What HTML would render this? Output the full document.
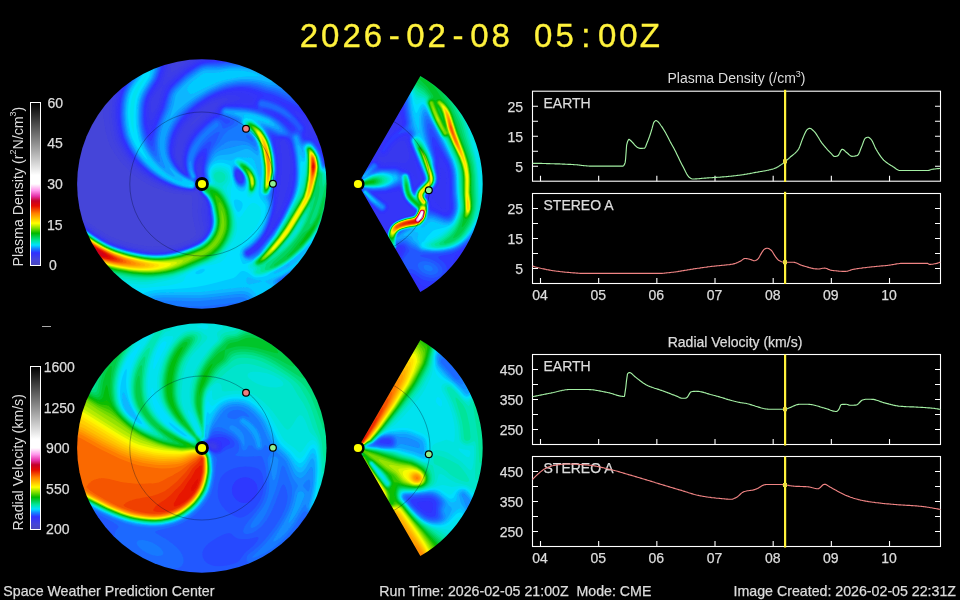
<!DOCTYPE html>
<html><head><meta charset="utf-8"><title>WSA-Enlil</title>
<style>html,body{margin:0;padding:0;background:#000;}svg{display:block;font-family:"Liberation Sans", sans-serif;}</style></head>
<body>
<svg width="960" height="600" viewBox="0 0 960 600">
<rect width="960" height="600" fill="#000"/>
<defs><filter id="sm" x="-5%" y="-5%" width="110%" height="110%"><feGaussianBlur stdDeviation="0.55"/></filter><clipPath id="kd"><circle cx="201.8" cy="184.0" r="124.7"/></clipPath><clipPath id="kv"><circle cx="201.8" cy="448.0" r="124.7"/></clipPath><clipPath id="wd"><path d="M361.30 178.28L420.35 76.01A124.7 124.7 0 0 1 420.35 291.99L361.30 189.72A6.6 6.6 0 0 0 361.30 178.28z"/></clipPath><clipPath id="wv"><path d="M361.30 442.28L420.35 340.01A124.7 124.7 0 0 1 420.35 555.99L361.30 453.72A6.6 6.6 0 0 0 361.30 442.28z"/></clipPath></defs>
<g clip-path="url(#kd)"><g filter="url(#sm)"><rect x="72" y="54" width="259" height="259" fill="#4a46c0"/><path fill="#4946c4" d="M75.1 57.3l253 0 0 253-253 0z"/><path fill="#4846c8" d="M75.1 57.3l253 0 0 253-253 0z"/><path fill="#4846cd" d="M75.1 57.3l253 0 0 253-253 0z"/><path fill="#4746d1" d="M75.1 57.3l253 0 0 253-253 0z"/><path fill="#4646d5" d="M75.1 57.3l253 0 0 253-253 0z"/><path fill="#4545d9" d="M75.1 57.3l253 0 0 253-253 0z"/><path fill="#4242de" d="M126.7 57.3l164.1 0 5.6 5 5.7 5.9 5 6 4.9 6.6 11.8 21.5 1.1 3 .6 3 .1 9 1 1.9 1.5 .8 0 153.5-13 0-5.5 .8-3 1-4 2.1-3.6 2.4-1.2 1.5-.3 1 .2 1 3.7 7.5 3.5 10 1.1 4.5 .5 5-231.4 0 0-90.8 5.5-.1 3 .7 2.5 .9 3 1.7 8.4 6.1 7.1 4.5 5.5 3 7.2 3 7.8 2.5 8.2 2 7.5 1.5 6.8 1 6.5 .4 8.5-.2 6.5-.7 5.3-1 7-2 8.3-3 4.2-2.5 1.4-1.5 .6-1.5 0-2.5-2.4-10.5-1.1-7-.4-8 .5-9-.5-1.5-.7-.5-1.8-.5-9.9-.8-6-.8-9-2.2-5.5-1.8-6.5-2.7-5-2.5-5-2.9-6-4.2-5-4-4.5-4.2-4.7-4.9-4.1-5-3.9-5.5-3.5-6-1.9-4-1.8-5.5-1.5-6.5-1.3-7-.7-6.5-.2-4.5 .3-7 1.5-11.5 2.6-9.5 3.4-7.5 5.6-8.5z"/><path fill="#4040e2" d="M133 57.3l38.2 0 2.4 6.8 1 1.3 1 .3 1.5-.3 2.5-1.1 10.9-7 89.6 0 6.5 4.3 8 7 7.7 8.2 6.8 8.5 7.6 13 2.9 6.5 1.1 6.5-.6 8 .5 3.1 1.2 1.9 1.8 1.7 2.5 1.3 2 .3 0 140.2-11 .1-3 .5-3 .9-4.5 2.1-7 4.4-4.4 3-1.8 2-.3 1 .3 1.5 4 6.5 3 7.5 2 7 .8 6-228.1 0 0-88.1 5-.1 5 1.4 2.5 1.4 8.1 5.9 7.8 5 6.7 3.5 6 2.5 7.9 2.5 10.1 2.5 7.9 1.5 7 .9 7.5 .3 8.5-.5 7.9-1.2 7.5-2 9.6-3.4 6-3 2-1.6 1.4-1.5 1.1-2 .4-1.5 .1-3.5-2.3-9.5-.8-6.5 0-5 .9-9-.8-3.4-1.5-3.2-1-.3-3.5 .4-9.5-.6-5.5-.7-5.5-1.3-5.5-1.6-6.5-2.5-6.5-3.1-6-3.4-5-3.4-5.5-4.4-4.5-4.1-5.1-5.4-4-5-3.8-5.5-3.1-5.5-2.4-5-1.5-5-1.5-6.5-1-6.5-.7-7.5 .3-11.5 1.6-10 2.8-9 3.6-7 4.7-7z"/><path fill="#3d3de7" d="M135.8 57.3l32.7 0 1.5 5 .6 8 .5 1.1 1 .5 1.5-.3 2-1 13-9.1 7-4.2 77.3 0 5.2 2.3 3 1.7 8.5 6.5 5.4 5 5.1 5.4 5.2 6.1 2.5 3.5 6.5 11 1.9 4 1.1 3 1.1 6.5-.2 3-1.1 6 .5 3 1.7 2.5 2.8 2.5 3 1.6 3 .7 0 132.9-9.5 .2-3 .6-3 1-6 3.3-11.5 7.5-2.9 2.2-1.1 1.5-.3 1 .4 1.5 4.3 6.5 2.8 6.5 2.6 8.5 .7 5.5-226.5 0 0-86.9 4.5-.2 2.5 .5 2.5 .9 2.5 1.4 9.4 6.8 7.2 4.5 5.8 3 7.3 3 9.8 3 8.7 2 9.3 1.6 7 .7 9.5 0 10-1.2 8.5-2.1 10.2-3.5 6.4-3 3.4-2.5 2.5-3 1.6-4 .2-4-1.9-9-.5-5 .1-4 1.3-7-.8-2.5-2.8-5-1.7-3.8-1-.4-2.5 1-2 .3-5-.2-6.5-.7-6.5-1.3-7-2.1-6-2.4-6-2.9-6-3.4-5-3.5-5.5-4.4-4.6-4.2-4.9-5.3-3.7-4.7-3.7-5.5-3.2-5.5-2.5-5.5-1.5-5-1.3-6-1-6.5-.6-7 .3-11.5 1.6-9.5 2.8-9 3.1-6 3.9-6 10.6-13.5zM203.1 113.6l-1.2 .2-1.8 1-4.3 3.5-4.4 5-1.6 3 .3 .2 1.5-.9 6.3-5.8 4.5-4.5 .7-1z"/><path fill="#3b3beb" d="M137.7 57.3l28.9 0 1.2 3.5 .5 3.5-1 11.5 .3 1.1 1 .6 2-.6 2-1.3 10.5-8 8.5-5.9 4.5-2.6 4.3-1.8 66.3 0 5.9 2.2 5.5 2.5 8 5.5 5 4.3 6 6 6.7 7.5 3.5 5 6.3 11 1.3 3 1.1 4 .6 3 .1 2.5-.5 3-1.8 5.5 0 2 .5 1.5 2.2 3 4.1 3.5 3.4 1.8 3.5 .8 0 126.8-8.5 .4-3 .8-3 1.2-5 2.8-17.5 11.9-1.5 1.6-.5 1.4 .4 1.5 4.7 6.5 2.7 6 2.7 8.5 .8 6-225.3 0 0-86.1 2.5-.2 2.5 .1 4.5 1.4 11.9 8.3 6.4 4 6.8 3.5 7.4 3 8.5 2.6 10 2.3 9 1.6 8 .7 9.5-.1 8.6-1.1 8.4-2 11.5-4 6.4-3 3.6-2.6 3.1-3.9 1.9-4.7 .4-4.8-1.5-12 .5-7.5-.2-3-.7-2.5-4.4-6.5-1.6-4.3-.5-.4-3.5 1.8-2.5 .4-6.5-.4-8-1.3-5.5-1.5-7-2.5-6.5-2.9-6.5-3.7-5-3.3-5.5-4.3-5-4.6-4.3-4.5-4.5-5.5-3.4-5-3.5-6-2.7-6-1.5-5-1.3-6-1-6.5-.5-7 .4-11 1.5-9.5 2.5-8 3.1-6 5-7.5 9.4-12zM217.9 102.3l-2.3 0-4 1.5-4.4 2.5-8.2 5.5-4.8 4-4.1 4.2-3.5 4.3-3 4.2-3 5.4-2 4.7-2.5 10.7-.2 4 .5 3.5 1.2 3.3 2 2.7 .5 .1 .5-1.1 1.1-9.5 1.6-7.5 2.5-6 1.5-3 4.7-6 6.6-6.9 9.6-8.6 6.1-4.5 3.5-5.5 .5-1.5z"/><path fill="#3939ef" d="M139.2 57.3l25.9 0 1.3 3.5 .4 3.5-.4 4-3.9 17-.5 1-4.4 4.6-3 3.8-2 3.4-1.5 3.9-.6 3.3 0 4 .6 2.5 1 1.2 1-.2 1.5-1.5 3.2-6 1.7-5.5 2.9-13 .6-1 19.1-15.6 9.5-6.8 4-2.4 3-1.5 4-1.3 4.2-.9 53.8 0 7.5 2.3 6 2.4 4.5 2.2 4.5 3.1 4.9 4 6.9 6.5 5.6 6 3 3.5 3.7 5.5 3.4 5.9 2.2 4.6 1.5 4.5 .8 4 .1 2-.5 2.5-3.4 7 0 1.5 .6 2 1.3 2 1.7 2 5.2 4.4 4 2.2 4 .8 0 120.6-7 .6-3 1-3.5 1.6-4.5 2.8-20.5 14-1.5 1.7-.4 1.3 .4 1.5 4.9 6.5 2.8 6 2.7 8.5 .9 6-224.3 0 0-85.4 4.5-.2 4.5 1.2 2 1.2 10 7.2 6.4 4 6.8 3.5 7.4 3 7.9 2.5 11 2.6 8 1.4 9.5 .8 10.5-.2 8.5-1.2 7.5-1.9 11.5-4 6.3-3 4.2-3.1 3.1-3.9 1.4-2.8 1-2.8 .5-2.9 .1-4-1-9 0-6.5-.5-3.5-1.4-3.5-4.5-6-.8-2-.9-3.8-.5-.6-3 2.4-2.5 1-5.5-.2-6.5-.9-6.5-1.5-7.5-2.6-7-3.1-6-3.4-5.5-3.6-5.5-4.2-4.4-4-4.8-5-4.5-5.5-3.5-5-3.2-5.5-2.8-6-1.5-4.5-1.5-6.5-1-7-.5-6-.1-5.5 .4-6 1.5-9.5 2.5-8 3.1-6 4.7-7 10-13zM228.1 98.8l-1.1-.5-2.4-.3-5.5 .8-5.5 1.9-5.8 3.1-8.2 5.5-5.5 4.4-6.1 6.1-4.7 6-3.2 5.2-2.7 5.8-1.3 4.4-1.6 8.6 .1 4.5 1 4.5 2.4 5 2.6 3.1 1 .5 .6-.6 .3-11 1.7-8.5 2.2-6 2.9-5.5 4.8-6 6.2-6.5 8.8-7.7 5.5-3.8 4-5.5 2-2.2 3-2.1 4.1-1.7 .6-.5zM199.6 178.9l-1 1.9 0 1.3 .5 .8 .5-.5 .6-1.6 0-1.5z"/><path fill="#3636f4" d="M140.6 57.3l23.1 0 .9 2 .7 2.5 .2 3-.5 3.5-1.6 6.5-1.8 5-1.8 4-7.7 11.6-1.4 2.9-1.4 4-.7 4.5 0 5.5 .6 5 .8 2 .6 .5 1 0 1.5-1.5 3.7-6.5 2.8-6.5 4.1-14 1.8-3.5 1.8-2.5 4.8-4.7 8.5-7.5 9.5-7.2 8-4.8 4-1.5 4-.9 13.3-1.4 33.9 0 7.3 1.6 7 2.1 6 2.3 4.5 2.3 8.9 6.7 6 5.5 5.6 5.9 3.6 4.1 3.7 5.5 5 9.5 1.5 4 1.4 5.5-.1 2.5-1 2.5-1.6 2.1-2.7 2.4-.4 1 .3 2 1.8 5.1 1 1.8 1.4 1.6 7.6 6.1 4 2.1 4 .8 0 112.9-3 .4-2.5 .8-6.5 3.3-26.4 18.1-1.9 1.5-1.1 1.5-.2 1 .3 1.5 5.2 6.5 2.5 5 3.1 9.5 .9 6-223.4 0 0-84.9 4.5-.2 4.5 1.3 11.1 7.8 7.2 4.5 6.7 3.5 7.5 3 9.5 2.9 11 2.5 9 1.4 8 .6 10.5-.4 9.4-1.5 8.8-2.5 11.8-4.5 5-2.8 3.7-3.2 3.3-5 1.7-4.5 .6-3 .1-4-1.6-16.5-.9-3-1.4-2.8-4.5-5.7-1.2-4 .1-3.5 1.8-4.5 .4-2-1-8-.3-6.5-.5-1.5-.3-.2-.5 .2-.5 .5-1.1 3-.1 4.5 1.1 4 .2 1.5-1.1 4 .2 4.5-.8 2-1.3 1.5-2.1 1.4-3 .3-8-.9-8.5-2-8.5-3.1-8-3.9-7.5-4.7-8-6.3-6.5-6.3-6.1-7.5-5.2-8-3.8-8-1.5-4.5-1.3-6-1.5-12-.1-4 .2-7 1.6-10.5 2.5-8 3-6 4.7-7 9.5-12.2zM239.1 97l-1.2-.7-2.8-.7-7.5-.4-7 1.3-7.5 2.8-7 3.9-9.5 6.7-6.6 5.9-5.4 6-4.5 6.4-3.5 7-1.6 5.1-1.7 9 .3 5.6 1.4 4.9 2.9 5.5 1.7 2.2 2 2 1.5 .6 .6-.8-.5-7 0-4 .6-5 1.4-5.5 1.2-3.5 2.5-5.5 3.7-5.3 5.4-6.2 5.6-5.4 6.6-5.6 5.4-3.6 3.5-5.4 2-2.1 3.5-1.8 7-1.1 6.3-2 1.9-1.5-.1-1zM283.1 139.9l-1 .2-1 .6-.8 1.6 1.8 15.5 .3 6.5-.2 6-1.3 12.5-4.6 29.5 .2 .5-.3 .5 .4 1 1.1-1.5 1.9-3.7 4.6-10.8 4-15 1.7-12 .1-11.5-1.5-10.5-1.2-4-2.1-4-.9-1z"/><path fill="#3434f8" d="M141.9 57.3l20.5 0 1.3 2.5 .7 3 0 2.5-.8 4-1.4 5-1.9 5-1.9 4-7.7 12-1.8 4-.9 3-.9 6.5 .2 9.5 1.2 5.5 .6 1.1 1 .7 1-.3 1.5-1.8 5.2-10.2 3.1-7.5 4-13.5 1.7-3.5 2-2.8 10.5-10.1 8.8-7.1 9.2-5.9 3.5-1.6 4-1.1 22-2.5 12.5-.4 6.5 .4 7 .9 7.5 1.5 6 1.8 6 2.3 5 2.4 9 6.6 6 5.5 6.3 6.6 2.5 3 3.7 5.5 2.9 5 2.1 4.5 1.3 4 1.4 5.5 0 1.5-.5 1.5-1.1 1.5-1.1 .9-3 .9-3.6-.3 3.9 8 .9 7.5 .9 1 4.4 2.2 3 2.2 12 12.3 0 97.4-27 20-13 8.7-1.4 1.2-1.2 1.5-.2 1.5 .3 1 5.4 6.5 2.6 5 3.2 9.5 .9 6-221.1 0-.1-27-.4-5-1-3.7 0-48.7 4.5-.3 2 .4 2.5 1 11.1 7.8 7.2 4.5 7.7 3.9 6.5 2.6 8.5 2.6 12 2.8 9 1.4 8 .6 10.5-.4 9.2-1.5 9-2.5 11.8-4.5 5.5-3 3.5-3.1 3.4-4.9 2.1-5 .7-4 .1-3.5-1.8-16-1-3.1-1.6-2.9-4.5-5.5-.6-1.5-.6-2.5 0-2 .4-2 1.9-4 .5-2-1-9 .6-9-.1-1.5-.5-1-1-.2-1.5 1.1-1.5 2.5-1 3.1-.3 3 .2 3 1.5 5.5-1 4 .2 4.5-1.1 2.5-2 1.7-2.5 .7-6.5-.6-6.5-1.2-8.5-2.7-10-4.5-8.5-5.1-8-6.3-6.8-6.5-6.5-8-5.1-8-3.8-8-1.4-4.5-1.2-5.5-.9-6-.6-7-.1-5.5 .4-6 1.7-10 2.3-7 3.1-6 4.4-6.4 9.5-12.4zM252.3 96.8l-1.7-1.1-4.5-1.9-3-.8-4-.6-4 .1-7 .7-5.5 1.1-8.5 3.2-8 4.3-10 7-8.5 7.8-3 3.2-3.1 4-4.4 7.5-2.9 7.5-1.7 8-.1 6 .4 3 .9 3 2.7 5.5 4.2 5.5 3 2 1 0 .3-.5-.8-7-.1-5 .7-6 1.5-5.5 2.2-5.5 2.7-5 3.8-5 4.7-5.1 5.5-5.2 5.5-4.6 5.6-3.6 .9-1.1 2.7-4.9 2.8-2.5 3.5-1.2 14.5-1 9 0 1.4-.3 1.3-1 .8-2 .1-1.5zM283.6 138.9l-2 0-1.9 .9-1.5 1.5-.6 1.5 .1 3.5 1.4 9 .6 8 .1 7.5-.5 6.5-2.8 24-1.1 7-1.6 7-4.1 13.5-.1 1.2 1.1-.7 1.2-1.5 4.4-7 3.8-7.3 6-13.2 3.2-9 2.2-10.5 .8-7.5 0-6.5-.5-8.5-1.2-8-1.1-4.5-1.4-3-2.4-3zM302.4 117.8l-.4 0 .1 .3zM238.1 172.2l-.8 .6-.4 1 .3 3 1.4 2.6 1 .7 1 .2 .8-.5 .5-1 .1-1.5-.3-1.5-1.6-2.6-1-.7z"/><path fill="#3131fd" d="M143.1 57.3l18.1 0 1.6 3 .6 3-.1 2.5-1 4.5-2.6 7.5-2.1 4.5-8 12.6-1.9 4.4-1 3.5-.8 7 .2 11.1 .6 3.9 .9 3 1 1.8 1 .7 1-.1 1-.9 2.7-5 7.3-17 4.4-14.5 1.6-3.3 1.9-2.7 8.5-8.5 8.6-7.2 10.5-7 3.5-1.7 3-.9 4.5-.7 10.5-.8 8-1 12.5-.4 7.5 .4 6 .8 6 1.2 7 2 9.5 3.9 4.5 2.8 4.7 3.6 6.1 5.5 8.7 9.2 4 5.8 3.5 6.4 2 5.1 1.8 7.5-.3 2.2-1.5 1.4-2 .1-9.5-5.6-3-.8-.8 .7 2.3 3.4 7.5 9 2.1 3.1 .6 3-1.1 5 .4 2 1.5 1.2 4 .9 2 .8 3.3 2.6 2.9 3.5 2.8 4.3 2.4 4.7 2.4 6.5 1.7 1.5 0 81.2-5.1 6.8-6.7 6.5-15.3 12-14.3 9.5-1.6 1.5-.7 1-.2 1.5 .6 1.5 5.2 6 2.8 5 3.1 9 .8 3.5 .2 3-219 0-.3-31.5-.9-6.5-.6-1.8-1-1.6 0-42.6 4.5-.3 4 1.2 11 7.7 7.9 4.9 6.8 3.5 8.8 3.4 9 2.6 11 2.5 10 1.4 8.5 .4 9-.5 10-1.8 11.2-3.5 9.8-4 4.8-3 3.6-3.5 3.1-4.8 1.9-5.2 .6-3.5 0-4-2-15.2-1.1-3.3-1.8-3-4.3-5-.9-2-.3-2 .3-3.5 2.5-5 .4-1.5-1-9.5 1.3-10.5-.1-2.5-.5-1.2-.5-.4-1 0-2.5 2-2 3.4-1.2 3.7-.3 3 .2 3 1.6 6.5-.9 3.5 .3 4.5-.8 2.5-1.9 1.9-2 .7-5-.4-5.5-.9-9.5-2.6-9-3.9-9.5-5.5-8-6-7.2-6.8-6.7-8-5.1-8-4.1-8.5-1.4-4.5-1.4-6-.8-5.5-.6-7 0-5.5 .3-6 1.8-10 2.1-6.5 3.1-6 4.8-7 8.9-11.5zM256.8 94.8l-2.2-1.3-4.5-1.6-4-1-4-.5-6.5 .1-8.5 1.2-4 1.1-9.2 3.5-7.8 4.2-11 7.7-8.2 7.6-3.7 4-2.6 3.4-4.5 7.6-2.9 7.5-1.5 7.5-.2 7 .5 3 .9 3 3.2 6.3 4 5 4 3 1.5 .3 .3-.6-1.3-10 .1-4.5 .5-3.5 1.1-4.5 1.6-4.5 2-4.5 2.1-3.5 5.1-6.5 7-7.1 7.5-6.3 5.5-3.2 .9-1.4 1.7-4 1.5-2 2.4-1.7 2.5-.6 14-.2 11 .8 2-.2 1.2-1.1 3.2-7.5 0-1zM284.6 138.3l-2.5-.3-3.7 .8-2.4 1-.8 1.5 .1 2.5 2.5 15 .6 12-2.1 19.5-1.1 13-1 6-1.8 7.5-3.7 11-3.3 7-3 5-2.3 3-5.5 5.4 0 .5 .5-.1 1.7-1.3 .3-.6 .5-.1 7.5-7.8 4.6-5.5 5.2-7.5 4.6-8 6.6-13.3 3-6.9 2-6.2 1.7-8.1 .8-8.2 0-8.3-.8-9.5-1.2-7.8-1.8-6.2-1.1-2-1.3-1.5zM237.6 171.1l-.9 .7-.5 1.5 0 2 .4 2 1 2.2 1 1.2 1 .6 1.5 .1 1-.7 .6-1.4 .1-1.5-.4-2-.8-1.7-1.5-1.8-1.5-1.1zM254.1 248.6l0 .7 .4-.5z"/><path fill="#2d38ff" d="M144.3 57.3l15.6 0 1.8 3 .7 3 0 2-.7 3.5-2.9 8.5-2.1 4.5-8.2 13-1.9 4.5-1 4-.8 8 0 7.5 .3 4.5 1.6 7 1.4 3.6 1.5 1.9 1-.1 1.5-2.3 10.5-25.6 4.3-14.5 2.8-5 5.9-6.4 9.7-8.6 11.6-8 2.7-1.4 3-1.1 5-.9 11.5-.8 7.5-.9 12.5-.4 6 .3 7 .9 6 1.2 6 1.6 5.5 1.9 5 2.2 4.5 2.9 4.5 3.5 6 5.3 5.5 5.7 3.8 4.5 2.9 4.5 3.2 6.5 1.8 5.5 .4 2-.2 .5 .3 .5-.3 .5 .2 1-1.6 1.3-3.5-1.1-9.5-5-7.5-2.9-5.5-2.5-2-.4-1-.6-.7 .7 2.2 .9 7 4.7 9 8.7 6.7 7.7 2.8 3.6 .8 1.9-.1 2-1.3 4 .1 2.4 .5 1.3 1.5 1.3 4.5 .6 2 .6 2 1.1 1.3 1.2 2.7 3.5 2.8 4.5 2.1 4.5 2.5 7 1.1 1.2 2 .6 0 76.5-5.7 8.7-3.4 4-4.1 4-11.8 9.7-7 5.1-10.4 6.7-2.3 2.5-.3 1.5 .6 1.5 5.4 6 2.9 5 3.3 9.5 .9 6-217.3 0 0-24-.3-9-.5-4-.8-3.5-1.1-2.5-1.1-1.4 0-39.3 4.5-.2 4 1.2 11 7.7 7.2 4.5 7.3 3.8 8 3.2 10.4 3 11.4 2.5 10.7 1.4 7 .3 9-.5 9.5-1.7 10-3 6.5-2.4 4.8-2.1 5-3 3.7-3.5 3.5-5.3 2-5.2 .6-4 0-3.5-1.4-12-.7-3.2-1.2-3.3-1.8-3.1-4.6-5.4-1-3.5 .4-3.5 2.8-5 .5-1.5-1-9.5 .3-3.5 1.7-9.5-.1-2.9-.7-1.6-.8-.4-1.5 .4-2.5 2.2-2 2.9-2 4.9-.5 2.5-.1 4 .4 2.5 1.6 5.5-.9 3.5 .4 4-.6 2.5-1.3 1.7-2 1-2.5 0-5-.6-9.5-2.2-9.5-3.7-9.5-5.2-9-6.5-8-7.3-6.5-7.7-5.2-8-4.6-9.5-1.4-4.5-1.2-5.5-.9-6-.5-6.5 .3-11 1.6-10 2.2-6.5 3.1-6 4.7-7 9.3-12zM262.7 94.8l-2.6-1.7-4.5-1.9-5.5-1.6-4-.7-7.5-.3-11 1.7-7 2.1-6.5 2.6-4.5 2.2-10 6.4-8.5 6.7-7.6 7.5-4.9 6.5-2.6 4.5-1.9 3.9-2.4 7.6-.8 4.5-.4 4 .2 4 .7 3.5 1.4 4 1.5 3 1.9 3 2.8 3.5 2.6 2.4 2.5 1.7 2 .9 .9-.5-.1-1.5-1.5-7.5 0-7 .6-3.5 1.1-4.5 1.7-4.5 1.9-4 2.1-3.5 2.8-3.7 7.7-8.3 8.8-7.6 6-3 .8-1.4 1.4-4.5 1.8-2.4 2-1.2 2.5-.4 14.5 .2 13.5 1.2 .9-.4 .3-.5 .6-3.5 1.1-2.5 2.1-2.1 3.8-1.9 .1-.5zM273.1 98.6l-.4 .2 .4 .3 .4-.3zM273.8 98.8l.8 .9 .5-.3 .5 .6 .4-.2-.4-.6zM237.1 170.3l-1 1-.5 1.9 0 2.1 .6 2.5 1 2 1.4 1.8 1.5 .8 1.5-.1 1.1-1 .6-2 0-2-.6-2-1.1-2-1.5-1.7-1.5-1.1zM273.6 113.8l0 .5 11 8.1 6 5.4 1.1 0-.2-1-1.8-2.5-4.6-4.6-6-4-3.1-1.4zM285.7 137.8l-3.1-.6-5 .3-3-.3-1 .4-.3 .7 .3 3.5 2.8 14 .8 7.5 .2 7-.7 7.5-1.9 13-.3 12-1.4 8-1.9 7.5-2.2 6.5-1.9 4.5-2.5 5-3.7 5.5-3.8 4.2-3.5 3.3-6.5 4.6-.5 1.4 1 1.1 1-.1 3-1.5 6-4.3 5.1-5.2 8.9-11 4.7-7 4.8-8.3 7-14.2 3-7.5 2-7.7 1.3-8.8 .3-8.5-.6-9.5-1.5-10.5-1.9-7.5-.9-2-1.2-1.4z"/><path fill="#2849ff" d="M145.6 57.3l13 0 2 2.7 .9 3.3-.1 2-.9 4.5-2.5 7-2.1 4.5-6.5 10-2.2 4-1.9 5-1 5-.5 5-.1 7.5 .2 4.5 .7 5 2.7 9.5 1.8 3.2 1.5 1 1-.7 .7-1.5 4.3-13.5 7.3-18 3.6-12.5 2.6-5.4 2-2.5 4-4.1 9.5-8.5 10.8-7.5 2.7-1.6 3-1.2 6.5-1.2 11-.5 9-1.1 9.5-.3 7 .4 6 .7 5.5 1 6 1.5 5.5 1.9 6 2.6 7 4.7 4.3 3.6 5.7 5.5 4.5 5 3.9 5.5 2.6 5.5 1.5 4.5-.3 .5 .3 .5 .1 1.5-2.1 1.6-.5-.4-1 0-1.5-.8-.5 .1-.5-.5-.5 0-14.5-7-6.5-2.8-5.5-1.9-5-1.1-9.5-3.6-6.5-1.7-7.5-.6-7 .5-10 2-8 3-9.5 4.6-9 5.9-6.7 5.2-9.4 9-5.1 7-4.2 8-2.3 7-1.2 8.5 .2 5 .8 4 1.8 4.5 1.7 3 3.2 4.5 3.5 3.5 3.7 2.6 2 .9 1 0 .4-1-1.5-6.5-.6-5.5 .4-5.5 1.2-5.5 2.5-6.5 3-5.5 4.2-5.5 4.4-4.9 5.5-5.2 6-4.9 2-1 3.5-.9 1-.6 .4-1 .2-3.5 .6-2 1.3-2 1.5-1.1 2.5-.7 13.5 .4 6.5 .5 9 1.4 2.5 .1 .7-.6-.8-3.5 .3-2.5 1.3-2 1-.8 1.5-.5 3.5 .4 7.5 2.2 6.5 2.9 4.5 2.6 3.5 2.5 4 3.6 5.3 5.6 6.2 7.8 .5 1.2-.2 2-1.5 3.5 .6 3.5 .8 2 .8 .8 1 .4 4 .2 2 .3 2 1 1.5 1.2 3.5 4.7 2.5 4.4 1.9 4.5 1.8 5.5 .8 1.5 1 .6 2.5 .5 0 73.2-3.6 6.2-3.1 4.5-3.3 4-4.5 4.7-11.7 9.8-7 5-9.6 6-1.9 1.5-1.1 1.5-.3 1.5 .5 1.5 6.1 6.5 2.6 4.5 3.3 9.5 1 6-215.7 0 0-25-.5-9.5-.5-4-1-3.5-1.2-2.7-1.5-1.9 0-36.8 2.5-.3 2 .1 4 1.2 10.5 7.4 7.9 5 7.6 3.9 6.5 2.6 11.5 3.4 12 2.6 9 1.2 8 .3 9-.5 10.5-1.9 11.4-3.6 9.6-4 4.9-3 3.6-3.5 3.5-5.3 2-5.2 .6-4 .1-3.5-2.2-14.9-1.3-3.6-2.1-3.5-4.4-5-1-3.5 0-2 .6-2 3-4.5 .5-1.5-.9-7-.1-3 .4-3.5 1.7-7 .7-4.5 .2-4-.3-1.5-.4-.5-1.1-.1-1.5 .6-1.5 1.1-2.4 2.4-2.9 4.5-1.8 4.5-.6 4 .1 3.5 .4 2.5 1.7 5-.2 1.5-.8 2.5 .5 3.5-.3 2.5-1.2 1.8-1.5 .9-1.5 .3-3.5-.3-9.5-1.8-10-3.6-9-4.6-9.8-6.7-8.2-7.3-3.9-4.2-3.6-4.5-5.6-8.5-4.5-9.5-1.4-5-1.3-6-1.1-11.5 .3-10.5 .6-5 1.1-5 2.2-6.5 3.4-6.5 4.2-6 8.9-11.5 3.5-6zM236.6 169.7l-1 1.2-.5 2.4 .2 2.5 .6 2.5 1.2 2.3 1.5 1.7 1.5 .8 1.5 0 1.2-.8 .9-2 .1-2.5-.7-2.5-1.5-2.6-2-2-1.5-1zM262.1 109.8l.2 .5 1.5 1 7.8 3.9 7.5 4.8 4.5 3.7 5.3 5.6 2.2 1.9 2 .2 2.1-1.1 .3-1-.5-1.5-1.3-2-6.1-6.1-6-4.2-5-2.7-5.5-2.1-5.5-1.2-2-.1zM287.6 137.5l-4-.9-6-.4-5-1.5-.6 .1-.5 .5 .1 2.5 2.3 9 1.8 9 1 12 0 3-.7 7-2.4 13.5 .2 10.5-1.1 8-1.6 6.5-2 6.5-1.8 4.5-2.4 5-3.4 5.5-4.7 5.5-5.2 4.6-5.4 3.9-.4 1 .1 1 1.2 1.3 1.5 .1 5.5-2.8 3.5-2.6 4.4-4.5 9.8-12 5.3-7.8 4.5-7.8 6.5-13 3.5-8.4 2-7.1 1.4-8.4 .4-8.5-.3-8.5-1-9-2-10.5-1-3-1-1.9-1-1.2z"/><path fill="#2259ff" d="M147 57.3l10.2 0 1.4 1.3 1.1 1.7 .9 3.5-.7 4.5-2.3 7.1-2.5 5.4-6.4 10-2.7 5-1.8 5-1.1 6-.3 13 .4 5 .7 4.5 1.7 6.8 1.6 4.2 2.4 4.3 2 1.9 1-.3 .5-1.1 1.8-10.3 2.3-8 7-17 1.6-5 2.6-9.5 2.2-4.8 2-2.7 3.5-3.6 9.8-8.9 9.1-6.5 6.1-3.4 3.5-1 3.5-.5 10.5-.4 8.5-1 9.5-.4 6 .1 7 .7 6 1 5.5 1.4 5.5 1.8 5.5 2.2 2.5 1.2 4 2.8 6 4.9 4.7 4.6 5.3 6 2.3 3.5 1.9 4 0 .5 .3 .5 .6 2.5-.5 .5 .4 .5-1.5 1.6-.5 .1-3.5-.8-3.5-1.3-14.5-6.5-5-1.6-5-1.2-9-3.2-7.5-1.7-7-.5-8.5 .8-10 2.2-9 3.6-9.5 4.9-9.5 6.5-6.5 5.4-6.5 6.1-2.5 2.8-5 7.3-3.7 7.5-2.1 7-1 8 .3 5 .9 4 1.5 4 2.6 4.5 4 5 2.7 2.5 5.3 3.5 1.5 .5 1 0 .4-1-1.8-6.5-.5-3.5 .1-6.5 1.6-7.5 3.2-7.5 3.5-5.6 5.7-6.9 6.3-6.1 7-5.7 3-.8 3.5 .4 1.5 .9 2.5 2.6 1.5 .7 1.5-.1 2-1.1 .5-1.3-.7-1-1.6-1-4.7-1.5-1.2-1.5-.7-2-.1-2.5 1-2.5 1.8-1.5 2.2-.6 14.5 .6 8.5 1 9.5 2 7 2.7 6.5 3 7.5 5.1 5 4.7 6 7.1 1 .1 5.5-1.6 1.5 .1 1.7 2.8 1.3 4 1.5 1.9 1.5 .4 3.5-.2 2.5 .4 2.5 1.5 1.8 2 2.7 4 2.4 4.5 3.6 10.1 1.5 1.3 3 .3 0 70.5-3.8 6.8-3.7 5.5-4 5-4.4 4.5-5.6 5-6 4.8-6 4.3-10.5 6.5-1.7 1.4-1.2 1.5-.3 1.5 .5 1.5 6.2 6.5 3 4.9 3.2 9.1 .9 6-214 0-.1-25.5-.5-10-.8-4.5-1.1-3.5-1.5-3-1.6-1.7 0-34.9 4-.3 4 1.1 11.2 7.8 8 5 7.3 3.7 9 3.4 10 2.8 11 2.4 9 1.2 8 .3 9-.5 10.5-1.9 10.5-3.3 10.5-4.2 5-3.1 4-3.8 3.5-5.4 1.9-5.1 .7-4 0-3.5-2.1-14.5-1-3.1-1.5-2.9-1.7-2.5-3.1-3-1-1.5-.8-3.5 .2-2 .5-1.5 3.1-4 .7-1.5 0-2-.9-6.5 .2-4 4-16 2.4-7 .3-1.5-.4-1.2-1.5-.1-2 1.1-5.5 4.8-3.9 4.9-2.9 5.5-1.2 4-.3 3.5 .2 3.5 .4 2.5 1.8 5-.1 1.2-1 2.8 .7 3 0 1.5-.4 1.5-.9 1.5-1.4 .9-1.5 .4-4.5-.5-5.5-1-5-1.4-5-1.8-5-2.3-5.5-2.9-10-6.7-8.2-7.2-3.8-4-3.7-4.5-3.2-4.5-3-5-4.4-9.5-1.5-5-1.1-5.5-.7-5.5-.5-7 .6-11 1.8-9.5 2.2-6.1 3.6-6.4 8.9-12.3 3.9-4.7 3.2-5.5zM236.6 168.9l-1.1 .9-.8 2.5 .1 3 .7 3 1.2 2.5 1.9 2.2 1.5 .8 1.8 0 1.3-1 .9-2 .1-2.5-.6-2.5-1.2-2.5-1.8-2.2-2-1.6zM289.1 136.3l-10.5-1-7.5-2.9-1 .2-.5 .7 .4 2.5 2.3 7 2 8.5 1.2 7 .6 8.5 0 4-.8 7.5-2.9 14.5 .6 9-.8 7-1.2 5.5-1.9 6.5-2.2 6-2.1 4.5-3.4 5.5-4 5-5.3 4.9-6.3 4.6-.5 1 0 1.5 .8 1.4 1 .6 1.5 .2 2.9-1.2 4.1-2.3 2.5-1.9 4.4-4.8 9.7-12 5.4-7.9 5-8.8 6-12 3.7-8.8 1.8-6 1.3-7.5 .6-7.5 0-7-.9-11.5-2-11-1.5-5.5-1.5-3.2zM259.3 101.8l1.3-1.2 1.5-.4 6 1.4 9 3.4 6.9 3.8 2.6 1.9 4 3.5 5.6 6.1 5 7 .3 1-.4 1.3-1.5 1.1-1-.1-1.1-2.8-3.9-4.5-6-5.1-8-5.1-8-3.5-4.5-1.2-6-1-1-.4-1-1-.5-1.2 0-1.5z"/><path fill="#1c69ff" d="M148.6 57.4l6.8-.1 2.1 1.5 1.1 1.5 .7 1.5 .3 2-1.2 6.5-3 8-8.4 13.5-2.4 5-1.8 6-.8 6.5-.2 8 .3 6 .8 6 1.5 6.5 1.9 5.5 2.7 5.5 2.6 3.4 2 1.3 .6-.2 .6-1.5 .6-10.5 1.9-9 2.6-7.5 6-14.5 3.2-12 1.9-4.5 1.7-2.5 3.4-3.7 9.5-8.8 8.9-6.5 6.6-3.8 3-1 3.5-.5 10-.3 9.5-1.1 9.5-.4 11.5 .7 6 .9 5.5 1.3 6.5 2 6.5 2.7 6 4 5.4 4.5 3 3 3.5 4 3.8 5.5-.1 .5 .5 .5-.1 .5 .5 .5 .2 1.5-.3 .5 .4 .5-.3 .7-1 .9-1-.2-.5 .2-3.5-.7-.5-.4-.5 0-12-4.8-10.5-2.8-9-3-7-1.4-7-.4-7 .6-8.5 1.7-5 1.5-8 3.4-8.1 4.2-10.4 7-6.5 5.4-5.6 5.1-3.4 3.6-3 3.9-2.5 4-3.6 7.5-2.2 7.5-.8 8 .3 5 1.2 5 1.8 4 2.8 4.5 4 4.7 3.5 3 4.5 2.8 2.5 1 .7 0 .6-.5 0-1-1.9-6-.7-4.5 0-4.5 .8-5 1.3-4.5 2.2-5 3.2-5.5 3.4-4.5 7.4-8 6-5.3 3.5-2.5 2.5-.3 2.2 1.1 1.5 2 1.3 4.2 1 .5 2.5-.6 4-1.9 2.8-1.7 1.4-1.5 .1-1.5-1.4-1.5-4.4-2.1-4-1.1-1-.6-1-1-.7-1.7 .1-2 .6-1.5 1.5-1.4 2-.5 18.5 1.1 7.5 1.2 8.5 2.3 9 3.7 5 2.9 3.5 2.5 3.5 3 4.5 5.2 1.6 2.5 .3 1-.3 1-.6 .5-1.5 .3-7-.9-5-2.3-3.5-1.3-1.5 .1-.5 .5 .1 1.6 3.1 8.5 2.2 8 1.3 7.5 .8 9 .1 5-.9 7.5-1.1 6.5-2.3 9 0 2 .8 5.5-.4 6-1.4 7-2.4 8-2.4 6-2.6 5-3 4.5-3.4 4-5 4.6-5.6 3.9-1.1 1.5-.2 2 .7 1.5 1.2 1 2 .4 3.5-1.2 3-1.4 3.5-2.7 14-17.1 5.5-8.3 4.5-7.8 5.8-11.4 4.2-9.5 1.7-5.5 1.4-6.5 .7-6.5 .3-7.5-.5-9-.8-7.5-1.8-10-1.9-7 .1-2 .8-1 1.8-1 1.7-.3 1.5 .2 1.8 1.6 1.7 4.5 1.5 1.9 1.5 .4 3.5-.5 2.5 .2 2.5 1.4 1.9 2.1 2.7 4 2.4 4.5 3.6 10.5 1.4 1.1 3.5 .1 0 68.1-3.9 7.2-3.6 5.5-3.8 5-5 5.5-5.7 5.2-6.5 5.2-7 4.9-9.5 5.8-2.3 1.9-1 1.5 0 1.5 .7 1.5 6.1 6 3 4.6 3.2 8.9 .8 3.5 .3 3-212.4 0-.1-26-.6-10-.8-4.5-1.3-4-1.6-2.9-2-2.2 0-33.2 4-.3 4 1.1 11.5 8 8 5 8.5 4.1 7.5 2.8 9 2.6 12 2.6 9 1.2 8 .3 10-.6 9.5-1.8 11.5-3.6 9.5-3.9 4.6-2.7 4.4-4 3.5-5.1 2.2-5.4 .8-4.5 0-3.5-2.1-14.5-1.5-4-2-3.5-4.9-5.5-.7-2-.2-2 .4-2 .7-1.5 3.2-3.5 .7-1.5-.9-7.5 0-4 .8-3.5 3.2-10.5 1.8-4.5 4-6.5 1.7-3.5 2.6-6.5 .1-1-.3-.5-2.1 .4-2.5 1.4-7 5.4-3.5 3.4-3.7 4.4-4.2 6.5-2.4 6-.7 5 .6 6 2.1 6-.2 1.5-1.1 2 .9 3.5 .1 1.5-.4 1.5-1 1.5-1 .6-1.5 .4-4.5-.5-5.5-1.1-9-2.9-10.5-5.1-5.5-3.4-4.5-3.3-8-7-7.4-8.2-3.2-4.5-3.1-5-2.6-5-2.1-5-1.5-5-1.1-5.5-.8-6-.4-6.5 .5-10.5 1.8-9.5 2.3-6.5 3.6-6.3 8.5-11.7 5.2-6.5 2.3-4.2zM236.1 168.4l-1.2 1.4-.6 2.5 .1 3 .9 3.5 1.3 2.7 2 2.2 2 .9 1.5-.1 1.5-1.2 .8-2 .2-2.5-.7-3-1.8-3.4-2.5-2.6-2-1.3zM260 102.8l.6-.7 1-.5 2 .2 7.2 2 6.1 2.5 4.7 2.5 4 2.6 4 3.9 1.7 2.5-.2 .4-.5-.5-.6 .1-.4-.5-.5 0-9-5.3-7-3.1-6-1.8-6-1.1-1.2-1.2-.1-1z"/><path fill="#177aff" d="M125 132.3l-1.7-10-.5-10 .8-10.5 .9-4.5 1.4-5 2.4-5.5 4.4-7 6.6-9 5.3-6.5 2.5-4.4 1.5-1.3 2-.9 3 0 1.5 .5 1.5 1.1 1.6 2.5 .4 3-1.5 6.5-2.5 6.6-8.9 14.4-2.8 6.5-1.1 4.5-.6 4.5-.2 13 .5 6 1.3 6.5 1.3 5 1.9 5 1.9 4 2.7 4.2 3 3.4 2 1.5 1-.2 .3-.9-.3-14.5 1.5-9 2.8-8.5 6.4-15.5 2.8-11 1.5-3.9 2.9-4.1 10.1-9.7 7.5-5.9 8.5-5.4 3.5-1.2 3.5-.6 10.5-.1 9.5-1.1 9-.4 11.5 .7 6 .9 5.5 1.3 6.3 2 5.2 2.1 2.5 1.3 3.5 2.5 5.9 5.1 3.6 3.9 2.5 3.5 1.6 3.6-.4 1 .3 .5-.5 .5-4 0-.5-.4-1.5-.1-9-3-8-1.9-8.5-2.8-8-1.5-8-.4-4.5 .2-6 1-6 1.3-5 1.7-10 4.4-5.5 3-12 8.2-11.7 10.3-4 4.5-2.8 4-2.8 5-2.2 5-1.7 5-.9 4.5-.5 4.5 .1 4.5 .7 4.5 1.3 4 1.9 4 2.7 4 2.9 3.5 3.3 3 4.7 3.2 3.5 1.8 2 .4 .8-.4 0-1-1.8-5-.8-3.5-.3-5.5 1.4-8 1.5-4 2-4 2.3-3.5 5.8-7.5 5.1-5.4 4.5-4.1 5.2-4 .8-.1 1 .4 .6 .7 .4 1-.5 1.5-9.5 7.9-3.7 3.6-3.9 4.5-3.3 5-3.4 7-1.5 4.5-.5 4.5 .5 5.5 1 3.5 1.6 4-.3 1.5-1.5 2 1.4 3 .2 2-.7 2-.9 1-1 .6-3.5-.1-5.6-1-5.9-1.6-5-1.9-5.5-2.5-5.5-3-5.5-3.6-5.1-3.9-4.9-4.3-4.6-4.7-3.4-4-4-5.5-3-4.9-2.5-4.9-2.2-5.2zM328.1 165.9l0 65.9-3.7 7-4.4 7-4.6 6-4.3 4.7-4.5 4.3-7.4 6-7.1 5-10.7 6.5-1.9 1.5-1 1.5 0 1.5 .7 1.5 6.7 6.5 2.7 4 1.6 3.5 1.8 5.5 .8 3.5 .3 3-47.3 0-.6-3.5-1.6-2.6-2.4-1.4-3.1-.4-31.5 3.5-6.5 .5-38.5-.7-2.5 .5-1.5 .7-1.3 1.4-.6 2-73.3 0-.1-26-.8-10.5-1-5-1.4-3.9-1.8-3.1-2.2-2.3 0-31.7 4-.3 4 1.1 11 7.7 7.1 4.5 5.9 3.1 8 3.4 8 2.6 10 2.5 10 1.8 7.5 .8 7 .2 9-.6 8-1.5 8.4-2.3 8.6-3.1 8.3-3.9 4.7-3.5 3.4-4 2.9-5 1.6-5 .5-5-.4-5.5-1.5-9-1.5-5-3-5-4-4.1-.9-1.9-.2-2 .2-2 .9-1.9 3.6-3.6 .6-1 .1-1.5-1-7.5 .1-2.5 .6-3 3.5-10.1 1.7-3.9 1.8-2.7 5.6-6.8 4.7-7.5 4-4 3.7-2.4 5.5-2.8 .7-.8 .4-1-.2-2.5-.7-1-1.2-.9-4.5-2-6.5-1.9-1.5-1-.7-1.2-.2-1.5 .5-1.5 .9-1 2-.6 19.5 1.2 7.5 1.3 10 3.1 7.1 3 6.4 4.2 5.6 5.3 2 2.5 1.4 2.5 0 1.4-.5 .4-3.5 .1-3.5-.8-8-3.6-2-.5-1 .2-.6 .8 .6 2.5 3.6 8.5 1.6 5.5 2 9.5 .9 9 .1 6-1 8.5-1.1 5.5-2.2 7-.7 3.5 1.1 7-.4 6-1.4 6.5-2.2 7.5-2.4 6-3 5.5-3.1 4.5-3.6 4-4.7 4.2-5 3.4-1.1 1.4-.4 1.5 .1 1.5 .8 1.5 1.1 .9 1.5 .6 1.5 0 5-1.5 3.9-2.5 4-4.5 11.3-14.5 5.8-9 7.1-13 6.5-14 1.9-5.5 1.5-6.5 .7-5.5 .5-7.5-.5-10-.7-8-1.6-9.5-1.8-8 .6-2 .8-.7 1.5-.6 1.5 .2 1 .6 1 1.4 1.7 4.6 .8 1 1 .7 1 .1 3-.8 2-.1 2 .4 1.9 1.2 3.6 4.7 2.5 4.3 1.8 4.5 1.9 6.5 .8 1.6 1.5 .7zM246.3 135.3l-.1 1.5 1.2 1.5 4.2 3.1 1.5 .5 .1-1.1-.6-1.5-2-2.5-2.5-1.7-1-.2zM235.9 167.8l-.8 .5-.5 .7-.7 2.8 .1 3.5 .9 3.5 1.4 3 1.8 2.2 2 1.2 2 .1 1.5-1 1.2-2.5 .2-2.5-.6-3-1.7-3.5-2.6-2.9-2.5-1.8z"/><path fill="#128cff" d="M126.8 135.8l-1.3-5.5-1-5.5-.8-11.5 .6-10 .8-4.7 1.2-4.8 2.3-5.6 4.1-6.9 7.4-10.1 4.9-5.9 2.7-4.5 1.4-1.3 1.5-.7 1.5-.2 1.5 .2 2.5 1.5 1.3 2.5-.1 3.5-1.5 6-2.4 6-8.4 13.5-1.7 3.5-1.5 4-.9 4-.7 6-.2 8.5 .3 6.5 .6 4.5 1.7 8 1.7 5 2.2 5 3.2 5.5 3.4 4.4 4 4 2 1.2 1-.1 .1-1-1.7-9-.6-5.5 0-5.5 .8-5.5 1.3-5.5 1.6-5 7.1-17 2.6-10.5 1-3 2.5-4 9-9 7.3-6 9-6 3-1.3 3.5-.7 12-.2 13.5-1.4 11.5 .1 10 1.4 9.9 2.6 5.1 1.9 4.4 2.1 7.6 6.4 3.4 4.1 .1 .6 .5 .4 0 .7 .4 .3-.1 1 .3 .5-.6 1.1-.5 .2-.5-.3-2 .4-.5-.4-.5 .3-.5-.3-1.5-.1-2.5-.8-8.5-1.5-10.5-3.2-4.5-.8-5.5-.5-5.5 0-4.5 .4-10.5 2-7.5 2.6-9 4.2-6.5 3.6-6 3.9-6 4.4-11.6 10.3-3.7 4.5-3.2 5-3.1 6-1.8 4.5-1.4 5-.8 5.5-.1 4.5 .5 4.5 1.1 4.5 2.3 5 2.6 4 2.9 3.5 4.3 3.9 4 2.8 4 2.1 5 1.7 1.5 1.4 .7 1.6 0 2-.7 1.6-1.5 1.1-2.5 .1-6-1-5.5-1.5-4.9-1.8-5.6-2.6-5.5-3-9.5-6.6-5-4.2-4.5-4.4-7-8.5-3-4.4-2.7-4.8zM328.1 166.3l0 63.6-4.3 8.4-4.4 7-4.5 6-5 5.5-5.3 4.9-5.6 4.6-7.9 5.5-11.5 6.8-1.9 1.7-.7 1.5 .2 1.5 .9 1.5 6.6 6 2.9 4 1.6 3.5 1.9 5.5 .8 3.5 .3 3-41 0-.3-3-.8-3-1.1-2.5-1.4-1.9-1.5-1.3-2-1-4.5-.5-39 4-8 .1-28.5-.8-5.5 .3-3.9 1.1-2.5 2-1.8 3-.6 3.5-66.5 0-.1-26-.8-10.5-1.1-5-1.7-4.5-2-3.2-2.5-2.6 0-30.5 4-.3 4 1.2 10.6 7.4 7.1 4.5 6.6 3.5 7.7 3.3 10.5 3.2 8.5 2 9 1.7 7.5 .8 7 .2 9-.7 7-1.2 8.7-2.3 9.8-3.5 7.5-3.5 4.8-3.5 4-4.5 2.7-4.5 1.7-5 .6-5.5-.5-5.5-1.4-9-1.4-4.5-1.2-2.5-2-3-4.3-4.5-.8-2-.1-2 .4-2 .9-1.5 4-3.5 .5-1 .1-1.5-1-6.5 .2-4 1.3-4.5 4-9.2 3-4.1 4.5-3.8 6-4 2.5-1.2 2.5-.7 5.5-.3 8 .7 4.5 1.5 6 4.1 1 0 .3-1-.3-3-2-4.3-3.5-4.1-5.5-3.9-2-2-1.9-3.2-1-4.5-.6-1.3-1-.8-2.5-1.2-11-3.5-.8-1.2-.2-1 .5-1.3 .9-.7 1.1-.2 10 .4 10.5 .8 7 1.4 8.5 2.5 8 3.4 4.5 3 5.5 5 2 2.6 1 2.1-.7 1-.8 .5-1.5-.2-2-.6-6.5-2.9-2.5-.8-3-.5-.9 .5-.1 1 .3 1 4.9 11 1.7 5.5 2 9.5 .9 9 .1 6-1.2 9.5-.9 4.5-3.8 11.5 1.4 6.5-.2 5.5-1.4 6.5-2.3 8-2.5 6-2.5 4.6-3.1 4.4-3.5 4-4.9 4.3-5 3.5-1.2 1.7-.4 1.5 .3 2 .8 1.5 1.5 1.2 1.5 .5 2 .2 4.5-1.2 3.5-2.3 3.7-3.9 5.5-7.5 6.8-8.5 6-9.5 6.6-12 7.1-15 2-6 1.4-6.5 .8-6 .3-6.5-1-17-1.9-12.5-1.2-5.5 0-1 .5-1 .9-.6 1-.2 1.7 .8 2.5 6 .8 1.2 1 .7 1 0 3-1.1 2-.4 2 .3 2 1.2 3 3.6 3 5 1.9 4.5 2.6 8.6 .5 .5 1 .4zM235.6 167.2l-1.3 1.1-.8 3 .2 4 1 4 1.4 3 2 2.4 2.5 1.3 2-.1 1.8-1.6 .9-2.5 0-3-.8-3-1.9-3.5-2.5-2.8-2.5-1.9zM190.1 160.9l.5 0 .3 .9 1.5 8 2.6 6.5-.4 1.5-1.5 .8-1-.4-.5-.8-1.6-4.1-.9-3.5-.1-5.5 .4-2z"/><path fill="#0da1ff" d="M272.1 75l3.3 2.8 3.2 3.5 0 .6 .6 .4-.1 .7 .5 .3-.2 1-1.3 1.1-.5-.2-.5 .4-.5-.3-2.5 .1-6-.7-7-2.2-4.5-1-10-1-5 0-6.5 .7-8.5 1.7-3.5 1-6 2.5-10 4.8-11.5 7.2-5.5 4.1-9.5 8.1-2.7 2.7-3.5 4.5-3.1 5-2.3 4.5-1.9 4.5-1.7 5.5-.8 4.5-.1 5.5 .3 4 1 4.5 1.7 4.5 2.4 4 3 4 3.4 3.5 2.8 2.3 5 3.3 3.5 1.7 5 1.9 1 .7 .8 1.6 0 2-.6 1.5-1.2 .9-1.5 .2-6-1-9-2.7-9.5-4.4-9-5.6-7.5-6-7.5-7.4-6.5-8.5-5-8.5-3.5-8.5-1.5-6.5-1-6.5-.4-6.5 0-5.5 .6-7 .9-5.5 2.2-7 3.8-7 8.6-12 5.2-6 2.9-4.5 1.2-1 1.5-.5 1.5 .1 1.1 .4 1.2 1 .6 1 .3 1.5-.3 3.5-1.4 5.5-2 5.1-8.4 13.4-2.2 4.5-1.3 4-1 5-.5 5.5-.1 9.5 .5 6.5 1.7 9 .9 3.5 2.2 6 2.5 5 3.7 5.5 4 5 5.5 5.3 3 2.2 1.5 .7 .5-.2 .2-.5-4.2-12-1.5-8.5 .1-7.5 1.5-8.5 2.3-7 6.7-16 1.2-4 1.6-7.5 1.1-3 1.5-2.3 3.5-3.8 8-7.6 9-6.7 4.8-3.1 2.2-1 4.5-.8 11.5 0 10-1.3 12-.2 11 1.3 5.5 1.2 5.5 1.7 5 1.9zM328.1 166.7l0 61.2-5 9.9-4.4 7-4.5 6-5.6 6.2-6 5.6-6 4.7-7.5 5-11.5 6.6-1.6 1.4-.8 1.5 .2 1.5 1 1.5 7.3 6.5 2.9 3.8 1.5 3.2 2 5.9 .7 3.1 .3 3-36.7 0-.4-3.5-.9-3.5-1.2-3-1.8-2.7-2-1.8-2-1-2.5-.7-3-.2-5.5 .3-26.5 3.2-8 .6-8 .1-29-.6-7 .4-4 1.4-3.1 2.5-1.3 2-.9 2-.8 4.5-62.2 0-.1-25.5-.3-6-.6-5-1.2-5-1.7-4.5-2.3-3.6-3-3 0-29.4 4-.4 4 1.2 10.9 7.7 8 5 8.1 4 6.5 2.5 8 2.5 10.5 2.5 8 1.4 9 .9 10-.1 8-.9 8-1.8 8-2.5 9-3.5 5.9-3 4.4-3.5 3.7-4.5 2.5-4.5 1.6-5 .5-5-.6-6.5-1.3-8-1.7-5.2-2.9-4.8-4.4-4.5-.6-1.5-.3-2 .3-2 1.1-2 1.3-1.2 2.8-1.8 .8-1 .1-1.5-1-6.5 .2-4 1.2-4 3.4-6.8 3-4.2 2-1.6 2.5-1.4 4.5-1.5 16.5-4.1 4-.5 3.5 .7 2.5 1.4 4 3.2 1.5 .9 1-.1 .5-1.3 0-1.7-1-4.5-2-4.5-3-4-5.8-5-2.2-2.5-2.2-3.5-.8-4.5-.5-1-2.5-1.5-12-4-.5-1 .5-.7 9.5-.2 11 .8 5.5 .8 8 2.3 8 3 4 2.2 5.5 4.7 2 2.6 .6 1.5-1.1 1-12-3.9-2.5-.3-.7 .2-.2 .5 .6 2 3.7 7 2.5 5.5 2.3 8 1.4 7 .7 6.5 .3 8-.4 4.5-1.8 10-2.9 8.5-1.8 3.5 0 1 1.7 5 .1 4-1 6.4-2.4 8.6-3.6 8.5-2 3.5-2.5 3.5-5.5 5.9-3.5 2.9-4 2.7-1.5 1.7-.7 2.3 .2 2 1 2 1.5 1.3 3.5 1 2.5-.2 1.5-.5 5-3.3 3.1-3.3 13.4-17.6 10.5-17.9 8.5-17.5 1.9-5.5 1.6-6.5 .8-6 .4-6.5-.5-15-2.8-21 .2-1 .9-.4 .8 .4 2.3 5.5 1.8 2.5 .6 .4 1 .1 3.3-2 2.2-.5 2 .3 2 1.2 3.9 5 2.4 4.5 1.2 3 2.3 8.5 .6 1 .6 .5 1 .2 2.5-.7zM235.1 166.6l-1.3 1.2-.7 3.5 .2 4.5 1.1 4 1.7 3.4 2 2.3 2.5 1.3 2-.1 1.9-1.4 1.1-2.5 .1-3-.7-3.5-1.9-3.6-3-3.5-3-2.3zM190.6 168.9l.5 .4 .9 2.5 2.5 4.5-.3 1-.6 .4-.5 .1-.8-.5-1.4-3.5-.6-3z"/><path fill="#09b6ff" d="M151.1 61.6l1-.2 1 .2 1 .7 .6 1-.1 4.5-1 4.5-2.5 6.3-6.3 9.7-3 5.5-2.3 6.5-1 6-.4 10.5 .4 8.5 1.4 8.5 1.9 7 2.9 7 3.8 6.5 4.5 6 6.1 6.4 7.5 6.1 5 3 2.5 .9 .7-.4-.1-.5-4.9-7 0-.5-.5-.5 .3-.5 .2 .5 .8 .3 5.5 5 3.5 2.4 7.5 4 5.5 2.1 1.1 1.2 .4 2-.5 1.6-1.5 1.1-3-.2-5-1.1-5-1.5-5-1.9-6.5-3.2-4.5-2.6-6-4.2-4-3.1-8.4-7.9-6.6-8.2-3-4.5-2.7-4.8-3.7-9-2.2-10-.9-12 .7-10 1.8-8.6 2.3-5.9 4.7-7.5 6.5-9 6.1-6.5 2.4-3.5zM273.4 80.3l-.3 1-1 1-.5-.3-.5 .4-2 .1-7.5-1.9-6.5-1.1-6.5-.6-7 .1-8.5 1-7 1.5-4.5 1.3-14.5 6.6-11.6 6.9-9.4 6.7-8.1 6.8-7.4 7.9-.6-.4 3.8-12.5 1.6-8.5 1.4-3 5.8-6.5 7-6.6 8-5.9 4-2.6 2-.9 3.5-.6 10 .1 10.6-1.5 4.9-.3 7.5 0 6.5 .6 9.5 1.8 8.5 2.7 5.9 2.7 1.6 1.4 .1 .6 .4 .2zM328.1 167.1l0 58.5-2 4.4-4.4 8.3-4.5 7-5 6.5-5.6 6-5.5 5-6.4 5-7 4.5-12.1 6.5-2 1.5-.8 1.5 .2 1.5 1.1 1.5 8.2 7 2.9 3.5 1.5 3 1.9 5.4 .9 3.6 .3 3-32.5 0-.4-4-1-4-1.7-4-2-3-2.1-1.9-2.5-1.3-3-.9-3.5-.2-6 .4-34.5 3.8-38-.2-7.5 .6-2.5 .6-2.3 1.1-1.7 1.3-1.7 1.7-1.3 2-1.1 2.5-.6 2.5-.4 3-57.9 0-.1-25.5-.4-5.5-.7-5-1.6-6-2-4.5-2.7-4-3-2.9 0-28.4 4-.4 3.5 1 11 7.7 6.3 4 6.2 3.4 7 3.1 7 2.4 10 2.7 8.5 1.8 9 1.3 6.5 .4 8-.1 5.5-.6 7-1.3 7-1.9 10.5-3.7 6.8-3 3.7-2.3 4.1-3.7 3.4-4.5 2.5-5.2 1.2-5.3 .2-3-.2-4-1.5-9-.9-4-1.4-3.5-2.4-3.9-4.5-4.6-.7-1.5-.3-1.5 .3-2.5 1.2-2 1.5-1.2 3-1.5 .8-.8 .2-1.5-1-5.6 0-4.1 1-3.8 2-3.8 3.5-4.5 3-1.9 3-.8 7.5-.8 4-.7 13-4.7 2.5 0 2 .7 2 1.2 5.5 4.5 1-.3 .5-1.2 .1-3.7-.5-3.5-1.4-4.5-1.7-3.6-3.5-4.7-6-5.5-3.1-4.2-.7-2 .1-4-.4-1-1.9-1.4-5-2.1-.3-.5 .2-.5 4.1-.4 8.5 .4 4.5 .7 6 1.6 6.5 2.3 5 2.1 3.5 2.7 1.5 1.6 0 .6 .5 .2 .3 .7-1.3 1-11-2.9-1 0-.9 .4 .3 1.5 3.9 6 3.5 6.5 1.5 3.5 1.5 5 1.5 6.5 1.1 7.5 .5 7.5-.3 6-1.4 8.5-1.5 5.5-2.4 6-2.4 2.5-.5 1 .2 1 2 4 .5 4-1 7-2.1 8-3.1 7.5-2.2 4-2.4 3.5-5.3 5.9-4 3.4-4 2.7-1.7 2-.8 2.5 .3 2.5 1.2 2.2 2 1.6 4 1.1 3.5-.9 5.4-4 2.6-2.7 13.6-17.8 8.9-15 8.9-17.5 2.3-5.5 1.5-4.5 1.5-6.5 .8-6.5 .3-10-.7-15-.7-6.5 .1-2.8 .5-.3 1.5 1.6 2.4 3.5-.1 1 .4 1 .8 .6 .1-1.6-.6-1 0-1 .9-2 1.2-1.5 1.5-1 1.9-.5 2 .3 1.3 .7 3.2 3.5 3.5 6 1.3 3.5 2 8 .7 1.5 1.5 .9 3-1zM289.6 264.1l-.5 0-2 1.5-.5 .1-.8 .6 .2 .5 2.6-1.6zM290.3 263.8l-.2-.3-.4 .3zM234.1 166l-1.1 1.8-.4 4 .4 4.5 1.3 4.5 1.8 3.4 2 2.2 2.5 1.3 2.5-.1 1-.6 1-1.2 .9-2.5 .1-3.5-1.1-4-1.9-3.5-3.5-3.9-3.5-2.4z"/><path fill="#05caff" d="M151.1 65.5l1 .3-.2 .5 .6 1-.2 .5 .4 .5-.5 3.5-1.1 4-1 2.3-6.3 9.7-3 5.5-2.1 6-1.2 6-.5 10 .2 8.5 .5 4.5 1.2 6.5 1.8 6.5 2.9 7 3.8 6.5 6.5 8.5 6.2 6.3 8 6.2 5 3 2 .8 6.5 1.8 .9-.6-.6-2 .7-.1 10 3.6 .7 1 .2 1.5-.4 1.5-1 .7-2.8-.2-6.2-1.5-5.7-2-3.8-1.7-10-5.5-5-3.5-4.8-3.8-7.6-7-6.6-8-3.1-4.5-2.6-4.5-3.9-9-1.4-5.3-1-5.2-.9-12 .6-9.5 .8-4.5 1.1-4.5 1.7-4.5 2.2-4 9.5-13.4 3.5-3.6 2.6-2 .2-.5zM259.6 75.8l-.3 .5-.7-.2-.5 .4-.5-.2-.5 .3-10.5-.1-8 .7-14.5 2.8-6.5 2.1-14 6.3-9.5 4.9-3 .7-1-.1-.9-.6 0-.5-1.1-1 0-.5-.9-1-.2-1 .4-.5 .1-1 1.5-2.5 3.2-3.5 9.4-7.1 2-1.3 2-.5 9 0 4.5-.5 9-1.8 11-.1 6.5 .7 6 1.2 5 1.7zM328.1 167.4l0 34.5-.3 3.4 .3 2 0 15.2-2.3 5.3-3.2 6.4-5.2 8.6-6.8 9-5.7 6-6.8 6.1-7.4 5.4-7.1 4.2-8.5 3.8-9.5 3.6-.6-.1-.2 .5 13.4 9.5 4.3 4 2.1 3.5 1.5 3.8 1.4 4.7 .4 3.5-27.1 0-.4-4-1.1-4.5-1.7-4.5-2-3.5-2.5-3-3-2.3-2-1-3-.3-8 .5-36.5 4.2-39.5 .6-8 .8-2.5 .7-2.7 1.3-2.1 1.5-1.9 2-1.6 2.5-1.3 3-.7 3-.3 3-52.5 0-.2-24-.5-6-.9-5-1.6-5.5-2.4-5.5-3.1-4.5-3.7-3.6 0-27.5 4-.3 3.5 .9 17 11.6 7 3.8 7.5 3.2 8.5 2.8 7.5 1.9 8.5 1.8 9 1.3 9 .5 5.5-.2 6.5-.7 6-1.1 7-1.9 10.5-3.7 6.3-2.8 3.5-2 4.7-4 3.8-5 2.6-5.5 1.1-5 0-7-1.5-9-1-4.2-2.4-5.3-2.6-3.5-3.3-3-.7-1.5-.3-1.5 .4-2.5 1.3-2 1.6-1.2 3.5-1.3 .7-1 0-1.5-1-5.5 .1-3.5 1.1-4 2.1-3.2 3-2.6 3.5-1.2 4.5-.1 8 .8 1-.3 3.5-2.6 2-.6 2-.1 5 .9 6-.3 2 1.1 1.5 1.9 5 15.2 1 1.6 .6-.5 .5-3-.1-8.5-1-7-.5-6.6-.9-4.9-1.9-5.5-2.2-4.1-3.5-4.3-4.5-4-2-2.6-.7-1.5-1.1-1.5-.4-2 1.3-4-.1-2 1-.8 2-.2 3.5 .2 5 1.3 10.5 3.7 3 1.3 1 1-.1 .5 .3 .5-1.2 .6-.5-.3-.6 .2-4.4-1.8-3.5-.8-1.5-.1-1 .7 1.1 2 4.4 5.2 2.2 3.3 2.8 5 2 4.5 1.8 6 1.6 7.5 .9 7.5 .4 6.5-.4 5-1.1 7.5-.8 3.5-3 8-.9 1.4-1.5 1.1-2.7 1-.4 .5 .3 1.5 2.8 4.5 .9 3.5-.6 6-2.3 8.8-3.4 8.2-4.5 7-4.6 5.1-4 3.4-4.3 3-1.9 2.5-.7 2.5 .3 3 1.3 2.5 2.3 2.1 2.5 .8 3.5-.2 3-1.7 6-5 3-3.5 5-6.9 6.5-8.1 8.3-14 4.4-8 6.8-14 1.8-4.5 1.4-4.5 1.2-6 .9-7.5 .1-21 .2-1 .9-.3 1.1 1.3-.1 .5 1.5 1.2 .5 .2 .9-.9 .2-3.5-.8-5 .3-1.5 .9-1.5 1.5-1.1 2-.5 2 .5 2 1.6 3 4 2.7 5 1.4 4.5 1.4 6.3 1 2.1 1 .7 1 .1 2.5-1.4zM246.1 279.8l.1 1.5 .6 1.5 .9 1 1.4 .7 10.5-2.2 .5-.4 .5 .1 .5-.6 .5 .2 .2-.3-.2-.5-.5 .3-.5-.5-5.5-.8-6-2.6-1 .1-1 .5zM310.1 245.3l-.5 0-9 8.2-8 6.6-7 4.9-10 6.2-1.5 1.1-.6 1 .6 .3 1.5-.1 6.5-2.4 5-2.6 6.5-4.5 4-3.2 6.9-7 4.2-5.5 1.5-2.5zM233.3 164.8l-.7 .8-.3 1.2-.2 5.5 .8 5.5 1.4 4.5 2.1 3.5 2.2 2.2 2.5 1.1 2.5-.4 1-.7 .9-1.2 .9-3 0-4-1.1-4-2.4-4-4.3-4.6-2.5-1.8-2-.7z"/><path fill="#00dfff" d="M148.6 70.5l1 .4 .5 .9-.4 .5 .4 .5-.7 3.5-8.6 14-1.6 3.5-1.8 5-1.3 7.5-.5 10 .5 10.5 2.3 12 2.9 8.5 2.1 4.5 4.2 7.4-.5 .3-3-2.9-5-6.3-3.5-5.5-3.5-7.4-1.7-5.1-1.2-6-.9-7.5-.2-6.5 .3-6.5 .7-5 1.3-5.5 1.7-4.4 4.2-7.1 7.3-10 2.4-2zM246.1 118.1l1 0 1.5 .8 .5-.6 .5 .5 1.5-.1 .5 .5 1.5 .5 9 8.7 3 4.4 2.7 5 1.9 4.5 1.6 5.5 1.6 7.5 .8 7 .3 6.5-.3 5-1.3 8.5-1.6 5.5-2.4 5.5-.8 .8-1.5 .8-2 .1-1.5-.5-1.4-1.2-.6-1.5 .4-8.5 1.1-7.5 0-8-2-16-.9-4.5-2-6-2.1-3.9-3.1-4.1-5.7-5.5-1.4-2-.5-1.5-.9-1-.4-1.5 .5-1.8 1-1.2zM328.1 167.8l0 32.3-.7 5.2 .1 2 .6 2.3 0 5.8-2.5 6.9-1.9 3.5-2.8 4-8.2 10-8.8 9.5-10.3 9.2-6 4.5-6 3.9-11 6.1-3.5 2.4-2 .9-3 .8-5.5 .5-2-.4-2-1-5-3.7-3.5-1.4-2-.2-2 1.1-4 4.3-2.5 1.6-17.8 4.9-10.4 2.5-8.2 1.5-9.6 1.1-13.5 1.2-18.5 1-6.5 1.1-6.5 2.4-6.7 4.2-7.3 6.5-4.7 6-24.2 0-.8-4.5-1.5-5-11.7-30.5-2.4-5-2.3-3.5-2.8-3.5-3.1-2.7 0-26.7 4-.4 3.5 1 10.5 7.4 6.5 4.2 6.8 3.7 6.7 2.9 6 2.1 9 2.6 14 2.8 6.5 .8 6.5 .4 6.5-.2 6-.5 11.5-2.4 15.5-5.5 7-3.5 3-2.2 2.5-2.5 2.6-3.3 1.9-3 1.5-3.4 1-3.6 .5-4-.3-5-1.4-9-1-4-2.2-5-2.8-4-3.3-3-.8-1.5-.3-1.5 .4-2.5 1.2-1.8 2-1.2 3.6-1 1-1 0-1.5-.9-4-.2-3 .2-2.5 .8-2.5 1.5-2.3 1.5-1.4 2-1.1 2-.5 3-.2 3 .3 3 .8 2.5 1 1 .9 .5 1 1.8 11.5 1.4 5 1.3 2.9 1.5 2.4 2 1.8 2.5 1 2 0 1-.4 1-1.2 1.5-3.8 .3-4.2-.6-4-1.3-3-1.9-3.1-3-3.4-3.5-3.2-1.8-1.3-.6-1.5 .6-2 1.3-1.3 1.5-.6 2 .1 4 1.4 4.5 2.4 4.2 4 3.1 4.5 1.9 4.5 1.6 6 .3 3.5-.7 7.5 .4 3 1.6 3.5 4.3 5.5 .6 1.5 .3 2-.5 5-1.6 6.7-2.5 6.8-2.5 4.8-2.5 3.7-3 3.5-4.2 4-6.3 4.8-1.4 1.7-1 2-.6 4 .8 4 1.9 4.5 .8 .7 1.5 .1 7-2.3 7.4-6 3.1-3.3 12.9-16.7 2.5-4.5 5.8-9.5 5.2-9.5 6.1-12.5 1.8-4.5 1.5-4.5 1.3-6 .8-6.5 .4-6 0-9 .7-2 1.2 0 0 .5 1.8 0 .5-.5 .5-1.4 .2-6.1-.7-5 .3-1.5 .7-1.2 2-1.3 2.5 .1 2.5 1.9 2 2.5 1.9 3 1.9 4 2.5 10.5 1.2 2.2 2 .9 2.5-1.8zM204.7 269.3l-1.6-.5-3 .6-4.1 2.4-.6 1 0 .5 .7 .6 2 .3 3.5-.9 2.6-2 .6-1zM235.1 199.6l-1 .9-.3 1.3 .8 4.5 1 2.5 1.5 2.4 1 .7 1-.1 1.7-1.5 1.3-2.5 .6-2.5-.2-2-.9-1.5-2-1.5-2.5-.8zM188.4 185.3l.2-.3 .5 .2 .5-.4 .5 .3 .5-.4 1.5 .4 .1 .7-.6 .5z"/><path fill="#00e2ef" d="M145.6 76.1l.5 .2-.5 1.3-7.1 12.7-2.2 5.5-1.3 4.5-1.2 9.5-.3 12 .5 10.5-.4 .3-2-5.8-1.4-10-.1-7.5 1-8.5 1.9-7 2.2-4.5 4.9-6.9zM245.6 119.5l1 0 1 .5 2-.3 3 .9 4.5 3.5 4 3.7 3.1 4 2.6 4.5 2.4 5 1.7 5.5 1.5 7 1 6.5 .4 6.5-.1 5.5-.9 6.5-1.5 7-2.9 7-.8 .9-1.5 .8-1.5 .1-1.5-.7-.7-.6-.7-1.5 .2-8.5 .8-8.5-.1-7-.5-5.6-2.5-14.6-2-6-2.5-4.7-4-5-4-3.7-1.6-2.4-.7-2-.8-1-.2-1 .6-1.5zM310.6 145.5l1.7 1.3 1.6 2 3.6 6 1.7 5 1.5 7.5 .9 1.9 1.5 1.2 1.5 .5 1-.6 .8-1.5 1.7-.5 0 30.5-1.1 6.5 0 5.5-3 9.5-4.1 8-7.4 10.5-8.9 10-10 9.2-6 4.5-7 4.5-4 2.3-12 5.8-3 .8-5 .4-1.5-.3-2.5-1.7-2-3-2.3-2.5-.5-1.5 .2-2 1.1-1.3 2-.9 8-7 5.2-5.8 10.8-14 12.7-22 8-16 3-8.5 1.6-7.5 1.8-13.5 1.3-3.5 .8-.5 1.3-3.5 .3-5-.9-6 .2-2.5 .8-1.5 1.1-.8 1.5-.4zM237.1 159.5l1.5-.2 3 .8 4 1.8 2 1.3 5 5.1 2.3 3.5 1.4 3 1 3 .7 3.5 0 3.5-.5 3-.9 3-.9 2-1.3 2-2.8 2.8-1.5 .3-1.5-.4-1-.8-.8-1.4-.3-4 .9-7.5-.2-3-.5-2.5-1.2-3-2.1-3.5-8-8.5-.2-1 .1-1 .6-1zM261.1 209.5l.2 3.3-.7 4-1.5 4.5-2.5 4.9-3 4-5.5 5.5-12 13.3-2 1.3-3.5 .7-1.5 1.1-1.5 1.7-1.6 3-2 2.5-3.4 2.9-4 1.5-14 3.1-5.5 2.1-5.3 2.9-5.1 3.5-1.6 2-1 2.8-1 1.1-3 1.6-4.5 1.3-7 1.3-23.5 2.6-6 .2-6-.5-9-1.4-15-3.6-11.5-4-3.5-1.6-2.5-1.7-3-3.3-7.6-11.3-2.9-3.2-3-2.6 0-25.9 2-.4 3 .2 3 1.1 9.5 6.8 7 4.5 6.4 3.5 7.1 3.1 6 2.1 8 2.3 8.5 2 9.5 1.6 7 .6 6.5 .1 6.5-.4 7-1 8-2 8-2.7 8.2-3.2 5.3-2.7 3-2.2 2.7-2.6 2-2.5 2.3-3.5 1.5-3.1 1-3.1 .8-6.3-.8-7.5-1.2-7-1-3.5-1.6-3.5-1.9-3-4.9-5-.7-2 0-2 .8-1.8 1.5-1.4 2-.8 3.5-.6 1.2-.9 .1-1-1.4-6 .1-2.5 .4-2 .9-2 1.2-1.4 1.5-1.1 2-.7 4-.3 4 .8 3.5 1.7 1 1 .8 1.5 1.2 5.1 1.1 7.4-.1 2-1.2 5.5 .2 8 1.2 5 1.8 5.3 2.5 6.1 1.5 2.2 1 .5 1.5-.6 1.5-1.8 6-8.8 2-2 2-1.1 2.5 0 2.5 1.2 2.7 2.5z"/><path fill="#00e3de" d="M245.6 120.6l1.5 .3 1-.5 .5 .3 .5-.4 3.4 1 5.1 3.7 3.5 3.2 2.8 3.6 2.4 4 2.7 5.5 1.4 4.5 1.5 6 1.2 7.5 .5 7.5-.1 5.5-1.2 8.5-1.4 5.5-2.8 6.5-1 1-1 .4-1.5 0-1-.5-.9-.9-.6-1.5 .3-8 .7-8.5-.1-7-.4-4.6-1.5-9.8-1.3-6.1-1.9-5.5-2.3-4.6-3.3-4.4-5.2-5-1-1.5-.8-2 .1-1-.7-1 .1-1zM310.1 145.7l2 1.3 1.6 1.8 3.6 6 1.4 4 1.8 9 .6 1.5 2.2 2 1.8 .8 1-.8 .7-2 1.3-.5 0 28.8-1.2 6.2-.7 7-3.3 10-4.1 8-7.3 10.5-4.7 5.5-5.2 5.5-10 8.8-6 4.3-6.5 4-11.5 5.5-3 1.2-3 .8-5 .4-1.5-.4-1.3-1.1-.6-1-.3-1.5 .2-2-2-1-1-1-.3-1 .2-1 .6-.7 1-.5 3-3.8 4.6-4 3.4-3.5 13-16.5 2.5-4.8 7.2-11.7 8.9-17 4.4-10 1.7-5.5 2-8.5 2.3-7.2 .6-6.3 .9-5 .1-5-.8-5 0-2 .7-1.4 1-1 1.5-.4zM237.6 160.1l1-.1 4 1.1 4.5 2.4 5.2 5.3 2.2 3.5 1.6 3.5 1.4 5.5-.1 3-.5 3-1 3-1.5 2.5-3.8 2.9-1 0-1-.7-.3-.7 .1-1-.6-.5 .2-.5-.5-1 .2-8-.3-3-.8-3-1.1-2.5-1.9-3-7.5-8.5-.2-1 .2-1zM228.8 172.3l1.2 4 .1 4-.8 2.5-2.6 5-.2 2 7.4 21 1.9 6.5 1.4 6.5 0 5.5-1.3 5.5-1.2 3-1.8 3.5-2.7 4-8.1 9.8-4 3.5-4.5 2.9-4.5 2.1-10 3.4-17.5 8.5-8.5 3.5-20.5 4.8-6 .6-6 .1-10.5-1.1-12-2.2-11.5-3.1-11-4.2-3.5-1.8-3-2.3-8.8-10.5-5.2-4.9 0-25.1 2-.4 3 .2 2.5 .9 10.4 7.3 7.1 4.5 5.5 3 6.5 2.9 6 2.2 8 2.4 8.5 2 8.5 1.5 9 .9 5.5 .1 7.5-.4 7-1 6.5-1.5 6-1.9 7.6-2.7 7.4-3.3 3-1.8 3-2.4 2.5-2.5 2.5-3.3 1.6-2.7 1.5-3.5 .9-3 .5-4-.5-7.5-1.4-8-1.1-4-1.5-3.5-2.3-3.5-4.7-4.7-.7-2.3 .3-2 .9-1.6 1.5-1.1 1.5-.5 5-.4 1-.8 0-1.1-1.5-5 0-3 1-3.2 2-2 1.5-.8 2-.4 2-.1 2.5 .5 2 .7 2 1.2z"/><path fill="#00e4cc" d="M247.6 121l2.5 0 2 .5 5.5 3.9 4.2 3.9 2.8 4 2.8 5 1.7 4 1.7 5.5 1.5 7 .7 5.5 .5 6.5-.1 5.5-1.1 7.5-1.6 6.5-2.6 6-1 1.2-1 .4-1.5 0-1-.6-.8-1-.3-1 .9-16.5-.1-7-.7-6.8-2.2-12.2-2.2-7-2.1-4.2-3.5-4.8-5.1-5-1-1.5-.9-2.5 .2-1zM310.1 146l2 1.3 1.3 1.5 3.7 6 1.4 4 1.8 9.5 .8 1.7 4 3.6 .9-.3 1.2-2 0-.5 .9-.3 0 25.8-1.4 6.5-1.1 8-3.3 10-4.4 8.5-6.5 9.5-5.6 6.5-4.2 4.5-9.5 8.5-9.5 6.6-8.5 4.7-6.5 2.7-4.5 1.5-3 .5-4-.2-1.3-.8-.6-1.5 .9-3-.8-1.5-1.2-.4-.7-1.1 .6-2.5 2-3 4.6-4 5-5.5 11.3-14.5 11.7-20 11.1-21.5 4.1-11.5 2.4-10 1.3-13-.1-6-.8-4 .2-2 .8-1.5 1-.7 1-.3zM297.1 229.5l-2.5 3.8 .5 0 .1-.5 1-1 .9-1.5zM237.6 160.9l1-.1 1 .5 .5-.3 1.5 .3 5 2.4 5.1 5.1 2.1 3 1.5 3 1.1 3 .6 3-.2 4.5-.7 3-1.1 2.5-1.4 1.8-2 1.3-1 .2-1-.5-1.1-1.3-.6-2.5 .2-5-.2-3-.9-4-1.3-3-1.5-2.5-4.8-5.5-2.5-3.5-.2-1.5zM227.1 173.8l.9 3-.3 3-1.6 3-3.4 3.5-.1 1 5.6 10.5 3.2 8 1.8 5.5 2 9.5 .3 4-.3 4-1.2 5.5-1.5 4-2.1 4-3 4.5-3.9 5-3.4 3.5-4 3.2-4 2.5-4.5 2.1-8.7 3.2-16.8 7.6-9 3.2-5.5 1.3-16.5 3.1-5.5 .5-6-.1-10-1-12-2.2-11.5-3.1-9.5-3.5-4.5-2.2-3.5-2.5-9.1-9.6-4.4-3.9 0-24.4 2.5-.5 2.5 .3 2.5 .9 9.5 6.7 7 4.5 6.5 3.6 6.5 2.9 5 1.9 9 2.7 8.5 2 8.5 1.5 9 .9 5.5 .1 6.5-.3 6.5-.8 7-1.5 6-1.8 9-3.2 7-3.2 3.2-1.9 2.8-2.2 2.8-2.8 2.3-3 1.8-3 1.5-3.5 .8-3 .6-4-.5-7.5-1.4-8-1.1-4-1.3-3-2.5-4-4.9-5-.6-2 .3-2 1.2-1.7 2-1.1 7-.1 1.7-.6-.1-1-2.2-4.5-.4-3 .9-3 2.1-2.1 3-.8 3.5 .4 3 1.6z"/><path fill="#00e4c3" d="M248.6 121.3l2.5 .3 3.5 1.9 4.5 3.5 3.2 3.3 2.8 4 2.6 5 1.6 4 1.6 5.5 1.4 7.5 .7 5 .4 6.5-.2 4.5-1.3 8.5-1.4 5.5-2.6 6-.8 .9-1 .5-1 0-1.1-.4-.9-1-.3-1 .9-16.5-.1-7-1-8.4-1.9-10.6-2.1-6.5-2.5-5-3.5-4.9-5-4.9-1-1.7-.5-3 1-1zM310.6 146.5l1.2 .8 2.1 2.5 3.4 6 1.6 5.5 1.2 7.5 .7 1.5 2.8 3 1.5 3.1 1.1-1.1 0-.5 1.3-1.5 0-.5 .6-.2 0 22.3-2.9 15.4-1.4 5-2 5.5-4.4 8.5-6.5 9.5-8.8 10-10 9-9.5 6.8-5.5 3.2-4 1.8-6 2.4-4 1.1-3 .3-2.5-.2-1.7-.9-.1-.5 1.5-2.5-.3-1.5-.9-.8-.5-.1-2-1.6 0-2 .4-1 1.4-2 4.5-4 4.1-4.5 12.1-15.3 10.9-18.2 13.4-25 3.2-9.2 2.2-10.8 1-12-.2-7-.7-4 .1-1.5 .6-1.5 1-.9 1.5-.3zM302.6 219.9l-2.5 2.9-8.2 12.5-5.8 8-.8 1.5 .3 .4 3-2.4 2-2 6-7.5 2.5-4 3-6 .8-3zM238.1 161.7l3.5 .1 1.5 .5 3.5 1.9 5.1 5.1 1.7 2.5 1.8 3.5 1.4 5.5-.1 4.5-.8 3-1.1 2.5-1.3 1.5-.7 .5-.5 0-.5 .5-1-.1-1.5-.9-.9-2.5 .2-5-.3-3.5-1.5-5-2.5-4.4-4.5-5.1-1.7-3 .2-.5-.5-.5 0-.7zM217.1 171.9l2-.4 2.5 .4 2 1.3 1.3 1.6 .5 2-.3 2.3-1 1.7-2 1.5-1.5 .5-2.5-.4-2-1.5-1.4-2.1-.6-2 .2-2 1.3-2zM232.7 211.8l1.2 6 .5 5-.2 5.5-1 4.5-1.7 5-2.5 5-3.8 5.5-3.6 4.3-6 5.2-6.5 3.8-10.5 4.1-15.5 6.9-10.5 3.5-6.5 1.4-16 2.5-5.5 .3-6-.1-6.5-.6-9-1.4-14-3.3-6.5-2-6-2.4-5-2.5-5-3.6-7.6-7.6-3.9-3.3 0-23.9 2.5-.4 2.5 .2 2.5 .9 9.5 6.8 6.5 4.2 6 3.4 6.5 3 6 2.3 8 2.4 9.5 2.3 8.5 1.5 9 .9 5.5 .2 6.5-.4 6.5-.8 7-1.5 5.5-1.6 9.5-3.4 7.4-3.3 3.1-1.9 2.7-2.1 2.5-2.5 2.3-3 3.3-6 1-3 .6-3.5 .2-3-.4-5-1.4-8-1.3-5-1.2-3-2.2-3.5-1.6-2-3.3-3-.9-2 .1-2 .6-1.3 1-1 1.5-.7 3.5 .1 6.5 1 2.5 1.1 2.5 2 3 3.8 2.5 4.5 3.9 9z"/><path fill="#00e5b5" d="M248.6 121.3l2.5 .3 3.5 1.9 4.5 3.5 3.2 3.3 2.8 4 2.6 5 1.6 4 1.6 5.5 1.4 7.5 .7 5 .4 6.5-.2 4.5-1.3 8.5-1.4 5.5-2.6 6-.8 .9-1 .5-1 0-1.1-.4-.9-1-.3-1 .9-16.5-.1-7-1-8.4-1.9-10.6-2.1-6.5-2.5-5-3.5-4.9-5-4.9-1-1.7-.5-3 1-1zM310.6 146.5l1.2 .8 2.1 2.5 3.4 6 1.6 5.5 1.2 7.5 .7 1.5 2.8 3 1.5 3.1 1.1-1.1 0-.5 1.3-1.5 0-.5 .6-.2 0 22.3-2.9 15.4-1.4 5-2 5.5-4.4 8.5-6.5 9.5-8.8 10-10 9-9.5 6.8-5.5 3.2-4 1.8-6 2.4-4 1.1-3 .3-2.5-.2-1.7-.9-.1-.5 1.5-2.5-.3-1.5-.9-.8-.5-.1-2-1.6 0-2 .4-1 1.4-2 4.5-4 4.1-4.5 12.1-15.3 10.9-18.2 13.4-25 3.2-9.2 2.2-10.8 1-12-.2-7-.7-4 .1-1.5 .6-1.5 1-.9 1.5-.3zM302.6 219.9l-2.5 2.9-8.2 12.5-5.8 8-.8 1.5 .3 .4 3-2.4 2-2 6-7.5 2.5-4 3-6 .8-3zM238.1 161.7l3.5 .1 1.5 .5 3.5 1.9 5.1 5.1 1.7 2.5 1.8 3.5 1.4 5.5-.1 4.5-.8 3-1.1 2.5-1.3 1.5-.7 .5-.5 0-.5 .5-1-.1-1.5-.9-.9-2.5 .2-5-.3-3.5-1.5-5-2.5-4.4-4.5-5.1-1.7-3 .2-.5-.5-.5 0-.7zM217.1 171.9l2-.4 2.5 .4 2 1.3 1.3 1.6 .5 2-.3 2.3-1 1.7-2 1.5-1.5 .5-2.5-.4-2-1.5-1.4-2.1-.6-2 .2-2 1.3-2zM232.7 211.8l1.2 6 .5 5-.2 5.5-1 4.5-1.7 5-2.5 5-3.8 5.5-3.6 4.3-6 5.2-6.5 3.8-10.5 4.1-15.5 6.9-10.5 3.5-6.5 1.4-16 2.5-5.5 .3-6-.1-6.5-.6-9-1.4-14-3.3-6.5-2-6-2.4-5-2.5-5-3.6-7.6-7.6-3.9-3.3 0-23.9 2.5-.4 2.5 .2 2.5 .9 9.5 6.8 6.5 4.2 6 3.4 6.5 3 6 2.3 8 2.4 9.5 2.3 8.5 1.5 9 .9 5.5 .2 6.5-.4 6.5-.8 7-1.5 5.5-1.6 9.5-3.4 7.4-3.3 3.1-1.9 2.7-2.1 2.5-2.5 2.3-3 3.3-6 1-3 .6-3.5 .2-3-.4-5-1.4-8-1.3-5-1.2-3-2.2-3.5-1.6-2-3.3-3-.9-2 .1-2 .6-1.3 1-1 1.5-.7 3.5 .1 6.5 1 2.5 1.1 2.5 2 3 3.8 2.5 4.5 3.9 9z"/><path fill="#00e499" d="M248.1 122.1l2.5-.2 2 .9 4.5 2.9 4.4 4.1 3.2 4.5 2.2 4 1.8 4 1.7 5.5 1.5 7.5 .8 6 .4 6.5-.1 4.5-1.1 7.5-1.6 6.5-1.2 3-1.6 3-1.4 1-1 0-1-.4-.9-1.6 .8-17.5-.1-6-.8-7.5-2.1-11.5-2.4-7.2-2.4-4.8-3.6-4.9-5.4-5.6-.5-2.5zM310.1 146.7l1.2 .6 1.9 2 1.7 2.5 2.1 4 1.8 6.5 1.1 7.5 .7 1.5 1.9 2 .5 1 .6 5.5 1 .6 1.4-1.1 0-.5 1.1-1.5 0-.5 1-.3 0 16.1-3.5 17.7-2.9 9-2.2 5-2.4 4.5-6 9-8.7 10-8.3 7.8-9 6.8-9.2 5.4-4.9 2-4.9 1.5-3.5 .6-2-.5-.3-1.1 .5-1.5-.6-1.5-4.1-1.4-1-.9-.5-1.2 .3-2 1.1-1.5 4.6-4.3 3.5-3.8 12.7-15.9 9.7-16 7.5-13.5 5.8-9.5 2.2-4.5 2.6-9 2-12 .6-10.5-.2-7-.7-3.5 .1-2 .4-1 .8-.8 1-.4zM306.6 213l-1 .5-2 2.4-12.2 18.9-11.4 14.5-1.8 3 .4 .1 2-1.1 6-4.8 5.5-5.7 3.6-4.5 4.4-6.5 3.2-6 3-7.5 .5-2.5zM239.6 162.6l2.5-.1 3 1.3 1.5 1 4.9 5 3.2 5.5 1.4 4.5 .1 4.5-1.6 5.5-1.1 1.5-1.9 1.1-1.5-.3-1-1.3-.4-2-.1-6.5-1-4.4-2.6-5.1-5.6-7-.5-2zM231.7 211.8l1.1 6 .4 5-.3 5.5-1.1 5-1.8 5-2.1 4-3.6 5.5-3.4 4-5.8 5.1-6.5 3.9-26 10.9-10 3.2-7.5 1.6-7 1-7 .7-6.5 .3-7-.3-6.5-.6-7.5-1.2-8.5-1.8-6.5-1.6-6-1.9-5-1.9-5.5-2.7-5.5-3.6-11.5-10.1 0-22.9 2.5-.4 2.5 .2 2.5 .9 8.6 6.2 7.9 5.1 7 3.8 6.5 2.9 8 2.8 7.5 2.1 11 2.4 6.5 1 6.5 .5 7.5 .1 6.5-.5 7-1 6.5-1.6 13.5-4.6 7-3.1 3.1-1.9 3.2-2.5 2.4-2.5 2.3-3 1.6-2.5 1.6-3.5 1-3 .7-4 0-4-.4-4.5-1.5-8-1.1-4-1.2-3-2.5-4-1.6-2-3.1-2.7-.8-1.8 0-1.5 .6-1.5 1-1 1.2-.5 4.5 .4 5 1.5 3.5 1.9 2.5 2.4 3 4.3 2.2 4 2.9 7z"/><path fill="#00dc7d" d="M249.1 122.3l2.5 .4 3.5 2 3.5 2.7 3.4 3.4 2.7 4 2.5 4.5 1.8 4.5 1.4 5 1.5 7.5 .6 5 .4 6.5-.1 4.5-1.1 7.5-1.3 5.5-2.4 5.5-.9 1.5-1 .6-1.5-.1-.6-.5-.4-1 .7-17.5-.1-6-.6-6.1-2-11.5-2.4-7.9-2.4-5-3.5-5-5.2-5.4-.7-1.1-.2-1 .4-1.3zM310.1 147l1.5 1 2.5 3 3.1 5.8 1.4 5.5 1 8.4 .5 1.2 1.8 2.4 .3 7 .7 5.5 .4 0 1-2.5 2.3-3 0-.5 1-.5 .5 .2-.1 9.8-3.8 19-2.4 8-1.7 4.5-2.5 5-6 9.5-7.5 9-6.5 6.5-9.5 7.9-9.5 6.1-3 1.6-4 1.5-4 1.1-2 0-.8-.7 0-1 1.1-2.5-.3-1 1.7-2 8.8-6.1 8.5-6.9 5.6-5.5 5.2-6 3.9-5.5 3.6-6 3-6 2.5-6.5 1.4-4 .5-3-.2-.4-.5 0-1 .9-5.5 7.5-9.3 15-4.9 7-11.8 14.2-10.5 10.7-3.5 2.4-4.5 1.1-1.5-.2-1.1-.7-.7-1-.1-1 .9-2 8-8.1 13.1-16.4 8.2-13 16.2-27.6 1.5-3.8 1.5-5.2 2.1-11.9 .8-13.5-.3-7-.7-4.5 .4-1.5 .7-.8 1-.5zM240.6 163.1l1-.1 2.5 .8 1.8 1 2.7 2.3 3.5 4.2 2.7 5 1.1 4.5-.1 3.5-.5 2.5-1.2 3-1 1.3-1 .6-1.5-.1-1-.8-.5-1-.2-7.5-.9-4-1-2.5-1.7-3-5.3-6.5-.5-2zM230.6 210.8l1.2 6 .4 5-.1 5-.7 4-1.5 5-2.2 5-3.1 5-3.5 4.4-3.5 3.5-3 2.4-6.5 4-24 10.1-10.5 3.5-12 2.4-9 .9-7 .3-6.5-.2-6.5-.6-8.5-1.3-14.5-3.2-6.5-2-5-1.9-5.5-2.6-6.5-4.1-11-9.2 0-22 2.5-.5 2.5 .3 2.5 .9 9 6.5 7.5 4.8 6 3.3 7.5 3.4 7 2.5 8.5 2.4 8.5 1.9 8 1.3 7.5 .8 5.5 .1 6.5-.3 7.5-1 7-1.5 5.5-1.7 9-3.2 7-3.1 3.5-2.1 2.5-2 2.5-2.4 2.7-3.3 2.1-3.5 1.4-3 .9-3 .7-4 0-4-.4-4.5-1.5-8-1.4-5-1.4-3-2.2-3.5-1.4-1.7-3.2-2.8-.7-1.5 0-1.5 .4-1 .9-1 1.1-.5 3.5 .3 4.5 1.4 3.5 1.8 2.5 2 3 3.7 2.5 4.3 3.3 7.5z"/><path fill="#00d461" d="M249.1 122.8l2 .1 4 2.2 4 3.1 2.6 2.6 2.8 4 2.4 4.5 1.8 4.5 1.6 5.5 1.4 7 .6 5 .4 6.5-.1 4.5-1.1 7.5-1.4 5.5-.8 2.5-1.6 3-1.6 1.7-1.5-.1-.7-1.1-.1-4.5 .8-14-.2-6-.8-6.8-2-10.9-2.2-6.8-2.3-5-4-5.7-5.3-5.8-.1-1.5 .9-1.3zM310.6 147.6l1.5 1.3 2.3 2.9 2.5 5 1.4 5.5 .8 8.5 1.2 4-1.1 5.5 .2 .5-.4 .5 .2 .5-.4 .5 .5 .5-.7 .5 .7 .5-.8 .5 .9 .5-1 .5 1.1 .5-.3 .5 .4 .5-.1 4-.7 5.5-2.1 7.5-6.5 17-.6 3.2 1 .3 1.5-1.6 3.5-5.4 1.5-3.5 8.8-29 1.2-1.1 .4 .1 .4 1-.8 6.5-3.4 17.5-2 7-2.7 7-3.4 6.5-5 7.6-7.5 8.8-7.3 7.1-8.7 7-9 5.6-2.7 1.4-3.3 1-2 .3-.8-.8 2.3-3.2 .5-.3 0-.5 .5-.3 .1-.7 13.4-12.2 5.7-5.8 4.9-6 5.1-7.5 5.4-9.5 5.2-13 2.5-9.5 .2-2.5-.5 .3-12.4 19.2-9.9 16-4.3 6-5.3 6.5-6.1 7-10 9.4-2.5 1.8-3 1.7-3 .8-1-.3-1.1-.9-.3-1 .4-1.3 8.3-8.7 12.9-16 8.1-12.5 16.7-28.3 1.5-3.9 1.5-5.6 2-11.7 .7-13.5-.2-6.5-.7-5.5 .4-1 .8-.7 1-.4zM241.1 163.6l1.5 0 3 1.5 2.7 2.2 3.4 4 2.7 5 1.1 4.5-.1 4-1.5 4.5-.8 1.3-1 .6-1 .2-1-.6-.6-1-.4-7.5-1-4.6-1.3-2.9-1.7-2.8-4.6-5.7-.4-1.5zM229.5 209.8l1.1 5 .7 5.5 0 5-.8 5.5-1.3 4.5-2.2 5-3 5-3.4 4.3-3.5 3.4-3 2.5-7 4.2-23 9.7-10.5 3.5-5.5 1.3-8 1.3-7.5 .7-7 .1-13-.8-16-2.8-6.5-1.6-6.5-1.9-5.5-2.1-5-2.3-7-4.3-11-8.9 0-21.2 3-.4 2.5 .4 2 .8 14.5 10.1 10.5 5.7 11 4.3 12 3.4 14 2.6 7.5 .8 5.5 .1 6.5-.3 5.5-.6 11-2.4 15.5-5.6 4.5-2.1 3.2-1.9 3.8-3.1 3.4-3.9 2.3-3.5 2.1-4.5 1-4 .5-5-.5-6-1.4-8-1.3-4.5-2.1-4.5-2.7-4-4-4-.2-2 .9-1.4 1-.5 1 0 4.5 .9 4.5 2 3.3 2.5 2.6 3 2.5 4 2.8 6z"/><path fill="#00cd46" d="M249.6 123.1l2.5 .7 3.5 2 3.5 2.7 2.7 2.8 3 4.5 2.6 5 1.4 4 1.5 5.5 1.2 6 .7 5.5 .3 6-.1 4.5-1.1 7.5-1.5 6-1.8 4-1.5 2-.9 .4-1-.4-.4-1.5-.2-3.5 .8-14-.2-6-.6-6-1.9-10.6-2.4-7.9-2.4-5-4.1-6-4.6-4.9-.5-1.1 .4-1.5zM310.5 147.8l3.3 3.5 1.8 3 1.3 3 1.6 7.5 .5 9-3.7 16-3 8.5-3.5 6.5-15.6 25-3.8 5.5-5.1 6.5-8.7 9.9-8.5 7.9-5 3.3-2.5 1-2 .3-1.1-.9 0-1.5 9.1-10 12.5-15.6 8.5-12.9 13.5-22.5 2.4-4.5 1.5-4 1.6-6.3 1.8-11.7 .7-13-.3-6.5-.6-5.5 .5-1 .9-.6zM241.6 164.1l1 0 2.6 1.2 3.4 2.8 3.1 3.7 2.4 4.5 1.2 4.5 0 3.5-1.5 4.5-.7 1.3-1 .8-1.5-.2-.7-.9-.5-7.5-.9-4-.9-2.5-1.7-3-5.3-7 .1-1zM228.5 208.8l1.2 5 .7 5.5 .1 5-.5 5-1.2 4.5-2 5-2.8 5-3.3 4.5-3.1 3.2-3 2.6-7 4.5-21 9.1-6 2.3-6.5 2-6 1.5-7 1.1-7.5 .8-6.5 .2-7-.3-7.5-.7-14.5-2.4-13-3.3-5.5-2-5-2.2-8-4.6-11.5-9.1 0-20.3 3-.5 2.5 .4 2 .9 13.5 9.4 10.5 5.9 11 4.5 12 3.4 7.5 1.7 7.5 1.2 6.5 .7 6.5 .2 6.5-.3 5.5-.6 11-2.4 15-5.3 5-2.2 3.5-2.1 3.5-2.8 3.2-3.5 3-4.5 2-4.5 1.2-5 .3-5-.5-5-1.6-9-1.6-5-1.5-3-3.5-5.1-3-2.9-.4-1.5 .4-1 1.5-.7 4 .7 4 1.5 3.2 2 2.8 2.9 2.5 3.7 2.7 5.4zM324.6 195.7l.2 .1-.2 .3zM324.6 196.4l.3 .4-.4 .5 .3 .5-.3 .5 .2 .5-1.6 9-2.7 10-3.7 8.5-2.6 4.5-4 6-4.6 5.5-4.9 5.2-10 8.9-5 3.6-6 3.7-4 2-1.5 .1 0-1.4 9-7.1 5.5-5.5 3.8-4.5 9.7-13.2 1.5-1.7 3-1.8 2-1.7 3.8-4.6 2.7-4 2.2-4.5 1.4-3.5 4.3-13 1.1-2.7zM273.6 265.5l.4 .3-.4 .1z"/><path fill="#00c52a" d="M249.6 123.6l1.5 .2 5 2.7 3 2.3 2.4 2.5 2.5 3.5 2.7 5 1.6 4 1.6 5.5 1.4 7 .6 5 .5 6.5-.2 4.5-1.2 8-1.4 5.5-1.9 4-2.1 1.8-.6-.3-.4-1-.4-3.5 .8-14-.3-8-2.6-15.5-2.2-7-2.3-5-3.7-5.5-5.1-6-.2-1 .5-1zM310.1 148l1.7 1.3 1.8 2.2 2.7 4.8 1.4 5 .7 6 0 6.5-4 17-3 8-3.2 6-15.4 25-4.1 6-5.2 6.5-7.5 8.5-9.3 8.5-2.1 1.6-3.5 1.9-2 .6-1.5-.1-.4-1 1.4-2.5 7.3-8 9.4-11.5 6.9-9.5 5.5-8.5 12.9-21.5 2.1-4 1.6-4.5 1.3-4.7 2-12.2 .7-14.1-.2-6.5-.7-5 .8-1.5 .9-.4zM241.6 164.8l1 0 2.5 .9 3 2.4 3.3 3.7 2.3 4 1.3 4.5 .1 3.5-1.2 4-1 2-.8 .6-1.5-.1-.6-1-.6-8.5-1.3-4.5-2.2-4-4-5.5-.6-1.5zM227.8 209.3l1.2 5.5 .7 5.5 0 5-.7 5-1.3 4.5-2 4.5-2.6 4.5-3.5 4.6-3.4 3.4-3 2.5-7.1 4.3-22.5 9.5-10.5 3.5-6.5 1.5-6.5 1-6.5 .6-6.5 .2-13-.8-8.5-1.2-9.5-1.8-6.5-1.6-6.5-2-9.5-4.1-7.5-4.3-11-8.6 0-19.6 3.5-.4 2 .3 2 1 13.5 9.4 9.5 5.4 11 4.6 12 3.5 15 3.1 11.5 1 11-.4 5.5-.8 7.5-1.6 14.5-4.8 5.5-2.3 4.5-2.4 4-3.1 3-3.1 2.5-3.5 2.2-4 1.5-4 .8-5 .1-5-.8-5.5-1.5-8-1.8-5-3.3-6-3.1-4-.1-1 1-1 2.5 .3 3 .9 4.1 2.3 1.9 1.9 2.1 2.6 2.4 4 2 4.3zM320.1 212.9l.5 .4-.5 .5 .3 .5-.8 3-2.5 6.6-3.4 6.4-4.1 6.3-5.3 6.2-5.7 5.7-7 5.9-4.5 2.8-.2-.4 6.5-7 12.3-16 6.4-7.5 4.3-6.5z"/><path fill="#00bd0e" d="M249.6 124.3l2 .1 3 1.4 4.5 3.3 2.1 2.2 3.1 4.5 2.2 4 1.6 4 1.6 5.5 1.4 7 .7 5 .4 6.5-.2 4.5-1.2 8-1.4 5.5-1.3 3-1 1.3-1 .8-1-.5-.3-.6-.3-2 .7-14-.2-7-.9-7.8-1.8-9.7-1.7-5.7-2-4.8-4-6.5-4.4-5.5-.9-1.5 0-.5zM310.1 148.3l2.7 2.5 1.5 2 1.8 3.5 1.5 5.5 .6 5.5-.2 5.5-.7 4-3.1 13-2.8 8-3.9 7.5-14.4 23.5-4 6-5.1 6.5-8.9 10-8 7.2-5 3.3-2.5 .6-1-.4 0-1.2 1-1.5 5.8-6.5 10.3-12.5 6.9-9.5 5.5-8.5 12.3-20.5 2.6-5 1.7-4.5 1.3-5 1.3-7 .7-6 .5-13-.2-6.5-.6-5 .4-1 .5-.4zM243.1 166.1l1.5 0 1 .5 3.5 2.9 3 3.8 1.9 4 .8 4 0 3-1.2 3.5-1.5 2.2-1 .1-.7-.8-.7-8-.8-3.5-2-4.5-3.9-6-.2-1zM227 209.3l1.2 5.5 .7 5.5 0 5-.6 4.5-1.5 5-1.7 4-2.6 4.5-3.4 4.5-2.5 2.6-3.5 3-7 4.4-23 9.8-10 3.4-6.5 1.5-6.5 1-6.5 .6-6.5 .2-6.5-.2-7.5-.7-16-2.8-11.5-2.9-5.5-2-5-2.2-9-5.1-11-8.4 0-18.8 3.5-.5 2 .4 1.6 .7 13.9 9.7 9.5 5.4 11 4.6 12 3.5 15 3.1 7.5 .8 6.5 .3 10.5-.7 5.5-.9 6.5-1.4 13.5-4.6 6.5-2.7 3.5-1.9 3.1-2.2 3.6-3.5 2.7-3.5 2.4-4 1.6-4 1-5 .2-3.5-.3-4.5-2-11.5-2.1-6-3.1-6-.7-2 .4-1 1.7-.2 3.2 1.2 1.8 1.1 2.5 2.5 3.9 5.9 2.3 5zM315.1 225l-.3 1.3-1.7 3.6-4 6.4-6 6.6-3.5 2.8-.3-.4 7.4-11 7.9-9.3z"/><path fill="#11be00" d="M251.1 125.1l2.5 .6 3.5 2.1 3 2.6 2.3 2.9 2.3 3.5 2 4 1.7 4.5 1.3 5 1.3 6 .6 5.5 .4 6-.1 4.5-1.2 8-1.5 5.5-1.1 2.6-1 1.2-1 .4-1-.3-.5-2.9 .7-13-.1-7-.6-6-1.9-10.5-1.5-5.5-2.1-5.5-2.2-4-6-8.5-.5-1zM310.1 148.6l2 1.7 1.6 2 2.2 4 1.5 5.5 .6 5.5-.3 5.5-1 5-2.8 12-2.9 8-3.3 6.5-14.3 23.5-3.6 5.5-4.2 5.5-9 10.5-6 5.8-6.5 5.2-3 1.3-.5-.3-.5 .4-.6-.9 .6-1.5 17.2-20.5 7.7-11 15.6-25.7 2.8-5.3 1.7-5 1.1-4.5 1.9-11.5 .6-14.5-.1-6.5-.6-5 .6-1zM245.1 167.3l2 .9 3.2 3.1 2.1 3 1.5 3.5 .7 3.5-.1 3-1.2 3.5-1.7 1.8-.6-.3-.4-1.3-.8-7.2-.7-3-1.6-4-2.9-5-.2-1zM226.3 209.8l1.3 6.4 .5 4.6-.1 4.5-.6 4.5-1.3 4.5-2.4 5.5-3.1 4.9-3 3.6-6 5.3-7 4.1-22.5 9.7-10.5 3.3-6 1.4-6.5 1-6.5 .5-6.5 .1-14-1.1-17-3-11.5-3.2-9.5-4-8.5-4.9-10.5-7.9 0-18.2 3.5-.5 2 .4 1.5 .7 13 9.1 10.5 6 10 4.3 12 3.6 7.5 1.8 8.5 1.5 7.5 .9 6.5 .3 10.5-.7 12-2.2 14-4.7 5.5-2.2 4.5-2.4 3-2.2 3-2.8 2.9-3.5 2.5-4 1.7-4 .9-3.5 .6-4 0-4.5-.5-4-1.9-10.5-1.5-4.5-1.9-4-.3-1.5 .4-1-.4-.5 .5-.4 .5 .4 1-.3 .5 .4 .5-.1 .5 .5 .5 0 3 3.2 3.6 5.8zM307.9 235.3l.2-.3 .2 .3-.2 .2z"/><path fill="#32c700" d="M252.1 125.8l2 .5 3.5 2.2 2.6 2.3 2.7 3.5 2.4 4 1.9 4 2.6 9 1 5 .8 6.5 .3 5-.2 4.5-1.1 7.5-1 4-1.5 4-1 1.2-1 .6-.7-.3-.5-2.5 .6-14-.2-7-2.2-14.5-1.4-5.5-2.1-5.8-2.2-4.2-5.3-8-.5-1zM310.1 149l.5 .7 1 .5 1.5 1.6 2.6 4.5 1.5 5.5 .6 5.5-.6 7-2.7 12-1.9 6.5-2.1 5.5-3.1 6-13.1 21.5-4.8 7.5-3.4 4.5-8.5 10-6 6-7.5 6-2.5 1-.5-.2-.6-.8 1.6-2.5 5.3-6 10.6-13 6.7-9.5 15.8-26 3.1-5.8 2.2-6.7 2-10.5 .7-7 .4-10.5-.5-11 .2-.5-.2-1 .7-.9zM246.1 169l.5-.1 1.5 .8 2 1.9 2 2.8 1.6 3.4 .7 3.5-.1 3-.8 2.5-1.4 1.9-1.1-.9-1.3-8.5-1-3.5-2.6-5.5zM225.3 209.8l1.2 5.5 .6 5 0 4.5-.4 4-1.1 4.2-2.2 5.3-2.2 4-3.5 4.5-5.9 5.5-6.7 4.2-22.2 9.8-5.8 2.2-5.5 1.6-6 1.4-6.5 1-12 .7-6.5-.3-7.5-.7-15.5-2.5-12-3.1-5-1.8-5-2.2-10-5.6-10.5-7.9 0-17.5 3.5-.5 2 .4 1.5 .7 12 8.5 10.5 6.2 11 4.7 13 3.9 15 3.1 6.5 .8 7.5 .4 11.5-.7 12-2.3 13-4.3 6.5-2.6 3.5-1.9 3.5-2.5 3-2.8 2.4-2.9 2.9-4.5 2.4-6 .7-3.5 .4-4.5-.4-5.5-1.3-8-1.6-7.5-1-3.5 .4-.5-.4-.5 .5-.5 .5 .4 .7 .1 3 3 2.8 4.6z"/><path fill="#53d100" d="M253.1 126.8l2 .5 3.5 2.3 2.2 2.2 2.5 3.5 3.8 7.4 1.5 4.6 1.5 6 1.4 10.5 0 8.5-1.2 8-.9 3.5-1.3 3.6-1 1.2-1 .5-.5-.2-.5-2.1 .6-14-.2-7-2.2-14.5-1.2-4.9-1.9-5.6-2.5-5-4.4-7-.6-1.5zM309.6 149.3l2 1.2 1.2 1.3 2.8 4.5 1.2 4.5 .8 5.5-.3 5.5-.9 5-3 12.5-2.8 8-3.9 7.5-13 21.5-4.6 7-3.4 4.5-7.1 8.5-6.5 6.6-7 5.8-2.5 1.2-1-.1 .5-2 16.2-19.5 6.8-9.5 15-24.7 3.7-6.8 2.4-7.5 1.9-10.3 .7-6.7 .3-10-.4-11 .2-2zM247.6 170.6l1.5 .6 1.5 1.5 1.5 2.2 1.3 2.9 .7 3.5 .1 2.5-.6 2.1-1 1.7-1 0-.5-.8-1-7-1-3.6-1.5-3.9zM224.2 210.3l1.3 6 .5 4.5 0 4-.5 4.5-1.3 4.5-1.7 4-2.9 4.9-2.8 3.6-5.7 5.3-7 4.3-22.5 10.2-6 2.2-5 1.5-11.5 2.1-6.5 .6-7.5 .1-14-1.1-15.5-2.8-12-3.3-9-3.8-9.5-5.4-10-7.5 0-16.8 3.5-.5 2 .4 1.5 .7 13.5 9.4 10 5.7 10 4.2 14 4.2 15 3.1 6.5 .7 7.5 .4 10.5-.7 7.5-1.2 5.5-1.3 11.5-3.6 9-3.7 4.5-2.8 4.9-4.6 3.4-4.5 2.1-4 1.3-3.5 1-4.5 .3-6.5-1.5-11.5-.1-5 1.1-.5 1 1 2.2 3.5z"/><path fill="#74db00" d="M254.1 127.7l.5 0 1.5 .6 3 2.1 2.2 2.4 2.4 3.5 2.1 4 1.7 4 2.4 9 1.4 10.5 .1 8.5-.9 6-1.1 5-1.5 4-1.3 1.2-.5 .1-.8-1.8 .6-14-.2-6-.4-5-1.7-10-1-4.5-2-6-2.1-4.5-4.4-7.5-.3-1zM312.6 151.9l2.8 4.4 1.5 5.5 .6 5.5-.8 7-2.5 11-1.8 6.5-2.1 5.5-3.9 7.5-16.9 27.5-2.9 4-6.2 7.5-5.4 6-7.4 6.5-3.5 2.5-1 .1-.6-.6 .6-1 14.8-18 7.9-11 14.5-24 3.8-7 2.3-7.5 1.9-10 .7-7 .3-10-.3-11 .3-.5-.2-.6 1-.6zM248.6 172.3l1 .1 2 2.2 1.4 2.7 .6 2 .3 3-.1 2-.8 2-.9 .6-.5-.2-.5-1.2-.7-5.2-1.9-7zM223.6 216.8l.7 5 .1 4-.8 4.5-.9 3-2.1 4.7-2.3 3.8-2.7 3.5-3 3-3 2.5-5.5 3.5-8.5 4-8.5 4.4-10.5 4.5-10.5 3-6 1-6.5 .7-12 .1-13.5-1.5-15.5-2.9-9.5-2.8-9.5-4.2-8.5-4.9-10-7.4 0-16.2 3.5-.5 2 .4 1.5 .7 12.5 8.9 10 5.7 10 4.4 13 4.1 14 3.1 8.5 1.2 10.5 .4 7.5-.5 12.5-1.9 13.5-4 9-3.3 4-2.3 4.3-3.7 2.7-3 2.7-4 1.9-3.5 1.6-4.5 1.2-7.5-.1-9-.3-.5 .3-.5-.3-.5 .4-.5-.5-.5 .6-.2 .5 1z"/><path fill="#95e300" d="M255.6 128.7l2.5 1.3 1.5 1.3 2.8 3.5 2.2 3.5 3 7 2.5 10 1.2 10.5-.1 6.5-.8 6-1.2 5-1.6 4-1 .8-.7-.8-.3-1 .4-13.5-.2-7-1.9-13.5-1.1-5-2-6-1.8-4-4.1-7.5 .2-.9zM310.6 150.6l1.1 .7 1.7 2 2.2 4 1.3 5.5 .4 4.5-.9 7-2.5 11-1.8 6.5-2.1 5.5-4.2 8-13.4 22-5 7.5-5.6 7-7.2 8-5.5 4.8-4.1 2.7-.5-.5 .9-1.5 13.3-16.5 7.8-11 14.7-24.5 3.2-6 2.3-7.5 1.8-10 .7-7 .3-10-.3-9.5 .1-1.5zM250.1 173.7l2.4 3.1 1 3.5 .1 3.9-.5 1.1-1 .8-.5-.4-.5-1.3-.4-3.6-1.1-5-.1-1.5zM75.1 232.3l3-.5 3 .6 9.5 6.8 8 5.1 5 2.8 7.5 3.5 12.5 4.4 16 3.8 11.5 1.7 11.5 .4 7.5-.5 12.5-1.9 8.5-2.1 .5 .2 .5-.3 1.3 .5-1.4 1.5-3.4 2.2-10.5 5.3-9 3-9 1.8-8.5 .9-11-.1-11.5-1.2-12.5-2.1-11.5-3.1-5-1.8-5-2.3-9.5-5.3-10.5-7.7z"/><path fill="#b5ec00" d="M256.1 129.6l2 .8 2.1 1.9 2.4 3.1 2.3 3.9 2.9 7 2.1 9 1.3 10.5-.1 6.5-1.4 8.5-1.1 3.5-1.5 3.1-1-.4-.2-.7 .2-19.5-.5-5-1.5-9.5-1.2-5-1.5-5-2.1-5-3.3-6-.2-1zM310.6 151.2l2.5 2 2.3 4.1 1.3 5.5 .4 4.5-.9 7-4.1 16.5-1.9 5.5-3.8 7.5-14.3 23.4-4 6.1-5.5 7-8 9-4.5 3.9-2 1.4-1 .4-.2-.2 .4-1 1.3-2 11.2-14 7.4-10.5 14.4-24 3.1-6 2.2-7.5 1.8-10 .7-8.5 .1-19 .6-1.1zM250.6 175.1l1 1 1 1.7 .5 2 .3 4-.8 1.4-.5 .1-.7-1-1.2-8.5zM75.1 232.5l3-.5 3 .7 13.5 9.4 9.5 5.5 6 2.8 7 2.7 12 3.7 12.5 2.7 11.5 1.5 10.5 .3 17-1.3 2.5 .3 .1 .5-.1 .3-.5 0 0 .7-2.9 2-7.6 3.3-8 2.2-10.5 1.5-9.5 .2-9.5-.6-13.5-1.9-10.5-2.3-9.5-3-8-3.7-7.5-4.3-10.5-7.7z"/><path fill="#d6f400" d="M256.6 130.7l1-.1 2.5 2 2.5 3.3 2.5 4.2 2.5 6.3 2.3 9.4 1.1 10-.1 6.5-1.6 9-1.2 3.5-1 1.6-.5 .2-.4-.8-.2-3 .4-10-.2-7-1.8-13-1.1-5-1.9-6-1.8-4.5-2.5-4.5zM311.1 151.8l2 1.7 2.1 3.8 1.2 4.5 .5 5.5-1.2 8.5-3.1 12.5-2.1 6.5-3.9 8-18 29.2-4.8 6.3-7.3 8.5-2.9 3-4 2.8-.4-.3 2.5-4 8.9-11 7.3-10.5 13.5-22.5 3.6-7 2.3-8 1.7-9.5 .5-7 .3-10-.1-9 .4-1-.2-.5 .7-.7zM251.1 176.7l1.1 1.1 .5 2 .3 4-.4 .7-.5 .1-.5-.8-.2-3-.5-2.5zM75.1 232.8l3-.6 3 .7 11.5 8.1 10 6 10 4.7 11 3.8 15 3.8 9.5 1.6 12.5 1 14.5-.2 .5 .3 .5-.2 .9 1-.4 .7-3.5 2.1-7 2.4-9.5 1.9-8.5 .6-9.5-.2-9-.9-11.5-1.9-10.5-2.5-7.5-2.6-9.5-4.7-6.5-4-9-6.6z"/><path fill="#f7fd00" d="M257.6 131.7l1 .1 2.5 2.5 4 6.3 2.5 6.5 2.1 8.7 1 8 .2 7-1.6 10-1.2 3.4-1 1.4-.5-.2-.4-2.6 .3-10-.2-7-1.8-13-1.2-5.5-1.5-5-1.5-4-2.7-5.6zM311.6 152.4l1.8 1.9 1.7 3.1 1.3 5.4 .4 4.5-.5 4.5-1.2 5.5-2.8 11-2.2 6.7-3.9 7.8-18.6 30-5.1 6.5-8.5 9.5-2.4 1.5 .2-1 .8-1.5 7.8-9.5 8.6-12.5 11.9-20 4.4-8.5 2.3-8 1.6-9.5 .6-8.5 .1-17.5 .7-1.4zM75.1 233l3-.6 3 .7 11.5 8.2 9 5.5 8.5 4.1 10.5 3.9 7.5 2.3 12.5 2.9 12.5 1.9 16 1.1 1.7 .3 .1 1-1.3 1.1-3 1.3-8 2.1-7 1-7.5 .2-10.5-.6-11.5-1.6-10-2-7.5-2.1-7.2-2.9-7.8-4-5.5-3.5-9-6.6z"/><path fill="#fff300" d="M258.6 133.2l1.5 .7 2 2.3 3.5 6 2.5 7.3 1.5 6.8 .9 7.5 .2 6.5-.5 5-1.1 5.5-1.5 3.4-.8-.4-.3-1 0-16.5-1.8-13.5-1.4-6.5-1.5-5zM311.1 152.8l1 .5 1.1 1 1.9 3.5 1.1 5 .4 4.5-1.3 8.5-2.8 11-1.9 6-1.6 4-3.5 6.5-5.6 8.5-11.8 19.5-5 6.5-5.6 6 0-.5 7.2-10 8.5-13.5 9.6-16.5 3-6.5 2-7.5 1.6-9.5 .6-8.5 .1-16 .2-1.5zM75.1 233.2l3-.6 2.9 .7 9.1 6.5 9 5.8 9 4.7 8 3.3 11 3.5 11.5 2.9 8.5 1.6 16.5 2.3 1.2 .4 0 1-1.2 .9-2 .8-7 1.7-7.5 .7-7 0-9.5-.8-11.5-1.7-8-1.7-8.5-2.6-7-3-7.5-4.1-5.5-3.6-7.5-5.6z"/><path fill="#ffe200" d="M260.6 135.7l1 .6 1.5 2 2.5 4.5 2.5 7.5 1.6 7.5 .8 8 .1 4.5-1.5 9.5-.5 1.7-1 1.6-.5 .1-.5-2.9 .2-11.5-.9-9.5-1.5-9.5-2.3-8.5-1.6-4.5-.1-1zM311.6 153.3l1.5 1.4 1.4 2.1 1.2 4 .8 5.5-.7 6-3.7 14.9-2.2 6.6-3.3 6.6-4.5 6.6-.4-.2 4.3-9 1.3-4.5 1.4-7 1-7 .4-6.5 .2-17.5 .3-1.4 .5-.7zM75.1 233.5l3-.7 2.5 .6 9.5 6.7 8 5.2 10 5.2 7 3 10 3.4 9.5 2.5 11.5 2.6 10.5 1.8 2 .7 .4 .8-.4 1-2 .9-5 1.1-6.5 .5-8-.1-8.5-.8-11.5-1.8-8-1.9-7.5-2.4-6.8-3-6.7-3.7-5.5-3.6-7.5-5.5z"/><path fill="#ffd100" d="M262.1 138.1l2.5 3.4 2 4.6 2 7.2 1.3 7.5 .5 7-.3 5-1.1 6.5-.7 2-.7 1-.5-.4-.3-2.1 .3-7-.5-10-2-13-2.5-9.7-.3-1.8zM312.1 154.1l1.2 1.2 1 1.5 .8 2.5 1 5 .1 4-1.1 6.5-3.6 13.5-2.3 6-1.6 2.8-.5 0 2.8-17.8 .6-16.5-.1-6 .4-2.5zM75.1 233.7l3-.7 2.5 .6 10 7.1 7.5 4.8 9 4.8 7 3 10 3.6 8.5 2.4 19 4.4 2 .7 .5 .6 .5 .1 .1 .7-2.1 1.1-5 1-7.5 .3-7.5-.4-10-1.2-7.5-1.3-7-1.7-7-2.3-7-3.3-6.5-3.6-12.5-8.8z"/><path fill="#ffc100" d="M263.1 141.1l1 .5 .5 .8 2.5 6.1 1.6 6.3 1 6 .4 5 0 5-1.5 8.9-.5 .9-.5 .2-.5-1 .2-7-.5-10-1.8-12.5zM311.6 154.4l1.5 1 1.4 2.4 1.2 5 .4 4.5-.7 5-1.2 5-3.1 10.9-2 4.7-.6-.6 1.7-13 .4-22.5 .3-1.5zM75.1 233.9l3-.7 2.5 .6 8.5 6.1 8 5.3 5 2.8 8.5 4.2 7 2.8 7.5 2.5 22.5 6.2 2 1 .2 1.1-2.2 1-5.5 .6-6 0-7.5-.5-14-2.1-7.5-1.9-7-2.4-6-2.8-6.5-3.7-12.5-8.8z"/><path fill="#ffb000" d="M264.6 143.7l2 4.4 1 3.2 1.3 5.5 .8 6 .3 7.5-.9 5.8-1 3.5-.5-.3-.5-16-2.6-17.5zM311.6 155l1.5 .9 1.2 1.9 1.3 5 .4 4.5-.8 5-.9 4-2.6 8.5-1.6 4.1-.5-1.1 .9-8.5 .2-21 .3-2.5zM75.1 234.2l2.5-.7 2.5 .3 16 11 10 5.5 7 3.2 9 3.4 20.5 6.3 2 .9 .5 1.2-.5 .6-1 .3-6.5 .6-6-.3-8.5-.8-11-2-7.5-2.1-5-1.9-6.5-3.2-5.6-3.2-11.9-8.4z"/><path fill="#ff9f00" d="M266.1 148.4l1 2.4 1.5 5.8 1 8.7 0 6-1 4.8-.5 .4-.7-13.2-1.8-13.5 0-1.2zM312.1 155.6l1.1 .7 .9 1.5 1.3 5 .4 4.5-.8 5-1 4-2.4 7-.5 .8-.5-.3 .2-2 .1-23.5 .6-2.5zM75.1 234.4l2.5-.7 2.5 .4 11 7.7 11.5 7 13 6 24 8.6 .5 .6 .5 .1 .1 .7-1.1 .6-5.5 .5-5-.2-9.5-.9-6-1-6-1.5-5.5-1.7-4-1.7-11-5.9-12-8.5z"/><path fill="#ff8f00" d="M266.6 152.4l.5 .4 1.1 3.5 .9 6.5 .3 7.5-.8 3.2-.5-2.2-.2-5-1.3-10.5zM312.6 156.2l1.3 1.6 .8 2.5 .8 4 .2 3-.9 5-1.1 4-1.2 3-.9 .7-.5-1.7 0-20 .4-1.5zM75.1 234.7l2.5-.8 2.5 .4 15 10.4 7.5 4.4 12 5.7 18.6 7 1.9 1.3 .5 0 .3 .7-.1 .5-1.2 .5-5.5 .2-7-.4-6.5-.9-11-2.7-9-3.7-9.5-5.3-11-7.9z"/><path fill="#fe7d00" d="M312.1 156.8l1 .4 .5 .6 1.2 4 .7 4.5-.4 3.5-.9 4-1 3-1.1 1.6-.3-.1-.4-1.5-.3-9.5 .3-9 .2-1.1zM75.1 235l2.5-.8 2.5 .4 11.5 8.1 10 6.2 8.5 4.3 19 7.9 1 .9 .5 0 .5 1.3-.5 .5-7.5 .2-9.5-1.1-5-1.1-6-1.8-8-3.6-8.2-4.6-11.3-8.1z"/><path fill="#fa6900" d="M312.6 157.3l.7 .5 .9 2.5 .9 4 .2 3-.7 4-1 3.5-.5 1-1 .5-.3-.5-.5-9.5 .4-8 .5-.5-.1-.5zM312.1 176.5l.4 .3-.4 .1zM75.1 235.3l2.5-.9 2.5 .5 9 6.4 9 5.9 11 5.8 15 6.7 1.9 1.1 .1 .8 .5-.1 .2 .8-1.2 .7-4.5 .2-5-.4-5-.9-9.5-2.7-8.5-3.9-7.5-4.4-10.5-7.6z"/><path fill="#f55400" d="M312.6 158.2l.5 .2 .8 1.9 1.2 6-1 6-.5 1.5-.9 1-.1 .6-.6-1.1-.5-7 .6-8.9zM75.1 235.6l2.5-1 2.5 .6 9 6.4 9 5.9 10 5.4 14 6.7 1 .7-.1 1.5-1.4 .5-4.5 0-9-1.5-6.5-2-10-4.7-6.5-3.9-10-7.3z"/><path fill="#f04000" d="M312.6 159.6l.6 .2 .7 1.5 1 5-.8 5-.6 1.5-.9 .8-.5-1.8-.4-4.5zM75.1 235.9l2.5-1 2.5 .6 9.5 6.8 9 5.8 20.5 10.8 1.1 .9-.6 1.5-.5-.1-.5 .3-3.5-.1-4-.5-5-1.1-6-2-9.5-4.7-7-4.4-8.5-6.2z"/><path fill="#ec2b00" d="M313.1 161.1l.2 .2-.1 .5 .8 1 .7 3.5-.6 3.5-.5 1.6-.5 .5-.5-.2-.7-4.4 .6-5 .5-.5-.2-.5zM75.1 236.3l2.5-1.1 1.4 .1 1.1 .5 7 5.1 9 6 19.5 10.9 1.5 1.2 .2 .8-.7 .5-.5-.2-.5 .4-2 .1-8.5-1.5-6-2.2-8.3-4.1-7.2-4.5-8.5-6.3z"/><path fill="#e71700" d="M313.1 162.7l.9 1.6 .4 2-.3 2.4-.5 1.3-.5 .4-.5-.6-.4-3.5zM75.1 236.8l2-1.2 1.5-.1 1 .4 17 11.8 16 9.2 1 1.3 .5 .1 0 .8-1 .1-.5 .3-.5-.2-1.5 .2-7-1.3-7-2.9-7.5-3.9-7-4.6-7-5.3z"/><path fill="#e10904" d="M313.1 164.6l.5 .2 .5 1.5-.3 1.5-.7 .4-.5-.5-.1-1.4zM313.1 168.6l.2 .2-.2 .1zM75.1 237.4l1-1 1-.5 1-.1 1.5 .4 14.5 10.3 14 8.4 2.5 1.8 0 1 .5-.1 0 .4-.5-.1-.5 .5-2.5 0-5-1.1-7.5-3.2-6.5-3.4-13-9.2-.5-.7z"/><path fill="#d9060e" d="M313.1 166.6l0-.3 .3 0zM75.3 237.8l.8-.9 1-.6 1.5-.1 1 .5 15 10.6 11.5 7.1 1 1.2 .5 .1 .3 .6-.8 1-4.1-.5-6.9-2.8-7.3-3.7-12.7-9-1-1.5z"/><path fill="#d00419" d="M75.9 237.8l1.2-1 1-.2 1 .3 17 12 8 5.1 .8 .8-.1 1-1.7 .1-4.7-1.6-4.8-2.1-5.5-2.9-11.9-8.5-.7-1.5z"/><path fill="#c80123" d="M76.5 237.8l1.1-.6 1.5 .3 17 12.2 3.2 2.6 .1 .5-.3 .4-3.3-.9-4.7-2.1-3.5-1.9-11-8-.5-1z"/><path fill="#c9073a" d="M77.1 238.4l.5-.4 1 .1 12.2 8.7 1.6 1.5 .2 .8 .6 .2-1.6 0-4.5-2.4-9.8-7.1-.3-.5z"/></g></g>
<g clip-path="url(#wd)"><g filter="url(#sm)"><rect x="353" y="54" width="135" height="259" fill="#4a46c0"/><path fill="#4946c4" d="M356 57.3l128.5 0 0 253-128.5 0z"/><path fill="#4846c8" d="M356 57.3l128.5 0 0 253-128.5 0z"/><path fill="#4846cd" d="M356 57.3l128.5 0 0 253-128.5 0z"/><path fill="#4746d1" d="M356 57.3l128.5 0 0 253-128.5 0z"/><path fill="#4646d5" d="M356 57.3l128.5 0 0 253-128.5 0z"/><path fill="#4545d9" d="M356 57.3l128.5 0 0 253-128.5 0z"/><path fill="#4242de" d="M356 57.3l128.5 0 0 253-128.5 0z"/><path fill="#4040e2" d="M356 57.3l128.5 0 0 253-128.5 0z"/><path fill="#3d3de7" d="M356 57.3l128.5 0 0 253-128.5 0z"/><path fill="#3b3beb" d="M356 57.3l128.5 0 0 253-128.5 0z"/><path fill="#3939ef" d="M356 57.3l128.5 0 0 253-128.5 0z"/><path fill="#3636f4" d="M356 57.3l128.5 0 0 253-128.5 0zM404.7 141.3l-.7-.6-1.5-.2-3.1 1.3-2.6 2-2.8 2.7-6.5 8.7-1.5 1-1.5 .5-5.9 .1-.4 .5 0 .5 .5 1 2.8 2.8 2.5 .8 10-.3 9.5 .9 1.5-.2 1.5-.7 1.2-1.3 .8-1.7 .4-2.3 0-2-1.4-6.5-2-5.5z"/><path fill="#3434f8" d="M359 57.3l125.5 0 0 253-128.5 0 0-144.7 2-.5 4 .3 1.5-.2 2-1.1 4.5-3.7 2.5-.7 2 .1 3 1.3 3 3 1.5 .9 2.5 .2 10-.5 3 .5 3.5 1.1 7.5 3.8 2.5 1.7 2.3 2.5 2.7 4.5 1 .2 .9-.7-3.4-16-1.5-5.5-4.9-13.5-1.1-4.1-1-1.6-1-.4-1.5 .1-3 1.3-3.2 2.2-5.1 5-5.2 7.3-1.5 1.2-1.5 .4-2-.2-1.5-.9-1-1.3-.5-1.5 .2-2 3.6-6.5 3.4-4.5 3.2-3.5 9.5-8.5 .9-1.5-.1-2-2.2-4.2-4-5.2-5.5-5.5-6-4.8-.4-2.8-.1-5.2-6-1.1-10.5-.5-1 1.3-1.5 3.5-1 1-1.5 3.5-.5 0 0-1-.5-.5 0-1.5-.5-.5 0-2-.5-.5 0-2-.5-.5 0-3.5-.5-.5 0-15.5 .5-.5 0-6 .5-.5 0-5 .5-.5 0-3.5 .5-.5zM442 167.4l-.5 .1-.5 .5-.4 1.8 .3 8.5-.7 6-2.4 5.5-4.8 7-.3 1 2.1 3 5.2 6 2 1.5 2 .6 1.5-.8 .5-1.8-.4-10 .6-16.5-.5-5-.7-2.9-1.5-3.2z"/><path fill="#3131fd" d="M433.6 57.3l3.8 1.5 .6-.5 1.5 .6 1-.1 1 .5 1-.2 1 .5 1-.2 1 .6 1-.2 1 .7 1.1-.2 .9 .7 1-.2 1.3 1 1.2-.1 .7 .6 .8 0 2.9 2.5 8.4 8.5 8.7 10.5 3.2 5.5 6.8 14.4 0 128-2.8 4.1-4.1 4.5-4.1 3.9-8 6.5-2.4 2.6-1.3 3-.6 6-1.2 4-4.7 8.5-3.8 5-2.3 2-2.7 1.9-9.7 5.1-6.8 4.1-3 1.3-3 .3-2.5-.5-2.5-1.7-2-2.2-4.4-6.3-2.6-2.5-2.5-1.1-7-1.5-2-1.1-1.8-1.8-1-2-.7-2.5-.3-5.5 1-6 2.7-8 .1-2-.5-.7-.5 0-2 1.1-2 .4-2-.5-1-.7-.9-1.1-1.3-3-1.5-6 0-5 .9-4 1.6-3.5 2.2-3 3.5-2.9 4-1.9 5.5-1.9 7.8-1.8 1-.5 1.2-1.5 .4-1-.3-1.5-6.6-6-2.7-3-2.2-3.5-2.6-6.2-1-1.3-1-.2-13.5 3-6.5 .3-1.7 .4-.1 .5 1.7 2 8.1 5.6 1.4 1.9 .5 2-.1 2-.5 1.5-1 1.5-1.3 1.1-1.5 .8-2 .3-2-.3-1.5-.8-8-7.3-9-10.4-1.5-.9-4-1.2 0-18 7-4.8 7.5-7.7 1.5-.8 2-.3 1.5 .3 1.5 .8 3 3.6 1 .7 3 .3 9-.4 3.5 .3 3 1.1 3.7 2.1 5.3 2.3 1.7 1.7 .7 1.5 2.6 11.5 .5 1 .5 .2 .5-.3 7.8-8.4-.8-3.5-4.1-9.5-3.9-11-4.8-12-1.1-6-1.1-1.6-2-.5-2 .6-3.5 1.8-3 2.2-3.3 3-2.7 3-4.6 6.5-.9 .8-1.5 .3-1.5-.6-.9-1-.3-1.5 .2-1 2.2-4 4.5-6.5 5.3-5.6 7.8-6.4 1.3-1.5 .6-1.5 0-2-2.1-8.5-.8-5.5-1.6-26.5 .1-3 .4-3 .9-3 1.4-3 2.6-3.5 3.4-3.1 5-3.1 5-2.2zM439.5 156.6l-.5 .3-1.4 8.9 .1 2.5 1.2 7 .2 3-.4 3.5-.5 2-1.4 3-1.8 2.5-7.7 7.5 2.6 4 1.4 5 .7 1.1 9.5 4.9 2.5 .8 2 .1 1.5-.5 1-.9 1-2 .3-2-.7-11 0-16-.5-6.5-1.1-5.2-2-5.1-3.5-5-1.5-1.5z"/><path fill="#2d38ff" d="M424.5 58.9l5.5 .6 5.5 1.8 1-.2 1 .5 .5-.3 3.5 1.1 .9-.1 1.1 .6 .9-.1 1.1 .6 .5-.3 1 .7 1 0 1 .6 .8-.1 1.9 1 3.8 3.5 7.5 8 8.2 10.5 2 3.5 5.5 11.5 5.8 13.7 0 110.3-4.2 7-5.8 6.7-5.5 5-10.3 7.8-3.4 3.5-1 2-.9 6.5-1.7 6-1.8 4-2.2 3-3.2 2.6-4.5 2.4-8.5 2.9-5 1-2.5-.3-2-1-6.8-6.1-3.2-2.2-2.5-.8-6.5-1-2-.9-1.2-1.1-1.3-2-.6-2-.1-5 1.3-6 3.4-7.5 .1-1.5-.3-1-1.3-1.3-2.5-.6-3 3.2-1.5 .5-2-.2-1.9-1.6-2.2-5.5-.8-5 .3-5 1.7-5 2.4-3.5 2.5-2.2 4.5-2.5 6-2.1 8.9-2.2 1.1-1 1.1-2.5 0-1-.6-.8-6.5-5.8-3.3-3.9-2-3.5-2.7-7.4-1-1-1-.1-13 3.5-11 .5-1.5 .5 .3 1 2.6 2.5 9.2 6.5 1.7 2 .4 2.5-.8 2.5-1.9 1.8-2.5 .6-1.5-.2-1.5-.7-5-4.2-5.4-5.3-6.5-8-1.6-2.4-4.5-2.4 0-10.9 15-15.1 1-.7 1.5-.4 1.5 .1 1.6 .8 1.3 1.5 1.3 2.5 .8 .6 2.5 .4 10.5-.3 2.5 .2 3 .9 4 2.3 4 1 1.5 .8 1.5 1.5 .8 1.6 2.5 12 .7 1.8 .5 .4 1-.6 2.9-3.6 5.7-6 .2-1-.8-3.1-4.2-9.9-9-23-.5-2-.2-4.5-1.1-1.9-1.5-.6-2.5 .2-2.5 .9-3.5 2.1-3.1 2.3-4.1 4-3.3 4-3 4.3-.5 .2-1-.2-.6-1.3 3.3-6 3.8-5.3 4.5-4.8 8-6.5 1.7-1.9 .8-1.9 .1-2.6-2.1-11.5-1-16.5-1.1-11.5 .2-5.5 1.5-4.5 1.3-2.5 2-2.5 2.1-1.9 2.5-1.7 3.5-1.7 4-1.4 3.5-.9zM436 146.6l-.6 .7-.1 2.5 1.3 10-.1 7.5 1.7 9.5-.3 5-1 3-1.8 3-2.7 3-5.1 4.5-.9 1.5 2.9 4.5 .6 2 .4 4.5 .7 1.2 11 4.8 3 .8 2 .1 1.5-.5 1.5-1.4 1-2 .7-3-.1-4-.8-7.5-.2-17-.6-7-1.5-6-2-4.8-6.5-10.7-2.5-3.3z"/><path fill="#2849ff" d="M423.5 60.8l5 .3 5.7 1.7 4.8 .8 1 .5 .5-.3 1 .6 1 0 1 .7 1 0 1 .7 .5-.3 1 .7 1 .1 1.5 .7 6.6 6.3 6.9 8.1 4.6 5.9 2.7 4.5 6.4 13.5 4.5 10.5 1.6 5.5 1.7 16.8 0 84.2-4.2 8-2.8 3.8-6 6.7-6.5 5.5-6.5 4.3-5 2.5-3.5 1.1-8.8 1.6-2.8 1-.3 .5 .5 1 5 4 2.3 3 1.1 3.5-.4 3.5-.8 2-1.1 1.5-3.2 2.7-4.5 1.9-5.5 .9-4-.3-3.5-1-3-1.5-6-3.9-2.5-1.2-2-.5-5.5-.3-1.5-.4-1.4-.9-1.1-1.4-.7-1.6-.3-2 .1-2.5 .4-2.5 1.1-3 3.8-7 .3-2-.5-1.5-1.1-1.5-1.4-1-4.2-.4-.8 .4-.9 2.5-1.3 1.4-1.5 .6-1.5-.1-1-.4-1-1-1.7-3.5-1-3.5-.4-3 .3-5.5 1.7-5 2.4-3.5 2.7-2.3 5-2.5 5.5-1.9 8.1-1.8 1.4-1.1 1.5-2.9 .1-1-.5-1-6.8-6-3.4-4-2.2-4.5-2.7-7.8-.5-.6-1-.3-13.5 4.1-3 .3-11.5 .3-.4 .5 .9 1.5 6.5 5.5 6.5 4.6 1.3 1.4 .6 2.5-.7 2-1.7 1.6-2.5 .5-2-.8-3-2.3-7.5-7-6.7-8-.9-3.5-2.9-2-1.5-1.5-.9-2.5 .7-3 4.3-6.5 10.4-10.7 2-1 1.5 .2 1.6 1 .9 1.5 .7 2.5 .8 .7 16 .2 3 .9 3.9 2.2 4.1 .6 2 .9 1 1.1 .8 1.4 1.1 4.5 1.6 8.5 .5 1.5 1 1 1-.7 3.2-4.3 6.1-6.5 .1-1.5-.9-3.1-13.2-32.4-.4-2.5 .2-4.5-.5-1.5-1.6-1.5-2.5-.5-3 .4-3.5 1.3-.8-.2 .2-.5 5.1-5.1 1.5-1.9 .7-1.5 .4-2-2-13.5-.9-16-1.4-11.5 0-4 .9-4 1.1-2.5 1.6-2.5 1.9-2 2.2-1.7 3-1.6 4-1.4 4-.9zM433 136.7l-.5 .1-.5 1.5 .1 3 .9 6.3 2.5 11.7 .2 7 1.7 9 .2 4.5-.7 3.5-2.2 4-2.7 3-5 4.5-.8 1-.3 1 2.4 3.5 .8 2 .4 6.4 .6 1.6 12.9 5.2 3 .7 2-.1 2-1 1.4-1.8 1-2.5 .6-3 0-3.5-.9-8.5-.5-19-.7-6-1.4-5.3-2-4.8-11.5-20.5-1.5-2.3z"/><path fill="#2259ff" d="M423 62.3l5.5 .3 5 1.5 2.5 .3 1 .5 .5-.1 1.1 .5 .9 0 .9 .5 2.6 .6 1 .6 2.5 .7 1.5 .7 4 3.7 3.9 4.2 9.9 12.5 2.6 4.5 4.4 9 6.6 15.5 1.2 4.5 1.8 15 2.1 11.2 0 71.1-5.8 10.7-5.1 6.5-3.6 3.8-4 3.5-7.5 5-4 1.9-3 1-8.5 1.6-10.5 .8-9 .1-3.3 .8-.1 .5 .4 .5 1.1 .5 7.9 2 5.5 2.4 3.8 2.6 2.7 3.1 .8 1.9 .3 2-.4 2-.9 1.5-1.6 1.5-1.8 1-2.4 .8-2.5 .3-4.5-.3-4.5-1.3-3.5-1.9-5.5-4-2-1-2-.3-4.5 .4-1.5-.3-1-.5-1-1.3-.5-1.5 .2-3.6 .8-2.5 1-2 4.4-6 .2-1.5-.9-2-1.9-2.5-1.8-1.5-1-.5-2-.3-4 .5-.5 .8-.3 2.5-.7 1.1-1.5 1-2 .1-1.7-1.2-2.1-4.5-1.1-5 .2-5.5 1.3-4.5 2.5-4 2.9-2.5 4-2.2 7.5-2.5 7.6-1.8 1.5-1.5 1.3-3-.4-1.6-7-6.2-3.8-4.7-1.6-3.5-2.1-7.1-1-2.3-.5-.5-1-.2-8.5 3.2-5.5 1.5-6 .4-10 .1-.2 .4 .4 1 2.5 2.5 13.3 10.6 .6 1.9-.4 2-1.2 1.3-2 .6-2-.6-3.5-2.6-5-4.4-3.2-3.3-5.5-6.5-.5-1.5 .3-2.5-3.2-3-.9-1.5-.3-1.5 .5-2.5 1.7-3 .8-2.5 .6-1 10.2-10.2 1-.6 1-.2 1.5 .4 1 1.1 .5 1.5-.4 2.5 .4 .6 17.5 .2 3 .9 3.5 2 4.5 .2 2 .8 1 .9 .8 1.4 1.4 5.5 1.4 7.5 .9 2.6 1 .9 1-.7 2.9-4.3 5.6-5.7 1.3-1.8 0-2-.9-3-13.3-32.5-.2-2.5 .6-4.5-.3-1.5-1.7-1.9-3-1.4-.8-.7 .2-1.5 1.6-3.5 .4-2.5-1.8-12-1.1-17-1.4-9.5-.3-4.5 .4-3.5 1-3 1.7-3 2.6-2.7 3-2 3-1.2 4-1.1zM430.4 128.3l-.4 .1-.5 .8-.2 1.1 .3 6.5 1.8 9.5 3.3 13 .4 7 1.8 9 .2 4.5-.7 3.5-1.5 3-2.5 3-5.9 5.4-.8 1.1-.1 1 2.6 4 .6 1.5 .2 7.5 .7 2 5.3 1.7 8.5 3.4 3 .6 2-.1 2-1 1.5-1.8 1.3-2.8 .7-4 0-3.5-1-9.5-.5-19-.8-6-1.7-5.8-2-4.6-14-26.7-2-3.2z"/><path fill="#1c69ff" d="M420.5 63.6l4.5-.2 4 .5 4 1.4 .5-.2 5 1.3 1 .6 2.5 .6 1 .7 .8 0 .7 .5 .7 0 1.8 1 3.3 3 4.6 5 9.2 12 2.7 4.5 8.3 18 2.6 6.5 1 4 1.9 12.5 3.9 18.6 0 63.9-7.8 13.5-5.3 6.5-5.9 5.6-5 3.5-6 3-4 1.3-8.5 1.5-10.5 .4-11-.9-8-3.6-2.5-1.7-4-3.5-2.5-1.1-2 .1-4.5 .8-.5 1.6 0 2-.8 1.5-1.2 .9-1 .2-2-.7-1.3-1.9-1.3-3-1.2-6 .1-3.5 .4-2.5 .9-2.5 1.3-2.5 3-3.5 4.6-2.8 7-2.5 7.5-1.6 1.4-.6 1.1-1.1 1.5-2.8 .2-1.1-.2-.9-7.3-6.6-3.3-4-2.2-4.5-2.6-9.5-1.1-1.4-1 0-7.5 3.3-6 1.9-8.5 .6-9-.3-.8 .4 .8 1.5 3 3 13.4 11 .6 1.5-.3 1.5-1.2 1.2-1.5 .5-1.5-.5-8-6.1-3-2.8-4.5-5.1-2.3-3.2 .1-1.5 .9-1.5 0-.5-3-2.5-.9-1.5-.3-1.5 .2-2 1.5-3 .3-2.5 .5-1 8.5-8.5 2.5-2 1-.3 1.5 .7 .6 1.1-.1 1-1.6 3 .4 1 2.2 0 5-.7 12 .3 3 .8 3.5 2.2 4.5-.4 2.5 .9 1.2 1.4 .7 2 2.6 12.6 1 2.3 1 .9 1-.7 2.2-3.6 1.6-2 6.2-6.5 .3-2-1-3.5-13.2-32.5-.3-2.5 1.1-4.5-.2-2-1.2-1.8-2.5-2-.5-.9 .9-4.3 .1-2.5-1.8-12.5-1.2-17-1.4-8-.4-4.5 .2-3 .8-3 1.6-3 2.1-2.5 2.1-1.7 2.5-1.3 4-1.1zM428.5 123.2l-.7 .6-.5 2-.1 3.5 .4 4 1.8 9.5 4.8 17 .4 6.5 1.9 9 .2 4.5-.5 3-1.5 3-2.7 3.4-6 5.5-.6 1.1-.1 1 2.6 4 .6 1.5 .2 9 .3 1.5 .5 .5 4.5 1.1 10 3.8 2.5 .5 2-.1 2.5-1.2 1.7-2.1 1.5-3.5 .7-4 0-4-1.1-10-.5-18-.8-6-2.6-8.5-7.8-15-7.6-15.6-3.5-5.9-1.5-1.4zM418 264.3l.6-1 1-1 2.9-1.1 3.5 0 4 .9 3.6 1.7 3 2.5 1.4 2.5 .3 1.5-.3 1.3-1.5 1.9-3 1.2-3.5 .2-4-.9-3.5-1.8-2.9-2.4-1.7-3zM408 261.6l.3 .2-.3 .5z"/><path fill="#177aff" d="M419 64.7l5-.3 5 .6 12 3.6 4.8 2.2 3.3 3 4.6 5 9 12 2.4 4 4.3 9 6.5 15 8.6 38.8 0 58.4-.4 1.3-3.4 5-3.5 6.5-2.4 3.5-4.8 5.8-5 4.7-5 3.5-5.5 2.8-5 1.5-7.5 1.3-5 .4-5.5 0-10-1-2.3-1-3.7-2.4-4.5-2.5-4.5-3.6-1-.5-1.5-.3-7 1.2-.6 1.1-.1 3.5-.8 1.4-1 .7-1 .2-1-.1-1-.5-1.1-1.7-1.3-3-.9-3.5-.4-3.5 .6-5 .8-2.5 1.3-2.5 3-3.4 4.5-2.8 7-2.5 7.5-1.6 1.5-.6 1.5-1.6 1-2 .4-1.5-.2-1-8-7.5-3.1-4-1.9-4.5-2.6-10-.6-1.1-1-.4-8 4-5 1.8-3 .6-7 .5-4 0-7.5-.7-2-1-1.5-1.2-.9-1.5-.4-1.5 .3-2 1.5-3-.2-2 .6-1.5 6.1-5.9 3-2.4 2.5-1.4 .6 .2 .3 1-2.5 4.5-.3 1 .4 .3 1 .1 8.5-1.5 3.5 0 9.5 .8 2 .8 2.5 1.8 1 .3 4-1 1.5 .1 1.5 .8 1.1 1.5 .8 2.5 2.6 12.5 1 2.1 1 .8 1-.5 1.9-3.4 1.4-2 5.7-5.7 1.4-1.8 .2-2-.9-3.5-13.4-33 0-2.5 1.3-4 .2-1.5-.7-2-2.4-3-.5-1 .4-6.5-1.8-12-1.1-16-1.7-9-.6-4.5 .2-3 .7-2.5 1.2-2.5 1.9-2.5 2.1-1.8 2.5-1.4zM427.5 119.1l-.7 .2-.7 1-.5 3 0 4.5 .9 6.5 2.2 9.5 4.8 15.5 .8 7.5 1.7 7.5 .5 4-.7 4.5-1.4 3-2.5 3-5.9 5.5-.9 1.5 .2 1.5 2.4 3.5 .6 2 .2 10.9 .5 .8 5 1 10 3.8 3 .6 2-.1 2-1 2.4-3 1.6-4 .7-4 0-4-1.1-10.5-.6-17.5-.7-6-1-4-1.8-5-15.4-31-4.6-8-1.5-1.9zM401.2 231.8l-.7-.1-1.2 1.1 .2 .2 .5-.1zM363.5 190.4l1.5-.9 1 .3 5 5 12.5 10.5 .7 1.5-.1 1-.6 .9-1 .5-1.5-.2-4.5-3-5.5-4.5-7.8-8.7-.2-1zM423.6 266.3l.9-1 1-.4 1.5 0 2.1 .4 1.9 1 1 1 .8 1.5-.1 1-1 1-1.2 .4-1.5 0-2-.5-1.8-.9-1-1-.7-1.5z"/><path fill="#128cff" d="M418.5 65.5l5-.2 5 .6 10 3 6 2.6 2.7 2.3 4.8 5.2 9.5 12.8 2.4 4 4.3 9 6.2 14.5 2 9 1.7 5 3.1 12 3.3 15.9 0 52.5-1 3.6-3.5 4.5-3.5 6.5-3.5 5-4.3 5-4.8 4.5-4.9 3.3-5 2.4-4.5 1.4-7.5 1.3-9 .4-11-1.1-2-.9-4.5-3.5-4.5-2.6-3.8-3.2-2.7-.7-3 .5-2.5 .9-2 .1-.5 .4-.5 1.7 .2 3.1-.6 1.5-1.1 .9-1 .3-1.9-.7-1.1-1.7-1.4-3.3-.8-3-.3-3.5 .5-5 .9-2.5 1.3-2.5 2.8-3.3 4-2.5 6.5-2.4 7.9-1.8 2.1-.7 1.5-1.6 1.6-3.2-.1-1.5-1.3-1.5-6.7-6-3.1-4-1.9-4.5-2.6-11-1.2-2.5-.7 .2-2.8 2.3-7.2 3.6-4 1.4-7 .8-6 .1-7.5-.8-1.5-.6-1.4-1-1-1.5-.4-1.5 .5-2.5 1.5-2.5-.4-2 .2-1 5.3-5 3.7-2.3 .6 .3-1.9 4-.2 1.3 2-.2 8.5-1.9 3-.2 6 .5 2.5 .6 3 .1 2 .8 3 2.4 4-1.9 1.5-.1 1.5 .6 1 1 .8 2 2.9 13.5 .9 2 1.4 1.5 .5 0 .5-.4 1.9-3.6 1.6-2.3 5.7-5.7 1.5-2 .3-2-1-3.6-13.3-32.9 0-2.5 1.9-4.5 .2-1.5-.7-2-2.4-4 .1-5-2-13-.7-11.5-.6-5.5-1.8-8-.6-4.5 .2-3 .7-2.5 1.3-2.5 1.6-2 2.1-1.8 2-1.2 2-.7zM426 115.4l-1 .9-.9 4 0 5 .6 5.5 2 9.5 6.3 19 .9 7.5 1.8 7.5 .5 4-.6 4-1.3 3-2.8 3.5-5.5 5.1-1.1 1.9 .2 1.5 2.4 3.5 .6 2 .1 12.5 .8 .8 2.5 .1 2.5 .6 10.5 3.8 2.5 .5 2-.2 2.5-1.2 2.2-2.9 1.7-4 1-5 0-4-1.1-11.5-.6-16.5-1-7-1.2-4.5-1.7-4.5-16.8-33.4-5.5-9.4-1.5-1.5zM404.5 230.3l-1.5 0-2.8 1-1.8 1.5-.9 2 .5 .5 5.9-4zM363.7 190.8l1.3-.7 1 .3 3.9 3.9 13.1 11.8 .3 .7-.3 1.1-.5 .4-.8 0-2.2-1.1-4.5-3-3.5-2.8-8-8.6-.2-1z"/><path fill="#0da1ff" d="M417.5 66.3l5-.3 5.5 .6 8.5 2.6 7 3.1 3 2.5 3.7 4 8.6 11.5 4 6.5 6.4 13.5 3.7 9 2.2 9 2.3 5 2.9 11 2.6 11 1.5 9 .1 47-1.3 5.5-1.2 1.8-2.6 2.7-4.2 7.5-3.6 5-4.1 4.8-4 3.7-4.5 3.1-5 2.5-4.5 1.4-6.5 1.2-4.5 .5-5.5 0-5.5-.4-5.5-.9-2.3-1.4-3.7-3.8-4-2.4-3.1-3.3-.9-.5-2-.4-4 .6-3.5 1.3-1.5 0-.5 .4-.6 1.6-.2 1.5 .2 3-.2 1-1.2 1.2-1.5 .2-1.5-.8-1-1.6-1.2-3-1-4-.1-5 .7-3.5 1.9-4 2.5-3 3.2-2.2 3.5-1.5 6-2 7.8-1.8 1.7-1.6 1.7-3.4 0-1.5-.6-1-7.6-6.8-2.2-2.7-1.4-2.5-1.7-4.5-2.8-14.5 .3-1.5 1.3-1.5 2-.8 2 .3 1.2 1 1.4 4 2.4 11.5 1.5 3.1 1 .9 .5 .1 .5-.3 3-5.6 7-7.2 1.2-2 0-2-1.1-3.5-13.1-32.5-.1-1.5 .3-1.5 2.4-4 .2-2-2.5-7-.3-3.5-2-12-.6-6.5-.2-5-.8-6.5-2.2-9-.4-3.5 .1-2.5 .6-2.5 1.2-2.5 1.3-1.8 1.9-1.7 2.1-1.3zM425 112.1l-1 .7-.5 1-.9 4.5 .1 6 .9 7.5 1.9 8 5.1 13.5 1.9 6 1 7.5 1.9 7.5 .5 4-.5 4-1.4 3-2.5 3.1-5.5 5.1-1 1.3-.3 1 .2 1.5 2.4 3.5 .6 2-.1 14 .2 .6 .5 .3 2.5-.2 2.5 .5 11 3.9 2.5 .4 2-.2 2.6-1.3 2.4-3 1.8-4 1.2-5.5 .1-4.5-1.2-12.5-.5-15.5-.9-6.5-1-4-1.8-5-9.5-19.5-13.7-25.6-2-2.6zM407.8 229.8l-.8-.4-3.3 .4-4 1.5-1.2 1-1 1.4-.5 1.6 .1 1.5 .4 .5 1-.6 3-2.5zM361.2 183.8l.2-2.5 2.1-3-.8-2 .3-1 4-3.5 1.5-.7 .4 .2 0 .5-1.5 3 .1 .8 8.5-2.7 4.5-.8 3-.2 4 .4 5 1.1 1.5-.1 1.5 .4 2 1.4 1.3 2.2 0 1-.5 1.5-1.8 1.9-6 3.6-5 1.9-2 .4-9.5 .8-8.5-.7-1.5-.5-1.4-.9-.8-1zM364 190.9l1-.4 1 .4 12.9 12.4 1.8 2.5-.7 .3-2.5-1-3.5-2.3-3-2.4-7.1-7.6-.3-1z"/><path fill="#09b6ff" d="M416.5 67l5-.3 6 .6 6.6 2 7.4 3.1 3 2.1 3.2 3.3 4.2 5 4.1 5.7 4.5 6.8 6.1 12.5 5.1 12 2.3 9 2.7 4.5 4.3 16 3 15.5 .5 4.3 0 39.6-1.7 8.1-1.2 1.5-3.1 2.9-3.8 7.1-4.3 6-3.4 3.9-3.9 3.6-4.6 3.2-4.5 2.3-4.5 1.4-6.5 1.3-5.5 .5-5.5-.1-9-1.2-2-.9-1.4-1.5-2.4-3.5-3.6-3-1.7-3.5-1.4-.7-2-.4-4.4 .1-.1-.5-.2 .5-.4 0-.1-.5 1.3-1.5 6.8-4.5-.9-.6-2.9 .1-4.9 1-2.5 1-2.2 1.8-1.1 1.7-.4 1.6-.1 2.4-.9 5 .1 3.5-1.2 1.5-1.4 .2-1.5-.9-2-4.1-1.1-4.2-.2-3.5 .5-4 1.4-3.5 2.4-3.5 2.5-2.1 4-2.1 6-2.1 9-2.2 1.9-2 1.5-3.5 0-1-.9-1.4-5.9-5.1-2.4-2.5-1.5-2-1.5-3-1.5-4.5-1.1-5.5-1-8.5 .5-1.5 1.4-1.2 1.5-.4 1.5 .4 1.2 1.2 1.4 4.5 2.1 10.5 1.4 3 .9 1.1 1 .5 .8-.6 1.5-3.5 1.3-2 6.9-7.2 1.5-2.3-.1-2-1-3.5-13.1-32.5-.1-1.5 .4-1.5 .9-1.6 2.2-2.4 .5-1 .1-1-2.3-7.5-2-10-1.4-10.5-.5-7-1.1-6.5-1.9-7-.7-4.5 .6-4.5 .8-2 1.3-2 1.5-1.5 1.9-1.4zM424 109.2l-1 .9-.9 1.7-1 5 0 6 .8 7.5 1.8 7.5 6.4 15.5 2 6 1 7 2 8 .5 4-.5 4-1.4 3-2.4 3-5.8 5.5-1 1.8 .3 1.7 2.3 3.5 .7 2 0 8-.8 9.4 3-.9 2.5 .1 11.5 3.9 2.5 .3 2-.2 3-1.4 2.4-2.7 2.2-4.5 1.5-6 .1-4.5-1.1-11-.6-17.5-.9-6.5-2.7-9-9.4-19.5-4.4-7.5-10.6-20.4-2-2.9-1-.7zM397.3 177.3l0 1.5-.8 1.4-2 1.1-1.5 1.6-4.5 2.6-5 1.5-4.5 .7-5 .3-8.5-.7-1.5-.4-1-.7-.8-.9-.6-1.5-.1-1.5 .5-1.5 1-1.3 2-1.6 6.5-3.1 7-1.9 4.5-.5 6 .8 1.5 .6 .5 0 .5 .4 4 .8 1 .8zM365.5 174.4l.1 .9-1 1.5-.6 .2-.5-.3-.2-.4 .2-.9 1.5-1.1zM364.1 191.3l.9-.5 .9 .5 8.6 8.5 2.3 3-.3 .3-1-.2-4.5-3.1-7.1-7.5z"/><path fill="#05caff" d="M417 67.5l5.5-.1 5.5 .8 6 2 6.9 3.1 3.1 2.2 3 3.1 4 4.9 4.1 5.8 4.3 6.5 4.6 9.5 6.4 14.5 2.4 9 2.7 3.5 .7 1.5 4.4 16 2.8 15 1.1 9.7 0 30.8-1 6.5-1 4.6-1 1.4-3.6 3-3.7 7-4.3 6-3.4 4-3.6 3.5-4.4 3.1-4.5 2.3-4.5 1.5-6.5 1.3-6 .5-5-.1-6.5-.9-2.8-.7-1.2-.7-1.3-1.8-1.2-4-1.6-3 0-1.5 .9-2.5-.3-1.8-1-.8-2-.3-.5-1.1 2.5-1.9 0-.6-6.5-.1-4.4 .6-4.1 1-2.1 1-1.4 1-2 3.1-1.1 5.9 0 6-.6 1-.8 .4-1 .1-1-.5-1.1-1.5-1.3-3-1-4-.3-4 .8-4.5 1.6-3.5 2.8-3.4 3.5-2.3 4-1.7 4-1.3 9-2.2 2-2 1.5-3.3 0-1.3-.5-1.1-8.5-7.9-1.5-2-1.6-3-1.2-3.5-1.3-6.5-.8-8.5 .5-1.5 .9-.8 1.5-.5 1.5 .4 1 .9 1.4 4.5 1.5 8 1 3.5 1.6 2.9 1.5 1.1 .5-.1 .5-.6 1.3-3.3 1.5-2.5 6.8-7 1.6-2.5-.2-2.8-1.2-3.7-7.3-18.5-3.5-8-2-5.5 .1-1.5 .9-1.9 4.7-3.6 .8-1.5 .9 .5 4.8 9 5.3 12 2 6 .8 6 2.1 8 .5 4-.5 4-1.4 3-2.5 3-5.3 5-1.3 2 .2 2 2.4 3.5 .6 2 .1 7-.9 8-1 2.5-2.1 3-2.6 3-.1 .7 1.5 .4 1.5-.4 4.5-4.3 2.5-1 3 .3 7 2.6 2.5 .5 3 0 3-.7 3-2.1 2-2.7 2.2-4.8 1.4-5.5 .2-5.5-1.1-10.5-.7-18.5-.8-5.5-2.7-9-9-19-5.3-8.5-11.2-22.1-1.5-2.4-1.5-1.5-1-.3-1.5 .9-1.1 1.9-1 3.5-.9 6 .3 9.5-.3 .5 .3 .5-.5 .5 .4 .5-.2 .4-.5-.2-.8-1.7-2.2-6-2.5-10-1.5-10-.3-5-1.6-7.5-2.1-7-.6-4.5 .8-4 2.1-3.5 3.2-2.5 2-.9zM395.6 177.8l-.1 .9-.5 .6-1 .4 .2 .6-.2 .5-.5 .2-.5 .8-.5 .2-1.5 1.3-2.5 1.5-3 1.2-3 .7-8.5 .9-8.5-.5-1.5-.5-1-.8-1.1-2 .2-2.5 .9-1.3 1-.8 7-3.8 6-1.7 6-.7 4 .6 4.5 1.2 .5 .7 .5-.1 1 1 1.5 .3zM364.5 191.4l.5-.2 .5 .2 6.5 6.9 1.2 1.5-.2 .2-1.6-.7-3.9-3.6-3.2-3.4z"/><path fill="#00dfff" d="M416.5 68.1l5.5-.2 5 .8 6.3 2.1 6.7 3.1 3 2.1 2.5 2.5 4 4.9 4.2 5.9 5.4 8.5 6.6 14 3.8 9 2.2 8.5 .8 1.2 2.5 2.2 .6 1.1 4.4 16 2.9 16 1.3 13 .3 7.6 0 13.1-1 9.8-1.4 7-1.1 1.4-2.7 1.6-.8 .8-3.8 7.2-3.4 5-4.1 5-3.7 3.6-4 2.9-4.5 2.3-5 1.7-6 1.2-8 .5-7.5-.8-5-1.6-1-1.3-.2-1.5 .7-1.7 1-.9 1-.2 .5-1.2 .5-.1 1-2.2 .5-.2 1-1.5 5.5-5.5 2.5-1.1 10-2.4 4-1.7 3.5-2.7 2.6-4.1 2.4-6.5 .9-6-1.1-13-.6-16-.6-6-1.2-5.5-1.8-5.5-8.9-19-1.2-2-2.5-3-7.7-14.5-5.8-12.2-2-3.5-2-1.9-1.5 .1-2 2-3.1 6.5-.4 .2-.7-.2-1-2-1.8-7-.8-6-1.7-7.5-2.4-7-.6-4.5 .6-3.5 2-3.5 2.9-2.4zM419 136.4l2.1 1.9 3 4.5 5.3 11 2.1 6 1 6.5 2.6 10.5-.2 4.5-1.4 3.5-2.3 3-5.7 5.4-1.2 2.1 .2 2 2.3 3.5 .7 2 .1 7-.9 7.5-.8 2-1.5 2.5-2.9 3.2-2 1.4-4 1.3-6.5 .4-3.7 .7-4.8 1.5-2.2 1.5-1.5 2-.8 2.5-.8 4.5-.1 6-.7 1-1.4 .3-1.2-.8-1.7-3-1-3-.6-3.5 0-3.5 .5-2.5 1.8-4.5 2.7-3.3 4.5-2.8 6-2.2 8.5-1.9 1.9-.8 1.6-1.8 1.7-3.7-.2-1.5-.5-.9-7.5-6.7-2.3-2.9-1.6-3-1.2-3.5-1.3-6.5-.6-8.5 .2-1 .8-1 1.5-.5 1 .1 1.2 .9 1.5 4.5 2.4 11.5 1.6 3 1.8 1.5 .5-.1 .5-.5 1.5-3.9 1.5-2.5 6.9-7 1.5-2.5-.2-3-1.1-3.5-6.7-17-3.7-8.5-2.4-6.5 .3-2 1.4-1.8 2.5-1.1zM393 178.3l-.2 1.5-.8 1.7-.5 .2-1.5 1.4-5 2.5-4.5 1.1-7 .6-8-.5-2.2-1-1.2-2 .3-2.5 1.6-1.8 7.1-3.7 5.9-1.7 6-.4 4.5 .7 1.5 .7 .5 0 .5 .6 .5-.1 1 .7 .5 0 .4 1.5z"/><path fill="#00e2ef" d="M417 68.5l5.5 .1 5 1 5 1.7 7 3.4 2.9 2.1 2.4 2.5 4.1 5 3.8 5.5 5.4 8.5 6.9 14.7 3.4 8.3 2.4 9 .7 1 2.5 1.4 1 1.2 4 14.9 3 17 1 9 1.1 20.5-.7 11-.8 6-1 4-1.1 1.2-2.5 1.1-1 .9-4 7.7-3.5 5.1-3.6 4.5-4.4 4.2-3.5 2.5-4.5 2.3-4.5 1.5-6 1.3-8 .4-7-1-1.5-.7-.8 0-.2-.6-.5 .1-.4-1 .1-1.5-.3-.5 2.1-2 .5-.1 1.5-1.3 .5 0 1-1.1 7.5-3.9 13.5-9.5 3.4-3.6 1.8-3.5 2.5-7 .8-6-1.2-13-.6-15.5-.5-6-1.1-5-2.1-6.5-8.9-19-3.7-4.5-8.1-15-6.3-13.7-2.5-4.4-1.5-1.3-1.5 0-1.1 .4-2.9 2.1-1 .3-1.1-.9-1-2-3.4-12.5-2.3-6-.6-3 0-2 .8-3.5 1.9-3 2.7-2.1zM418 137.3l1 .5 2 2 2.5 3.2 3.2 5.8 2.7 6 1.7 5 1.4 7.5 2.1 7.5 .4 3.5-.3 3-.8 2.5-1.2 2-1.7 2-5.5 5.2-1.4 2.3 .2 2 2.4 3.5 .7 2.5 .1 6.5-.3 3.5-.8 4-1.3 3-3.1 3.8-3.5 2.4-3.5 .9-5.5 .5-5 .9-3.1 1-2.7 1.5-1.7 2-1.3 3.5-.7 4-.2 6-.8 .9-1 .1-1.6-1.5-1.5-3-1.1-4-.3-2.5 .2-3.5 .6-2.5 2.3-4.5 2.9-3 4.5-2.4 5-1.8 8.5-1.9 2-.9 1.5-1.6 1.5-2.9 .3-1-.1-1.5-.6-1-7.6-6.9-2.1-2.6-1.8-3.5-1.3-4-1-5.5-.5-7.5 .3-2 .9-1 1-.3 1.2 .3 1 1 1.3 4.2 2.4 11.3 2 3.5 1.1 1 1 .4 .6-.4 1.5-4.5 1.4-2.2 7.1-7.3 1.5-2.5-.1-2.5-1-3.4-6.8-17.6-3.7-8.5-2.3-6.5 .3-2 1-1.2 1.5-.8zM391.7 178.3l-.2 1.7-.5 0-.1 .3 .3 .5-.2 .4-.5 .1-1.5 1.6-5 2.5-4.5 1-6 .6-8-.4-2-.9-1.1-1.9-.1-1.5 .4-1 1.3-1.5 7.5-3.8 4-1.2 4-.5 5 .2 2 .5 .5 .4 .5-.1 .5 .5 .5-.1 1 .7 .5-.1 .5 1.1 .5-.1z"/><path fill="#00e3de" d="M417 69l3.5 0 4.5 .6 4 1.2 4.5 1.9 5.1 2.6 2.4 1.6 2 1.9 3.5 4.1 5.5 7.7 5.3 8.7 5.9 12.5 3.9 9 3.1 11.5 .8 .9 2 .1 1.3 1 2.7 11 0 1.4-.5 0-3-5.3-.5-.6-.3 .5 0 1 3.5 16 1.4 7.5 .9 9 .6 12.5 .8 6 .6 1.4 .5-.2 1.5-2.7 .5 2 0 10.5-.5 5-1.2 6.5-.8 1.1-3 1-1 .9-3.4 7-3.9 6-3.7 4.6-4.5 4.4-4 2.7-4.5 2.2-4.5 1.4-5.5 1.1-6.5 .4-6-.9-1.5-.7-.5 .1-.5-.7-.5 .1-.6-2.2 2.1-1.9 2.5-1.3 1-.9 7.5-3.8 3.6-2.6 7.4-6.2 2.4-2.3 1.6-2 2.8-5.5 1.9-6 .8-6-1.2-14-.5-14.5-.6-6-1-5-2-6-8.7-19-1.3-2-3-3-4.5-8-4.1-8-8.6-19.2-1-1-1.5-.4-5 .4-1.5-1.2-1-1.8-3.1-8.8-2.1-5-.7-3 0-2 .7-3 1.7-3 2.5-2.1zM417.5 137.9l2.9 2.4 2.6 3 2.9 5 3.1 6.5 1.7 5 1.3 6.5 2.4 8.5 .4 3.5-.1 2.5-.8 2.5-1.5 2.5-2.4 2.7-4.5 4.3-1.5 2.5 .2 2 2.6 4 .4 2-.1 2.5 .3 4-.5 4.5-.6 3-1.5 3-1.8 2.4-2 2-3 1.8-2.5 .6-6.5 .7-4.5 .9-3.4 1.1-2.5 1.5-1.5 1.5-1 2-1.1 4.5-.5 7-.5 .9-1 .1-.7-1-1.3-1-1-2-1.1-4-.3-2.5 .2-3.5 .6-2.5 2.3-4.5 1.8-2.1 1.5-1.1 4-2.1 6-2.1 7.5-1.6 2-.9 2-2.4 1.1-2.2 .4-1.5-.4-1.5-.6-.9-5.8-5.1-2.4-2.5-1.8-2.5-1.2-2.5-1.3-4-1-5.5-.3-7.5 .2-2 .6-.6 1-.4 1 .2 .9 .8 1.5 4.5 1.6 8.5 1.1 3.5 1.9 3 1 .9 1 .4 .5-.1 .4-.7 1-3.5 1.6-3 2.5-2.8 4.8-4.7 1.5-2.5-.2-3-1.1-3.5-6.5-17-3.8-8.5-2.2-6.5 .1-1.5 .9-1.2 1.5-.7zM389.9 178.3l0 2.5-1.9 1.9-4 2.1-4.5 1.2-6 .7-8-.3-2-1-.9-1.6 .1-2 1.3-1.7 7.5-3.7 4-1.1 5.5-.5 2.5 .2 4.5 1.4 .5 .8 .5-.1 .2 .7z"/><path fill="#00e4cc" d="M417 69.5l5 .2 5.5 1.3 6 2.6 5.5 3.1 3 2.4 3.1 3.7 4.1 5.5 6.8 11 3.4 7 6.8 15.5 3.8 16.2 5.2 19.8 1.5 8 1.1 10 1.3 29 .4 1.7 .3-.2-.1-.5 .7-.5 .6-1.5 .5-.2 .3 1.2-.1 4.5-.8 6-.9 1.1-2.5 .1-1 .7-3.9 8.1-3.1 5-4.2 5.5-3.8 3.9-4 2.9-4 2.2-4.5 1.6-5.5 1.2-6.5 .4-5-.6-1.5-.7-.5 .1-.5-.9-.5 .2 0-1.8 .5-.9 .5-.1 .5-.6 2.5-1.2 1-.9 4-1.8 3.5-2.2 6.5-5.3 4.5-4.4 1.7-2.1 1.9-3 1.9-4.5 1.9-6 .6-5.5-1.1-14-.6-14.5-.5-6-1.3-6-1.7-5-8.7-19-1.2-2-3.7-3.5-6.1-11-3.4-7-5.9-13.5-1.3-4.6-.9-.9-1.1-.5-4.5-.6-2.1-.9-2.1-3.5-3.8-8.5-1.4-5 .2-2.5 .5-2 1.1-2 1.6-1.7 2-1.3zM417 138.5l3.6 2.8 2.1 2.5 3.3 5.5 2.6 5.5 1.9 5.3 1.5 6.9 2.2 7.8 .5 3.5-.3 3-.7 2-1.5 2.5-6.9 7-1.4 2.5 .2 2 2.8 4.5 0 4 .4 2.5-.2 3.5-.8 5-1.7 3.5-2.6 3.3-2.5 1.9-1.5 .7-3 .9-7 .7-4.2 1-3 1-2.4 1.5-1.7 2-1.4 3.5-.8 5-.2 3.5-1.3 .9-.5-.1-1.2-.8-1.1-2-1.2-4-.3-2.5 .5-5 1.3-3.4 1.3-2.1 3.2-3.1 4-2.2 6-2.1 9.1-2.1 2-2 1.9-4 0-1.5-.5-1-8.5-8-2-2.8-1.1-2.2-1.3-4.5-.9-5.5-.2-7 .3-2 1.2-.7 1 .2 .5 .5 1.6 4.5 1.7 8.5 1.1 3.5 2.1 3.3 2 1.4 .5 0 .5-.6 1-4.1 1.7-3 7.3-7.5 1.5-2.5-.1-2.5-.9-3.1-6.8-17.9-3.5-8-2.3-7 0-1 .6-1.1 1-.7zM388.5 178.3l-.2 2.5-1.3 1.6-3 1.8-5.5 1.6-5 .6-8-.2-1.8-.9-.9-1.5 .1-2 1.2-1.5 6.9-3.4 4-1.1 4-.5 5 .5 1.5 .7 .5 0 .5 .7 .5-.1 .5 .8z"/><path fill="#00e4c3" d="M417 70.1l5 .2 4.5 1.1 5 2 6.8 3.9 2.7 2.2 2.5 2.8 3.7 5 4.3 6.5 4.8 8.5 5.2 11.1 3.7 8.9 1.8 7 1.4 7 5.8 20.5 1.7 8.5 1.2 11.5 .8 17 0 7.5-.7 9-.9 4.5-1.5 4-2.6 6-2.7 4.4-4 5.5-4 4.3-4 3-4.2 2.3-4.3 1.6-5.5 1.2-5.5 .4-3-.2-2-.5-.5-.4-.5 0-.5-1.6-.3 0 .2 .5-.4 .2 0-.7 .5-1.2 .5 0 .5-.7 1.5-.7 1.1-.9 2.4-1 4.5-2.8 4-3 3.5-3.2 5-5.7 1.7-2.8 2.4-5.5 1.8-6 .7-5.5-1.2-14-1-20-1.7-7.5-2.8-7.5-7.6-16.5-1.2-1.5-2.6-1.8-1.1-1.2-7.9-14.5-7.3-17-.7-4.5-.5-1.2-2-1.6-4.5-1.4-1.8-.8-1-1-5.4-10-1.1-4.5 .1-2 .7-2.2 1.1-1.8 1.4-1.5 2-1.2zM416.5 139l1 .5 .5 .7 .5 .1 3.6 3.5 2.9 4.6 3 5.9 2.2 6 1.4 6 2.2 7.5 .6 3.5-.1 3.5-.7 2.5-1.5 2.5-7 7-1.4 2.5 .3 2 2.4 3.5 .6 2-.2 2.5 .4 4.5-.4 3.5-.6 3.5-1.4 3-2.8 3.5-2 1.7-2 1.1-3 .8-7 .8-4.5 1.1-3 1-2.2 1.5-1.8 2-.9 2-1 4-.4 5-.7 .5 0 .5-.7 .5-.3-.5-1-.2-1.1-1.8-1.3-4-.3-2.5 .2-3.5 .6-2.5 2.3-4.5 3.1-3.1 4-2.1 6-2.1 9.2-2.2 1.3-1 1-1.5 1.3-2.5 .4-1.5-.2-1.4-.5-.9-8.3-7.7-1.5-2-1.6-3-1.3-4.5-.9-5.5 .1-8.6 .5-.6 1-.1 1 .8 1.7 5 1.5 7.5 1.1 3.5 2.2 3.6 1.5 1.2 1 .4 .5-.4 1-4.3 1.2-2.5 2.3-2.9 5.7-5.6 1.4-2.5-.1-2.5-.9-3.5-5.6-15-4.5-10.5-2.2-7 0-1 .7-.9zM386.7 178.3l.1 2 .3 .5-1.1 1.3-3 1.9-4.5 1.4-5 .7-8-.1-1.5-.7-1-1.5 0-1.5 1-1.7 5-2.5 4-1.5 4-.7 3.5-.1 3.5 .8 .5 .6 .5-.1 .5 .8z"/><path fill="#00e5b5" d="M417 70.1l5 .2 4.5 1.1 5 2 6.8 3.9 2.7 2.2 2.5 2.8 3.7 5 4.3 6.5 4.8 8.5 5.2 11.1 3.7 8.9 1.8 7 1.4 7 5.8 20.5 1.7 8.5 1.2 11.5 .8 17 0 7.5-.7 9-.9 4.5-1.5 4-2.6 6-2.7 4.4-4 5.5-4 4.3-4 3-4.2 2.3-4.3 1.6-5.5 1.2-5.5 .4-3-.2-2-.5-.5-.4-.5 0-.5-1.6-.3 0 .2 .5-.4 .2 0-.7 .5-1.2 .5 0 .5-.7 1.5-.7 1.1-.9 2.4-1 4.5-2.8 4-3 3.5-3.2 5-5.7 1.7-2.8 2.4-5.5 1.8-6 .7-5.5-1.2-14-1-20-1.7-7.5-2.8-7.5-7.6-16.5-1.2-1.5-2.6-1.8-1.1-1.2-7.9-14.5-7.3-17-.7-4.5-.5-1.2-2-1.6-4.5-1.4-1.8-.8-1-1-5.4-10-1.1-4.5 .1-2 .7-2.2 1.1-1.8 1.4-1.5 2-1.2zM416.5 139l1 .5 .5 .7 .5 .1 3.6 3.5 2.9 4.6 3 5.9 2.2 6 1.4 6 2.2 7.5 .6 3.5-.1 3.5-.7 2.5-1.5 2.5-7 7-1.4 2.5 .3 2 2.4 3.5 .6 2-.2 2.5 .4 4.5-.4 3.5-.6 3.5-1.4 3-2.8 3.5-2 1.7-2 1.1-3 .8-7 .8-4.5 1.1-3 1-2.2 1.5-1.8 2-.9 2-1 4-.4 5-.7 .5 0 .5-.7 .5-.3-.5-1-.2-1.1-1.8-1.3-4-.3-2.5 .2-3.5 .6-2.5 2.3-4.5 3.1-3.1 4-2.1 6-2.1 9.2-2.2 1.3-1 1-1.5 1.3-2.5 .4-1.5-.2-1.4-.5-.9-8.3-7.7-1.5-2-1.6-3-1.3-4.5-.9-5.5 .1-8.6 .5-.6 1-.1 1 .8 1.7 5 1.5 7.5 1.1 3.5 2.2 3.6 1.5 1.2 1 .4 .5-.4 1-4.3 1.2-2.5 2.3-2.9 5.7-5.6 1.4-2.5-.1-2.5-.9-3.5-5.6-15-4.5-10.5-2.2-7 0-1 .7-.9zM386.7 178.3l.1 2 .3 .5-1.1 1.3-3 1.9-4.5 1.4-5 .7-8-.1-1.5-.7-1-1.5 0-1.5 1-1.7 5-2.5 4-1.5 4-.7 3.5-.1 3.5 .8 .5 .6 .5-.1 .5 .8z"/><path fill="#00e499" d="M417 70.9l4 .2 5 1.2 5.4 2.5 6.1 3.8 2.6 2.2 2.4 2.8 6.9 10.2 4.4 7.5 5.7 12 4 9.5 3.5 14 6 20.2 1.7 7.8 1.2 11 .9 24.5-.8 9.5-2.5 9.5-2.2 5-3 5-3.3 4.6-4.1 4.4-3.9 3-4 2.2-4.5 1.7-4 1-4.5 .3-4-.4-.5-.7-.5 .2-.6-1.3 1.1-1.1 4-2.3 6.5-4.4 6-5.7 2-2.5 2.2-3.5 1.7-3.5 2.1-5.5 1.5-6 .4-4-1.1-13-.6-16.5-.6-5.5-1.1-5-1.9-6-9.1-20-1-1.2-3-1.7-1.5-1.6-4.3-7.5-4.3-8.5-6.4-15.5-.3-2 .3-3-.5-1.5-2-1.9-6.4-3.6-1.2-1-2.7-3.5-2.7-4.5-.8-2.5-.1-1.5 .8-3.5 1.1-1.8 1.3-1.2 1.7-1zM416 140.1l.5 .2 .3 .5 .7 0 .4 .5 .6 .2 3.1 2.8 5.4 9 2.7 7 4.4 16.5 0 4-1.3 3.5-2.3 3-5.5 5.3-1.4 2.7 .4 2.3 2.2 3.2 .6 1.5-.2 3 .4 4.5-.8 6-1.1 3-1.2 2-2.1 2.5-2.3 1.8-4 1.5-6.2 .7-5.8 1.3-3.2 1.2-2.3 1.5-1.6 2-1 2-.8 3-.6 4-.4 .5 .2 .5-.8 1-1.5 .1-1.6-3.1-.8-3.5-.2-2 .8-5 2.3-4.5 3-2.9 4-2.2 6-2.1 7.5-1.6 2-.7 2-2.2 1.7-3.8 .1-1.5-.6-1.5-7.7-7-2-2.5-1.6-3-1.3-4.5-.9-5.5 .1-6 .6-2.5 .6 0 .8 1 .9 2 1.2 4 1.2 6.5 1.3 3.5 2.1 3 2.5 1.8 .8-.3 .9-5 1.2-2.5 2.1-2.6 6-5.9 1.3-2.5 0-2.5-1.3-4.5-5.2-14-4-9.5-1.9-6-.2-2.5 .3-.5zM384.5 179.1l.1 1.7-.6 1.3-.5 .1-.5 .7-3 1.5-3 .8-3 .4-8.5 .1-1.6-.9-.6-1.5 .2-1.5 1-1.2 6-2.6 4-1.2 4-.2 3.5 .7 .5 .6 1.2 .4 .3 .8z"/><path fill="#00dc7d" d="M417.2 71.8l4.3 .3 4.5 1.4 5 2.6 5 3.4 2.8 2.3 1.7 2 7 10.3 4.5 7.9 6.1 12.8 3.6 8.5 4 14.5 6.1 19.5 1.8 8 1.2 10.5 .9 24.5-.2 4.5-.6 5-2 8-2.5 6-2.4 4-3.8 5.5-3.1 3.5-2.6 2.3-4 2.7-4 1.8-5 1.4-3.5 .3-2-.3-.9-1.2 .2-.5 1.7-1.6 8-5.8 3-3.1 3-3.9 3.1-5.6 2.4-6.5 1.7-6 .3-6.5-.8-9.5-.7-18.5-.5-5.5-1.4-6-2.1-6-8.9-19.5-1.1-1.3-3-1.2-1.7-1.5-4.8-8.5-4.2-8.5-6-15 0-2 .8-3-.2-1.5-1.4-1.9-2.9-2.6-6.7-4.5-3.5-4-1.1-2-.5-1.5-.2-2 .8-3 2.1-2.4zM417.5 142.2l2.5 1.6 1.5 1.5 3 4.6 2.7 4.9 2.4 6.5 3.7 12.5 .6 3 0 4-1.3 3.5-2.4 3-5.6 5.5-1.2 2.5 .5 2.5 2.1 3 .6 1.5-.3 3 .6 3 0 2.5-1.1 6-1.4 3-1.5 2-2.4 2.4-1.5 .9-4 1.4-5.5 .6-5 1.1-3.5 1.1-2.5 1.5-2.6 3-1.6 4.5-.8 4-.5 .8-1.5 0-.9-.8-1.1-3-.4-2.5 0-2.5 1.1-4.5 1.3-2.5 1.5-2 3-2.4 3.5-1.7 6-2.1 7-1.5 2-.7 2-2.1 1.6-3 .4-1.5-.1-1.5-.8-1.5-8.1-7.5-1.8-2.5-.9-2-1.4-4.5-.9-5.5 .1-4 .5-2.5 .4-.3 .6 .3 1 2 1 3 1.2 6.5 1.3 3.5 1.9 3 2 1.8 1.5 .8 .5 0 .2-.6 .4-4.5 1.5-3.5 2-2.5 5.9-5.7 1.5-2.5 0-2.8-.9-3.5-6.6-18-3.2-7.5-1-4.5 .2-.5-.2-.5 .7-.6zM382.5 179.8l-.3 2-1.2 1.1-3 1.4-3 .7-9.5 .4-1.1-.6-.8-1.5 .2-1.5 1-1 4.9-2 3.8-1.2 3.5-.3 2 .3 .5 .4 .5-.1 .5 .5 1 0 .5 1.8z"/><path fill="#00d461" d="M417.5 72.8l4 .5 4.2 1.5 4.3 2.4 4.5 3.2 4 3.7 4 5.6 7.1 12.1 3.7 7.5 6.4 14.5 4.3 14.5 6.4 19.5 2 8.5 1.1 9.5 1 26.5-.6 7-2.1 8-2.5 6-2.3 4-3 4.5-3.5 4.1-2.8 2.4-3.7 2.4-4 1.8-5 1.2-.5-.5-1 .1 0-.7 .5-.2-.1-.6 6.6-5.2 2.6-2.8 2.5-3.5 2.3-4 1.4-3.5 2-5.5 1.4-5.5 .5-6-1-13-.4-16.5-.6-5.5-1.2-5.5-2.5-7-8.9-19.5-1.1-1.3-3-.8-1.8-1.4-6.2-11-3.8-8-5-13 .1-2 1.6-3.5 0-1-.4-1-4.7-5.5-6.6-4.5-3.2-3-1.3-2-.4-2.5 .6-2.5 1.7-2zM418.5 144.2l2 1.1 1.3 1.5 4.9 8 2.5 6.5 3.9 12.5 .7 3.5-.1 3.5-1.4 3.5-1.9 2.5-5.6 5.5-1.4 2.5-.2 1 .3 1.5 2.4 3.5 .5 1.5-.3 3 .7 3-.1 2.5-1 6-1.5 3-1.5 2-2.2 2.2-1.5 1-4 1.3-9 1.4-5 1.5-2.1 1.1-1.7 1.5-1.5 2-1.6 4.5-.9 3.5-.7 .3-1.5-.1-.5-.7-1.1-3.5 0-4.5 1.4-4.5 2.2-3.4 3-2.4 3.5-1.7 6-2.1 6.9-1.4 2.1-.8 1.8-1.7 2.1-4 .2-2.5-.6-1.4-8.1-7.6-1.5-2-1.4-2.7-1.3-4.3-.8-5.5 .5-4.5 .6-.3 1 1.3 .9 3 1.4 6.5 1.5 3.5 2.7 3.5 2.5 1.8 1 .1 .2-5.4 1.3-3.5 2.3-3 6.2-6 1.1-2 .1-3-.9-3.5-6.8-19-2.7-6-.3-4.5zM380.5 180.8l-.5 1.4-.5 .1-.5 .7-2 .9-3 .8-8.5 .4-1-.6-.6-1.2 .1-1.1 1-1.1 8-2.8 3-.2 3.5 .9 .5 1.3z"/><path fill="#00cd46" d="M417.5 74.2l2.5 .2 4.5 1.6 4 2.3 3.5 2.6 4.8 4.4 5.7 8.5 7.8 13.5 4 8.5 3.4 9 3.9 12 5.6 15.5 3.5 12 1.5 11 .4 15 .7 11-.1 5.5-.7 4.5-1.3 4.5-3.1 7-4 6.5-2.6 3.3-3 3-2.5 1.7-2.6 1-.4-1 .5-.3 .2-.7 3.7-6 3-7 1.6-5 1.5-7.5 .2-5-.9-13-.3-15.5-1-8.5-1.5-5.4-2-5.4-9-19.6-1-1.4-3.5-.7-1.5-1.1-5.4-9.4-4.6-9.5-5-13 .4-2.5 2.6-3.5 0-1-.4-1-5.1-6.6-3.5-2.9-6.4-4.5-1-1.5-.3-2 .5-1.5 1.2-1.5zM419.5 145.7l1.5 1 1.5 1.9 4.3 7.2 2 5 3.5 11 1.3 5.5-.1 3.5-1.4 3.5-1.9 2.5-5.6 5.5-1.4 2.5 .2 2.5 2.3 3.5 .6 1.5-.4 3 .7 3 0 2.5-1.1 6-.9 2-2.1 3-3.5 3-4 1.4-5.5 .6-4.4 1-4.1 1.3-2.2 1.2-1.8 1.5-1.4 2-2.6 7-1.5 .2-.6-.2 0-.5-1-1.5-.5-2 0-2.5 1.1-4.5 2.5-4.2 3-2.5 4.5-2.1 6-1.9 6-1.2 2-.7 2-2 2.1-4.4 .2-2-.8-1.8-7.2-6.7-2-2.5-1.2-2-1.1-3-.6-3-.6-4.5 .3-2.5 .4-.5 .5 .2 .7 1.3 1.6 7 .8 2.5 1.4 2.5 3 3.4 3.5 2.2 .4-.6-.6-5 .9-3.5 1.2-2 1.6-1.9 6-5.8 1.3-2.3 .1-3-.9-3.5-5-14.5-4.4-10.5 .2-2.5 .7-.6zM378.5 180.8l-.5 1.5-.5 .1-.5 .6-3 1.1-8 .7-1.2-.5-.6-1 .3-1.3 .8-.7 7.7-2.4 3.5 .2 .5 .5 .5-.1z"/><path fill="#00c52a" d="M419 77.7l2.5 .4 3.9 1.7 4.3 3 4 3.5 3.3 4.5 3.7 6 5.7 6.5 3 4.5 1.9 3.5 2 5 5.7 17 6.8 18 3 9 1.5 6.5 1.1 8.5 .2 16.5 .8 10-.1 6-.9 5-1.7 4-5.2 8-2 2.1-.9-.1 1.5-7-.1-4 1-5 .2-4-.9-12-.3-18.4-.6-5.1-1.4-6.2-2.6-7.3-9.4-20.4-1-1.1-3.5-.3-1.5-1.2-7-12.5-4.1-9.5-3.4-9-.1-1.5 1.1-2.3 3.6-2.2 .3-1-.4-1.5-5.4-8-2.6-2.9-5.5-5.1-.9-1.5zM420 146.7l1 .7 2 2.6 3.7 6.3 5.4 15.5 1.3 5.5-.1 3.5-1.3 3.4-2 2.6-5.5 5.4-1.4 2.6 .2 2.5 2.3 3.5 .6 1.5-.5 3 .8 3 0 2.5-1.1 6-1.4 2.8-1.6 2.2-2.2 2-2.2 1.3-3 1-9 1.3-4.5 1.4-2.5 1.2-1.7 1.3-1.5 2-1.3 2.5-1 3-.8 .5 .1 .5-1.8 .1-.1-.6-.7-.5-.7-3 .2-2.5 1.3-4.5 2.4-3.5 3.1-2.4 4-1.8 6-1.9 5.5-1.1 2.5-.8 2-2 2.3-4.5 .2-2-.8-2-7.2-6.8-2.9-4.2-1.6-5-.7-5.5 .5-.5-.1-.5 .3-.1 .5 .9 .6 3.7 1.6 4.5 2 3.5 3.3 3.4 2.5 1.9 1.5 .7 .4-.5-1.1-3.5-.3-2.5 .2-2 .7-2 2.6-3.7 6-5.8 1.5-2.5 .1-3-.9-3.5-5-14.5-4.3-10.5 .2-1.5 .4-.4zM376.4 180.8l-.4 1.6-2 1-8 1.1-1-.5-.4-.7 .1-1 .8-.7 7-1.9 2-.1 .5 .6 .5-.2z"/><path fill="#00bd0e" d="M431 99.7l2-.2 2.5 .9 2.5-1.5 2.5 .2 4 3.3 4.2 5.4 1.9 3.5 1.7 4 5.7 17.5 6.8 17.5 3 9 1.8 7.5 1 7 .4 6.5-.1 12.5 .9 9 .1 4.5-.4 4-1.3 4-2 3.5-1.7 1-1 .1-1-.6-.9-2 .9-6 0-3.5-.8-12-.1-16-.6-6.6-1.7-7.4-2.8-7.8-9.5-20.4-1-1-3 .2-1.6-1-4.4-7.5-3.7-7-3.5-8.5-3.1-8.5 .4-2 .9-1.1zM437.5 106.9l.5 2.9 1 2.5 4 7.9 0-1.7-2-6.6-2-3.6zM420 147.4l1.2 .9 2 2.5 3.2 5.5 5.5 15.5 1.4 5.5-.1 3.5-1.2 3-2 2.7-5.5 5.4-1.6 2.9 .2 2.5 2.4 3.6 .5 1.4-.5 3 .8 2.5 0 3-1 6-1.3 2.5-1.8 2.5-2.2 2-2 1.2-3 .9-9 1.4-4.5 1.4-2.4 1.1-1.9 1.5-2.2 3-1.4 3.5-.6 .5 0 .5-2 .2-.4-.2 0-.5-.5-.5-.3-1 .2-4.5 1.7-4.5 2.3-3 3.5-2.3 4-1.7 5-1.5 5.5-1.1 2.5-.8 2-1.9 2.2-4.2 .4-3-.7-2-1.9-2.2-5-4.3-2-2.5-1.3-3 .3-.3 .5 .3 1 2 2.5 3 5.5 4.5 1 .5 1-.1 .1-.9-1.8-3.5-.6-2.5 .1-2.5 .3-1.5 2.1-3.5 6.8-6.8 1.7-2.7 .1-2.5-.8-3.5-5-14.9-4.2-10.6 .2-1zM374.3 181.3l-.3 1.1-8 1.6-1-.7 0-.6 .5-.6 3-.8 5-.6 .6 .1zM407.9 193.3l.1-.2 .5 .2-.5 .3z"/><path fill="#11be00" d="M431 100.3l2 .1 1.3 1.4 2.2 6.5 2.5 6 3.4 7.5 2.1 3.5 .5-.1-.4-3.4-2.1-8-2.5-5.5-3.6-4.5-.2-1.5 .7-1.5 1.1-.9 1.5-.3 1 .3 4.1 3.4 3.9 5 2.1 4 1.2 3 5.2 16.1 7.1 18.4 3.2 9.5 1.9 7.5 1 7 .3 6.5-.1 12.5 .9 9 .1 4.5-.1 3-1.1 4-1.7 3-1 1.2-1 .4-1.5-.3-.6-.8-.3-1 .4-2 .3-6.5-.8-12.5 0-16-.9-8.5-1.4-5.5-2.7-7.5-10-21.4-1-.9-3 .4-1.5-.9-4-6.7-3.9-7.5-3.5-8.5-3-8.5 0-1 .4-1zM420 148l3 3.1 3.1 5.2 6 16.5 1.1 5.5-.3 3-1.1 2.5-1.8 2.5-5.6 5.5-1 1.5-.6 1.5 .2 2.5 2.5 3.9 .4 1.1-.7 3 .9 2.5 .1 3-1.1 6-2.3 4-1.8 2-2 1.5-3 1.3-10 1.6-6 2-2.5 1.6-1.4 1.5-1.3 2-.8 2-.9 1 .1 .5-.7 .3-1.5 0-.6-.3-.5-2 .2-3.5 1.7-4.5 2.4-3 3.3-2.2 4-1.7 5-1.5 5.5-1.1 2.5-.8 2-1.8 2.6-4.9 .2-2.5-.3-2.7 1.7-.8 .3-.5-1.9-3.5-1-2.5-.3-2.5 .5-2.5 1-2 1.2-1.7 7.3-7.3 .9-1.5 .3-2-.3-2.5-5-15.5-4.3-11.5-.1-1z"/><path fill="#32c700" d="M431 100.8l1.5 .1 1 .9 2.1 6 7.9 17.5 2 3.1 .5-.1-.1-2.5-1.4-6.6-1.6-5.4-1.8-4.5-1.8-3-2-2.5-.3-1.5 .5-1.2 1-.7 1-.2 1 .3 4.5 3.8 3.6 5 2.8 6 5.1 15.9 7.2 18.6 3.2 9.5 1.9 7.5 1 7 .3 6.5-.2 12.5 1.1 9 .1 4.5-.4 4-.9 3-1.3 2.2-1.2 1.3-.8 .4-1.4-.4-.4-1 .4-8.5-.8-12.5 0-16-.8-7.8-1.5-6.2-2.5-7.1-6.2-12.9-4.3-9.6-1-.9-2.5 .8-1.5-.5-4.1-6.8-4-7.5-3.3-8-3.2-9 .3-1.5zM420.5 149.3l1.5 1.1 3 4.2 1.3 2.7 5.6 15.5 1.1 5.5-.3 3-1 2.5-1.9 2.5-5.6 5.5-1 1.5-.6 1.5 0 1.5 .4 1.3 2.4 3.7 .3 1-.8 3 1.1 2.5 .1 3-1.1 6-1.2 2.5-1.5 2-3.3 2.9-3 1.2-8.7 1.4-7.3 2.3-2 1.2-1.6 1.5-1.7 2.5-1.2 2.4-1.2 .6 .2 .5-1.4 0 .1-.5-.9-.5-.2-1 .1-3.5 1.2-3.5 1.9-3 3.2-2.5 4-1.9 6-1.9 7-1.5 1.5-.7 1.5-1.5 2.1-3.5 .9-3 0-3.1 2.1-1.4 0-.5-2.2-3.5-1.1-2.5-.3-2.5 .3-2 .8-2 1.4-2 7.5-7.5 .9-1.5 .3-2-.3-2.5-.8-3-7.6-22.2-.2-1.3z"/><path fill="#53d100" d="M431 101.3l1 .1 1 .9 3.5 9 6.1 13.5 2.9 5.2 1.5 1.9 .2-1.1-1.2-6.5-3-11.5-2.2-5-3.2-4.5-.1-1 .5-1 1-.6 1 .1 3.5 2.6 1.9 1.9 2.9 4 2.8 6 5.4 16.8 7.2 18.7 2.9 8.5 1.7 7 1.1 7.5 .4 6.5-.2 12.5 1.1 9 .1 4.5-.2 3-.8 3-.7 1.5-1.5 2-1.1 .7-.8-.2-.4-.5 0-9-.7-12-.1-18-.8-6.5-1.7-6.5-2.4-6.5-6.3-13-4.3-9.7-1-1.3-.5-.1-1.5 1.4-1 .1-.8-.4-3.7-6-4-7.4-3.6-8.6-3.1-9 .2-1.2zM421.5 150.8l2.5 2.7 2.5 4.8 5.2 14.5 1.1 5.5-.3 3-1 2.5-2 2.5-5.5 5.5-1.5 3 0 1.5 .4 1.5 2.4 3.5 .3 1-.1 1-1 2 1.3 2.5 .2 2-.2 3-.9 4-1.3 2.5-1.5 2-3.1 2.7-3 1.3-8.5 1.3-7.5 2.3-2 1.3-1.8 1.6-3.2 5-2 .1-.6-1.1-.2-1 .4-3.5 1.4-3.4 1.5-2.1 3-2.4 4-1.9 6-1.9 7-1.5 1.7-.8 1.3-1.3 2.2-3.7 .9-3 .2-2.5 2.4-2-2.6-4-.9-2-.5-2.5 .3-2.5 .8-2 1.4-2 7.5-7.5 .8-1.5 .4-2-.8-4.5-7.1-21.5-.3-1.5z"/><path fill="#74db00" d="M439 101.2l1 .1 1.5 1 3 2.5 2.8 3.5 2.5 4.5 6.7 20.2 7.6 19.8 3.2 10 1.1 5.5 .9 7 .2 7-.3 10.5 1.2 9 .1 4.5-.1 3-.9 3-1.5 2.4-1.5 .8-.6-.7-.3-2-.1-7.5-.7-10.5 .1-15.5-.5-6.5-.9-4.5-1.4-5-2.2-6-6.6-13.5-5.1-11.5-2.7-12-2.1-7.5-1.9-4.5-3.5-5.5 .2-1zM431 102l1.2 .3 3.5 8.5 6.8 15 3.8 7-.2 1-.6 .4-1-.3-5-8.1-3.2-6-3.4-8.5-2.6-8.5zM422.5 152.4l2.5 3.2 2 4.6 4.5 12.6 1.2 5.5-.3 3-1.1 2.5-2 2.5-5.5 5.5-1.5 3 0 1.5 .5 1.5 2.4 3.5 .3 1-.4 1.5-1.3 1.5 1.2 1.3 .7 1.7 .1 3.5-1 5-1.3 2.5-1.5 2-3.5 2.9-3.5 1.2-9 1.5-6 1.9-3.5 2.6-2.7 3.4-.8 1.6-2-.4-.6-1.2 0-1 .6-3.5 1.8-3.5 1.7-1.9 3-2 4-1.7 5-1.5 6.5-1.3 2-.9 1.5-1.4 2.3-3.8 1-3 .3-2.5 .9-.8 1.7-.7 .3-.5-2.4-3-1.5-2.5-.7-2.5 .2-3 .9-2 1.4-2 7.5-7.5 .8-1.5 .3-2-.7-4.5-6.8-21z"/><path fill="#95e300" d="M439 101.8l1.5 .4 3 2.1 3.1 3.5 2.9 5 2.3 6 4.2 13.5 7.7 20 3.3 10.5 1.1 5.5 .9 7 .2 6.5-.3 11 1.2 9 .2 4.5-.2 3-1 3-1.1 1.6-1 .5-.6-.1-.5-2-.8-17 .1-16-.5-6.5-.9-4.5-1.2-4.5-2.4-6.5-6.4-13-5.2-12-4.8-19-2-5-3.3-5.5zM432 105.5l.9 .8-.1 .5 .7 .7 5.5 11.3 5 12.2-.5 .1-1.6-2.3-5.2-9-2.7-7zM423 153.7l2 2.5 2 4.7 4.5 12.5 1 4.9-.3 3-1.1 2.5-2 2.5-5.5 5.5-1.3 2.5-.2 1.5 .4 1.5 .7 1.5 1.8 2.5 .3 1-.5 1.5-1.3 .6-1.5-1.1-2.7-4-.7-2.5 .2-3 .9-2 1.3-1.8 7.6-7.7 .8-1.5 .3-2-.7-4.5-6-18.4-.2-1.6zM425 206.9l.6 1.4 .1 2.5-1 6-2 3.5-2.7 2.8-1.5 1-2.5 1-8.5 1.3-7 2.1-2 1.1-2.1 1.7-3.4 4.3-.5 .2-1.8-1 0-2.5 .8-3 1.4-2.5 1.6-1.8 3-2 4-1.7 5-1.6 6.5-1.2 2-.9 1.5-1.4 2.3-3.9 1.8-5.5 2.4-1.1 1 .3z"/><path fill="#b5ec00" d="M440 102.9l2 .8 3 2.6 2.6 3.5 1.7 3 2.1 5.5 4.6 14.7 7.4 19.3 3.6 12 1.7 11 .1 5-.2 12.5 1.3 9 .2 4.5-.2 3-.4 1.5-1 2-1.5 1 .1-.5-.6-.3-.5-3.2-.6-14.5 .1-16-.5-6-.8-4.5-1.2-4.5-2.6-7-6.6-13.5-4.7-11-1.3-4-3.7-15.5-2.6-6.5-1.6-3zM436 115.2l.6 .6-.1 .4-.5-.1zM436.5 116.3l.5 .3 1.5 2.7 .9 2.5-.3 .5 .4 .2 0 .5-2.2-3.2-1.1-3zM424 155.4l2 3.8 5 13.3 1.1 3.8 .2 3-.4 2.5-1.3 2.5-6.8 7-1.5 2.5-.3 1.5 .3 2 1 2 1.6 2 .3 1-.7 1.5-1 .2-1.5-1.1-2.5-3.6-.8-2.5 .3-3 .9-2 1.1-1.6 6.5-6.3 1.3-1.6 .8-1.5 .3-2-.7-4.5-5.7-18 0-.7zM425 207.3l.4 1 .2 2.5-1 6-2 3.5-2.6 2.6-1.5 1-2.5 1.1-8.5 1.3-7 2.1-3.8 2.4-3.9 4.5-1.6-.5 .1-.5-.5-.5 .5-3.5 1.7-3.4 1.5-1.7 3-2.1 4-1.7 5-1.6 6.5-1.2 2-.8 1.5-1.4 2-3.3 2.5-6.2 2-.8 1 .3z"/><path fill="#d6f400" d="M441.5 104.1l2 1.2 2.5 2.7 1.3 1.8 2.2 4 6 18.5 7.7 20 3.4 11.5 1.7 11 .2 5.5-.3 12 1.6 12.5-.1 4.5-.7 1.9-1 1.5-1-.1-.3-.3-.4-2.5-.6-13 .2-17.5-.6-6-.8-4.5-1.2-4.5-2.6-7-6.5-13-5-12-1.4-4.5-3.3-14-.9-3-2.6-6zM425 158.3l2.5 5.5 3.5 9.4 1 4 .1 2.1-.4 2.5-1.2 2.2-6.9 7.3-1.5 2.5-.3 1.5 .4 2 .6 1.5 1.9 2.5 .3 1-.5 1.2-1 .2-1-.6-1.1-1.3-1.9-3-.6-2.5 .3-2.5 .8-1.9 1.5-2 7.2-7.1 1.1-2 .3-2-.5-3.5-4.1-13.9zM424.7 207.3l.4 1 .4 2.5-.8 5.5-1.5 3-3.2 3.5-1.5 1-2.5 1.1-8.5 1.3-7 2.1-2 1-2 1.5-3.1 3.5-.9 .3-1.3-.8 .1-.5-.3-.5 .8-3.5 1.8-3 1.4-1.4 3.5-2.1 4-1.6 5-1.5 5.5-1 2-.8 1.5-1.4 2-3.2 2.2-4.5 .3-1.5 1-.7 1-.1 1 .2z"/><path fill="#f7fd00" d="M442.5 105.4l1.5 .9 2 2.1 3.2 5.4 6.8 20.5 6.7 17.5 3.6 12 1.3 7.5 .5 5.5-.4 15.5 1.6 9 .3 3.5-.2 4.5-.9 2.1-1 .7-.5-.3-.6-3-.4-12 .5-12-.2-5.5-1.3-10-1.3-4.5-2.5-7-6.7-13.5-5.2-12.5-1.3-4-3.1-13.5-2.6-8zM427.5 165.1l2.5 6.1 1.5 4.6 .3 4.5-.6 2-1.2 2-6.5 6.8-1.5 2.7-.3 2 .3 1.5 .7 1.5 2 3-.2 1.3-1 .3-1-.6-2.5-3.5-.8-2-.1-2 .4-2 1.5-2.5 7-6.9 1.3-1.6 .9-2 0-3.5-2.7-9.8zM424.5 207.6l.8 3.2-.7 5.5-1.5 3-3.3 3.5-1.3 .9-2.5 1-8.5 1.4-6 1.7-2.5 1.1-2 1.3-3.5 3.3-1 .2-1-.7-.1-1.7 1-3 1.3-2 1.8-1.7 3.1-1.8 3.9-1.5 5-1.5 5.5-1 2-.8 2-2.1 4.5-8.5 1.5-.6z"/><path fill="#fff300" d="M443.5 106.9l1 .4 1.5 1.6 3 4.9 2.2 6 3.7 12 8.1 21.5 2.5 8.5 1.2 5.5 .8 7.5 0 4-.5 .4-1.6-9.9-2.7-8.5-2.4-5.5-6.3-12.5-4.7-11.5-1.1-3.5-3-13.5-1.7-5.5-.2-1.5zM430.5 174l1 3.8 0 2.5-.5 1.8-2 3.1-5.9 6.1-1.5 3 .2 3 1 2 1.8 2.5-.1 1-1 .4-1.1-.9-2.4-3.5-.7-2.5 .2-2.2 .5-1.4 1.7-2.4 6.3-6 1.9-2.5 .9-3-.5-4.5zM467 179.4l.5 .9-.5 .3zM467 193.3l.5 .8 .8 3.7 1 7-.1 4.5-1.1 1.5-.1 .5-.5 .1-.8-2.6-.3-6.5 0-7zM424.1 207.8l1 3 0 2-.6 3.5-1.5 3-3.4 3.5-3.6 1.8-8.5 1.4-6 1.7-4 2-3.1 2.6-.4 .6-.6-.1-.2 .5-.7 .1-.6-.6 .3-.5-.6-.5 .6-2.5 1-2 1.8-2.1 2.9-1.9 4.6-1.9 5-1.5 5.5-1 2-.8 2-2 3.3-6.3 1.1-1 .5-1 1.1-.5z"/><path fill="#ffe200" d="M444.5 108.2l2.5 2.6 1.5 2.5 1.6 4 5.3 16.5 7.1 19 2.5 8.5 1 6.3-.5-.1-1.4-4.2-3.2-7.5-6.5-12.5-4.7-11.5-1.3-4-4.2-18.5zM429 184.5l-.3-.2 .3-.4zM428.5 184.5l.2 .3-5.7 6.1-1.1 1.9-.5 1.5-.1 1.5 .5 2 2.5 4-.2 1-.6 .1-2-2.1-1.5-2.5-.5-2.5 .4-2 1.1-2.2 1-1.2zM467 196.7l.5 .1 1.4 6 .1 5.5-.1 1-.9 1-.5 0-.5-1.5-.3-8zM424.7 209.8l.3 3-.8 4-1.7 3-3 3-3.5 1.7-8.5 1.4-7 2-3 1.6-4 3-.5 0-1-.7 .4-2.5 .9-2 1.7-2 4-2.4 4.5-1.7 4-1.2 5.5-1 2-.8 2-2 2.9-5.4 1.1-1.5 1.5-.5z"/><path fill="#ffd100" d="M445.1 109.8l.5 0 2.4 3.1 2 4.7 5.1 15.7 6.5 17.5 2.4 8.4 .2 1.6-.2 .6-2.4-5.1-7-13-4.7-11.5-1.3-4-3.7-17.5zM421.5 191.8l-.4 2.5 .1 2.5 .7 2 2.1 3 0 .6-.5 .1-2-2.2-1.5-3.2 0-2.7zM467.5 199.3l.8 2 .3 3.5-.1 4.5-.5 .4-.7-1.4-.3-6zM424.3 209.8l.7 2-.8 5-2.2 3.5-3.5 3-3.5 1.3-7.5 1.1-5.5 1.5-4.5 2.2-3.5 2.6-1-.3-.7-.9 .2-1.3 1-2.2 2.5-2.6 3-1.7 4.5-1.7 4-1.2 5.5-1 2-.8 2-2 3-5.5 1-1.3 1.5-.5z"/><path fill="#ffc100" d="M446 111.1l2 2.5 2.3 5.7 4.6 14 6.2 17 1.1 4 .1 1.5-.3 .1-2.5-3.9-4.4-8.2-4.8-11.5-1.4-4-3.2-16zM424.7 210.8l0 3-1.1 4-2.2 3-2.9 2.4-3.5 1.3-7.5 1.1-5.5 1.5-2.5 1-4.5 2.8-1 .3-1.3-1.4 1.3-3 2-2 2-1.2 7.5-2.8 7.5-1.6 2-.8 2-2 3.1-5.6 .9-1.2 1.5-.4 1.4 .6z"/><path fill="#ffb000" d="M446.5 112.7l1.5 1.6 2 4.7 4.6 14.3 5.4 14.5 1.2 4-.2 .9-.5 .1-5.2-9-4.8-11.5-1.4-4-2.7-13.5-.2-1.5zM424.5 210.8l.3 1-.2 2-1.1 4-2.2 3-2.8 2.3-3.5 1.3-7.5 1.1-4.5 1.2-3.5 1.2-4.5 2.7-1 .3-.6-.6-.2-1.5 1-2 .8-1 2-1.5 3-1.5 4.2-1.5 10.3-2.5 1.5-1 1-1.2 3.1-5.8 .9-1 1.5-.4 1 .4z"/><path fill="#ff9f00" d="M447 114.7l.5 .1 1 1.4 2 4.9 3.8 11.7 4.7 12.8 1.1 3.7-.1 .9-.5 .1-3.6-6-5-11.5-1.9-6zM424.4 210.8l.3 1-.1 2-1.1 4-2.3 3-2.7 2.1-3.7 1.4-7.3 1.1-5.5 1.4-2.5 1-4.5 2.4-1.5-.9 .4-1.5 1.1-1.7 4-2.7 7.3-2.6 6.7-1.4 2-.7 2-2 3.2-5.9 .8-.9 1.5-.3 1 .4z"/><path fill="#ff8f00" d="M448 117.1l1 1.1 1 2.4 4.7 14.2 3.1 8 1.2 4.5-.5 .6-3.5-5.9-4.6-11.2-1.1-3.5-.8-4-.7-5.5zM424.2 210.8l.4 1-.1 2-.9 3.5-1.6 2.5-3 2.7-2 1-2.5 .7-7 1-5.5 1.5-3.5 1.3-2 1.3-1 .2-1.5-1.1 .5-1.4 1-1.2 4.5-2.7 5-1.8 8-1.7 2-.8 2-2 3.3-6 .7-.8 2-.1z"/><path fill="#fe7d00" d="M448.5 119.6l.5 0 .5 .7 2.5 6.5 2.3 7.5 3.1 8.5 .5 2-.4 .7-1.5-2.2-1.5-3.1-4-9.7-1-3.2zM424.1 210.8l.4 1-.1 2-.9 3.5-1.6 2.5-2.9 2.6-3.5 1.5-8 1.2-5.5 1.4-3.5 1.3-2 1.1-1-.1-.8-1 0-.5 .8-1.2 2.5-1.8 2-1 6-2.1 8.5-2 2.5-2.3 3.3-6.1 .7-.7 2-.2z"/><path fill="#fa6900" d="M449.5 121.9l2.4 5.4 2 7 2.6 7.5 0 .9-2.5-4.4-3.6-9-1-4-.1-3zM424 210.8l.4 1-.1 2-.8 3.5-1.7 2.5-2.8 2.5-4.5 1.6-5.5 .7-4.5 1-4.5 1.3-3 1.5-.5-.1-.5 .3-1-.8 .5-1.3 1-.9 4.5-2.5 5-1.8 8.5-1.9 2.5-2.4 3.4-6.2 .6-.6 1.5-.3z"/><path fill="#f55400" d="M450 125.1l.5 .1 1 1.9 2 7.2 0 1.2-1-1.7-2.4-6.5zM423.9 210.8l.4 1 .1 1-1 4.5-1.7 2.5-2.7 2.4-4.5 1.6-5.5 .6-4.5 .9-4.5 1.3-3.5 1.3-.6-.6 0-.5 1.6-1.5 3.6-2 5.9-2 7.5-1.8 2.7-2.7 3.3-6 1.5-.8 1 .1z"/><path fill="#f04000" d="M451 127.6l0 .8-.2-.6zM423.8 210.8l.5 1 0 1-1 4.5-1.7 2.5-2.6 2.3-1 .5-4.5 1.1-4.5 .5-9 1.9-.5-.3-.5 .4-.5-.4 1-1.1 3.6-1.9 4.9-1.6 6.5-1.5 2.8-2.9 3.3-6 1.4-.8 1 .2z"/><path fill="#ec2b00" d="M423.7 210.8l.5 1 0 1-.9 4.5-1.8 2.5-2.5 2.2-1 .5-3.5 .8-12.2 1.5 .1-1 4.6-2 7.5-1.8 2.9-3.2 3.2-6 1.4-.7 1 .2z"/><path fill="#e71700" d="M423.6 210.8l.5 1 0 1-.5 3.5-1.1 2.2-2.7 2.8-1.8 1.1-3.5 .5-5 .4-1.5-.2-.3-.3 .3-.5 4.5-1.2 2-.8 3-3.5 3.2-6 1.3-.6 1 .1z"/><path fill="#e10904" d="M423 210.4l.8 .9 .3 1.5-.6 3.5-.9 2-1.8 2-2.3 1.8-1.5 .3-2-.3-.4-.3 0-1 2.9-3.9 3.3-6.1 1.2-.6z"/><path fill="#d9060e" d="M423 210.5l1 1.3-.5 4.3-1 2.2-1.8 2-2.2 1.7-1 .3-1.5-.3-.9-1.2 .5-1.5 1.9-2.3 3.4-6.2 1.1-.5z"/><path fill="#d00419" d="M423 210.6l.9 1.2-.4 4.1-1 2.3-1.9 2.1-2.1 1.6-1 .3-1.4-.4-.7-1 .1-1 2-2.7 3.1-5.8 .9-.8z"/><path fill="#c80123" d="M423 210.6l.9 1.2-.4 4-.8 2-2.2 2.5-2 1.5-1 .3-1.1-.3-.8-1 .2-1.5 1.7-2.1 3.5-6.4 1-.4z"/><path fill="#c9073a" d="M423 210.7l.8 1.1-.4 4-.8 2-2.1 2.4-2 1.5-1 .3-1-.3-.8-.9 .2-1.5 1.6-2 3.5-6.4 1-.4z"/><path fill="#d2155e" d="M423 210.8l.7 1-.4 4-.8 2-2 2.3-2 1.5-1 .3-1-.3-.7-1.3 .2-1 1.6-2 3.2-6 1.2-.8z"/><path fill="#db2282" d="M423 210.9l.7 .9-.1 2-.5 2.5-.7 1.5-1.9 2.2-2 1.5-1 .3-1-.4-.6-1.1 .2-1 1.6-2 3.1-6 1.2-.7z"/><path fill="#ea40b3" d="M423 211l.6 .8-.4 4-.7 1.8-1 1.3-2.1 1.9-1.4 .8-1 0-.8-.8 0-1.5 1.6-2 3.2-6.1 1-.5z"/><path fill="#f879d8" d="M423 211.2l.4 .6-.4 4-.9 2-3.1 3-1 .6-1-.1-.7-1 .2-1 1.8-2.5 2.7-5.4 1-.6z"/><path fill="#ffb0f0" d="M422.9 211.3l.3 1-.2 2.5-1 2.9-1.5 1.6-2 1.5-1 .3-.5-.2-.4-1.1 3.6-6 .8-2 1-.7z"/><path fill="#ffe5fa" d="M422.5 211.3l.4 .5 .1 1-1 4.4-1 1.3-2.5 1.8-1 .2-.1-1.2 3.9-7.5 .6-.5z"/><path fill="#ffffff" d="M422 212.3l.5 .4-.7 4.1-1.3 1.6-1.5 .4-.1-1 .4-1.5z"/><path fill="#ffffff" d="M420.5 215.7l.8 .6-.3 .7-1 0 0-.6z"/></g></g>
<g clip-path="url(#kv)"><g filter="url(#sm)"><rect x="72" y="318" width="259" height="259" fill="#4a46c0"/><path fill="#4946c4" d="M75.1 321.3l253 0 0 253-253 0z"/><path fill="#4846c8" d="M75.1 321.3l253 0 0 253-253 0z"/><path fill="#4846cd" d="M75.1 321.3l253 0 0 253-253 0z"/><path fill="#4746d1" d="M75.1 321.3l253 0 0 253-253 0z"/><path fill="#4646d5" d="M75.1 321.3l253 0 0 253-253 0z"/><path fill="#4545d9" d="M75.1 321.3l253 0 0 253-253 0z"/><path fill="#4242de" d="M75.1 321.3l253 0 0 253-253 0z"/><path fill="#4040e2" d="M75.1 321.3l253 0 0 253-253 0z"/><path fill="#3d3de7" d="M75.1 321.3l253 0 0 253-253 0z"/><path fill="#3b3beb" d="M75.1 321.3l253 0 0 253-253 0zM211.8 445.3l.2 1 1.3 .5 .6-.5-.1-.5-.7-.6z"/><path fill="#3939ef" d="M75.1 321.3l253 0 0 253-253 0zM210.2 444.3l-.1 1 .4 1 1.6 1.5 2 .5 1-.4 .6-.6 0-1.5-1.6-1.7-2.5-.6-1 .3z"/><path fill="#3636f4" d="M75.1 321.3l253 0 0 253-253 0zM209.4 443.3l-.4 1 .4 1.5 1.2 1.7 1.5 1.2 1.5 .5 1.5 0 1-.5 .8-.9 .3-1-.4-1.5-2-2-1.7-.7-1.5-.2-1.5 .3z"/><path fill="#3434f8" d="M75.1 321.3l253 0 0 253-253 0zM208.5 442.8l-.3 1.5 .5 1.5 1.4 2 2 1.6 2 .7 1.5-.1 1.5-.6 1-1.1 .4-1.5-.3-1.5-1-1.5-1.6-1.2-2-.9-2-.2-2 .4z"/><path fill="#3131fd" d="M75.1 321.3l253 0 0 253-253 0zM207.8 442.3l-.4 1.5 1 2.5 1.7 2.2 2.5 1.9 2 .5 2-.2 1.7-.9 1.2-1.5 .4-1.5-.4-2-.9-1.5-2-1.6-2.5-.9-2.5-.3-2 .5z"/><path fill="#2d38ff" d="M75.1 321.3l253 0 0 253-253 0zM206.9 442.3l-.3 1 .2 1 1.7 3 2.6 2.8 2.5 1.4 2 .3 2.5-.5 2-1.5 1.2-2 .6-2.5-.2-2.5-.6-1-2-1.2-4-1-3.5-.2-2.5 1z"/><path fill="#2849ff" d="M75.1 321.3l253 0 0 253-253 0zM228.5 439.8l-2.9-1.8-3.5-1-3-.1-6 .8-2.5 .8-3.8 2.8-.8 1 0 1 1.7 3.5 3.4 3.9 3 1.8 3 .3 1.9-.5 1.6-.9 4-4.3 4.8-2.8 .6-1 0-1-.4-1.1zM243.1 477.3l-2.5 .6-2.5 1.2-2 1.5-1.6 1.7-1.2 2-1 2.5-.4 2.5 .1 2.5 .6 2.5 1.2 2.5 1.5 2 1.8 1.7 2 1.2 2.5 1 2.5 .4 2.5-.1 2.5-.6 2-1 2-1.5 1.8-2.1 1.2-2 1-2.7 .5-2.8-.1-2.5-.5-2.5-.9-2-1.5-2-1.6-1.5-2.4-1.4-2.5-.9-2.5-.3z"/><path fill="#2259ff" d="M75.1 321.3l253 0 0 253-253 0zM205.3 442.3l.2 1.5 .7 1.5 3.9 5.1 3.5 2.9 3 1.1 3.5-.7 6.4-3.9 5.8-2 1.8-1.5 .7-2-.3-1.5-1-2-3.4-3.2-5-2.5-5.5-1.1-4 .3-3 1.1-1.5 1.2-2.5 2.7-2.6 2zM255.6 467.7l-5-1-5.5-.3-5.5 .5-5.7 1.4-4.9 2-3.9 2.5-3 2.9-2 3.4-1.6 5.2-.9 7 .3 5 1.2 4.5 2.7 5 3.8 4.5 4.5 3.6 5 2.7 3 1 3 .1 3-.9 3.5-2 4-3.3 4-4.3 3.4-4.9 2-4 1.6-4.6 1-5.4 .2-5.5-.7-5.5-1-3.7-1.5-2.8-2-1.8zM258.5 537.8l-.4-.5-1-.2-9 1.8-6.5 0-3.5-.5-2-.7-1.5-.9-3-2.9-1.5-.6-2.5 0-3 .8-5.5 2.5-5 2.8-4.5 3.1-3.6 3.3-2.2 3-1.2 3-.3 3 .6 3 1.7 3 2.5 2.4 3 1.6 4 1.1 4.5 .3 5-.2 6-1.1 5.5-1.6 2.5-1.1 1.5-1.1 6-8.3 6.6-5.5 2.9-2.8 2.9-3.7 1-2z"/><path fill="#1c69ff" d="M75.1 321.3l253 0 0 183-5.1 9-2.9 2.7-2 1-2 .6-4 .1-5.5-1.3-2 .7-1.6 1.7-7.8 11.5-4.8 6-6 6.5-7.3 6.5-5 3.8-5.5 3.7-6 3.5-6 3-3 .6-1.5-.3-1.6-.8-1.4-1.5-.6-2 .2-2 .9-2 1.5-1.6 4.5-3.2 4.5-3.7 7.3-7.5 8.5-11 4.3-6.5 3.4-5.7 3.5-7.5 2-6.8 .5-5.5-.8-5.5-1.2-3.5-1-2-1-.8-.5 0-1 .8-1.5 3-5.8 15.5-4 9-4.3 7.5-5 6-4.9 4.2-4.5 2.4-4.5 1.1-2-.1-1.5-.7-.9-1.4 0-1.5 1.6-4 2.8-4 8.2-10 4-5.5 2.9-5 2.3-6 1.5-7.5 .3-7.5-.7-9.7-1.5-7.6-2-5.8-1-1.2-1-.4-2-.1-7.5 .6-5.5 .1-6.6-.4-3.4-.7-.5-.3 .2-.5 2.3-2.1 1-1.6 .5-3.3-.6-4-.9-2-1.4-2-4.1-3.6-5.5-3-6-1.9-2.5-.3-2.5 .1-2 .6-1.5 1.3-3.2 5.3-1.3 1.3-2.4 1.7-.6 1 .6 2 1.9 3 3.5 4.3 5.5 5.7 .9 2-1.1 7-.5 8-2 11.5-2.1 7.5-3.3 6.5-4.1 6-4.8 5.3-6 5.1-7 4.8-5 2.7-4.5 1.8-6.5 2-11.7 2.8-2.6 1-.5 .5 .3 1 1.2 1 9.8 5.8 5.5 3.8 4 3.4 3.3 3.5 2.8 4.5 1.3 4 .1 3.5-1.4 3-1.5 1.5-1.6 .9-2.5 .9-2.5 .4-6.5 0-8-1.4-8.5-2.5-8.5-3.6-8-4.3-7.5-5.2-4.4-3.7-3.3-3.5-2.5-3.5-1.7-3.5-.6-2.5 .1-2 1-2.5 2.7-3.5 0-1-.7-1-4.5-3-34.3-18-3.8-1.3z"/><path fill="#177aff" d="M75.1 321.3l253 0 0 176.8-3.7 7.7-3.5 6-2.8 2.3-2 .7-2 .3-2-.2-2-.7-5-3-1.5 .5-1.5 1.7-6 9.9-5 7-5.5 6.5-5.1 5-7.4 6-8 5.1-8.5 3.9-3.5 1-.8-.5 1-1.5 10.8-10.5 6.5-7.5 7.7-10.5 5.8-9.5 4.1-8.5 2.6-8 1.1-7 .2-5.5-.3-2.5-6.7-18.2-1.5-2.2-1-.3-.5 .3-1 2.4-2.8 12.5-2.6 9-6.4 16.5-3.4 7.5-3.2 5.5-4.1 4.9-2.5 2-1.8 1.1-1.7 .6-1.5-.1-.7-1 .1-1 .8-2 2.2-3.5 9.6-13 2.8-5 1.9-5.5 1.2-6 .3-8-.5-10.5-1.4-12.5 .7-2.5 2.4-4 .1-2-2.5-4-2.5-2.4-.5 0-.5 .6-.8 1.8-1.1 1.5-1.1 .9-1.5 .6-2 .1-1.8-.6-1.9-1.5-1.8-2.2-1-.6-2.5-.2-1 .7-1.2 2.8-.8 1-1.5 .7-1.5-.2-1.4-1.5-.8-4-1.4-3.5-1.9-2.9-2-2.2-3-2.4-7.5-4.8-3.5-1.6-3-.5-3 .5-2.5 1.7-2 2.8-2.8 6.4-1.2 1.2-2.5 1.6-.6 1.2 .4 1.5 .9 1.5 7.4 10 .7 1.5 .6 2.5 .3 10.5-.4 5-1.6 9.5-2.3 8-2 4-2.8 4.5-3.3 4.5-2.8 3.1-7.5 6.6-5 3.5-4.5 2.6-4.5 2-5.5 1.8-6.5 1.5-6.5 1-5.5 .4-6-.1-12-1.2-9.5-2.4-12-4.5-11.5-5.2-21.4-11.1-3.4-1.5-2.7-.7zM227.2 415.8l.4 1.3 1 .8 2 .7 4 .6 2-.4 3.5-2.3 2.5-.8 2.5 .2 3.5 1.4 .6 0 .2-.5-1.9-2.5-3.2-2.5-3.2-1.4-3.5-.6-4 .4-3.1 1.1-2.3 2-.6 1zM137 541.8l.9-1 1.1-.5 3.6-.3 4.6 .8 5.4 2 5.1 3 3.5 3 1.9 3 .2 1.5-.3 1-.9 .9-1.5 .6-3.5 .2-5-1-5-2-4.7-2.7-3.5-3-2-3-.2-1.5z"/><path fill="#128cff" d="M75.1 321.3l253 0 0 172.7-4.2 9.3-4.3 7.5-2 1.7-2 .8-2.5 .1-2-.6-2-1.4-1.4-1.6-1.1-2-1-3.2-.5-.1-2.7 3.3-8.3 14.3-6.2 8.2-4.1 4.5-4 3.5-4.2 2.8-2 .5-.3-.3 .1-1 1-2 9.8-16 3.5-6.5 2.5-5.5 3-9 1.8-9 .8-2 2-3.5 .1-1.5-3.8-5.2-1.6-2.8-4.9-12.4-2-3.9-2.5-3-4-3.3-2.5-2.5-3.3-3.9-2.4-3.5-3-5.5-6.3-14.1-3.7-5.9-5-5.5-5.7-4.5-4.6-2.2-5-.9-4 .2-4 .9-3.1 1.5-3.1 2.5-2.3 2.9-9 13.3-1.5 2.9-2 6.4-.8 1.5-4 3-.3 1 .4 1.5 7.1 10 1.2 2.5 .6 2.5 .4 6 .1 7-.9 7.5-1.4 6.5-1.7 5.5-1.3 3-3.6 6-3.5 4.5-3.7 4-4.1 3.7-5 3.8-4.5 2.8-5 2.5-5 1.8-6.5 1.7-6.5 1.1-5.5 .4-6-.1-6.5-.5-7-1-10.5-2.6-13-4.8-10-4.6-20.7-10.7-3.4-1.5-2.9-.8zM309.1 479.6l-1 .2-1.8 1.5-2.3 2.5-.9 1.5 .1 1 .6 1 3.3 3.6 1 .6 .5-.1 .9-1.6 .8-4.5-.2-4.1-.5-1.3zM241.1 418.3l1.5-.6 1.5 .2 4.5 2.6 4.5 3.7 4.4 5.1 2.5 5 1.5 5.5 .4 6.5-.3 1-1 1-2 .5-1.9-1-.6-1-1.9-6.5-3.1-5.8-4.5-5.4-3-2.7-3-2.1-.8-1-.5-1.5 .2-1.5 .5-1zM230.6 425.6l2-.3 3.5 1.7 3.7 2.8 2.3 2.7 1.6 3.3 .7 3.5 .2 4.5-.5 2.1-.5 .1-2.8-5.7-3.2-4.5-3-2.9-4.7-3.6-.5-1 0-1 .5-1zM275.1 456.6l1.5 .4 1 .9 .8 1.4 .1 1.5-2 13.5-1.3 4-.6 1.1-1 .9-.5-.3-.5-1-.5-2.2-2.2-16 .7-2 1-1.2 1.5-.8z"/><path fill="#0da1ff" d="M75.1 321.3l253 0 0 169.3-4.4 10.2-5 9-1.1 1.2-1.5 .8-1.5 .3-2-.2-2.6-1.6-1-1.5-.5-1.5 0-2 1.6-6 2-10 1-7.5 0-10-.4-3-.6-1.4-.5-.4-1.1 .3-4.9 7.1-3 2.9-1.5 .6-1.5 .1-2.6-1.2-1.9-2.1-1.5-2.4-4.5-10-2.4-4-2.6-3-7.2-6.5-3.5-4.5-2.4-4.5-6.9-15.3-2.2-3.7-2.5-3.5-5.3-5.6-6-4.6-5-2.2-5.5-.9-5 .2-4.5 1.1-3.9 2-3.4 3-4.1 5.5-4.4 8-2.3 5.5-2.4 8.4-.9 1.1-2.6 1.5-.9 1-.2 1.5 .4 1 6.5 9 1.2 2.5 .8 3 .6 5.5 .2 7.5-.8 7-1.6 7.5-1.5 5-1.3 3-3 5-4.1 5.5-3.7 4-3.6 3.3-4.5 3.4-5.5 3.6-5 2.5-4.5 1.6-7 1.7-6.5 1.1-5 .3-6-.1-13.5-1.5-10.5-2.6-12.5-4.7-10-4.5-21.6-11.1-3.7-1.5-2.2-.5zM242.1 419.3l1.7 0 5.8 3.8 4 3.7 2.7 3.5 1.9 4 1.5 5 .6 6.5-.2 .8-.5 .5-1 .1-.8-.9-2.2-7.5-1.7-3.5-3-4.5-4.3-4.7-5.1-3.8-.5-1.5 .5-1zM302.1 491.5l1.6 1.3 .8 2-.2 1.5-4.3 10-3.9 7.5-4 6-3 3.2-.9-.7 6.3-16.5 3.1-12.5 1-1.2 1-.6 1-.2z"/><path fill="#09b6ff" d="M75.1 321.3l253 0 0 166-5 12-5.5 9.9-2 1.4-2.5 .1-2.2-1.4-.6-1-.4-1.5 3.2-14.5 1.3-8.5 .6-6.5 .1-7.5-.5-7.5-1.3-3.5-1.2-.5-1.5 1.2-5 8.8-2.5 3-1.5 1-1.5 .3-1.5-.3-1-.6-1.5-1.4-1.4-2-4.6-8.5-2.4-3.5-2.6-2.8-6.4-5.7-3.1-3.9-2.3-4.1-7.6-16.5-2.6-4.3-2.8-3.7-5.7-5.7-5.8-4.3-5.2-2.3-5.5-.9-5.5 .2-4.7 1-4.3 1.9-3.3 2.6-4.2 5.3-3.9 7.2-2.6 7-2.5 9.6-.5-.1-.1-1.5-.3-.5 .3-.5-.5-1.5-.8 4 .4 .7 .9 .3-.6 1-2.8 1.8-.5 2.2 .6 1.5 6.2 8.5 1.2 2.5 .8 3 .6 5.5 .2 7.5-.8 7-1.6 7.5-1.6 5-1.4 3-3 5-3.7 5-3.7 4-3.8 3.4-4.5 3.5-4.5 2.9-4.5 2.4-5 1.9-6 1.6-6.5 1.2-5.5 .5-6 0-7-.6-7-1-10.5-2.5-12.5-4.6-11-4.9-20.9-10.8-3.6-1.5-2.5-.6z"/><path fill="#05caff" d="M75.1 321.3l253 0 0 162.9-4.8 12.1-2.8 5.5-3.9 6.5-1.5 1-1.5 .1-1.5-.9-.8-1.7 3.5-17 1.4-12.5 .3-8.5-.3-7.5-1-5.5-1.1-2.1-.5-.5-1-.3-2 1.5-5.5 9.3-2.5 3-1.5 .8-1 .2-1-.1-1.5-.8-2.5-2.8-6.2-9.2-8.5-8-2.9-3.5-2.4-4.2-8-16.8-3-4.9-3.2-4.1-5.8-5.6-6-4.3-5-2.1-6-1-5 .1-5 .9-4 1.5-3.2 2-3.6 3.5-3.5 5-2.4 4.5-2.8 6.9-.5 .5-1-.6-.5 .2-.8 3-1.1 9 .4 1.5-.1 .5-2.2 1.5-.6 2.5 .5 1.5 4 5 2.3 3.5 1.2 2.5 .6 2.5 .7 5.5 .3 8-.9 7-1.2 6-1.5 5-1.7 4-3 5-3.2 4.5-3.2 3.6-4 3.8-5 3.9-4.5 3-4.5 2.4-5 1.9-6 1.6-6.5 1.2-5.5 .5-6 0-7-.6-7-1-10.5-2.6-12.5-4.5-10-4.5-21.9-11.2-3.6-1.5-2.5-.6zM123.1 392.4l-.3 .4-.5 2 0 4.5 .6 4 1.6 4.5 2.6 3.9 3 3.3 5 4 1.5 .8 .7 0-.1-1-7-12-6-14z"/><path fill="#00dfff" d="M75.1 321.3l253 0 0 159.6-2.2 6.4-2.7 6.5-2.8 5.5-2.8 4.5-2.2 2.5-.8 .5-.6 0-.3-1.5 3.1-22 .9-12.5-.2-8.5-.5-5.5-1.4-6-1-1.9-1-.7-1 .1-2 1.5-6 9.9-2 2.3-2 1.1-1 .1-1.5-.6-2.5-2.3-5.7-7.5-7.8-7-2.6-3-2.4-4-5.4-11.5-3.7-7-3.2-5-3.7-4.4-6.1-5.6-5.9-4-5.5-2.1-6-.7-4 .1-4 .5-3.5 .9-3 1.2-3 1.8-2.7 2.3-6.8 8.2-1 .4-.5-.1-.9-1.5-.6-.2-.7 1.2-.8 3.9-1.6 21.1-1.9 1.6-.7 3.4 .7 1.5 3.4 4 2.4 3.5 1.2 2.5 .7 2.5 .9 6.5 .3 7-.6 5.5-1.1 6-1.5 5.5-2 5-5.4 8.5-3.3 4-4 3.9-5.5 4.4-4.5 3-4.5 2.4-5 2-5.5 1.5-7.5 1.4-6 .4-5 0-7-.6-7-1.1-10.5-2.5-12.5-4.6-10-4.4-22-11.3-3.5-1.4-2.5-.6zM126.1 368.9l-1.5 2.4-2 5.1-1 3.9-1.1 6-.4 5 .1 4.5 .4 4 1 4 1.3 3.5 1.4 2.5 2.3 3.1 2.5 2.8 7 5.9 3.5 2 2 .5 .5-.3-.8-2-5.9-8.5-2.9-5-2.3-5-1.9-5.5-1.2-5.5-.8-5-.2-6 .8-11-.3-.5 .3-.5zM168.9 422.3l-.3 .5 .5 .3 .2 .7 1.2 1.5 6.1 5.4 6 4.1 2.5 1.1 1.5 .4 .2-.5-.7-.8-3-2.6-12.1-9.1z"/><path fill="#00e2ef" d="M75.1 321.3l253 0 0 156.3-4 11.2-3.9 7.5-2.1 2.6-1-.3-.3-1.8 1.7-21 .2-12.5-.5-6.5-1.1-7-.9-3-1.1-1.7-1-.7-1-.2-2 .8-2.1 2.3-4.4 7.5-2 2.5-2 1.3-1 0-1.5-.5-2-1.7-5-5.8-6.7-5.8-2.8-3-2.5-4-5.4-11-4.6-8.5-3.8-5.5-4-4.5-6.2-5.4-6-3.8-3-1.2-3-.8-6.5-.6-7 .6-5.5 1.5-4.5 2.2-6.5 5-1 .3-1.9-1.3-1.1-3-.9-.5 .3-.5-.5 0 .1 .5-1 .9-1 4.7-.5 4.9-1.3 24.5-.4 2-1.7 1.5-.7 3.5 .6 1.5 3.2 3.5 2.5 3.5 1.3 2.5 .8 2.5 .9 6 .3 8-1.3 10-1.6 6-1.6 4.5-2.4 4.5-3.4 5-3.2 4-4 3.9-5 4.1-5 3.4-4.5 2.4-5 2-5.5 1.5-7.5 1.4-5 .4-5 0-6.5-.5-7.5-1-10-2.3-14-5-10-4.4-21.1-10.9-3.9-1.6-3-.8zM140.1 344.5l-3.5 2.9-5.5 6.6-3.8 5.8-3.2 6.5-2.6 7-1.6 6.5-1 7.5 0 7 .7 6 1.3 4.5 1.7 3.9 2.8 4.1 4.2 4.5 5.9 5 5.6 3.4 3.5 1.1 .7-.5-.5-1.5-8.7-12-3.7-7-1.8-4.5-1.2-4.5-1.3-9.5 .3-9 .8-5 1.2-5 1.3-4 2.9-7 5.9-11.5 .2-1zM151.6 388.2l.1 .6-.3 .5-.1 2 .1 4 1.6 8.5 2.9 7 4.2 6.5 2.5 3.1 4.4 4.4 8.9 7 5.2 3.4 4.5 2.4 3 1.1 2.2 .1 .2-.5-1.1-1.5-14.8-12.5-5.6-5.5-4.2-5-4-5.5-3.4-6-2.8-6-2.3-8-.7-.4zM165.6 341.4l-1.5-.1-2 1.3-2 2.4-2.5 4.3-2.5 6.7-1.5 6.1-.5 5.2 .2 .5-.2 .5 .6 .5-.1 .6 .9-.6 5.4-11.5 5.7-10.9 1-3.6-.4-1zM198.6 430.9l-.6 .9 .7 1.5-.1 .5 1 .4 .5-.4 0-.5z"/><path fill="#00e3de" d="M75.1 321.3l253 0 0 152.6-3 8.9-3.1 6.5-1.3 1 0 .5-.6 .2-.5-.1-.3-1.6 .2-.5-.3-.5 .6-18-.3-11-1.6-12.5-1.3-3.5-1.5-2.1-1-.7-1.5-.4-1.5 .2-1.1 .5-2.6 2.5-5.3 8-1.5 1-1 .1-1-.3-5.2-4.8-6.3-4.4-3-2.9-2.5-3.7-7.7-14.5-5.6-9-5.7-6.6-7.5-6.3-4.5-2.7-4-1.7-4.5-1.1-5.5-.3-5.5 .3-5 1-4 1.3-6.5 3.2-1.5 .1-.6-.2-.9-1.1-.4-1.4-.3-3 .3-2.5-.1-1-.5-.5-2 1.3-1.5 2.1-1.1 2.6-1 3.5-1 8.5-1 28-.4 1.5-1.6 1.5-.9 4 .5 1.5 3.3 3.5 2.2 3 1.4 2.5 1 2.5 .9 5.5 .4 7.5 0 3-1 6.5-2.4 9.5-1.6 4-2 3.5-3.4 5-3.3 4-3.5 3.5-4 3.3-5.5 3.9-5.5 3-5 2-6 1.5-6.5 1.2-6 .4-6-.1-8-.8-11.5-2.2-13-4.4-12-5.1-22.9-11.7-3.6-1.5-3-.8zM149.6 332.1l-1.8 .7-5.9 4-2.1 2-9.2 12.9-4.1 6.6-3.6 7.5-2.8 8.1-1.6 7.9-.7 7.5 .3 7 1.1 6 1.9 5.1 2.5 4.1 5 5.7 6.5 5.6 6.2 4 3.3 1.5 2.5 .5 .7 0 .4-.5-.7-1.5-9.9-13-2.4-4-2.4-5-1.7-5-1-4.5-.7-5.5-.1-5 .4-5.5 .8-5 1.4-5.5 1.6-4.5 1.9-4.5 2.9-5.5 7.3-11.3 2.6-4.7 2-5-.1-.9zM166.1 336.2l-2 .8-1.5 1.2-2.3 2.6-2.3 3.5-3.9 8-3 9-2.1 9.5-1.2 11.5 .1 9.5 1.2 7.5 2.2 6.5 3.1 6 4.3 6 5.4 5.7 7.7 6.3 9.8 6.4 6.1 3.1 2.4 .7 2.5 .1 .4-.3 0-.5-1.9-2.3-14.7-12.7-4-4-4.3-5-3.8-5.5-2.3-4-2.2-5-1.1-3.5-1.3-7-.4-6.5 .3-6.5 1.5-7.5 2.1-7 2.4-6 3.5-7 5.3-9.1 1.1-2.9-.1-1.1-1-.7zM188.6 410l-.7 .8 .2 2 3 8 6.6 13.5 1.4 1.2 1 .3 .5-.2 .5-.9 .1-1.4-2.8-7-7.3-13.5-1-1.4-.8-.6-.1-.5zM208.3 326.8l-.7-1.8-.5 0-.5-.7-2-.6-5 1.7-.5-.1-.5 .4-.5-.1-.5 .6-.5-.2-.3 .8 .3 .5 .5-.2 .5 .5 .5-.1 .5 .3 1.5 .3 4 1.4 2-.5 .5-.6 .5 0z"/><path fill="#00e4cc" d="M75.1 321.3l95.4 0-.5 3.5 1.6 2.5 .5 0 .2 1-.4 1-2.3 1.6-3 .5-1 .5-4.5 5.1-3.2 4.8-2.8 4.9-2.2 5.1-2.2 6-2.7 10.5-1.5 10.5-.2 9 .8 8.6 1.5 5.9 3.1 7 4.4 6.8 5 5.7 7.5 6.4 9.7 6.6 9.3 5 2.8 1 2.2 .3 1.5-.3 0-1-.7-1-2.8-2.9-11.5-9.9-4.3-4.2-4.4-5-4.3-6-3.1-5.5-1.7-4-1.4-5-.9-5.5-.3-7 .6-8 1.6-7.5 2.5-8 3.6-8 3.8-6.5 5.8-7.8 4-4.1 3-2 4-1.3 4-.6 5 .2 3 .7 2 .9 3 2.6 1.5 .9 1.2 1.5-.2 2-1.5 2.2-11.5 12-3.9 5.3-2.7 5-2.4 6.2-1.4 5.3-1.1 6.5-1.1 10-.1 5.5 .7 5.6 1.1 4.4 1.9 5 2.9 6 9.5 17 1.1 1.1 2 .9 .5-.4 .6-1.6-.1-2-2-5.4-7.1-16.6-2.3-8-.7-6.5 .2-8.5 1.2-5.5 1.6-5.5 2.3-6 2.6-5 4-6.5 5.8-8 4-4.5 6-6 .7-2.5-1-4 .3-1.5 1.4-1.6 4-2.4 .3-1.5-.3-1.4-.5-.1-.5-1.3-.5 0-.5-1.1-.5-.1 0-.8-1.7-1.2 109.7 0 0 148.4-1.9 6.1-1.9 4.5-1.1 2-.6 .5-.8 0 .3-.5-.7-.5-.9-22.5-1.2-11.5-.8-4-1.3-3.5-1.2-2-1.4-1.6-3.8-3.4-1.5-2-4.2-11.1-2.5-3.9-2-1.1-1 .1-1 .6-1.5 1.7-5 8.1-2 2.6-2 1.4-1.5-.2-2.5-2.3-11.3-15.4-3.7-4.5-6-5.8-7-5.4-6.5-3.5-3.5-1.2-3.5-.6-7-.4-10.5 1-2.1-.1-.9-.5-.2-.5-.2-3.5-.8-2-1.3-1.2-2-.5-1.5 .2-2 1.2-3.7 3.3-2.8 4-1.7 4.5-.8 3.9-.5 5.6-.9 30.5-.6 1.4-1.5 .9-.9 4.7 .4 1.5 3.5 3.5 2.2 3 1.7 3 .8 2.5 1 6.5 .3 7.5-1.4 10-1.3 5-1.6 4.5-3.2 6-5.5 7.5-3.4 3.5-3.6 3.1-5.5 4.1-4.5 2.7-5 2.2-5.5 1.7-6.5 1.4-6.5 .7-7 0-7-.6-7-1-5.5-1.2-6.5-1.9-6.5-2.3-13-5.5-23.3-11.9-3.7-1.5-2.5-.6zM147.6 327.8l-1.5 .2-1 .5-1.5 1.3-1.1 .5-2.4 2.5-5.7 11-6.8 10.5-3.8 7-2.9 7-2.2 7.5-1.4 8.5-.3 7 .6 7 1.5 6 2.3 5 3.3 4.5 5.4 5.6 7.5 5.9 6.5 3.6 3.5 1.4 2.5 .4 .7-.4-.5-1.5-11.2-14-2.6-4-1.8-3.5-2-5-1.4-5-1.1-9 .2-6.5 .8-5.5 1.2-5.5 2.1-6 4.3-9 8-12 6-10 0-2-1.1-2-1.6-1.2zM247.6 374.8l.1 1.5 .9 1.5 3.3 3 5.2 2.9 6.5 2.3 6.5 1.3 6 .2 5-.9 1.5-.8 .7-1 .1-1-.6-1.5-1.2-1.5-2.5-2-5.4-3-7.1-2.5-7-1.4-6-.2-2.5 .4-1.8 .7-1.2 1zM190.2 321.3l8.9 0-2 .7-3 .4-2-.2z"/><path fill="#00e4c3" d="M167 321.3l-2.4 4.7-2.6 6.3-5.5 9-3.1 6-3 8-2.3 7.5-2 10.5-.9 10 .3 9 1.5 8 2.6 6.9 3.9 6.6 4.3 5.5 6.3 6.1 10 7.2 10.4 6.2 6.6 2.7 2 .3 1.5-.4 .3-.6-.2-1-1.6-2-14.5-13-5.3-5.5-3.9-5-3.6-5.5-3-6-1.9-6.5-1-7 0-8 .6-5.5 1.2-6 1.5-5.5 1.7-5 2.3-5 2.7-5 3-4.5 3.5-4.5 3.2-3.2 3-2.3 3-1.7 3-1 4-.6 4 .4 2 .8 1.9 1.6 .8 1.5 .3 1.5-.1 1.5-.6 2-2.1 3-5.9 7-4 5.5-3 5-2.3 5.5-1.9 6.5-1.1 5.5-1.1 9.5-.1 7 .7 5.5 .9 3.5 1.6 4.5 2 4.4 12.5 21.6 3.8 3.5 .3 2-.9 3.5 .3 1 4.9 5 2.9 5 .8 2.5 .7 5 .4 6-.1 4.5-.9 6-1.3 5.5-2 6-1.7 3.5-3.5 5.5-4 5-3.7 3.7-5 4-5 3.4-4 2.2-4.5 1.9-5 1.5-6 1.2-6.5 .8-5.5 0-7-.5-7-.9-7-1.5-12.5-4-13-5.5-23.1-11.8-3.6-1.5-3.3-.9 0-119.5 8.5 1.1 1.5-.2 1-.9 1-2.1 2.9-9 5.3-11 6.6-11 7.5-11 2.8-3 2.4-1.9 2.5-1.4 2.5-1.1 3-.7 3-.3 2.5 .2 2 .5 2 1 2.4 2.7 1.1 3 .2 2.5-.4 3.5-.9 3-1.7 3.5-5.7 8.9-3.5 6.4-2.5 5.7-2.3 6.5-1.7 7.5-.8 7 0 6.5 .9 7 1.4 5 2.5 5.1 4 5.2 4.7 4.7 6.8 5.5 5.5 3.4 7.5 3.1 2.5 .6 1.4-.1-.1-1-9-10.5-4.8-6.3-3-4.7-1.9-4-2.2-6.5-1-5-.5-7.5 .4-6.5 1-5.5 1.1-4.5 1.6-4.5 2.2-5 3.7-6.5 8.4-12 4.9-8 .2-1.5-.4-2-1-2-2.9-4-.6-1.5-.2-2zM234.4 321.3l32.6 0 5.1 1.8 7 3.1 6 3.3 6.7 4.3 5.2 4 5.8 5 5.5 5.5 2.4 3 4.4 6 4.1 6.5 5.1 9.5 3.8 8.8 0 82.4-2 6.8-.9 2-1.1 1.3-.5 .1-.6-.9 .2-.5-.6-1.5-2.1-24-1.1-6-1.6-4.5-4.8-9.5-5.5-16.5-4.1-8-5.8-8.5-5.1-9-1.9-2.5-2.6-2.5-4.8-3.5-7.6-4.4-7.5-3.5-8.5-3-7-1.8-6-.8-5.5 .1-4.5 1-4.1 2.4-6.3 5-5.4 5-5.7 3.9-5 5.1-2.4 3.5-1.2 2.5-1.8 6.5-.7 8-.3 23-.5 4 .1 2.5-.7 1-.8-.5 .7-3-8.8-22.5-1.7-6-.6-3.5-.2-5.5 .3-5.5 .7-5.5 1.5-6 3.1-8.5 4.8-9 8.5-11.9 3.3-3.6 5.2-5 .8-1.5 1.2-4 1-1.4 3-1.7 5-1.2 4.5-.6 1.5-1.1 .7-1.5 0-1.5-.7-2.2-1.4-2.3z"/><path fill="#00e5b5" d="M167 321.3l-2.4 4.7-2.6 6.3-5.5 9-3.1 6-3 8-2.3 7.5-2 10.5-.9 10 .3 9 1.5 8 2.6 6.9 3.9 6.6 4.3 5.5 6.3 6.1 10 7.2 10.4 6.2 6.6 2.7 2 .3 1.5-.4 .3-.6-.2-1-1.6-2-14.5-13-5.3-5.5-3.9-5-3.6-5.5-3-6-1.9-6.5-1-7 0-8 .6-5.5 1.2-6 1.5-5.5 1.7-5 2.3-5 2.7-5 3-4.5 3.5-4.5 3.2-3.2 3-2.3 3-1.7 3-1 4-.6 4 .4 2 .8 1.9 1.6 .8 1.5 .3 1.5-.1 1.5-.6 2-2.1 3-5.9 7-4 5.5-3 5-2.3 5.5-1.9 6.5-1.1 5.5-1.1 9.5-.1 7 .7 5.5 .9 3.5 1.6 4.5 2 4.4 12.5 21.6 3.8 3.5 .3 2-.9 3.5 .3 1 4.9 5 2.9 5 .8 2.5 .7 5 .4 6-.1 4.5-.9 6-1.3 5.5-2 6-1.7 3.5-3.5 5.5-4 5-3.7 3.7-5 4-5 3.4-4 2.2-4.5 1.9-5 1.5-6 1.2-6.5 .8-5.5 0-7-.5-7-.9-7-1.5-12.5-4-13-5.5-23.1-11.8-3.6-1.5-3.3-.9 0-119.5 8.5 1.1 1.5-.2 1-.9 1-2.1 2.9-9 5.3-11 6.6-11 7.5-11 2.8-3 2.4-1.9 2.5-1.4 2.5-1.1 3-.7 3-.3 2.5 .2 2 .5 2 1 2.4 2.7 1.1 3 .2 2.5-.4 3.5-.9 3-1.7 3.5-5.7 8.9-3.5 6.4-2.5 5.7-2.3 6.5-1.7 7.5-.8 7 0 6.5 .9 7 1.4 5 2.5 5.1 4 5.2 4.7 4.7 6.8 5.5 5.5 3.4 7.5 3.1 2.5 .6 1.4-.1-.1-1-9-10.5-4.8-6.3-3-4.7-1.9-4-2.2-6.5-1-5-.5-7.5 .4-6.5 1-5.5 1.1-4.5 1.6-4.5 2.2-5 3.7-6.5 8.4-12 4.9-8 .2-1.5-.4-2-1-2-2.9-4-.6-1.5-.2-2zM234.4 321.3l32.6 0 5.1 1.8 7 3.1 6 3.3 6.7 4.3 5.2 4 5.8 5 5.5 5.5 2.4 3 4.4 6 4.1 6.5 5.1 9.5 3.8 8.8 0 82.4-2 6.8-.9 2-1.1 1.3-.5 .1-.6-.9 .2-.5-.6-1.5-2.1-24-1.1-6-1.6-4.5-4.8-9.5-5.5-16.5-4.1-8-5.8-8.5-5.1-9-1.9-2.5-2.6-2.5-4.8-3.5-7.6-4.4-7.5-3.5-8.5-3-7-1.8-6-.8-5.5 .1-4.5 1-4.1 2.4-6.3 5-5.4 5-5.7 3.9-5 5.1-2.4 3.5-1.2 2.5-1.8 6.5-.7 8-.3 23-.5 4 .1 2.5-.7 1-.8-.5 .7-3-8.8-22.5-1.7-6-.6-3.5-.2-5.5 .3-5.5 .7-5.5 1.5-6 3.1-8.5 4.8-9 8.5-11.9 3.3-3.6 5.2-5 .8-1.5 1.2-4 1-1.4 3-1.7 5-1.2 4.5-.6 1.5-1.1 .7-1.5 0-1.5-.7-2.2-1.4-2.3z"/><path fill="#00e499" d="M163.6 321.3l-1 3.5-2.1 4-1.4 1.9-1 .5-.5-.2-1-1.1-2.2-4.1-.4-2 .2-2.5zM223.6 336.9l2-1.3 2-.6 6.5-.8 2.5-.8 2.3-1.6 4.2-4.1 2.5-1.3 2.5-.5 2.5-.1 8 1.1 5.5 1.5 5 1.7 5.9 2.7 6.3 3.5 5.3 3.5 5.5 4.2 5.3 4.8 5.3 5.5 4.2 5.5 4 6 6.3 11.5 6.6 16.5 2.4 7 1.9 6.9 0 46.7-1 3.9-1.4 3-.8 0-.6-1-1.5-7-.8-9.5-1.2-6-8.2-25.5-2.7-7-3.3-7-6.2-10.5-2.8-3.5-4.3-4-5.7-4.2-14-8.8-8-4.1-4.5-1.9-7-2.2-6.5-1.2-5.5-.2-4.5 .6-3.5 1.4-2 1.4-5 4.6-3.7 2.6-2.8 2.5-10.6 13.5-4 6.5-1.2 3.5-.8 3.5-.7 8 0 21-.3 3-.4 .8-.5-.5-6.1-15.3-1.6-5-1.2-5-.5-5 .1-5 .5-5.5 1.1-6 1.6-5.5 2-5.5 2.4-5 2.9-5 8.6-12 2.7-3.1 5-4.5zM122.6 331.6l4-.3 2 .5 1.5 .7 2 2.3 .6 2 .1 1.5-.4 2.5-1.1 3-7.2 12-3.6 7.5-2.6 7.5-1.8 7.5-1 8.5 .4 9 .6 4 1.1 4 2.9 6 3 4.1 4 4.4 5.7 5 5.4 4 6.4 3.5 7 3 5 1.4 1.3 .1 .5-.5-1.9-2.5-10.9-11.4-4.1-5.1-3-4.5-2.6-5-1.8-5-.9-3.5-.8-5-.2-6 .5-6.5 1.2-6.5 1.9-6 2.8-6.5 4-6.5 4-5.1 2-1.7 1-.3 .3 .6-.3 2.5-2.9 11.5-1.5 7.5-1.3 12 0 7.5 .6 5.5 1.3 6 2 5.5 2.8 5.2 4 5.6 4 4.5 5 4.4 7 5.1 10 6.2 7.5 3.8 3.5 1.3 3 .2 1-.8-.1-1.5-.8-1.5-3.5-3.5-11.6-10.5-4.3-4.5-4.8-6-4.3-7-2.3-5-1.6-5.5-.9-6-.2-7.5 .5-5.5 1-6 1.2-5 1.7-5.5 2.1-5 2.3-4.5 5.1-7.7 3.4-3.8 3.1-2.7 3-2 3-1.4 3.5-.7 3 .2 2.5 1.1 1.2 2-.1 2.5-1 2.5-10.6 15.1-2.5 4.5-2 4.9-1.8 6-1.2 6.4-1 8.6 0 7 .5 4.5 1 4.5 3.3 8 3.5 6.5 10.7 17.1 3.9 3.9 .3 2-1.3 3 .2 1 5.3 5 1.7 2.5 1.6 3 .9 4 .6 6 .1 6.5-.6 4.5-1.7 8-2.2 6.5-4.1 7-4.7 6.1-5.7 5.4-7.8 5.7-6 3.1-7.5 2.5-9.5 1.7-8.5 .3-11.5-1.1-10.5-2.1-8.5-2.7-10.5-4.1-8.5-3.9-20.2-10.4-3.8-1.6-3-.7 0-114.5 5 .9 8.5 3.5 1.5 .1 1.5-.7 1.2-2.5 2-8.5 1.8-5.5 3.1-7 3.8-7 3.8-6.5 7.8-12 3.5-3z"/><path fill="#00dc7d" d="M159.1 321.7l.8 .6 .2 1-.5 1.2-1 .5-.9-.7-.2-1 .6-1.2zM201 368.8l4.5-7.5 8.1-10.9 2.5-2.7 4.5-4 4-4.8 2-1.4 3-.9 5-.6 2-.5 2.5-1.2 6-3.9 4-1 5 .2 6 1.2 7 2.2 5.1 2.3 5.4 2.9 6 3.9 5.4 4.2 5.1 4.6 4 4.2 3.8 4.7 3.7 5.4 3.4 5.6 4.7 10 6.4 17.5 2.4 8 1.5 7 .9 6.5 .1 5-.6 5-.3 .5-1.2-2-6.2-17.5-6.4-15.5-4.5-7.5-4.1-4.5-6-5-7.1-5-11.5-7.6-7-4-6-2.9-7.5-2.5-5.5-1.3-6-.7-4.5 .1-4 .7-3 1.1-2 1.4-5.1 5.7-5.5 4-2.9 2.9-2.5 3.3-8.5 13.3-2.4 5-1.6 7-.5 8 .3 16-.3 3.5-.5 1.1-1-1.4-1.2-2.7-3.9-11-1.7-6.5-.5-6 .3-7.5 1.4-8 2.3-8zM123.1 334.6l3-.1 2.5 .9 1.6 1.9 .5 2.5-.4 2.5-1 2.5-6.5 10.5-3.5 7.5-2.8 8.5-1.7 8-.8 8.5 .6 9 .7 3.5 1.1 4 3.1 6 3.8 5 4.8 4.8 6 5.1 5.2 3.6 6.6 3.5 9.7 4 5.5 1.5 1.6 0 .4-.5-1.5-2-11.9-11-7.5-9-4.6-7.5-2-5-1.3-4.5-.8-5-.2-6.5 .5-6.5 1.2-6 2-6 2.6-5.6 3-4.5 1.5-1.4 1-.2 .3 .7 0 2-1.7 11-.9 8.5 0 11.5 .7 5.5 1.1 5 1.8 5 2.3 4.5 3.6 5.5 4.3 5 4.9 4.5 4.5 3.5 9.3 6 7.3 4.1 9 4.1 3 .6 1.5-.3 .2-.5-.3-2.5-.9-1.7-14.5-13.7-3.9-4.1-4.5-5.5-4.2-6.5-2.5-5-1.7-5-1.1-6-.4-6.5 .2-6 .7-5 2.3-10 1.7-5 2-4.5 4.6-8 2.8-3.6 3-3.3 3-2.4 3-1.9 3.5-1.2 3-.1 2 .8 1.1 1.7-.1 2-1.2 3-9.8 14.6-2.5 4.9-1.9 5-1.8 7-1.3 9-.4 6.5 .2 5.5 .7 4.5 1 4 1.8 4.5 2.2 4.5 3.2 5.5 11 17 4 4 0 2-.7 1.2-1.3 1.3-.1 .5 5.9 5 2 2.7 1.8 3.3 .8 3 .7 5 .2 6.5-.2 4-1.7 9-2.5 7.5-3.7 6.5-4.4 6-5.5 5.4-8 6-6.5 3.5-7.5 2.5-10 1.8-8 .2-11.5-1.1-10.5-2.1-9.5-3-10-4-8.5-4-19-9.8-4.5-1.9-3-.7 0-112.1 2.5 .3 2.5 .7 10.5 5.1 2 .2 1.5-.7 .9-1.3 .6-1.9 1.7-8.6 1.7-6 2.1-5 2.9-6 6.1-10.5 6.9-11 2.6-2.6z"/><path fill="#00d461" d="M300.9 364.8l3.4 6.5 1.4 4.5-.1 2-.5 .6-1.5 0-3.5-1.5-4.5-2.6-20.5-13.1-6.5-3.4-6.5-2.6-9-2.6-8-.9-4 0-4 .5-2.5 .7-2.5 1.1-2.5 2.2-4.1 5.6-6.4 4.9-3.5 3.9-2.5 3.9-8.2 14.8-1.6 4.5-.9 5-.4 8.5 .3 14.5-.4 2-.3 .3-.5-.3-1.8-4-2.4-7-1.4-5.5-.7-4.5-.1-5 .5-5.5 1.1-6.5 1.4-5.5 3.4-9.1 2.3-4.4 3.2-5 9.5-12 10.5-10.1 3-1.3 7.5-1.3 8-3.9 3.5-1 3.5-.1 3.5 .5 9 2.4 4.5 1.9 6 3.1 5 3.2 5.4 4.1 5 4.5 3.8 4 2.8 3.4zM123.1 337.3l2.5-.2 2 1.1 .9 1.6 0 2.5-.9 2.5-6.2 10-3.4 7.5-3.2 10.5-1.3 7-.5 4.5 .1 8 1 7.5 2 6 3.1 5.5 4.1 5 5.2 5 5.6 4.7 5.6 3.8 7.4 3.9 10 4.1 7 2 2.5 .2 1-.2-.3-1-11.7-10-5.2-5-3.6-4-6.2-8.5-2.5-4.5-1.5-4-1.3-4.5-.8-5-.2-5.5 .4-5.5 .9-5 2-6.4 2-4.1 1-1.2 1-.6 .6 1.3-.6 12.5-.1 8 1 10 1.1 4.5 1.8 5 2.3 4.5 2.7 4 3.6 4.5 3.9 4 5.2 4.3 5 3.4 7.5 4.6 7.7 4.2 8.8 4 5 1.2 4.5 2.6 2 1.7 2 2.5 1.8 3 .9 2.5 1 9.5 0 5-1.5 9-1.5 5.5-1.5 4-2.4 4.5-3.4 5-2.9 3.6-3 3-4.5 3.8-4.5 3.3-4.5 2.6-4 1.8-5 1.6-9.5 1.9-8.5 .5-10.5-.9-11-2-8.5-2.5-11.5-4.5-8.5-3.9-20-10.3-4.5-1.9-3-.7 0-110.2 3 .4 2.5 .9 8.5 4.7 3 1.3 2.5 .3 1.5-.7 .8-1.1 .7-2 1.7-9.5 1.6-6 3.3-8 4.6-8.5 10.1-16.5 1.7-1.7zM189.1 337l2 .2 1.1 .6 .7 1.5-.2 1.5-1.5 3.5-8.8 13.5-2.2 4.5-1.6 4.5-1.7 6.5-1 6-.8 8 .1 7 .7 5 1.2 4.5 1.5 4 2.3 4.5 3.2 5.5 8.6 12.5 3.4 5.5 3.7 3.5 .3 1-.2 1-.8 1-1 .4-1-.5-1.3-3.4-1.7-2-14.2-13.5-4.4-5-3.7-5-3.6-6-2.5-5.5-1.4-5-.8-6-.1-8.5 1.2-9 2.5-9.5 3-7.5 4.5-7.7 5-6.1 5-3.9 2.5-1.1z"/><path fill="#00cd46" d="M291.1 357.8l2.2 3.5 1.3 3.5-.5 1.5-1.5 .2-3.5-1.2-11.5-6.3-8.5-4-6-2.2-8.5-2.4-7.5-1.1-7 0-6 1-4 1.8-2 2-2.5 4.7-1.5 2-6 4.6-3.8 4.4-2.5 4-7.6 15-1.7 5-.9 5-.3 8.5 .3 11-.3 2-.2 .3-.6-.3-1.4-3.2-2-6.3-1.1-5-.4-5 .2-5.5 .7-5 1-5.5 2.1-7 3.5-8 2.3-4 2.8-4 8.9-10.5 10-9.6 3-1.4 8-1.6 7-3.1 2.5-.7 4.5-.2 6.5 1.1 7.5 2.5 5 2.5 4.8 3 7.7 5.9 4 3.9zM188.1 339l1.4 .3 .9 1 0 1-.5 2-9.4 15.5-2 4.5-2 6.5-1.1 5-1.1 8-.3 6 .1 5 1.4 8 1.3 4 1.8 4 5 8.5 10 14.5 2 3.5-.5 .4-14.3-13.4-4.8-5.5-2.9-4-3.7-6-2.5-5.5-1.5-5-1-7 0-8 1.3-9 2.1-8.5 2.8-7.1 4-7.2 4.5-5.8 4.5-3.9 2.5-1.3zM123.1 340.3l1.5-.1 1 .5 .5 1.1-.1 1.5-5.6 9-3.5 8-3.2 11-1.3 7-.5 5 0 9 1.2 7.5 2 6 3.2 5.5 4.6 5.5 5.7 5.5 6.9 5.5 5.6 3.6 9 4.4 10 3.9 8.5 2.1 3 .3 1.3-.3-.1-.5-1-1-12.7-9.7-7.3-6.8-6.8-8-4.9-7.5-1.4-3-2-6-.7-4-.4-4 .3-6.5 .7-4.3 1.5-4.5 1-.6 .5 1.4 1 15.5 1.8 9.5 1.9 5 2 4 4.9 7 3.9 4.3 3 2.7 5.5 4.1 6.5 4.2 6 3.5 8 4.1 8 3.7 5.5 1.6 3.5 1.7 2 1.7 2 2.3 1.9 3.1 .9 2 1 8 .1 5.5-.3 3.5-1 6-1.4 5.5-1.9 5-2.1 4-3 4.5-2.7 3.5-3.5 3.7-4 3.4-5 3.7-4 2.4-4.5 2.1-5 1.6-9.5 1.9-8.5 .5-11.5-1-11-2.2-9-2.8-10-3.9-8.5-4-20.3-10.4-3.7-1.6-3.5-.9 0-108.5 2.5 .3 3 1 9 5.3 3.5 1.7 3 .5 1.8-.8 .8-1 .7-2 1.5-9.5 1.3-5.5 1.2-3.5 1.9-4.5 3.8-7 8.4-13 3.6-6.5zM195.6 437l.5 0 3.2 2.3 .4 1-.6 1.4-1 .3-.5-.2z"/><path fill="#00c52a" d="M276.5 349.3l1.7 3-.6 .9-3.5-.5-18-4.9-9-1.4-5.5-.2-5.5 .4-6.5 1.6-4.2 1.6-.3 .5-.8 6-.7 2-1.5 1.9-5.5 4.2-3.6 4.4-2.8 5-7.3 15.5-1.1 3.5-1 5-.3 3.5 0 12.5-.4 1.4-.5-.4-1.5-4-1-4.5-.4-3 0-5.5 .4-4.5 1.4-7.5 2.9-9.5 3.6-7.5 5-7 8.6-8.7 2-1.4 4.5-2.4 1.5-3 1.6-2 2.4-1.4 7-1.4 8.5-3.5 3.5-.6 3 .1 6.5 1.4 6 2.2 6.5 4zM186.1 341.7l.7 .1 .6 .5 .1 1.5-.4 1-7.8 13.5-1.9 4.5-2 6.5-1.3 6-1.2 11 0 6 .4 4 1 5 2.3 6.5 5.3 9.5 8.7 12.4 .9 1.6-.4 .4-3-2.4-6.7-6.5-4.8-5.6-3.5-4.9-3.4-6-2.2-5-1.3-5-.8-6 .1-8 1-7.5 1.6-7 2.8-8 3.6-7 4-5.5 4.1-4 1.5-1zM75.1 387.4l2.5 .4 3 1.1 10 6.1 3.5 1.7 3 .7 2-.4 1.3-1.2 .8-2 1.9-11.5 2.5-8.5 3.5-6.2 1.5-1.7 1 .1 .2 2.8-1.1 10-.4 6.5 .4 8 1.2 6.5 2 5.5 2.8 5 4.4 5.5 4.9 5 6.6 5.6 7 4.8 7.5 3.9 10 4.3 6 2 8 1.9 7 1 1-.5-1.7-1.5-7.8-4.9-5-3.7-5.3-4.9-.8-1 .6-.1 18.5 10.4 12 5.4 3 1.8 6.5 1.8 2 1.1 2 1.6 3.1 4 1 2 .7 2 .8 9.5 0 4.5-.5 3.5-1.8 8.5-2.5 7-4.6 7.5-5 6-4.3 4-5.9 4.4-5 3-4.5 1.9-6.5 1.9-7 1.3-6 .4-7-.2-8-.9-6.5-1.2-5.5-1.4-7.5-2.4-15-6.3-23.6-12-3.7-1.5-3.2-.8zM197.6 439.2l.5 0 1 .7 0 .9-.5 .5-.5 0-.4-.5z"/><path fill="#00bd0e" d="M182.6 346.8l.2 .5-.2 1-5.1 10-3.2 9-2 10.5-.8 11 .7 8.5 2.1 8.5 2.3 5 6.4 11-.4 .1-4-4.1-2.3-3-6.2-10.5-1.5-3.6-1-3.9-.9-5.5-.1-4 .4-6.5 1.1-7 1.6-6.5 1.9-5.4 2.5-5.2 3.4-5.4 3.1-3.5zM212.6 363.7l-.2 1.1-3.3 6.5-4 10-4 8.5-1.4 3.5-.6 3.2 0-3.7 .8-6.5 1.1-4.5 1.6-4.5 2-4.2 2.7-4.3 2.8-3.4 2-1.6zM75.1 388.5l2.5 .4 3 1.2 10 6.3 4 2.1 3 1 2 .2 2-.8 1.5-2.1 2.3-9.5 1-2 .6 0 .7 2 1.6 9 1.2 4 1.9 4.5 2.6 4.5 3.8 5 5.2 5.5 6.6 5.8 5.5 4.1 5 3.1 6.5 3.3 7.5 3.3 6.7 2.4 6.3 1.7 8.5 1.8 4.5 .5 2-.1 .6-.4-.1-.5-1-1-8.1-5-.4-.6-.8-.4 .8-.1 9.5 4.1 5.5 1.9 3 2.1 7 1.8 2 1.1 2 1.6 3 3.9 1.5 3.6 .6 5 .3 5.5-.1 4-.6 4-1.8 8-2.7 7-4.4 7-4.5 5.5-4.8 4.4-5.5 4.1-5.5 3.3-4.5 1.9-6 1.7-7.5 1.3-6 .4-6.5-.2-7-.8-7.5-1.3-6.5-1.7-6.5-2.2-14-5.7-25-12.7-3.5-1.4-3-.8z"/><path fill="#11be00" d="M75.1 389.6l2.5 .4 3 1.3 12 7.7 5.5 2.6 3.5 .6 2-.4 2.5-1.3 1.5 .3 1.4 1.5 7 10 4.5 5 4.6 4.5 5.9 5 5.1 3.7 5 3.1 6 3 7.5 3.4 6 2.2 7 1.9 8 1.8 6 .8 3.5 0 1.4-.4 .3-.5-.7-1.5 .5-.4 2 .3 2.7 2.1 5.3 1 2.5 .8 2 1.1 2 1.6 1.7 2 1.6 2.5 1.1 3 .7 10-.1 4-.6 4-1.8 8-2.7 7-4.1 6.5-4.8 5.9-4.5 4.1-5.5 4.2-5.5 3.2-4.5 2-6 1.7-7.5 1.3-6 .4-6.5-.2-8-.9-6.5-1.2-6.5-1.7-6.5-2.2-14-5.8-25-12.7-3.5-1.3-3-.8z"/><path fill="#32c700" d="M75.1 390.8l2.5 .4 3 1.4 11.5 7.5 6 3.3 3.5 1.3 5 .6 2 .8 2.5 2.2 9.5 10.3 9 8 8.5 6 9.5 5.1 10.5 4.4 9.5 2.8 7.5 1.6 5.5 .9 4.5 .1 4.5-.5 6 .6 4 1.2 3.5 2.4 3.1 4.1 1.1 3 .7 10-.1 4-.6 4-1.8 7.5-2.6 7-4.3 7-4.5 5.5-4.5 4.2-6 4.5-5 2.9-4.5 2-6 1.7-7.5 1.3-6 .5-6.5-.3-8-.9-6.5-1.2-5.5-1.4-7.5-2.5-14.5-6-24.1-12.3-3.9-1.6-3-.7z"/><path fill="#53d100" d="M75.1 392.1l2.5 .5 2.7 1.2 12.3 8.3 6 3.5 11 4.3 3 2.4 11.2 10.5 7.8 6.4 7.5 5 8.5 4.3 11 4.5 9.5 2.7 8 1.7 5 .7 4 .1 6.5-.4 4 .3 4 1.2 3.5 2.3 3 4 1 2.7 .6 9-.1 4.5-.4 3.5-1.6 7.5-2.5 7-4 6.8-4.5 5.8-4.5 4.3-5.5 4.2-5 3.2-4.5 2.1-6 1.9-7 1.4-6 .5-7-.1-8-.9-6.5-1.1-6.5-1.6-7-2.3-15-6.2-24-12.3-4-1.6-3-.7z"/><path fill="#74db00" d="M75.1 393.8l2.5 .4 2.3 1.1 17.7 11.8 13.5 6.8 3.9 2.9 11.6 9.8 6 4.6 7 4.4 8 3.9 10.5 4.2 10 2.8 7 1.4 6 .8 4.5 .1 7-.4 3 .2 4 1.1 3.5 2.4 2.9 3.7 .9 2.5 .6 10-.1 4-.6 4-1.8 7.5-2.2 6-3.8 6.5-4.7 6-4.2 4-5.8 4.5-5.2 3.2-4.5 2.1-6.5 1.9-7.5 1.4-6 .4-6.5-.3-8-.9-6.5-1.2-5.5-1.4-7-2.3-14-5.8-25-12.7-4-1.6-3-.8z"/><path fill="#95e300" d="M75.1 396.1l2.5 .5 3 1.6 17.5 11.9 16.5 9.6 19 13.8 6 3.5 6.5 3.1 11.5 4.5 11 2.8 12.5 2 4 .1 7.5-.6 3 .2 4 1 3 1.9 3 3.6 1.1 2.7 .6 8-.4 7.5-1.6 8-2.6 7.5-3.4 6-4.5 6-4.2 4.2-5.5 4.4-5 3.3-5.5 2.6-6 1.8-7 1.4-6.5 .5-6-.2-8-.8-7.5-1.4-5.5-1.4-7-2.3-14-5.8-25-12.7-3.5-1.5-3.5-.9z"/><path fill="#b5ec00" d="M75.1 401.3l3.5 .8 4.5 2.2 21.5 14 23.5 14.7 7.5 4.4 7 3.2 14 4.9 10 2.4 9 1.6 6 .7 3.5-.1 7.5-.7 3 .2 4 1 3 1.8 2.9 3.4 1 2.5 .5 7-.2 7.5-1.6 8.5-2.3 7-3.2 6-4.1 5.7-4 4.3-5.5 4.6-5 3.4-5.5 2.8-5.5 1.9-7 1.5-7 .7-6-.1-7.5-.7-7.5-1.2-6.5-1.6-6.5-2.2-14.9-6.1-25.1-12.8-3.5-1.4-3.5-.9z"/><path fill="#d6f400" d="M75.1 406.7l4.5 .8 4.5 2.1 38.7 24.2 10.8 6 6.9 3 15.1 4.2 10.5 2.1 16 1.8 10.5-.9 2.5 0 4 .8 3 1.6 2.8 2.9 1.4 3 .5 6.5-.1 7.5-1.5 8-2 6.5-2.3 5-3.9 6-3.9 4.6-4.5 4.2-6.5 4.7-5.5 3.1-5.5 2-7 1.6-7 .9-6 0-7.5-.7-7.5-1.1-6.5-1.5-6.5-2.1-8-3-7.5-3.3-25-12.8-4.5-1.8-3-.7z"/><path fill="#f7fd00" d="M75.1 409.5l3.5 .6 4.5 1.9 38.2 23.8 11.8 6.4 6.5 2.8 12.8 3.3 10.7 1.9 19 1.6 10-1.2 3 0 4 .7 3 1.4 2.5 2.6 1 1.5 .5 1.5 .5 6.5-.2 7.5-1.2 7-1.9 6.5-2.2 5-3.7 6-3.8 4.7-4.5 4.3-5.5 4.2-6 3.6-5.5 2.2-7 1.7-7 1-6.5 .1-8-.7-7.5-1.1-6.5-1.5-6.2-2-7.9-3-7.9-3.4-25-12.8-4-1.7-3.5-.9z"/><path fill="#fff300" d="M75.1 411.8l3.5 .7 4 1.8 38 23.5 12 6.5 7 2.9 14 3.3 10 1.6 10 .6 8 .1 13-1.6 4.5 .5 3 1.4 2.5 2.6 1.3 2.6 .4 6.5-.1 7.5-1.3 7-1.9 6.5-1.9 4.5-3.4 5.5-3.6 4.7-4.8 4.8-5.7 4.4-6 3.6-5.5 2.2-7 1.8-7 .9-6.5 .2-7-.6-8.5-1.3-6.5-1.5-7-2.3-8-3.1-7.5-3.3-25-12.8-4-1.6-3-.7z"/><path fill="#ffe200" d="M75.1 414.2l3 .6 3.5 1.5 38 23.3 12.5 6.6 7.5 3 14.5 3.3 10 1.3 10 .4 6.5-.2 4-.5 7-1.4 3-.3 4.5 .4 3 1.3 2.5 2.5 1.1 2.3 .4 6.5-.2 7.5-1.2 7-1.6 5.5-2.3 5.5-2.7 4.5-4 5.3-4.1 4.2-6.4 5-6 3.7-5.5 2.2-6 1.6-7 1-6.5 .3-7.5-.6-8-1.1-6.5-1.5-7-2.2-9-3.4-6.7-3-25.8-13.2-4-1.5-3-.8z"/><path fill="#ffd100" d="M75.1 417.3l3 .5 4.5 2.2 28 17 11.5 6.5 10.5 5.2 7 2.5 15 3.3 10 1 9.5 .2 5.5-.3 4.5-.7 7.5-1.8 3-.4 4.5 .2 3 1.1 2 1.9 1.4 2.6 .4 6.5-.2 7.5-1.1 6-1.5 5.5-1.9 5-2.1 3.9-3.9 5.6-4.6 5.1-5.5 4.5-6.9 4.4-5.6 2.4-6.5 1.8-7 1-6.5 .3-7.5-.6-9-1.3-6.5-1.6-6-1.9-8-3.1-7.5-3.3-26-13.2-3.5-1.5-3.5-.9z"/><path fill="#ffc100" d="M75.1 421.8l4 .8 4.5 1.9 23.7 13.8 15.8 8.4 10 4.5 7.5 2.4 15.5 3 10.5 .7 8.5-.1 5-.5 4-.8 7.1-2.1 3.4-.6 4.5 0 2.5 .7 2 1.6 1.7 2.8 .3 5.5 0 6-.6 5-1.4 6.5-1.4 4.5-2 4.5-3.8 6-4.3 5.2-5.4 4.8-6.6 4.6-6 2.9-6 1.9-7.5 1.4-7 .4-7.5-.5-8.6-1.2-6.4-1.4-6.7-2.1-8-3-8-3.5-25.8-13.2-4-1.7-3.5-1z"/><path fill="#ffb000" d="M75.1 425.6l4 .6 4.5 1.9 20.8 11.7 17.8 9 11.4 4.8 8 2.4 16 2.7 5 .3 13.5-.3 4.5-.6 4-1 6.5-2.3 3.5-.7 4.5-.4 2.5 .6 2 1.6 1.5 2.4 .3 5.5-.3 9-1.5 7.5-1.6 5-1.9 4.5-4 6.4-4.3 5.1-5.2 4.7-6.5 4.5-5.5 2.8-6.3 2-7.7 1.4-7 .4-7.5-.4-8.5-1.2-6.5-1.5-7.1-2.2-7.9-3-7.9-3.5-25.6-13.2-4-1.7-3.5-.9z"/><path fill="#ff9f00" d="M75.1 428.2l3.5 .5 4 1.6 20.6 11.5 18.2 9 12.2 5 8 2.3 9.5 1.7 7.5 .9 5.5 .2 13.5-.7 4-.7 9.8-3.7 3.2-.8 4.5-.8 2.5 .5 2 1.6 1.2 2 .3 10.5-.3 4-1.2 6.3-1.5 5.2-1.8 4.5-4.3 7-4.4 5.3-5.3 4.7-6.5 4.5-5.2 2.6-6.5 2.1-7.5 1.4-7 .4-7.5-.5-7.5-1-6.5-1.4-8-2.5-8-3.1-7.5-3.3-26-13.4-3.5-1.5-4-1.2z"/><path fill="#ff8f00" d="M75.1 430.4l3 .5 4 1.6 20.5 11.4 18.5 9.1 12.5 5 9 2.4 10.5 1.7 6 .7 6 0 9.5-.5 4.5-.6 3.9-.9 8.6-3.8 6.5-2 2-.3 1.5 .4 1.5 1 1.5 2.2 .2 10.5-.2 3.5-1.2 6.5-1.3 4.5-2 5.1-3.1 5.4-3.4 4.6-4 4.2-4.5 3.7-4.5 3.1-5 2.7-4.5 1.7-6.5 1.6-6.5 .8-5.5 .2-6.5-.5-7.5-1.1-7-1.5-6.5-2-14.5-5.9-27.5-14.2-4.5-1.9-3.5-1.1z"/><path fill="#fe7d00" d="M75.1 432.9l3 .5 3.4 1.4 20.1 11.2 18.5 9 14 5.6 9.5 2.3 11.5 1.8 4.5 .4 6.5 0 9.5-.8 4.5-.8 4.1-1.2 7.4-3.9 7-2.8 1.5-.3 1.5 .2 2 1.6 .8 1.7 .1 10-.3 4-1.2 6-2.8 8.5-2.3 4.5-3.8 5.4-3 3.4-4 3.7-4.7 3.5-5 3-4.6 2-5.2 1.5-6 1.1-6 .5-5.5-.1-8.5-1-6-1-5.7-1.5-7.4-2.5-7.9-3.2-10.1-4.8-20.9-11.2-4.5-2-4-1.3z"/><path fill="#fa6900" d="M75.1 436.5l2.5 .4 3.3 1.4 19.2 10.7 20 9.7 14 5.3 5.5 1.5 6 1.1 10.5 1.4 5.5 .5 7.5-.3 6-.8 3.5-.8 3.5-1.2 5.5-2.6 4.5-3 6.8-3.5 1.7-.4 1 .1 1.5 1 1 1.8 .1 9-.3 4.5-.8 4.5-2.4 8.5-1.8 4-3.1 5-2.7 3.5-4 4.2-4 3.3-5 3.5-4.8 2.5-4.2 1.6-5.5 1.3-5.5 .9-5.5 .3-5.5-.2-7.3-.9-7.2-1.4-6-1.6-7-2.5-12.4-5.5-26.1-14.1-8-3.4z"/><path fill="#f55400" d="M203.8 458.8l-.1 12.5-1.2 6.5-1.4 5-1.5 4.1-3.5 6.2-5.5 6.8-3.5 3.2-3.5 2.7-7.5 4.5-3.6 1.5-4.9 1.4-8.5 1.4-7.5 0-11.4-1.3-10.6-2.6-11.5-4.4-12-6-12-7-5-3.5-2.6-2.5 .1-1 1.1-1 .1-.5 .5-.5 .8-1.5 1 .1 1-1.7 1 .1 1-1.3 .5 .3 1-.9 .5 .3 1-.7 .5 .2 .5-.5 1 .2 .5-.6 .5 .3 .5-.4 1 .2 .5-.3 .5 .2 2.5-.1 5 .9 13 3.1 13.5 1.6 8.5 0 6-.5 2.5 .2 6-1 4.5-1.9 5-3.1 4.5-2.1 2.5-1.7 3-1.4 3.1-2 8.9-7 7-4.4 2.7-2.1 1.3-.3 1 .2 1.2 1.1z"/><path fill="#f04000" d="M203.1 458.3l.3 5.5-.3 8.5-1.8 8.5-2.7 7.2-3.6 5.8-4.1 5-4.9 4.5-6.4 4.4-5 2.6-6.3 2-7.2 1.2-7.5 .3-9.5-1-9-2-8-3-2.5-1.4-1.1-1.1 .5-1 1.2-.5 .4-1 .5 0 1-.8 .5 .2 .2-.4 2.8-1.3 .5 .2 .5-.5 .5 .1 .5-.5 .5 .1 .5-.4 .5 .1 1.5-.6 3.5-.5 3-.8 10-1.7 5.5-1.7 7-3 4.5-3.2 7.6-6.3 8.9-9.5 5.2-6.5 5.3-4 4-4 1.5-.6z"/><path fill="#ec2b00" d="M202.6 458.8l.2 7-.2 6.5-1.9 8.5-1.4 4-1.8 4-2.9 4.6-3.5 4.3-4 3.8-4.4 3.3-4.6 2.8-5 2.2-5 1.4-5 .7-5.5 .1-3-.4-.5-.5-.5 .2-.3-1 .3-1.6 .5 0 1-2.3 .5-.1 .5-.8 .5 0 1.5-1.4 .5 0 1-1.2 1.5-.6 1-1 .5-.1 3.5-2.4 5-4.3 4.5-4.7 4.4-4 8.2-10.5 4.7-7.5 4.5-4 2.6-3 1.6-2.5 .5 0z"/><path fill="#e71700" d="M201.1 465.3l.5 .5 .3 5-1.3 7.5-2.7 8-2.8 5-4 5-5.5 5-6.5 3.9-3 1.1-2 .1-.5-.6 .5-.5-.3-.5 0-1 2.4-4.5 2.9-4.7 4.4-5.3 4.1-6.8 3.6-4.7 4.3-8 3.5-3 .1-.5z"/><path fill="#e10904" d="M198.1 478.5l.3 .3-.3 .5 .2 .5-.7 3-2 5-2.5 3-1 .7-.9-.2 .3-.5-.1-2 .7-3 5.5-7.3z"/></g></g>
<g clip-path="url(#wv)"><g filter="url(#sm)"><rect x="353" y="318" width="135" height="259" fill="#4a46c0"/><path fill="#4946c4" d="M356 321.3l128.5 0 0 253-128.5 0z"/><path fill="#4846c8" d="M356 321.3l128.5 0 0 253-128.5 0z"/><path fill="#4846cd" d="M356 321.3l128.5 0 0 253-128.5 0z"/><path fill="#4746d1" d="M356 321.3l128.5 0 0 253-128.5 0z"/><path fill="#4646d5" d="M356 321.3l128.5 0 0 253-128.5 0z"/><path fill="#4545d9" d="M356 321.3l128.5 0 0 253-128.5 0z"/><path fill="#4242de" d="M356 321.3l128.5 0 0 253-128.5 0z"/><path fill="#4040e2" d="M356 321.3l128.5 0 0 253-128.5 0z"/><path fill="#3d3de7" d="M356 321.3l128.5 0 0 253-128.5 0z"/><path fill="#3b3beb" d="M356 321.3l128.5 0 0 253-128.5 0z"/><path fill="#3939ef" d="M356 321.3l128.5 0 0 253-128.5 0z"/><path fill="#3636f4" d="M356 321.3l128.5 0 0 253-128.5 0z"/><path fill="#3434f8" d="M356 321.3l128.5 0 0 253-128.5 0z"/><path fill="#3131fd" d="M356 321.3l128.5 0 0 253-128.5 0z"/><path fill="#2d38ff" d="M356 321.3l128.5 0 0 253-128.5 0zM417.5 502.9l-.1 1.4 1.1 1.6 3.5 3.2 3 2.2 2.5 1.2 2 .4 1.5-.2 .9-.9 .7-2.5 .3-4.5-.4-1.5-1.4-1.5-2.1-.7-3-.1-5.8 .8-1.8 .5z"/><path fill="#2849ff" d="M356 321.3l128.5 0 0 253-128.5 0zM379.2 442.3l.8 .7 1 .3 7.5 .6 2.2-.6 .7-1.5-.2-1-1.2-1-2-.5-3 0-3 .5-1.2 .5-1.2 1zM410.9 499.8l-.2 1 .3 1 2.7 3.5 5.2 5 5.1 3.8 3.5 1.8 3 .8 3-.1 1-.4 .9-.9 .5-2 .6-10-1-2.4-2-1.8-3-1.2-4-.2-12.6 1.1-1.9 .4z"/><path fill="#2259ff" d="M356 321.3l128.5 0 0 253-128.5 0zM376 443.3l1.5 .9 3.5 .7 5 .5 4 0 1-.2 1.5-.9 .5-1 .2-1.5-.6-2-1.6-1.4-2.5-.4-4 0-2 .3-2.5 1.1-2.5 1.9zM407.9 498.3l-.1 1 .6 1.5 3.6 4.6 6 5.9 5.9 4.5 4.1 2 4 .8 3.5-.4 1-.4 1.1-1 .5-1.5-.2-5.5 .7-5 0-2-1.1-2.5-2.7-2.5-3.3-1.4-4-.4-17 1.3-2 .5z"/><path fill="#1c69ff" d="M356 321.3l128.5 0 0 253-128.5 0zM374.4 443.8l.6 1 5.5 1 5 .5 5 0 2-.5 1.2-1 .6-1.5 0-2.5-.8-2-2-1.4-3-.4-4.5 .2-2.5 .6-2.5 1.4-3.5 3zM406 497.3l-.2 1 .6 1.5 5.1 6.4 6.5 6.4 6 4.5 4 1.9 4.5 .9 2.5-.1 2-.4 1.3-.6 1-1 .6-2-.5-6 .8-5 .1-2-.5-1.5-.9-1.5-1.4-1.6-2-1.5-3.5-1.5-4.5-.4-19 1.4-1.5 .4z"/><path fill="#177aff" d="M356 321.3l128.5 0 0 253-128.5 0zM395.5 440.8l-.9-2.5-2.1-1.6-3.5-.6-5 .3-3 1-3 1.9-3.3 3-1.9 2.5 .7 .6 8.8 1.4 6.7 .3 3-.2 1.6-.6 1.4-1.5 .5-1.5zM404.9 496.3l-.4 1.5 .5 1.5 4.5 5.7 7.5 7.7 6.5 5.1 4.1 2 2.9 .8 3 .4 2.5-.2 2.4-.5 1.6-.8 1.1-1.2 .5-2-.8-4.5-.1-2 1.2-5.5-.1-2-.6-1.5-1.5-2-3.7-3.1-3.5-1.5-4.5-.4-11.5 1.1-9 .4-1.5 .3zM441 359.7l-.1 1.6 .5 1.5 13.5 15.5 2.1 1.1 .5-.1 .5 .5 1.5-.6 .4-.9-.4-.5 .2-.5-.6-2.5-.6-.9-13-14.8-2.5-.9z"/><path fill="#128cff" d="M356 321.3l128.5 0 0 253-128.5 0zM396.9 439.8l-1.4-2.5-2.5-1.5-4-.5-5 .5-2.9 1-2.6 1.6-7.4 6.9 .4 .5 11.5 1.7 6.5 .3 3.5-.4 2.2-1.1 1.2-1.5 .7-3zM403.9 495.8l-.5 1.5 .7 2 5.4 6.5 7.8 8 3.6 3 3.1 2.2 2.5 1.2 3 1 5 .7 2.5-.2 2.5-.5 1.8-.9 1.5-1.5 .5-1 .1-1.5-1.1-4-.2-2 .3-2 1.2-4-.2-2-1-2-1.6-2-2.1-2-2.2-1.6-3.6-1.4-4.4-.3-12 1.1-10 .5-1.5 .3zM440.5 355.9l-1.4 1.9-.1 2.5 1 3.5 1.5 2 12.1 13.5 6.9 4.8 1.5 .4 1-.4 .4-.8-.4-.5 .5-.5-.6-2.5-1.4-4-1.6-3-13.1-15-1.3-1-4-1.4zM469.5 505.8l-.3 1 .3 .5-.3 .5 .4 3 1.3 1.5 .1 .5 1 0 .4-1.5-.2-.5 .4-.5-.5-1.5-1.6-2.5z"/><path fill="#0da1ff" d="M356 321.3l128.5 0 0 253-128.5 0zM369.3 445.8l1.7 .6 5 .5 6 1 8 .4 3-.2 2.5-.7 4-2.8 1.5-.6 2 .2 15 3.9 1-.2 .5-.4 .4-1.7-.5-2-1.2-1.5-2.6-1.5-4.9-2-5-1.5-6.2-.3-5.5-2-4-.5-5 .4-4 1.5-3.5 2.4-4.5 4.2-3.4 2.3zM403.1 495.3l-.4 2 .7 2 6.1 7.2 8 8.2 3.7 3.1 3.3 2.2 2.5 1.2 3.5 1.1 3 .5 3 0 3-.5 2-.7 2-1.3 1.3-1.5 .7-2 .1-1.5-1.4-3.5-.2-1.5 .5-2 1-2 0-2.5-1.2-3-1.9-2.5-2.6-2.5-2.8-2-3.5-1.3-4.5-.4-12.5 1.4-10.5 .4-1.6 .4zM439 353.8l-1.1 2-.4 3 .8 4.5 .6 1.5 1.5 2 6.6 7.5 5.8 6 11.2 8.9 1.5 .3 1-.6-.1-1.1 .3-.5-.3-.5 .3-.5-1.2-4.5-2.9-7.5-1.6-2.5-13.5-15.4-5.5-3-1-.1zM463 493.3l-1.3 1 0 1.5 1.3 2.5 3.4 9 1.3 4.5 2.6 5.5 1 3.5 .5 .5 0 .5 .7 .3 .6-.3 0-.5 .4-.5 .9-4 .2-5.5-.6-3-2.2-5-2.8-4.5-4.5-5z"/><path fill="#09b6ff" d="M356 321.3l128.5 0 0 253-128.5 0zM368 445.8l.2 .5 1.6 .5 5.7 .4 10 1.5 6.5 .1 6-.8 2 .1 13.5 3.4 8 3 1-.1 .8-.6 .7-2.5 0-3.5-.5-3.5-.9-2.5-1.2-1.5-2.4-1.6-5.5-2.4-5-1.8-3.5-.7-7.5 .2-7.5-.4-3.5 .4-2.5 .6-4.5 2.2-7 6.2-4 2.2zM402.5 494.8l-.5 2 1 2.8 10.5 12 4.5 4.3 4 3.2 3.5 2.1 4 1.6 3.5 .7 4 .2 3.5-.5 3-1.2 2.2-1.7 1.5-2 2.3-3.5 2.3-5 0-1-.4-.5 0-.5-.7-1-1.7-1-2.5-4.5-2.5-3-5-4.4-4-2-2.5-.5-2.5-.1-13.5 1.6-10.5 .4-2.3 .5zM438.5 352.1l-1.4 2.2-.6 2.5 0 2.5 .7 4.5 .5 1.5 1.3 2 4.2 5 4.7 5 7.8 6.5 9.9 9.5 1.4 .6 1.5-.5 .9-1.1 .2-1-1.1-6-2.5-7-3.5-7-14-15.9-3.5-2.3-3-1.5-2-.3zM462 491.6l-2 1.4-.9 2.3 1.5 7 .9 2 3.2 4.5 3.3 7 1.5 5.5 .5 3.5 1.5 1.3 1.5 .1 1-.5 .7-.9 1-5 .4-7.5-.2-2.5-.5-2-3.2-7-3.9-5.5-3.3-3.4-1.5-.5z"/><path fill="#05caff" d="M356 321.3l128.5 0 0 253-128.5 0zM367.3 445.8l.2 .8 1 .4 7 .6 7.5 1.3 6.5 .4 7 0 2.5 .3 14.5 4 9 3.8 1.5 0 .9-.6 .9-2.5 .1-4.5-.4-5.5-.9-3-1.3-2-1.8-1.5-3.5-1.7-7.5-3-4.5-1.1-3.5-.2-11.5 .7-6 1.1-3 1.3-2.5 1.5-7 6.3-4.2 2.1zM438.5 350l-1 1-1.2 2.3-.6 3-.1 2.5 .7 6 .5 1.5 1.2 2.1 2.7 3.4 4.1 4.5 10.2 8.2 9.5 10.1 2 .9 1.5-.1 1-.5 1.5-1.6 .6-1.5-.4-5-2.6-7.5-3.7-8-5.3-6.5-9.6-10.7-3.5-2.3-3.5-1.9-2-.4zM476.1 525.3l.8-4 .5-4.5 0-6-.6-3-2.2-5.5-2.3-4-5.3-6.5-2-1.4-1.5-.3-1.5 0-1.8 .7-1.3 1-1 1.5-.6 1.5-.9 5.5-.9 1.2-2 .8-2.5-.1-1.5-.7-9.5-8.4-3-1.7-3-.8-4.5 0-13.5 1.9-11 .3-2 .6-1.2 1.4-.3 2.5 1 2.3 9.5 11 4.5 4.5 4 3.5 3.5 2.4 3.5 1.7 4 1.3 4 .6 4.5-.2 3.5-.9 2.1-1.2 1.9-1.6 2.9-3.4 2.6-3.7 4-3.9 2-1 1.5 0 2.5 1.7 2.9 4.4 1.7 5 .8 5 1.1 1.8 1.5 1 2 .1 2-.9z"/><path fill="#00dfff" d="M356 321.3l128.5 0 0 253-128.5 0zM366.6 446.3l.4 .6 2 .6 6.5 .5 7.5 1.3 12 .8 2.5 .4 16 4.5 8 3.6 2 .6 1.5 0 1-.6 .8-1.3 .4-1.5 .3-6-.3-5.5-.8-3.5-1.4-2.4-2-1.8-3-1.6-8.5-3.4-5-1.4-4.5-.2-9 .9-4 .7-3.5 1.1-3.5 1.7-2.5 1.7-7 6.3-4.8 2.4zM439 347.9l-1.5 1.3-1.1 1.6-1 3-.5 3-.1 4 .3 4 .6 2.5 1.3 2.6 2.9 3.9 2.8 3 2.4 2 6.9 4.4 2 1.7 5 5.1 5 5.8 2.5 1.1 2.5-.6 2-1.8 1.2-2.2 .4-2 0-3-1.8-6.5-4.4-10-5.2-6.5-10.7-11.8-3.5-2.3-4.5-2.4-1.5-.2zM477.6 525.8l.9-4.5 .5-5.5-.1-6-.5-2.5-1.7-4.5-2.6-4.5-6.1-7.1-2.5-1.8-1.5-.5-2-.1-2 .5-1.5 .8-2.1 2.2-2.8 5.5-2.1 1-2-.4-1.5-.8-8.5-6.5-2.5-1-2.5-.5-4 .1-13.5 2.2-12.5 .4-2 .7-1.1 1.3-.4 2.5 1 2.8 10 11.5 4.6 4.7 4.4 3.7 3.5 2.4 4 1.9 3.5 1.1 4.5 .7 4-.1 3.5-.7 2.2-1 2.3-1.6 7.5-7.9 2.5-1.6 1.5-.2 1.3 .3 1.7 1.3 1.6 2.2 1.2 3 1.4 6.5 .8 1.4 1 1 2.5 1 2.5-.1 2.2-1.3z"/><path fill="#00e2ef" d="M356 321.3l128.5 0 0 253-128.5 0zM366.1 446.3l.1 .5 .7 .5 2.1 .5 5.5 .4 8.5 1.5 10.5 .9 3 .5 17 5 8 3.7 2.5 .8 1.5 .1 1.5-.7 .9-1.2 .6-2 .7-9.5 0-4-.5-3-1.5-3-2.2-2.2-3.5-2-9-3.7-5-1.4-4.5-.3-6 .5-4.5 .9-4.5 1.6-4.5 2.4-3.5 2.2-7.7 7-4.8 2.3zM440 345l-2 1.7-2 3.1-1.1 3-.8 4.5-.1 3.5 .3 7 .9 3.5 1.3 3 2 2.8 2.6 2.2 7.9 3.3 4 2.5 4.6 4.7 4.9 6 1.5 1.4 2.5 1 2-.3 2.5-2 1.8-2.6 1.4-3 .7-3.5-.7-4.5-2-5.5-3-7-2.1-3-14.6-16.5-3.5-2.3-5-2.7-2.5-.5zM438 397.1l-1 .4-.9 1.8 .2 .5-.4 .5 0 1 .4 1.5 1.8 2 .2 .5 2 1 .1 .5 .6 0 .4-1 .6-.5-.2-.5 .3-.5-.3-3.5-1.3-2zM479.6 526.3l1.2-5.5 .6-6-.1-5.5-1.1-4-2-4.5-2-3-7.7-7.8-2.5-1.7-3.5-.8-2 .2-2 .5-3.3 2.1-3.2 3.7-1 .6-1 .2-2.5-.8-7-4.5-2.5-.9-2.5-.3-4 .4-8.5 1.9-5 .8-14 .4-2 .8-1.2 1.7-.3 2.5 1.1 3 10.4 11.9 4.5 4.5 4.8 4.1 3.7 2.5 4 1.9 4 1.3 4 .7 4.5 .2 3.5-.5 2.5-.8 2.5-1.5 5.7-5.3 1.8-1.2 2-.8 1 .1 1.5 .8 1.2 1.6 .9 2.5 .8 4 .9 2 1.3 1.5 1.9 1.3 3 .8 3-.5 2.7-1.6 1.2-1.5z"/><path fill="#00e3de" d="M419 321.3l4.3 0 1.7 .3 3 1 3 1.8 2.5 2.1 2.2 2.8 1.6 3 1.3 3.5 .3 2-.2 2.5-2.3 7-1.4 3-1.1 4.5-1.4 17-1.2 4.5-5.8 12-3.8 6.5-11.4 14-6.6 7.5-8.1 8-15.1 10.3-8.5 7.7-5.1 2.5-.9 1-.4 1 .5 .5 1.9 .6 7 .7 8 1.5 12 1.4 8.8 2.8 9.7 2.7 10 4.5 2 .4 2-.3 1.4-1.3 .6-1.5 1-6.8 1-3.8 1-2.1 1.5-1.8 1.8-1 10.2-3.5 1 0 .8 .5 2.6 .5 .2 .5 .9 .3 .6-.3 .4 1 1.4-.5-.2-.5 .5-.5 .6-5 0-5.5-.5-5.5-.9-5-1.9-7.5-2.8-8-2.6-6-3.6-6-.8-2-.4-3.5 .5-1.5 .7-.9 1.5-.9 2-.3 2 .4 3 1.2 1.5 1.1 4.3 4.4 5.8 7 1.9 1.6 2 .8 1.5 0 2-1.4 5.5-7.1 2.5-2 1.5-.2 2 .6 1.5 1.2 1.5 2.3 0 94.6-1.2 3.1-1.3 2-1.2 1-1.3 .5-3-.4-4-2.3-5.5-4.3-3-1-4-.3-8.5 1.1-7-1.9-2-.1-4.5 .9-13 3.7-4.5 .9-6 .6-11 .2-2 .9-1 1.4-.3 1.1 .1 3 1.7 3 3.4 3.5 8.1 9.5 4.1 4 3.9 3.2 4 2.6 6.5 2.9 6 1.6 10 1.6 2.5 .7 2 1.2 1.5 1.4 3.4 4.8 1.9 4.5 1 5.5-.1 5-1.4 5.5-2.5 5-2.8 3.6-4 3.6-5.6 3.8-40.1 0-1.7-2-2.4-4-9.1-19-15-33-5.9-14.5-7.3-19-5.9-23.5 .1-2.5 .8-3 0-3 .4-2.5-.3-.8-1.5-1.9 .2-11.3 3.1-13.5 7.8-26 10.1-26.5 1.9-3.5 13.5-21 5.9-6.1 5.4-6.4 6.6-6.3 4-2.5zM371 463.2l8 11.1 5.5 6.3 2 1.7 .1-.5-5.8-8.5-9.3-10.2zM458.6 448.8l.4 1.5 1.2 1.5 6.3 4.9 2 .6 1-.8 .9-3.2-.2-1.5-.7-1.2-1.5-.5-4.5-.5-4.5-1.3z"/><path fill="#00e4cc" d="M420.5 324.8l3 .2 2.5 .7 2.5 1.3 2 1.6 1.9 2.2 1.8 3 1.1 2.5 .9 3.5-.1 4.5-2.7 10-1.5 11.5-1 4.5-1.3 3.5-6.2 12-3.6 5.5-12.6 16-9.4 11-8.5 9-10.3 8.1-7 6.6-4.8 2.3-1.6 1.5-.6 1 .5 .6 2.5 .7 8 1 6 1.2 13 1.8 8 2.7 10 2.8 9.5 4.4 4 1.1 2.5-.4 1.4-1.4 1.7-7.5 .9-1.8 1-1.1 1.5-.7 1.5-.1 7 1.1 4 1.6 12.5 8.2 2 1.7 6.5 6.8 1.5 .6 .5-.1 1-1.1 .4-1.1 1.1-5 .8-10-.3-5.5-.5-1.2-1-.8-5.5 .5-3-.7-2.5-1.6-1.6-2.2-.8-2.5-.6-8-.7-5.5-2.3-9.7-4.1-11.8-2.3-5-4.5-8.5-.3-2.5 .7-1.6 1.5-1 2 0 2.5 .9 4 3.7 7.5 8.9 2.5 2.1 2 1 1 0 1-.6 5.5-7 2-1.7 1.5-.3 1 .2 1 .5 1.1 1.4 .6 1.5 2.8 14.3 0 62.8-1.4 6.9-1.4 2.5-2.5 2.5-2.7 3.6-1.5 .8-1.5-.1-1.5-.6-3.3-2.2-2.2-1-11-2.7-6.2-3.3-5.8-4.2-2-.9-1.5-.2-1 .5-.5 .8-1.4 5.5-.8 2-1.7 2-2.4 1.5-6.7 2.7-6 1.4-5.5 .5-11 .1-2 1-1.1 1.8-.2 3 .6 2 .8 1.5 4.3 4.5 6.6 7.8 5.5 5.6 5 4.1 5 3 4 1.9 9.5 3.6 5.5 2.9 2 1.6 1.9 2 2.8 4.5 1.4 4.5 .2 4.5-.6 4-1.9 4.5-2.4 3.5-3.4 3.5-5.5 4.3-5.7 3.7-25.2 0-3.4-3-2.5-3.5-26-53.5-13.4-31-3.6-11.5-3.5-12.5 0-2 1.2-3-.3-3.5 .8-3-2.7-3.5-.7-2.5 .2-2 5.5-19 8.5-24.5 7.5-18.5 4.5-10 13.6-21 7.6-8.5 2.6-3.3 7.5-7.7 3.5-1.8zM370.7 462.8l-.2 .5 8.5 11.7 7.9 9.3 .6 .2 .7-.2 .3-.5-.2-1-7.2-10-9.6-10.2z"/><path fill="#00e4c3" d="M420.5 326.5l2.5 .1 2.5 .7 2.5 1.4 1.8 1.6 2 2.5 1.3 2.5 2 6 0 4.5-2 7.5-2 12-2.5 7-6.6 12.5-3.2 5-12.7 16.5-11.7 14-6.9 7.5-9.5 8.2-6 5.8-5 2.5-2.5 2.5 .5 .7 2.5 .8 8.5 1.1 18.5 3.2 8.5 2.9 10 2.8 11.5 5.3 7 1.5 1.1 .7 .4 .8 1.4 6.2 .4 5.5-.6 3.5-.7 1.5-1.3 1.5-2 1.5-3 1.5-6.2 1.9-6 .8-10.5-.2-2.5 .4-1 .6-1 1.2-.5 1.3-.2 2 .6 3 1.2 2 3.9 4 7 8.3 5.5 5.6 4 3.4 3 2.1 5 2.8 8.5 4.3 7.5 4.8 3.3 3.2 2.3 4 1 4 .1 4-.8 4-2 4-2.9 3.7-4.5 4.1-6 4.5-4.7 2.7-17.5 0-2.3-1.3-2.5-2-3.3-4.2-26.1-53-13.9-31-3.9-11.5-3.6-12 .1-2 1.3-3-.4-3.5 1.1-3-.1-.5-2.6-2.5-.8-1.5-.2-1.5 .1-2 6-19 9-24.5 7.7-18 4.4-9.5 13.3-20.5 6.7-7.5 3.2-4.1 3.3-3.4 2.7-3.3 1.5-1.3 3-1.6zM370.5 462.6l-.1 1.2 7.6 10.5 8.5 10.3 1 .4 1-.3 .5-.9-.1-1-3.4-5-3.9-5-9.6-10.2-1-.3zM448 387.1l2 .2 3.2 2.5 4.3 4.4 4.5 5.6 5 5 1.5 1.1 .5 0 .5-.6 2.3-5.5 3.2-4.5 1.5-1 1-.1 1.3 .6 .9 1.5 4.8 22.2 0 46.4-4 13.9-.5 .8-1 .6-1.3 .1-1.4-.5-.8-.9-.3-1.1-.1-5 1.1-20-.1-6.5-.6-3.5-.5-1.1-1-.7-4.5 2.3-2 .4-1.5-.1-2.5-1.1-1.8-2.2-.6-2-1.1-11.5-1.7-8.5-2.4-8-2.4-6.5-6.5-14-.1-1.5zM434.5 456.2l1-.8 1-.1 6.5 1.8 7.5 3.3 7.9 4.4 3.1 3.3 4.5 6 2.7 4.7 .3 1-.2 1.5-1.8 .6-5-1.1-3.7-1.5-7.8-4.5-4-3.7-4.5-3.3-2.5-1.5-4.5-2-1-1-.5-2.5 .2-2.5z"/><path fill="#00e5b5" d="M420.5 326.5l2.5 .1 2.5 .7 2.5 1.4 1.8 1.6 2 2.5 1.3 2.5 2 6 0 4.5-2 7.5-2 12-2.5 7-6.6 12.5-3.2 5-12.7 16.5-11.7 14-6.9 7.5-9.5 8.2-6 5.8-5 2.5-2.5 2.5 .5 .7 2.5 .8 8.5 1.1 18.5 3.2 8.5 2.9 10 2.8 11.5 5.3 7 1.5 1.1 .7 .4 .8 1.4 6.2 .4 5.5-.6 3.5-.7 1.5-1.3 1.5-2 1.5-3 1.5-6.2 1.9-6 .8-10.5-.2-2.5 .4-1 .6-1 1.2-.5 1.3-.2 2 .6 3 1.2 2 3.9 4 7 8.3 5.5 5.6 4 3.4 3 2.1 5 2.8 8.5 4.3 7.5 4.8 3.3 3.2 2.3 4 1 4 .1 4-.8 4-2 4-2.9 3.7-4.5 4.1-6 4.5-4.7 2.7-17.5 0-2.3-1.3-2.5-2-3.3-4.2-26.1-53-13.9-31-3.9-11.5-3.6-12 .1-2 1.3-3-.4-3.5 1.1-3-.1-.5-2.6-2.5-.8-1.5-.2-1.5 .1-2 6-19 9-24.5 7.7-18 4.4-9.5 13.3-20.5 6.7-7.5 3.2-4.1 3.3-3.4 2.7-3.3 1.5-1.3 3-1.6zM370.5 462.6l-.1 1.2 7.6 10.5 8.5 10.3 1 .4 1-.3 .5-.9-.1-1-3.4-5-3.9-5-9.6-10.2-1-.3zM448 387.1l2 .2 3.2 2.5 4.3 4.4 4.5 5.6 5 5 1.5 1.1 .5 0 .5-.6 2.3-5.5 3.2-4.5 1.5-1 1-.1 1.3 .6 .9 1.5 4.8 22.2 0 46.4-4 13.9-.5 .8-1 .6-1.3 .1-1.4-.5-.8-.9-.3-1.1-.1-5 1.1-20-.1-6.5-.6-3.5-.5-1.1-1-.7-4.5 2.3-2 .4-1.5-.1-2.5-1.1-1.8-2.2-.6-2-1.1-11.5-1.7-8.5-2.4-8-2.4-6.5-6.5-14-.1-1.5zM434.5 456.2l1-.8 1-.1 6.5 1.8 7.5 3.3 7.9 4.4 3.1 3.3 4.5 6 2.7 4.7 .3 1-.2 1.5-1.8 .6-5-1.1-3.7-1.5-7.8-4.5-4-3.7-4.5-3.3-2.5-1.5-4.5-2-1-1-.5-2.5 .2-2.5z"/><path fill="#00e499" d="M421 328.3l2 .2 2 .6 2 1.1 1.8 1.6 1.5 2 1.4 2.5 1.7 4 .6 2.5-.1 4-1.4 5.5-2.1 11-1.2 3.5-1.7 4-6.9 13-4 6-11.7 15.5-12.6 15.5-6.6 7.5-13.7 13.2-1.5 .9-3.3 1.4-3.8 3-.1 .5 4.2 1.4 8.5 1.1 16.5 3.2 10 3.3 10 2.8 4.5 1.9 10.1 5.3 2.2 2 1.5 2.5 1.4 4.5 .1 4.5-1.2 3.5-2.3 2.5-4.3 2.3-5.5 1.4-5.5 .5-9-.4-2.5 .3-1.5 .7-1 1.2-.8 3 .3 3 1.5 3 4 4 6 7.4 4.5 4.8 7.5 6.6 12 7.9 10 7.3 2.7 3 1.7 3.5 .6 4-.4 4-1.6 4-2.4 3.5-5.6 5.5-5.5 4.3-4.5 2.4-5.1 1.3-5.4-.2-2.5-.7-2.5-1.1-4-3-1.7-2-1.5-2.5-25.9-51.5-14.2-30.5-4.5-12.5-3.5-11.5 .3-2 1.4-2.5-.6-2.5 .1-1.5 .6-1.3 1.4-1.7-2.4-1.4-1.2-1.1-1-2-.2-1.5 .2-1.5 6.5-19 9.3-24 12-26.5 13.7-21 5.9-6.5 3.8-4.9 7-7.7 2.5-1.3zM370.5 462.1l-.5 .7 0 1 8.5 11.8 7.5 9.3 1.5 .7 1.1-.3 .8-1 .1-1.5-4.5-6.7-3.1-3.8-9.7-10-.7-.4zM455.5 397.6l1 .1 1.3 1.1 5.2 5.9 2.5 4.6 1.6 5 2.5 11.5 1 11.5-.6 2.1-.9 .9-1.1 .5-1.5 0-1-.4-1-.9-.6-1.2-.6-8-1.2-8-1.9-7.5-4.6-15zM476 398.8l.5 .1 .8 .9 1.2 3.2 4.9 21.3 1.1 6.9 0 22.2-2.1 6.9-.8 2-1.1 1.3-1-.8 .2-.5-.4-.5-1.2-23-4.9-32.5 .1-3 .5-2 1.2-1.8z"/><path fill="#00dc7d" d="M425.5 330.9l2.5 2.1 2.1 3.3 2.5 5.5 .5 2 .1 2.5-4.4 18.5-3 6.5-6.5 12-4.3 6.5-15.3 20.5-11.4 14-4.9 5.5-11.9 11.8-4 1.8-4 2.8-1.5 .3-2-.8-1.2-.9-.9-1.5-.4-1.5 .2-2 6.9-19 10.1-25 11.7-25 13.6-20.7 13.8-15.8 1.4-2 2.3-1.7 2.5-.8 3 .1zM362 448.3l1.5-.3 4 1 8.5 1.3 15.5 3.3 11 3.6 9.5 2.6 4.5 1.9 7.5 4.1 2.7 2 1.9 2.5 1.7 4 .6 4.5-.8 3.5-.9 1.5-1.4 1.5-3.8 2.3-5.5 1.5-6 .3-9-.5-2.5 .4-1.4 1-.9 1.5-.5 2-.1 2 .6 3 1.2 2 4.5 4.5 5.2 6.5 5.4 5.9 6.5 6 10 7.4 11.5 9.2 1.9 2 1.5 2.5 .9 3 .1 3-.6 3-1.3 3-2.5 3.5-3.7 4-4.3 3.8-3.5 2.4-3 1.4-3.5 1-3.5 .2-3-.5-3-1-3-1.9-2.5-2.4-1.7-2.5-26.5-52-14.5-30.5-4.5-12-3.6-11 .1-2 1.8-3-.8-2.5 .1-1.5 .6-1.1zM370 462.1l-.4 1.2 .4 1 7.8 11 6.2 7.9 2.5 2.7 1.5 .2 1-.4 .9-1.4-.1-2-4.7-7-3-3.5-9.6-9.7-1.5-.5z"/><path fill="#00d461" d="M425 332l1.5 1.2 1.3 1.6 3.8 7 .8 3-.1 2.5-3.2 13-1.4 4.5-2.8 6-6 11-4.8 7.5-15.1 20.5-11.2 14-5.2 6-11.2 11.5-4.4 2.1-3 2.3-1.5 .4-2-.5-1.2-.8-1.1-1.5-.4-2 .3-1.5 7.1-19 10.2-24.5 12-25 13.5-20.5 8.1-9 1.4-2 3.3-3.5 2.3-3 1.9-1.5 2.1-.8 2.5 .1zM362 448.8l1.5-.4 12.5 2.4 16.5 3.9 8 2.8 11.5 3.1 5 2.2 6.1 3.5 2.9 2.4 1.8 2.6 1.5 4 .4 4-1.1 3.5-2 2.5-3.6 2.1-5 1.2-6 .3-9-.7-2.5 .3-1.2 .8-1 1.5-.6 2-.2 3 .7 3 1.1 2 5 5 5.6 7 4.5 5 6.1 5.9 21.5 18.1 1.5 1.7 1.1 1.8 .9 2.5 .1 3-.4 2.5-1.3 3-2.4 3.5-4.1 4.5-3.2 3-3.2 2.3-3 1.4-3 .8-3 .2-3-.4-3-1-2.5-1.5-2.5-2.3-1.8-2.5-26.5-51.5-14.8-30.5-5-13-3.5-10.5 .4-2 1.9-2.5-1-3 .3-1.5zM370 461.6l-.7 1.2 .4 1.5 7.8 11.1 7.5 9.7 1 1 1.5 .6 1-.1 1-.7 .9-1.6-.1-2-4.6-7-3.2-3.7-9.9-9.8-1.1-.5z"/><path fill="#00cd46" d="M424.1 332.8l2.4 2.1 2.2 4.4 1.8 2.5 .9 2.5 .1 3-3 12-1.5 5-2.9 6-6 11-4.4 7-15.3 21-16.8 21-10.5 11-4.1 1.9-2 1.6-1.5 .8-1.5 .2-1.5-.5-1.3-1-.9-1.5-.2-1.5 .3-1.5 7.1-18.5 10.7-25 11.9-24.5 13.4-20.1 13.7-15.4 1.8-2.4 1.5-1.1 2-.7 2 .1zM362.5 448.9l1.5-.1 12 2.5 16 4.1 9 3.1 11 2.8 5 2.2 5 3 2.8 2.3 2.2 3 1.4 3.5 .3 4-1 3.5-2.2 2.5-3.7 2-4.8 1-5.5 0-9-.8-2.5 .2-1 .6-1.1 1.5-.7 2-.3 3 .4 3 1.3 3 5.4 5.3 8.4 10.2 7.1 7.3 21.6 19.7 2.1 3 .7 2.5 .1 2.5-.6 2.5-1.2 2.5-2.4 3.5-3.9 4.5-2.9 2.7-3 2-2.5 1.2-3 .7-3 .2-3-.5-2.5-1-2.5-1.6-2-2-1.5-2.2-27.8-53.5-13.9-28.5-5-12.5-3.6-10.5 .4-2 2-2 0-1-.9-1.5-.2-1 .5-1.5zM369.6 461.3l-.6 1.4 .4 1.6 8 11.5 7.6 9.9 1 .9 1.5 .6 1-.1 1-.5 1.2-1.8 .1-2.5-4.4-7-3.5-4-10.4-9.9-1.5-.5z"/><path fill="#00c52a" d="M423.5 333.8l2 1.9 1.5 3.6 2.9 3.5 .8 2.5 0 2-2.7 11-2 6-8.6 16.5-4.3 7-15.1 21-17.4 22-9.6 10.3-4 1.8-3 2.3-2 .4-1.5-.5-1-.8-.9-1.5-.3-1.5 .3-1.5 7.4-18.5 10.9-25 11.9-24 13.4-20 9.7-11 5-5 1.6-2.1 2.5-.9zM362.5 449.3l1.5-.2 12 2.7 16 4.5 8 2.7 12 3.1 4.5 1.9 5 3 2.7 2.3 2.2 3 1.4 4 .1 3.5-1.1 3-2.3 2.5-3.5 1.8-4.5 .8-6-.2-9-1.1-2 .2-1.5 .9-.9 1.6-.6 2.5-.3 3 .8 4 1.8 3 4.9 4.5 6.3 8 5 5.6 25 24.5 1.7 2.4 .6 2 .1 2.5-.6 2.5-1.1 2.5-2.4 3.5-3.2 4-2.6 2.5-3 2.1-2.5 1.1-2.5 .6-3 .2-2.5-.4-2.5-1-2.5-1.5-2-2-1.4-2.1-27.4-52.5-14.5-29-5-12.5-3.8-10.5 .6-2.1 2.4-1.9-.2-1-1.1-1.5-.3-1 .2-1zM369.3 460.8l-.4 .5-.2 1 .4 2 8 11.5 7.9 10.4 1 .9 2 .7 1.5-.4 1.6-2.1 .3-2.5-.5-1.5-3.7-6-4.1-4.5-10.1-9.4-2-.8z"/><path fill="#00bd0e" d="M423 335.2l1.5 1.6 .4 2 1 1.5 2.7 2.5 .8 1.5 .5 3-2.9 11.5-1.9 5.5-8.9 17-3.7 6-14.9 21-11.4 15-6.5 8-8.7 9.5-4 1.9-3 2.3-2 .3-1.5-.5-1-.8-.7-1.2-.3-1.5 .4-1.5 7.5-18.5 10.9-24.5 12.1-24 13.6-20.2 9.7-10.8 4-4 1.4-1 .9-1.3 2-.8zM362.5 449.7l1.5-.3 12 3 23 7.2 13 3.2 4.5 2 4.5 2.7 2.7 2.3 2.1 3 1.3 3.5 .1 3.5-1.1 3-2.1 2.2-3.5 1.7-5 .8-6-.4-9-1.5-2 .2-1 .6-1.1 1.9-.7 3-.3 3.5 .8 4 1.8 3 5.2 4.5 10.3 12.7 25.6 26.8 1.3 2 .5 2-.1 2-.6 2.5-1.3 2.5-2.6 4-2.4 3-2.4 2.3-2.5 1.7-2.5 1.1-2.5 .5-2.5 .1-2.5-.4-2.5-1-2-1.3-1.6-1.5-1.4-2-27.4-52-14.9-29.5-5.6-13.5-3.4-9.5 0-1 .8-1.3 2.7-1.2 .2-.5-2.1-3-.1-1zM368.2 459.8l.2 3 .6 1.7 7.5 11 8 10.6 1.5 1.5 1.5 .8 1.5 .2 1-.6 1.7-2.7 .2-2.5-.7-2-3.1-5.5-4.8-5-10.3-9.3-2-.8z"/><path fill="#11be00" d="M421.5 337.2l.4 .6-.2 .5 .8 .2 .7 .8-.1 .5 1 .5 0 .5 1.5 1.5 1 .5 1.4 1.5 .6 1 .2 2-2.2 9.5-2.1 7-8.9 17-3.6 5.9-15.1 21.6-16.9 22-9.4 10.5-3.2 1.5-2.9 2.3-1 .4-1.5 .2-1.5-.6-1-.9-.6-1.4-.1-1.5 8-19.5 11.1-24.5 12.3-24 14.1-20.5 9.2-9.9 2.6-2.1 .2-.5 1.7-1.3 .8-.2 .2-.5 1.4 0 .3-.5zM362.9 449.8l1.1-.1 12 3.3 22.5 7.3 11 2.5 3 .9 4.5 2.1 3.5 2.1 2.8 2.4 1.8 2.5 1.3 3 .3 3.5-1 3-2.3 2.5-1.9 1.1-2 .7-4.5 .4-6.9-.7-8.6-2-2 .1-1.2 .9-1 2-.9 5-.2 3 .5 2.5 1.6 3 1.9 2 4.9 4 8.7 11 11.2 12 15 17.2 .8 1.3 .5 2 0 2-.8 2.5-1.2 2.5-4 6-2.3 2.3-2.5 1.7-2 .9-2.5 .6-2.5 0-2.5-.4-2-.8-2-1.3-1.6-1.5-1.4-2-15.4-29.5-11.6-21.5-13.9-27-5.3-12-5.4-14 .3-1.5 1.3-1.1 1.5-.2 1.5 .8 2.4 4 1.5 4 4.7 7 10.6 14.5 2.8 2.6 1.5 .9 1 .1 1.3-1.1 1.4-2.5 .5-1.5 .1-1.5-.5-2-2.7-5.5-2.1-2.5-14.2-12.5-4.3-2.2-6.5-6.2-.4-.6 0-1z"/><path fill="#32c700" d="M420.5 340.1l.5 .5 .8 .2-.1 .5 1.3 1-.1 .5 1.6 1 .1 .5 1.5 .5 .4 1 .6 .5 0 2.5-1.3 7.5-2.2 7.5-8.6 16.6-3.5 5.8-15 21.8-17.3 22.8-8.7 9.8-3.5 1.7-3 2.4-1.5 .3-1.5-.3-1-.7-.8-1.2-.3-1.5 .4-1.5 7.6-18 11.5-25 12.2-23.5 14.3-20.5 9.6-10 2.2-1.5 2.1-1 .2-.4zM362.5 450.8l.5-.6 1-.1 11.5 3.5 21 7.1 5 1.3 9 1.7 5.5 2.2 5.5 3.5 1.9 1.9 1.4 2 .9 2 .5 2.5-.2 2-.6 2-1.5 2-2.2 1.5-2.7 1-3 .3-3.5-.2-4-.6-5-1.3-5.5-2.1-3.5-.2-1.8-2.9-.9-3-1.2-1.5-17.1-14.4-4.2-2.6-6.8-6zM361.5 456.7l1.5-.4 1.5 .7 2.7 4.3 1.5 3.5 7.4 11 8.1 11 4.1 4.5 .8 1.5 .6 2 .2 3-.3 5 .5 1 .9 .6 1.5-.2 1-.9 .5-1.2 1-.5 1.5 .7 6 4.5 9 11.4 11.7 13.1 13.8 17.3 .7 1.7 .1 2-1.4 4.5-1.6 3-2 3-1.9 2-2 1.5-2.4 1.2-2 .5-2.5 .2-2-.2-2-.6-2-1.1-1.8-1.5-1.5-2-35-66-7.7-15.1-5.2-11.9-4.1-10.5 0-1.5z"/><path fill="#53d100" d="M420 342.9l.5 .6 .9 .3 0 1 1.1 .5-.1 .5 .6 .8 .7 .2 .2 1 .7 .5 0 .5 .5 .5 .2 3.5-.8 4.5-1.9 6.5-4.9 10-5.3 9.5-16.4 24.5-13.4 18-5.6 7-6.5 7.5-3.5 1.8-3 2.4-1.5 .3-1.5-.3-1-.8-.8-1.4-.1-1.5 8.2-19 11.4-24.5 12.6-24 13.2-19 2.3-2.5 7.8-7.5 2.9-1.7 1-.1 .5 .4zM363 450.8l1-.2 31.5 10.8 5 1.3 9.5 1.7 6.5 2.5 5 3.3 1.6 1.6 1.3 2 .9 2 .3 2-.1 2-.7 2-1.3 1.7-2 1.4-2.5 .9-2.5 .4-3.5-.2-3.8-.7-4.2-1.1-3.4-1.4-4.2-3-4.2-5-7.2-5-12-9.7-3.4-2.3-7.5-6zM361.9 456.8l1.1-.2 1.2 .7 2.5 4 1.7 3.5 5.3 8 13.6 18.5 1.5 4.5 .2 3-.2 4 .6 1.5 1.1 .8 1.5 .2 1.4-.5 2.1-1.3 1 0 3 1.6 2.5 1.8 8.6 10.9 11.9 14 8.5 11 3.8 5.5 1.1 2 .3 1.5-.1 2-.8 3-1.4 3-1.6 2.5-1.9 2-1.9 1.5-4 1.6-2.5 .2-2-.2-3.6-1.6-1.8-1.5-1.2-1.5-43.2-81.5-4.8-11-4.4-11-.1-1.5z"/><path fill="#74db00" d="M419.5 345.3l-.1 1 1.1 .4 .2 .6-.2 .5 1.1 .5 .3 1 .6 .5 0 .5 .6 1-.2 .5 .6 .5 0 3.5-.6 4-.9 3.2-2.2 4.8-8.8 16.5-15.7 23.5-13.5 18.5-6.4 8-5.3 6-3.1 1.6-3 2.4-1.5 .4-1.5-.4-1-.8-.6-1.2-.1-1.5 8.3-19 11.6-24.5 12.5-23.5 13.7-19.5 5.6-5.5 3-2.5 2-1.2 1.5-.3zM367.3 453.3l.2-.2 .5 .4 .5-.2 26.5 9.1 6 1.5 9 1.3 6.5 2.4 4.5 2.8 2.9 3.4 .9 2 .3 2-.1 2-.5 1.5-1.4 2-1.6 1.2-2 .8-2.5 .4-3 0-3-.6-7.5-2.4-2-1.1-1.5-1.3-4-5-1.5-1.4-8-5.1-16.5-13zM362 457l1-.1 1 .6 4.1 7.3 5.3 8 13 18 1.5 4.5 .4 3.5-.3 4 .8 2 1.2 .8 1.5 .3 1.5-.2 2.5-1 1.5-.1 2.5 1.1 2.5 1.8 8.3 10.8 11.5 14 6 8 4.7 7 2.2 4.5 .1 2-.3 2-1 3-1.4 2.5-2 2.5-2.1 1.6-2 1-2 .5-4-.1-3.5-1.6-2.7-2.9-7.8-15-18.4-34-3.5-7-5.7-10-7.8-15-5.6-12.5-4-10 .2-1z"/><path fill="#95e300" d="M417.5 347.4l1.8 1.4-.3 .5 1.1 1-.1 .5 .5 .3 .4 1.2 .5 .5-.2 .5 .4 .5-.1 1 .4 .5-.3 .5 .4 .5-.5 4.5-.5 2-2.5 5.5-8 15.5-15.4 23.5-13 18-6.3 8-5.8 6.8-3 1.6-3 2.5-1.5 .3-1.5-.4-.9-.8-.5-1 0-2 8.3-18.5 11.8-24.5 12.4-23 13.9-19.5 6.5-6 3-1.6 1-.2zM362 457.3l1-.1 .8 .6 4.1 7 3.5 5.5 14.4 20.5 1 2.5 .6 2.5 .2 4-.3 3.5 .7 1.8 1.5 1.1 1.5 .3 2-.1 3-.9 1.5 0 2 .8 2.1 1.5 18.9 24.2 9.5 13.7 3 5.6 .6 2 0 2-.8 3-1.2 2.5-1.9 2.5-2.2 1.7-3.5 1.3-2 .2-2-.3-2-.8-1.5-.9-2.3-2.7-9.2-17.5-16.6-30.5-3.1-7-5.3-8.5-9-17-9.3-21.5-.4-1.5zM378.6 459.3l1.4-.1 17 5.1 13.5 1.8 6.5 2.4 4 2.6 2.6 3.2 1.1 3.5-.2 2-.5 1.5-1.1 1.5-1.4 1.2-2 .9-2.5 .4-5.1-.5-7.2-2.5-1.8-1-1.8-1.5-5.1-6.4-10-6.7-6-5.2-1-1.2z"/><path fill="#b5ec00" d="M417 349.6l.7 .7-.2 .5 .5 .1 .7 .9-.3 .5 .7 .5-.1 1 .8 .5-.2 .5 .4 1-.2 .5 .5 .5-.3 5.5-4.5 10.1-6.2 11.9-15.2 23.5-12.9 18-6.2 8-5 6-3 1.6-3 2.6-1.5 .4-1.5-.5-1.3-1.6 .1-2 8.4-18.5 11.7-24 12.9-23.5 13.7-19 3.8-3.5 3.4-2 .3-.5 1 .2 1-.4zM362 457.6l1-.1 .5 .4 6 9.9 15.7 23 1.3 3.5 .5 3.5-.1 3-.9 3.7-.5 0-1-.8-2.5-3.1-4-6.8-6.4-12-5-11-4.6-10.9-.5-1.6zM389 464.9l2-.1 8 1.4 10 .6 4 .9 4 1.5 3.5 2.1 2.6 3 .7 1.5 .4 2-.5 3-.9 1.5-1.3 1.2-2 1-2 .4-2.5 0-2.5-.5-5.7-2.1-2.7-1.5-1.6-1.2-5-6.6-2-1.9-5.6-4.3-.8-1zM386.9 506.3l4.1 .9 6-1 2 .6 1.8 1 1.2 1.2 18 23.7 8.1 12.1 4.2 8 .2 3-.7 3-1.6 3-2.2 2.2-3.5 1.6-3.5 .2-3.5-1.3-2.3-2.2-26.2-48.5-2-5-.3-1.5z"/><path fill="#d6f400" d="M415.5 351.3l.5 1.1 .5 .1 .7 .8-.2 .5 .8 1-.2 .5 .5 .5-.1 1 .5 .5-.2 .5 .3 .5-.1 2 .3 1.5-4.5 11-5.8 11.4-14 22.1-13 18.5-6.1 8-5.9 7-3 1.8-2.5 2.3-1.5 .4-1.5-.5-1.1-1.5 0-2 8.6-18.5 11.8-24 11.4-20.5 5.3-8 10.2-13.5 2.3-2 3.6-2 .3-.5 1.1 .1 .5 .4zM362.4 457.8l.9 .5 6.4 10.5 15 22 1.2 3 .5 3.5-.2 3-.7 1.7-.5 .2-1-.3-2-2.3-3.5-5.8-5.4-10-4.6-9.5-6-14-.6-2zM398.2 469.8l.7-1 1.6-.4 7.5-.5 4.5 .6 4.5 1.4 3.5 2.1 2.3 2.8 1 3-.6 3-1 1.5-1.2 1-3 1.1-3.5 0-4-1.2-4.4-2.4-3-2.5-3.8-6zM388.5 508.1l8-1.1 2 .3 2 1.1 2.1 2.4 16.7 22.5 6.9 10.5 5.1 9.5 .3 3-.7 3-1.5 2.5-2.2 2-3.2 1.4-3 0-3-1-2.5-2.4-9.4-18-16-29-1.9-4.5-.1-1.5z"/><path fill="#f7fd00" d="M415 354l.8 .8-.2 .5 .8 1-.2 .5 .4 .5-.1 1 .5 .5-.1 2 .3 .5-3.5 10-5.7 12.1-13.8 22.4-17.3 24.5-7.2 9-3.2 2.1-2.5 2.3-1.5 .4-1.2-.3-1.3-1.5 .1-2 8.5-18 12.2-24.5 12.4-22 6.1-8.5 8.6-11 2.6-1.9 .8-.1 .2-.4 1.1-.1 .3-.5zM363 459.1l20.9 31.2 1.3 3 .5 2.5 0 3-.7 1.7-.5 .2-1-.4-2-2.4-7.7-13.6-6.9-14.5-3.6-9 .1-.5-.6-1zM402.9 471.8l1-1 1-.5 4.1-.9 4 .1 4 1 3 1.7 2.3 2.6 1 3-.3 2.5-1.5 2.1-2.6 1.4-3.4 .3-3.5-.9-4-2.4-3.2-3-1.1-1.5-.8-2-.2-1.5zM389.5 509.1l1.5-.6 5.5-.8 2 .4 2 1.1 18 24.6 6.5 10 5.5 10 .3 2.5-.5 2.5-1.3 2.5-2.1 2-2.9 1.3-3 .1-3-1.2-2-1.9-9.8-18.8-15.3-27.5-1.8-4.5 0-1z"/><path fill="#fff300" d="M413.5 355.7l.6 .6-.2 .5 1.1 1-.2 1 .5 .5-.2 .5 .5 .5-.7 3.5-1.9 6-2.6 6.5-2.5 5.5-14.4 24-15.5 22.5-8.5 10.8-3 2-2.5 2.5-1 .3-1.5-.2-1.3-1.4 0-2 8.7-18 11.8-23.5 9.9-17.5 5-8 11.9-15 1.4-1.5 .6 0 .5-.6 .6 .1 .3-.5 .6 .2 .7-.2 .3-.4zM366.5 466l12.7 17.8 3.9 6 1.3 3 .6 2.5 .1 2-.6 1.6-1 0-1.5-1.4-5.5-9.2-4.5-8.5-5.5-12.5zM406.6 473.3l1.9-1.8 2.5-.9 3-.1 3.5 .8 2.5 1.5 2.1 2.5 .8 2.5-.4 2.5-1.6 2-2.4 1.2-3 .1-2.9-.8-3.2-2-2.1-2.5-1-2.5-.1-1.5zM390.5 509.7l2-.8 3.5-.5 2.2 .4 1.8 1.1 2.8 3.4 15.2 21.4 7.1 11.1 4.6 8.5 .3 2.5-.4 2-1.4 2.5-1.7 1.6-2.5 1.1-3 .1-2.5-.9-2-1.9-10.2-19.5-15-27-1.3-3.5 .1-1z"/><path fill="#ffe200" d="M412.5 358.4l1 .9-.2 3.5-1.8 7-2.1 6-2.9 6.6-11.5 19.9-16.5 24.7-9 11.6-3 2.3-2.5 2.5-1 .4-1.5-.2-1.2-1.3-.1-1 .2-1 8.7-18 12.4-24 9.1-16 4.9-7.8 9-11.2 5-5.1 .5 0 .5-.5zM409.3 473.3l1.7-1.3 2.5-.7 3 .3 2.5 1.1 1.8 1.6 1.3 2 .3 2.5-.7 2-1.7 1.6-2.5 .8-3-.3-2.5-1.1-2.3-2-1.1-2-.2-2.5zM370 472.4l1.5 1.6 5 6.8 6.2 9.5 .9 2 .6 2.5-.2 2-.5 .4-1-.5-1.5-1.8-4.4-7.6-5.1-10-1.7-4.5zM392 509.9l2.5-.6 2.5 0 2 .9 1.2 1.1 8.4 11.5 10.9 16 6 9.6 3.5 6.4 .2 2.5-.5 2-1.2 1.9-1.5 1.3-2.5 1-2.5 0-2.5-1-1.6-1.7-10.2-19.5-14.7-26.4-1-3.1 .1-1z"/><path fill="#ffd100" d="M410.5 361.9l.4 .9-.4 .5 .5 .4-.2 .6 .2 .5-.7 3.5-1.4 5-2.4 6.5-5.2 10-8.5 15-14.7 22-8.7 11.5-3.4 2.8-2 2.2-1 .4-1.5-.3-1-1.1-.2-1 .3-1 8.8-18 12-23 8.1-14 6.6-10.5 5.8-7 4.3-4.5 2.6-2zM410.8 473.8l1.7-1.2 2-.5 2.5 .3 2 1 1.6 1.4 1.1 2 .2 2-.8 2-1.6 1.4-2.5 .6-2.5-.4-2.1-1.1-1.6-1.5-.9-2-.1-2zM374 479.2l3.5 4.3 4 6 1.3 3.3 .2 1-.5 .8-1.5-1.2-3-5-4.2-8.6zM392.6 510.8l1.9-.7 2 .1 1.6 .6 1.7 1.5 9.1 12.5 12.1 18 6.7 11 .6 1.5 .1 2-.5 2-.9 1.5-1.5 1.3-2 .8-2.5 0-2-.8-1.8-1.8-9.4-18.5-14.6-26-1.2-3 0-1z"/><path fill="#ffc100" d="M407.5 365.8l.9 1-.1 1.5-.3 .5 .2 .5-.3 2-2.8 9-5.1 10-7.7 14-14.3 22-9 12-3 2.6-2 2.2-1 .4-1.5-.2-1-1.5 .2-1.5 9.8-19.5 11.4-21.5 4.6-8 6.8-11 4.2-6 3.9-4.5 3.1-3 2-1.1zM411.9 474.3l1.4-1 1.7-.4 2 .2 2 .9 1.3 1.3 .9 1.5 .2 2-.6 1.5-1.3 1.3-2 .6-2-.1-2-.8-1.6-1.5-1-2 .1-2zM394 511.4l1.5-.3 2 .6 3 3.1 11.5 16.5 12.9 19.5 2.3 4 .5 2-.7 2.7-2 2.1-2 .7-2 0-2-1-1.3-1.5-9.6-19-14.3-25.5-.7-2.5 .3-1z"/><path fill="#ffb000" d="M404.5 369.9l1.2 1.4-.3 .5 .2 1.5-1.6 6.3-6 12.7-6.2 11.5-14.7 23-8.5 11.5-4.6 4.6-1 .5-1.5-.3-.9-1.3 .3-1.5 9.4-18.5 12.9-24 7.3-12 6.5-9.5 4.8-5 1.7-1.1zM413 474.7l1.5-.8 1.5-.2 1.5 .3 1.5 .8 1 1 .8 1.5 0 1.5-.6 1.5-1.3 1-1.9 .4-2-.4-1.5-.9-1.2-1.6-.4-1.5 .3-1.5zM395 513l1-.2 1.3 .5 2.7 2.9 19.2 27.6 7.1 11 .5 1.5-.1 2-.8 1.5-1.4 1.3-1.5 .5-2-.1-1.5-.7-1-1-9.6-19.5-13.5-24-.7-2z"/><path fill="#ff9f00" d="M403.1 375.3l-.3 2.5-.3 .5 .2 .5-.7 2-5.4 12-6.5 12.5-12.8 20.5-8.4 11.5-5 5.5-1.4 .5-1-.4-.7-1.1 .2-1.4 9.1-17.6 13.1-24 6.8-11 6-8.5 2.5-3 1.5-1.2 .8-.3 .2-.5 .5-.2zM413.5 475.8l1-.9 1-.3 1.5 0 1.5 .6 1 1 .6 1.1 .1 1.5-.5 1-1.2 1-1 .2-1.5-.1-1.4-.6-1-1-.5-1-.1-1.5zM402.5 524l3.5 4.1 6.5 9.2 5.1 6.5 7.9 11.5 .5 1.5-.2 1.5-.8 1.3-1 .8-1.5 .5-1.3-.1-1.2-.6-1-1.1-8.7-18.8-6.8-13-1.2-3z"/><path fill="#ff8f00" d="M400 379.2l-.5 3.6-3.3 8.5-5.7 11.9-5.1 8.6-9 14.5-8.3 11.5-4.4 5-1.2 .3-.9-.3-.7-1 .1-1 9.4-18 13.1-23.5 6.1-9.5 5.4-7.3 3-3.2 .5 0 .5-.6zM414.6 476.3l1.4-.8 2 .4 1.2 1.4 .2 1-.3 1-1.6 1-2.1-.5-1.1-1.5-.1-1zM415 544.7l1.5 .8 2 2.2 6 8.1 .3 2-.4 1-.9 .8-2 .3-1.6-1.1-4.2-10-.8-2.5z"/><path fill="#fe7d00" d="M396.1 385.3l-.6 .5 .5 .1 .1 .4-1 4-3.1 7.8-3.1 6.2-6.6 11.5-6.4 10.5-8.1 11.5-4.3 4.9-1.6 .1-.8-1 .1-1 9.8-18.4 12.6-22.1 3.9-6 4.9-6.5 2.1-2.1 1-.6zM416 477.4l.5-.4 1 .2 .5 .6 0 .6-.5 .5-1 0-.6-.6zM421 554.8l.2 .5 .8 .3 1.2 1.2-.1 1-.6 .6-.9-.1-.5-.5-.5-2.5z"/><path fill="#fa6900" d="M391.5 391.7l.9 .6-.4 2.2-1.7 4.8-3.1 6.5-5.9 10.5-5.7 9.5-8.1 11.8-3.7 4.7-.8 .5-1-.2-.7-.8 0-1 12.7-23 10.7-18 4.3-5.8z"/><path fill="#f55400" d="M388.5 398.2l0 .4-.5 .2 .5 .2-.5 2.5-1.7 3.8-4.7 9-6 10.5-8.3 12.5-3.8 5-.5 .3-1-.2-.5-.6 0-1 13.9-24.5 10.2-16 1.4-1.5 1-.7z"/><path fill="#f04000" d="M383.3 406.8l-.3 2.1-1.7 3.9-6.6 12.5-7.1 11-4.1 5.7-.5 .4-.8-.1-.5-.5 .1-1 10-17.5 8.7-13.5 2-2.4 .4-.1 .1-.5z"/><path fill="#ec2b00" d="M377 418l.2 .3-1.3 3-3.8 7-8.8 13.5-.8 .4-.5-.4 0-.9 6.6-11.1 5.9-9.5 2-2.5z"/><path fill="#e71700" d="M367.6 432.8l.4-.2 .2 .2-.2 .4zM367.5 433.3l.3 .5-.6 .5 0 .5-4.2 6.9-.5 .1-.3-.5 3.3-5.3 .7-.2-.3-.5z"/></g></g>
<circle cx="201.8" cy="184.0" r="72.0" fill="none" stroke="#000828" stroke-opacity=".6" stroke-width=".55"/><path d="M394.00 121.65A72.0 72.0 0 0 1 394.00 246.35" fill="none" stroke="#000828" stroke-opacity=".6" stroke-width=".55"/><circle cx="202.0" cy="184.0" r="6.8999999999999995" fill="#000"/><circle cx="202.0" cy="184.0" r="4.1" fill="#ffff00"/><circle cx="272.9" cy="183.8" r="4.0" fill="#000"/><circle cx="272.9" cy="183.8" r="2.8" fill="#90ee90"/><circle cx="246.0" cy="128.7" r="4.0" fill="#000"/><circle cx="246.0" cy="128.7" r="2.8" fill="#f08080"/><circle cx="358.0" cy="184.0" r="4.1" fill="#ffff00"/><circle cx="428.8" cy="190.2" r="4.0" fill="#000"/><circle cx="428.8" cy="190.2" r="2.8" fill="#90ee90"/><circle cx="201.8" cy="448.0" r="72.0" fill="none" stroke="#000828" stroke-opacity=".6" stroke-width=".55"/><path d="M394.00 385.65A72.0 72.0 0 0 1 394.00 510.35" fill="none" stroke="#000828" stroke-opacity=".6" stroke-width=".55"/><circle cx="202.0" cy="448.0" r="6.8999999999999995" fill="#000"/><circle cx="202.0" cy="448.0" r="4.1" fill="#ffff00"/><circle cx="272.9" cy="447.8" r="4.0" fill="#000"/><circle cx="272.9" cy="447.8" r="2.8" fill="#90ee90"/><circle cx="246.0" cy="392.7" r="4.0" fill="#000"/><circle cx="246.0" cy="392.7" r="2.8" fill="#f08080"/><circle cx="358.0" cy="448.0" r="4.1" fill="#ffff00"/><circle cx="428.8" cy="454.2" r="4.0" fill="#000"/><circle cx="428.8" cy="454.2" r="2.8" fill="#90ee90"/>
<g opacity="0.999"><text x="309.0" y="47" font-size="33" text-anchor="middle" fill="#fff23c" stroke="#fff23c" stroke-width="0.35">2</text><text x="330.3" y="47" font-size="33" text-anchor="middle" fill="#fff23c" stroke="#fff23c" stroke-width="0.35">0</text><text x="351.6" y="47" font-size="33" text-anchor="middle" fill="#fff23c" stroke="#fff23c" stroke-width="0.35">2</text><text x="372.9" y="47" font-size="33" text-anchor="middle" fill="#fff23c" stroke="#fff23c" stroke-width="0.35">6</text><text x="394.2" y="47" font-size="33" text-anchor="middle" fill="#fff23c" stroke="#fff23c" stroke-width="0.35">-</text><text x="415.5" y="47" font-size="33" text-anchor="middle" fill="#fff23c" stroke="#fff23c" stroke-width="0.35">0</text><text x="436.8" y="47" font-size="33" text-anchor="middle" fill="#fff23c" stroke="#fff23c" stroke-width="0.35">2</text><text x="458.1" y="47" font-size="33" text-anchor="middle" fill="#fff23c" stroke="#fff23c" stroke-width="0.35">-</text><text x="479.4" y="47" font-size="33" text-anchor="middle" fill="#fff23c" stroke="#fff23c" stroke-width="0.35">0</text><text x="500.7" y="47" font-size="33" text-anchor="middle" fill="#fff23c" stroke="#fff23c" stroke-width="0.35">8</text><text x="543.3" y="47" font-size="33" text-anchor="middle" fill="#fff23c" stroke="#fff23c" stroke-width="0.35">0</text><text x="564.6" y="47" font-size="33" text-anchor="middle" fill="#fff23c" stroke="#fff23c" stroke-width="0.35">5</text><text x="585.9" y="47" font-size="33" text-anchor="middle" fill="#fff23c" stroke="#fff23c" stroke-width="0.35">:</text><text x="607.2" y="47" font-size="33" text-anchor="middle" fill="#fff23c" stroke="#fff23c" stroke-width="0.35">0</text><text x="628.5" y="47" font-size="33" text-anchor="middle" fill="#fff23c" stroke="#fff23c" stroke-width="0.35">0</text><text x="649.8" y="47" font-size="33" text-anchor="middle" fill="#fff23c" stroke="#fff23c" stroke-width="0.35">Z</text><linearGradient id="cbA" x1="0" y1="1" x2="0" y2="0"><stop offset="0.000" stop-color="#4a46be"/><stop offset="0.030" stop-color="#4646d7"/><stop offset="0.075" stop-color="#3030ff"/><stop offset="0.100" stop-color="#1482ff"/><stop offset="0.123" stop-color="#00e1ff"/><stop offset="0.150" stop-color="#00e6a0"/><stop offset="0.196" stop-color="#00b900"/><stop offset="0.225" stop-color="#78dc00"/><stop offset="0.258" stop-color="#ffff00"/><stop offset="0.319" stop-color="#ff8000"/><stop offset="0.365" stop-color="#e40a00"/><stop offset="0.396" stop-color="#c40028"/><stop offset="0.425" stop-color="#e632aa"/><stop offset="0.460" stop-color="#ff96eb"/><stop offset="0.500" stop-color="#ffffff"/><stop offset="0.555" stop-color="#ffffff"/><stop offset="1.000" stop-color="#000000"/></linearGradient><rect x="30" y="102" width="11" height="164" fill="#fff"/><rect x="31" y="103" width="9" height="162" fill="url(#cbA)"/><linearGradient id="cbB" x1="0" y1="1" x2="0" y2="0"><stop offset="0.000" stop-color="#4a46be"/><stop offset="0.030" stop-color="#4646d7"/><stop offset="0.075" stop-color="#3030ff"/><stop offset="0.100" stop-color="#1482ff"/><stop offset="0.123" stop-color="#00e1ff"/><stop offset="0.150" stop-color="#00e6a0"/><stop offset="0.196" stop-color="#00b900"/><stop offset="0.225" stop-color="#78dc00"/><stop offset="0.258" stop-color="#ffff00"/><stop offset="0.319" stop-color="#ff8000"/><stop offset="0.365" stop-color="#e40a00"/><stop offset="0.396" stop-color="#c40028"/><stop offset="0.425" stop-color="#e632aa"/><stop offset="0.460" stop-color="#ff96eb"/><stop offset="0.500" stop-color="#ffffff"/><stop offset="0.555" stop-color="#ffffff"/><stop offset="1.000" stop-color="#000000"/></linearGradient><rect x="30" y="366" width="11" height="164" fill="#fff"/><rect x="31" y="367" width="9" height="162" fill="url(#cbB)"/><text x="47.4" y="107.6" font-size="14" text-anchor="start" fill="#dcdcdc"  stroke="#dcdcdc" stroke-width="0.25">60</text><text x="47.2" y="148.4" font-size="14" text-anchor="start" fill="#dcdcdc"  stroke="#dcdcdc" stroke-width="0.25">45</text><text x="47.3" y="189.2" font-size="14" text-anchor="start" fill="#dcdcdc"  stroke="#dcdcdc" stroke-width="0.25">30</text><text x="47" y="230" font-size="14" text-anchor="start" fill="#dcdcdc"  stroke="#dcdcdc" stroke-width="0.25">15</text><text x="49.1" y="270.4" font-size="14" text-anchor="start" fill="#dcdcdc"  stroke="#dcdcdc" stroke-width="0.25">0</text><text x="43.7" y="372" font-size="14" text-anchor="start" fill="#dcdcdc"  stroke="#dcdcdc" stroke-width="0.25">1600</text><text x="43.7" y="412.6" font-size="14" text-anchor="start" fill="#dcdcdc"  stroke="#dcdcdc" stroke-width="0.25">1250</text><text x="46.1" y="453.2" font-size="14" text-anchor="start" fill="#dcdcdc"  stroke="#dcdcdc" stroke-width="0.25">900</text><text x="46.1" y="493.8" font-size="14" text-anchor="start" fill="#dcdcdc"  stroke="#dcdcdc" stroke-width="0.25">550</text><text x="46.1" y="534.4" font-size="14" text-anchor="start" fill="#dcdcdc"  stroke="#dcdcdc" stroke-width="0.25">200</text><text transform="translate(22.6 266.5) rotate(-90)" font-size="14.2" fill="#dcdcdc">Plasma Density (r<tspan dy="-6.5" font-size="9">2</tspan><tspan dy="6.5" font-size="14.2">N/cm</tspan><tspan dy="-6.5" font-size="9">3</tspan><tspan dy="6.5" font-size="14.2">)</tspan></text><text transform="translate(22.6 530.5) rotate(-90)" font-size="14.2" fill="#dcdcdc">Radial Velocity (km/s)</text><rect x="42" y="326" width="9" height="1" fill="#aaa"/><text x="736.5" y="83.3" font-size="14" text-anchor="middle" fill="#dcdcdc">Plasma Density (/cm<tspan dy="-6.5" font-size="9">3</tspan><tspan dy="6.5" font-size="14">)</tspan></text><text x="735" y="346.6" font-size="14" text-anchor="middle" fill="#dcdcdc"  stroke="#dcdcdc" stroke-width="0.25">Radial Velocity (km/s)</text><rect x="532.5" y="91.2" width="408.0" height="89.99999999999999" fill="none" stroke="#fff" stroke-width="1.1"/><path d="M532.5 166.2h5.5M940.5 166.2h-5.5M532.5 151.2h5.5M940.5 151.2h-5.5M532.5 136.2h5.5M940.5 136.2h-5.5M532.5 121.19999999999999h5.5M940.5 121.19999999999999h-5.5M532.5 106.19999999999999h5.5M940.5 106.19999999999999h-5.5M540.5 181.2v-5.5M598.67 181.2v-5.5M656.84 181.2v-5.5M715.01 181.2v-5.5M773.1800000000001 181.2v-5.5M831.35 181.2v-5.5M889.52 181.2v-5.5" stroke="#fff" stroke-width="1.1" fill="none"/><text x="523" y="111.6" font-size="14" text-anchor="end" fill="#dcdcdc"  stroke="#dcdcdc" stroke-width="0.25">25</text><text x="523" y="141.6" font-size="14" text-anchor="end" fill="#dcdcdc"  stroke="#dcdcdc" stroke-width="0.25">15</text><text x="523" y="171.6" font-size="14" text-anchor="end" fill="#dcdcdc"  stroke="#dcdcdc" stroke-width="0.25">5</text><text x="543.5" y="108.1" font-size="14" text-anchor="start" fill="#dcdcdc"  stroke="#dcdcdc" stroke-width="0.25">EARTH</text><path d="M532.6 163.3 533.6 163.3 534.6 163.3 535.6 163.3 536.6 163.4 537.6 163.4 538.6 163.4 539.6 163.4 540.6 163.4 541.6 163.4 542.6 163.5 543.6 163.5 544.6 163.5 545.6 163.5 546.6 163.6 547.6 163.6 548.6 163.6 549.6 163.6 550.6 163.7 551.6 163.7 551.9 163.7 552.6 163.7 553.6 163.7 554.6 163.8 555.6 163.8 556.6 163.8 557.6 163.9 558.6 163.9 559.6 163.9 560.6 164.0 561.6 164.0 562.6 164.1 563.6 164.1 564.6 164.1 565.6 164.2 566.6 164.2 567.6 164.3 568.6 164.3 569.6 164.4 570.6 164.4 571.6 164.5 572.6 164.5 573.6 164.6 573.8 164.6 574.6 164.7 575.6 164.7 576.6 164.8 577.6 164.9 578.6 165.0 579.6 165.1 580.6 165.2 581.6 165.4 582.6 165.5 583.6 165.6 584.6 165.7 585.6 165.8 586.6 165.9 587.6 166.0 588.6 166.0 589.6 166.1 590.6 166.1 591.3 166.1 591.6 166.1 592.6 166.1 593.6 166.1 594.6 166.1 595.6 166.1 596.6 166.1 597.6 166.1 598.6 166.1 599.6 166.1 600.6 166.1 601.6 166.1 602.6 166.1 603.6 166.1 604.6 166.1 605.6 166.1 606.6 166.1 607.6 166.1 608.6 166.1 609.6 166.1 610.6 166.1 611.6 166.1 612.6 166.1 613.6 166.1 614.6 166.1 615.6 166.1 616.6 166.1 617.6 166.1 618.6 166.1 619.6 166.1 620.6 166.1 621.6 166.1 622.6 166.1 623.0 166.1 623.6 165.8 624.6 164.1 625.2 162.4 625.6 159.0 626.6 145.5 626.7 144.9 627.6 141.5 628.6 139.5 628.9 139.4 629.6 139.6 630.6 140.5 631.6 141.5 631.7 141.6 632.6 142.5 633.6 143.6 634.6 144.8 635.6 145.9 636.6 146.8 637.2 147.2 637.6 147.4 638.6 147.9 639.6 148.3 640.0 148.3 640.6 148.3 641.6 148.3 642.6 148.3 643.6 148.2 644.5 148.2 644.6 148.2 645.6 146.7 646.6 144.0 647.0 143.0 647.6 141.6 648.6 139.0 649.6 136.3 649.7 136.0 650.6 133.3 651.6 130.0 652.0 128.7 652.6 126.4 653.6 122.9 653.7 122.7 654.6 121.4 655.6 120.6 656.0 120.5 656.6 120.7 657.6 121.4 658.0 121.7 658.6 122.3 659.6 123.5 660.6 125.0 661.3 126.0 661.6 126.4 662.6 127.9 663.6 129.5 664.6 131.1 665.3 132.3 665.6 132.8 666.6 134.7 667.6 136.6 668.6 138.6 669.6 140.5 670.0 141.3 670.6 142.4 671.6 144.2 672.6 146.0 673.6 147.8 674.4 149.3 674.6 149.7 675.6 151.6 676.6 153.7 677.6 155.7 678.6 157.8 679.6 159.9 680.6 161.9 681.6 163.9 682.6 165.9 683.1 166.8 683.6 167.7 684.6 169.7 685.6 171.8 686.6 173.7 687.6 175.4 688.6 176.7 689.3 177.3 689.6 177.5 690.6 178.2 691.6 178.7 692.6 179.0 693.0 179.0 693.6 179.0 694.6 179.0 695.6 178.9 696.6 178.9 697.6 178.8 698.6 178.7 699.6 178.6 700.6 178.5 701.6 178.4 702.6 178.3 703.6 178.2 704.6 178.1 705.0 178.1 705.6 178.1 706.6 178.0 707.6 177.9 708.6 177.9 709.6 177.8 710.6 177.7 711.6 177.7 712.6 177.6 713.6 177.5 714.6 177.5 715.6 177.4 716.6 177.4 717.6 177.3 718.6 177.2 719.6 177.2 720.6 177.1 721.6 177.0 722.6 176.9 723.6 176.9 724.6 176.8 725.6 176.7 726.6 176.6 726.9 176.6 727.6 176.5 728.6 176.4 729.6 176.3 730.6 176.2 731.6 176.1 732.6 176.0 733.6 175.9 734.6 175.8 735.6 175.7 736.6 175.5 737.6 175.4 738.6 175.3 739.6 175.2 740.0 175.1 740.6 175.0 741.6 174.9 742.6 174.7 743.6 174.6 744.6 174.4 745.6 174.2 746.6 174.1 747.6 173.9 748.6 173.7 749.6 173.6 750.6 173.4 751.6 173.2 752.6 173.0 753.6 172.8 754.6 172.6 755.6 172.4 756.6 172.3 756.9 172.2 757.6 172.1 758.6 171.9 759.6 171.7 760.6 171.5 761.6 171.4 762.6 171.2 763.6 171.0 764.6 170.9 765.6 170.7 766.6 170.5 767.6 170.3 768.6 170.1 769.6 169.8 770.6 169.6 771.6 169.3 772.6 169.1 773.6 168.8 774.4 168.5 774.6 168.4 775.6 168.0 776.6 167.6 777.6 167.0 778.6 166.4 779.6 165.7 780.6 165.1 781.6 164.4 782.0 164.1 782.6 163.7 783.6 162.9 784.6 162.1 785.6 161.3 786.6 160.4 787.6 159.5 788.6 158.6 789.6 157.7 789.7 157.6 790.6 156.8 791.6 156.0 792.6 155.2 793.6 154.4 794.6 153.6 795.6 152.6 796.6 151.6 797.6 150.4 798.4 149.3 798.6 149.0 799.6 146.9 800.6 144.2 801.6 141.4 802.6 138.8 802.8 138.3 803.6 136.4 804.6 134.1 805.6 131.9 806.6 130.2 807.2 129.6 807.6 129.3 808.6 128.6 809.6 128.3 809.8 128.3 810.6 128.5 811.6 129.1 812.6 130.0 813.6 130.9 813.8 131.1 814.6 131.9 815.6 133.2 816.6 134.6 817.6 136.2 818.6 137.8 819.6 139.5 820.6 141.1 821.6 142.6 822.5 143.8 822.6 143.9 823.6 145.2 824.6 146.4 825.6 147.5 826.6 148.7 827.6 149.8 828.6 150.8 829.6 151.9 830.6 152.9 831.3 153.6 831.6 153.9 832.6 155.1 833.6 156.1 834.5 156.5 834.6 156.5 835.6 156.4 836.6 156.2 837.6 155.9 837.8 155.8 838.6 155.0 839.6 153.2 840.6 151.1 841.6 149.6 842.2 149.3 842.6 149.4 843.6 149.8 844.6 150.7 845.6 151.7 846.6 152.5 847.6 153.3 848.6 154.2 849.6 155.1 850.6 155.9 851.6 156.3 852.0 156.3 852.6 156.3 853.6 156.2 854.6 156.1 855.6 155.9 856.6 155.7 857.5 155.4 857.6 155.4 858.6 154.2 859.6 152.0 860.6 149.3 861.6 146.7 861.9 146.0 862.6 144.2 863.6 141.4 864.6 139.0 865.2 138.3 865.6 138.0 866.6 137.5 867.6 137.2 868.0 137.2 868.6 137.3 869.6 138.0 870.6 138.9 871.1 139.4 871.6 140.0 872.6 141.8 873.6 143.9 874.6 146.3 875.6 148.4 876.1 149.3 876.6 150.1 877.6 151.8 878.6 153.4 879.6 154.9 880.6 156.4 881.6 157.7 882.6 158.9 883.6 160.0 883.8 160.2 884.6 160.9 885.6 161.8 886.6 162.5 887.6 163.2 888.6 163.9 889.6 164.5 890.6 165.2 891.6 165.8 892.5 166.3 892.6 166.4 893.6 167.0 894.6 167.7 895.6 168.5 896.6 169.2 897.6 169.7 898.6 170.2 899.6 170.5 900.2 170.5 900.6 170.5 901.6 170.5 902.6 170.5 903.6 170.5 904.6 170.5 905.6 170.5 906.6 170.5 907.6 170.5 908.6 170.5 909.6 170.5 910.6 170.5 911.6 170.5 912.6 170.5 913.6 170.5 914.6 170.5 915.6 170.5 916.6 170.5 917.6 170.5 918.6 170.5 919.6 170.5 920.6 170.5 921.6 170.5 922.6 170.5 923.6 170.5 924.6 170.5 925.6 170.5 926.6 170.5 927.5 170.5 927.6 170.5 928.6 170.4 929.6 170.1 930.6 169.7 931.6 169.5 931.9 169.4 932.6 169.3 933.6 169.1 934.6 169.0 935.6 168.9 936.6 168.7 937.6 168.6 938.6 168.6 939.6 168.5 940.2 168.5" stroke="#a4f0a4" stroke-width="1.15" fill="none" stroke-linejoin="round"/><rect x="532.5" y="193.5" width="408.0" height="90.0" fill="none" stroke="#fff" stroke-width="1.1"/><path d="M532.5 268.5h5.5M940.5 268.5h-5.5M532.5 253.5h5.5M940.5 253.5h-5.5M532.5 238.5h5.5M940.5 238.5h-5.5M532.5 223.5h5.5M940.5 223.5h-5.5M532.5 208.5h5.5M940.5 208.5h-5.5M540.5 283.5v-5.5M598.67 283.5v-5.5M656.84 283.5v-5.5M715.01 283.5v-5.5M773.1800000000001 283.5v-5.5M831.35 283.5v-5.5M889.52 283.5v-5.5" stroke="#fff" stroke-width="1.1" fill="none"/><text x="523" y="213.9" font-size="14" text-anchor="end" fill="#dcdcdc"  stroke="#dcdcdc" stroke-width="0.25">25</text><text x="523" y="243.9" font-size="14" text-anchor="end" fill="#dcdcdc"  stroke="#dcdcdc" stroke-width="0.25">15</text><text x="523" y="273.9" font-size="14" text-anchor="end" fill="#dcdcdc"  stroke="#dcdcdc" stroke-width="0.25">5</text><text x="543.5" y="210.4" font-size="14" text-anchor="start" fill="#dcdcdc"  stroke="#dcdcdc" stroke-width="0.25">STEREO A</text><text x="540.0" y="299.5" font-size="14" text-anchor="middle" fill="#dcdcdc"  stroke="#dcdcdc" stroke-width="0.25">04</text><text x="598.17" y="299.5" font-size="14" text-anchor="middle" fill="#dcdcdc"  stroke="#dcdcdc" stroke-width="0.25">05</text><text x="656.34" y="299.5" font-size="14" text-anchor="middle" fill="#dcdcdc"  stroke="#dcdcdc" stroke-width="0.25">06</text><text x="714.51" y="299.5" font-size="14" text-anchor="middle" fill="#dcdcdc"  stroke="#dcdcdc" stroke-width="0.25">07</text><text x="772.6800000000001" y="299.5" font-size="14" text-anchor="middle" fill="#dcdcdc"  stroke="#dcdcdc" stroke-width="0.25">08</text><text x="830.85" y="299.5" font-size="14" text-anchor="middle" fill="#dcdcdc"  stroke="#dcdcdc" stroke-width="0.25">09</text><text x="889.02" y="299.5" font-size="14" text-anchor="middle" fill="#dcdcdc"  stroke="#dcdcdc" stroke-width="0.25">10</text><path d="M532.6 266.1 533.6 266.4 534.6 266.7 535.6 267.0 536.6 267.2 537.6 267.5 538.6 267.7 539.6 268.0 540.6 268.2 540.9 268.3 541.6 268.5 542.6 268.7 543.6 268.9 544.6 269.1 545.6 269.3 546.6 269.6 547.6 269.8 548.6 269.9 549.6 270.1 550.6 270.3 551.6 270.5 551.9 270.5 552.6 270.6 553.6 270.7 554.6 270.9 555.6 271.0 556.6 271.2 557.6 271.3 558.6 271.4 559.6 271.5 560.6 271.7 561.6 271.8 562.6 271.9 563.6 272.0 564.6 272.1 565.6 272.2 566.6 272.3 567.6 272.4 568.6 272.4 569.4 272.5 569.6 272.5 570.6 272.6 571.6 272.7 572.6 272.8 573.6 272.8 574.6 272.9 575.6 273.0 576.6 273.1 577.6 273.1 578.6 273.2 579.6 273.3 580.6 273.3 581.6 273.3 582.6 273.4 583.6 273.4 584.6 273.4 584.7 273.4 585.6 273.4 586.6 273.4 587.6 273.4 588.6 273.4 589.6 273.4 590.6 273.4 591.6 273.4 592.6 273.4 593.6 273.4 594.6 273.4 595.6 273.4 596.6 273.4 597.6 273.4 598.6 273.4 599.6 273.4 600.6 273.4 601.6 273.4 602.6 273.4 603.6 273.4 604.6 273.4 605.6 273.4 606.6 273.4 607.6 273.4 608.6 273.4 609.6 273.4 610.6 273.4 611.6 273.4 612.6 273.4 613.6 273.4 614.6 273.4 615.6 273.4 616.6 273.4 617.6 273.4 618.6 273.4 619.6 273.4 620.6 273.4 621.6 273.4 622.6 273.4 623.6 273.4 624.6 273.4 625.6 273.4 626.6 273.4 627.6 273.4 628.6 273.4 629.6 273.4 630.6 273.4 631.6 273.4 632.6 273.4 633.6 273.4 634.6 273.4 635.6 273.4 636.6 273.4 637.6 273.4 638.6 273.4 639.6 273.4 640.6 273.4 641.6 273.4 642.6 273.4 643.6 273.4 644.6 273.4 645.6 273.4 646.6 273.4 647.6 273.4 648.6 273.4 649.6 273.4 650.6 273.4 651.6 273.4 652.6 273.4 653.6 273.4 654.6 273.4 655.6 273.4 656.6 273.4 657.6 273.4 658.6 273.4 659.1 273.4 659.6 273.4 660.6 273.4 661.6 273.3 662.6 273.3 663.6 273.2 664.6 273.1 665.6 273.0 666.6 272.9 667.6 272.8 668.6 272.7 669.6 272.6 670.6 272.5 671.6 272.3 672.6 272.2 673.6 272.1 674.4 272.0 674.6 272.0 675.6 271.9 676.6 271.7 677.6 271.6 678.6 271.4 679.6 271.3 680.6 271.1 681.6 270.9 682.6 270.8 683.6 270.6 684.6 270.4 685.6 270.2 686.6 270.1 687.6 269.9 688.6 269.7 689.6 269.6 690.6 269.4 691.6 269.2 691.9 269.2 692.6 269.1 693.6 268.9 694.6 268.8 695.6 268.6 696.6 268.5 697.6 268.3 698.6 268.2 699.6 268.1 700.6 267.9 701.6 267.8 702.6 267.6 703.6 267.5 704.6 267.3 705.6 267.2 706.6 267.1 707.6 266.9 708.6 266.8 709.6 266.7 710.6 266.5 711.6 266.4 712.6 266.3 713.6 266.2 714.6 266.1 715.6 266.0 716.6 265.9 717.6 265.8 718.6 265.7 719.6 265.6 720.6 265.5 721.6 265.4 722.6 265.3 723.6 265.2 724.6 265.1 725.6 265.0 726.6 264.9 727.6 264.8 728.6 264.7 729.6 264.6 730.6 264.4 731.6 264.2 732.6 264.1 733.5 263.9 733.6 263.9 734.6 263.6 735.6 263.3 736.6 262.9 737.6 262.5 738.6 262.0 739.6 261.5 740.5 261.1 740.6 261.0 741.6 260.4 742.6 259.6 743.6 258.9 744.6 258.5 744.8 258.5 745.6 258.5 746.6 258.6 747.6 258.8 748.6 259.0 749.2 259.1 749.6 259.2 750.6 259.5 751.6 259.9 752.6 260.3 753.6 260.6 754.6 260.7 754.7 260.7 755.6 260.5 756.6 260.0 757.6 259.2 758.0 258.9 758.6 258.2 759.6 256.5 760.6 254.6 761.3 253.4 761.6 252.9 762.6 251.3 763.6 249.9 764.5 249.1 764.6 249.1 765.6 248.6 766.6 248.3 767.4 248.2 767.6 248.2 768.6 248.5 769.6 249.1 770.6 249.8 771.1 250.2 771.6 250.7 772.6 252.0 773.6 253.7 774.6 255.4 775.5 256.7 775.6 256.8 776.6 258.1 777.6 259.4 778.6 260.3 778.8 260.4 779.6 260.8 780.6 261.3 781.6 261.7 782.6 262.0 783.6 262.2 784.2 262.2 784.6 262.2 785.6 262.2 786.6 262.2 787.6 262.2 788.6 262.2 789.6 262.2 790.6 262.2 791.6 262.2 792.6 262.2 793.0 262.2 793.6 262.2 794.6 262.4 795.6 262.7 796.6 263.0 797.6 263.5 798.6 263.9 799.6 264.4 800.6 264.9 801.6 265.3 802.6 265.6 802.8 265.7 803.6 265.9 804.6 266.2 805.6 266.5 806.6 266.8 807.6 267.1 808.6 267.4 809.6 267.7 810.6 267.9 811.6 268.2 812.6 268.4 813.6 268.6 814.6 268.7 815.6 268.9 816.6 268.9 817.6 269.0 818.1 269.0 818.6 269.0 819.6 268.9 820.6 268.7 821.6 268.5 822.6 268.3 823.6 268.2 824.6 268.1 824.7 268.1 825.6 268.2 826.6 268.5 827.6 268.9 828.6 269.4 829.6 269.8 830.6 270.2 831.3 270.3 831.6 270.3 832.6 270.5 833.6 270.6 834.6 270.7 835.6 270.8 836.6 270.9 837.6 271.0 838.6 271.1 839.6 271.2 840.6 271.2 841.6 271.3 842.6 271.3 843.6 271.4 844.6 271.4 845.5 271.4 845.6 271.4 846.6 271.3 847.6 271.1 848.6 270.8 849.6 270.5 850.6 270.1 851.6 269.8 852.6 269.5 853.1 269.4 853.6 269.3 854.6 269.1 855.6 269.0 856.6 268.8 857.6 268.6 858.6 268.5 859.6 268.3 860.6 268.2 861.6 268.1 862.6 267.9 863.6 267.8 864.6 267.7 865.6 267.6 866.6 267.5 867.6 267.3 868.6 267.2 869.6 267.1 870.6 267.0 871.6 266.9 872.6 266.8 873.6 266.7 874.6 266.6 875.6 266.5 876.6 266.4 877.6 266.3 878.6 266.2 879.6 266.1 880.6 266.0 881.6 265.9 882.6 265.9 883.6 265.8 884.6 265.7 885.6 265.6 886.6 265.5 887.6 265.4 888.1 265.3 888.6 265.2 889.6 265.1 890.6 265.0 891.6 264.8 892.6 264.6 893.6 264.5 894.6 264.3 895.6 264.1 896.6 263.9 897.6 263.8 898.6 263.7 899.6 263.5 900.6 263.4 901.6 263.4 902.6 263.3 903.4 263.3 903.6 263.3 904.6 263.3 905.6 263.3 906.6 263.3 907.6 263.3 908.6 263.3 909.6 263.3 910.6 263.3 911.6 263.3 912.6 263.3 913.6 263.3 914.6 263.3 915.6 263.3 916.6 263.3 917.6 263.3 918.6 263.3 919.6 263.3 920.6 263.3 921.6 263.3 922.6 263.3 923.6 263.3 924.6 263.3 925.6 263.3 926.6 263.3 927.5 263.3 927.6 263.3 928.6 263.9 929.6 264.4 929.7 264.4 930.6 264.4 931.6 264.3 932.6 264.2 933.6 264.0 934.6 263.8 935.2 263.7 935.6 263.6 936.6 263.4 937.6 263.1 938.6 262.8 939.6 262.4 940.2 262.2" stroke="#f08484" stroke-width="1.15" fill="none" stroke-linejoin="round"/><rect x="532.5" y="354.5" width="408.0" height="90.0" fill="none" stroke="#fff" stroke-width="1.1"/><path d="M532.5 429.5h5.5M940.5 429.5h-5.5M532.5 414.5h5.5M940.5 414.5h-5.5M532.5 399.5h5.5M940.5 399.5h-5.5M532.5 384.5h5.5M940.5 384.5h-5.5M532.5 369.5h5.5M940.5 369.5h-5.5M540.5 444.5v-5.5M598.67 444.5v-5.5M656.84 444.5v-5.5M715.01 444.5v-5.5M773.1800000000001 444.5v-5.5M831.35 444.5v-5.5M889.52 444.5v-5.5" stroke="#fff" stroke-width="1.1" fill="none"/><text x="523" y="374.9" font-size="14" text-anchor="end" fill="#dcdcdc"  stroke="#dcdcdc" stroke-width="0.25">450</text><text x="523" y="404.9" font-size="14" text-anchor="end" fill="#dcdcdc"  stroke="#dcdcdc" stroke-width="0.25">350</text><text x="523" y="434.9" font-size="14" text-anchor="end" fill="#dcdcdc"  stroke="#dcdcdc" stroke-width="0.25">250</text><text x="543.5" y="371.4" font-size="14" text-anchor="start" fill="#dcdcdc"  stroke="#dcdcdc" stroke-width="0.25">EARTH</text><path d="M532.5 396.8 533.5 396.5 534.5 396.3 535.5 396.1 536.5 395.9 537.5 395.7 538.5 395.5 539.5 395.3 540.5 395.1 541.5 394.9 542.5 394.7 543.5 394.5 544.5 394.3 545.5 394.1 546.5 393.9 547.5 393.7 548.5 393.5 549.5 393.3 550.0 393.2 550.5 393.2 551.5 392.9 552.5 392.7 553.5 392.5 554.5 392.2 555.5 392.0 556.5 391.7 557.5 391.5 558.5 391.2 559.5 391.0 560.5 390.8 561.5 390.6 562.5 390.3 563.5 390.2 564.5 390.0 565.5 389.8 566.5 389.7 567.5 389.6 568.5 389.5 569.5 389.5 570.0 389.5 570.5 389.5 571.5 389.5 572.5 389.5 573.5 389.5 574.5 389.5 575.5 389.5 576.5 389.5 577.5 389.5 578.5 389.5 579.5 389.5 580.5 389.5 581.5 389.5 582.5 389.5 583.5 389.5 584.5 389.5 585.5 389.5 586.5 389.5 587.5 389.5 588.5 389.5 589.5 389.6 590.5 389.6 591.5 389.7 592.5 389.8 593.5 389.9 594.5 390.0 595.5 390.2 596.5 390.4 597.5 390.5 598.5 390.7 599.5 390.9 600.5 391.1 601.5 391.3 602.5 391.5 603.5 391.7 604.5 391.9 605.5 392.1 606.5 392.3 607.5 392.5 608.5 392.7 609.5 392.9 610.5 393.2 611.5 393.5 612.5 393.8 613.5 394.1 614.5 394.5 615.5 394.8 616.5 395.1 617.5 395.4 618.5 395.6 619.5 395.9 620.5 396.1 621.5 396.3 622.5 396.4 623.5 396.5 624.2 396.5 624.5 396.1 625.5 389.3 625.8 387.5 626.5 380.6 627.5 373.8 628.5 372.8 629.5 372.5 630.5 372.8 631.5 373.4 632.5 374.4 633.5 375.4 634.5 376.3 635.0 376.8 635.5 377.1 636.5 377.9 637.5 378.7 638.5 379.4 639.5 380.2 640.5 381.0 641.5 381.7 642.5 382.5 643.5 383.2 644.5 383.8 645.5 384.4 646.5 385.0 647.5 385.5 648.5 386.0 649.5 386.4 650.5 386.8 651.5 387.1 652.5 387.5 653.5 387.8 654.5 388.2 655.5 388.5 656.5 388.8 657.5 389.1 658.5 389.4 659.5 389.7 660.5 390.1 661.5 390.4 662.5 390.8 663.5 391.1 664.5 391.5 665.5 391.9 666.5 392.2 667.5 392.6 668.5 393.0 669.5 393.4 670.5 393.8 671.5 394.2 672.5 394.6 673.5 394.9 674.5 395.3 675.0 395.5 675.5 395.7 676.5 396.1 677.5 396.6 678.5 397.1 679.5 397.6 680.5 397.9 681.5 398.2 682.5 398.2 683.5 398.2 684.5 398.2 685.5 398.1 686.2 398.0 686.5 397.9 687.5 397.0 688.5 395.4 689.5 393.6 690.5 392.2 691.2 391.8 691.5 391.7 692.5 391.5 693.5 391.4 694.5 391.3 695.5 391.3 696.2 391.2 696.5 391.3 697.5 391.3 698.5 391.4 699.5 391.5 700.5 391.7 701.5 391.9 702.5 392.1 703.5 392.4 704.5 392.7 705.5 392.9 706.5 393.3 707.5 393.6 708.5 393.9 709.5 394.2 710.5 394.5 711.5 394.7 712.5 395.0 713.5 395.3 714.5 395.5 715.5 395.8 716.5 396.1 717.5 396.3 718.5 396.6 719.5 396.9 720.5 397.2 721.5 397.5 722.5 397.8 723.5 398.1 724.5 398.4 725.5 398.8 726.5 399.1 727.5 399.4 728.5 399.7 729.5 399.9 730.5 400.2 731.5 400.5 732.5 400.8 733.5 401.0 734.5 401.3 735.5 401.5 736.5 401.8 737.5 402.0 738.5 402.2 739.5 402.4 740.0 402.5 740.5 402.6 741.5 402.7 742.5 402.9 743.5 403.0 744.5 403.2 745.0 403.2 745.5 403.3 746.5 403.5 747.5 403.8 748.5 404.0 749.5 404.3 750.5 404.6 751.5 404.9 752.5 405.2 753.5 405.5 754.5 405.8 755.5 406.2 756.5 406.5 757.5 406.8 758.5 407.1 759.5 407.4 760.5 407.7 761.5 408.0 762.5 408.2 763.5 408.5 764.5 408.7 765.5 408.9 766.5 409.0 767.5 409.1 768.5 409.2 769.5 409.2 770.0 409.2 770.5 409.2 771.5 409.2 772.5 409.2 773.5 409.2 774.5 409.2 775.5 409.2 776.5 409.2 777.5 409.2 778.5 409.2 779.5 409.2 780.5 409.2 781.5 409.2 782.5 409.2 783.5 409.2 783.8 409.2 784.5 409.2 785.5 409.1 786.5 408.9 787.5 408.6 788.5 408.2 789.5 407.8 790.5 407.4 791.5 406.9 792.5 406.5 793.5 406.0 794.5 405.6 795.5 405.2 796.5 404.8 797.5 404.6 798.5 404.4 799.5 404.3 800.0 404.2 800.5 404.2 801.5 404.2 802.5 404.2 803.5 404.2 804.5 404.2 805.5 404.2 806.5 404.2 807.5 404.2 808.5 404.3 809.5 404.3 810.5 404.5 811.5 404.6 812.5 404.8 813.5 405.0 814.5 405.2 815.5 405.5 816.5 405.8 817.5 406.0 818.5 406.3 819.5 406.6 820.5 407.0 821.5 407.3 822.5 407.6 823.5 407.8 824.5 408.1 825.0 408.2 825.5 408.4 826.5 408.7 827.5 409.0 828.5 409.4 829.5 409.8 830.5 410.2 831.5 410.5 832.5 410.9 833.5 411.1 834.5 411.3 835.5 411.5 836.2 411.5 836.5 411.5 837.5 410.9 838.5 409.8 838.8 409.5 839.5 408.0 840.5 405.4 841.2 404.5 841.5 404.5 842.5 404.4 843.5 404.3 844.5 404.3 845.5 404.3 846.2 404.2 846.5 404.3 847.5 404.5 848.5 404.9 849.5 405.2 850.0 405.2 850.5 405.2 851.5 405.2 852.5 405.2 853.5 405.2 854.5 405.1 855.5 405.1 856.2 405.0 856.5 405.0 857.5 404.5 858.5 403.6 859.5 402.5 860.5 401.5 861.5 400.5 862.5 400.0 863.5 399.7 864.5 399.5 865.5 399.3 866.2 399.2 866.5 399.2 867.5 399.2 868.5 399.2 869.5 399.2 870.5 399.2 871.2 399.2 871.5 399.3 872.5 399.3 873.5 399.4 874.5 399.6 875.5 399.9 876.5 400.2 877.5 400.5 878.5 400.8 879.5 401.2 880.5 401.6 881.5 401.9 882.5 402.3 883.5 402.6 884.5 402.9 885.0 403.0 885.5 403.1 886.5 403.4 887.5 403.6 888.5 403.9 889.5 404.2 890.5 404.4 891.5 404.7 892.5 404.9 893.5 405.2 894.5 405.4 895.5 405.6 896.5 405.8 897.5 405.9 898.5 406.1 899.5 406.2 900.0 406.2 900.5 406.3 901.5 406.4 902.5 406.4 903.5 406.5 904.5 406.6 905.5 406.6 906.5 406.7 907.5 406.7 908.5 406.7 909.5 406.8 910.5 406.8 911.5 406.9 912.5 406.9 913.5 406.9 914.5 407.0 915.5 407.0 916.5 407.1 917.5 407.1 918.5 407.2 919.5 407.2 920.0 407.2 920.5 407.3 921.5 407.3 922.5 407.4 923.5 407.5 924.5 407.5 925.5 407.6 926.5 407.7 927.5 407.8 928.5 407.8 929.5 407.9 930.5 408.0 931.5 408.1 932.5 408.2 933.5 408.3 934.5 408.4 935.0 408.5 935.5 408.6 936.5 408.7 937.5 408.9 938.5 409.1 939.5 409.3 940.5 409.5" stroke="#a4f0a4" stroke-width="1.15" fill="none" stroke-linejoin="round"/><rect x="532.5" y="456.5" width="408.0" height="90.0" fill="none" stroke="#fff" stroke-width="1.1"/><path d="M532.5 531.5h5.5M940.5 531.5h-5.5M532.5 516.5h5.5M940.5 516.5h-5.5M532.5 501.5h5.5M940.5 501.5h-5.5M532.5 486.5h5.5M940.5 486.5h-5.5M532.5 471.5h5.5M940.5 471.5h-5.5M540.5 546.5v-5.5M598.67 546.5v-5.5M656.84 546.5v-5.5M715.01 546.5v-5.5M773.1800000000001 546.5v-5.5M831.35 546.5v-5.5M889.52 546.5v-5.5" stroke="#fff" stroke-width="1.1" fill="none"/><text x="523" y="476.9" font-size="14" text-anchor="end" fill="#dcdcdc"  stroke="#dcdcdc" stroke-width="0.25">450</text><text x="523" y="506.9" font-size="14" text-anchor="end" fill="#dcdcdc"  stroke="#dcdcdc" stroke-width="0.25">350</text><text x="523" y="536.9" font-size="14" text-anchor="end" fill="#dcdcdc"  stroke="#dcdcdc" stroke-width="0.25">250</text><text x="543.5" y="473.4" font-size="14" text-anchor="start" fill="#dcdcdc"  stroke="#dcdcdc" stroke-width="0.25">STEREO A</text><text x="540.0" y="563.2" font-size="14" text-anchor="middle" fill="#dcdcdc"  stroke="#dcdcdc" stroke-width="0.25">04</text><text x="598.17" y="563.2" font-size="14" text-anchor="middle" fill="#dcdcdc"  stroke="#dcdcdc" stroke-width="0.25">05</text><text x="656.34" y="563.2" font-size="14" text-anchor="middle" fill="#dcdcdc"  stroke="#dcdcdc" stroke-width="0.25">06</text><text x="714.51" y="563.2" font-size="14" text-anchor="middle" fill="#dcdcdc"  stroke="#dcdcdc" stroke-width="0.25">07</text><text x="772.6800000000001" y="563.2" font-size="14" text-anchor="middle" fill="#dcdcdc"  stroke="#dcdcdc" stroke-width="0.25">08</text><text x="830.85" y="563.2" font-size="14" text-anchor="middle" fill="#dcdcdc"  stroke="#dcdcdc" stroke-width="0.25">09</text><text x="889.02" y="563.2" font-size="14" text-anchor="middle" fill="#dcdcdc"  stroke="#dcdcdc" stroke-width="0.25">10</text><path d="M532.5 479.5 533.5 478.4 534.5 477.4 535.5 476.4 536.5 475.4 537.5 474.5 538.5 473.6 539.5 472.7 540.5 471.9 541.5 471.1 542.5 470.3 543.5 469.6 544.5 469.0 545.0 468.8 545.5 468.5 546.5 468.0 547.5 467.6 548.5 467.1 549.5 466.7 550.5 466.4 551.5 466.0 552.5 465.8 553.5 465.5 553.8 465.5 554.5 465.4 555.5 465.2 556.5 465.0 557.5 464.9 558.5 464.7 559.5 464.6 560.5 464.5 561.5 464.3 562.5 464.2 563.5 464.2 564.5 464.1 565.5 464.0 566.5 464.0 567.5 464.0 568.5 464.0 569.5 464.0 570.5 464.0 571.5 464.1 572.5 464.1 573.5 464.1 574.5 464.2 575.5 464.2 576.5 464.2 577.5 464.3 578.5 464.4 579.5 464.4 580.5 464.5 581.5 464.6 582.5 464.6 583.5 464.7 584.5 464.8 585.5 464.8 586.5 464.9 587.5 465.0 588.5 465.1 589.5 465.2 590.5 465.3 591.5 465.4 592.5 465.6 593.5 465.8 594.5 465.9 595.5 466.1 596.5 466.3 597.5 466.5 598.5 466.7 599.5 466.9 600.5 467.2 601.5 467.4 602.5 467.6 603.5 467.8 604.5 468.1 605.5 468.3 606.5 468.5 607.5 468.8 608.5 469.0 609.5 469.2 610.5 469.5 611.5 469.7 612.5 470.0 613.5 470.2 614.5 470.5 615.5 470.8 616.5 471.0 617.5 471.3 618.5 471.6 619.5 471.9 620.5 472.2 621.5 472.5 622.5 472.8 623.5 473.1 624.5 473.4 625.5 473.7 626.5 474.0 627.5 474.3 628.5 474.6 629.5 474.9 630.0 475.0 630.5 475.1 631.5 475.4 632.5 475.7 633.5 476.0 634.5 476.3 635.5 476.6 636.5 476.9 637.5 477.2 638.5 477.5 639.5 477.8 640.5 478.1 641.5 478.4 642.5 478.7 643.5 479.0 644.5 479.3 645.5 479.6 646.5 479.9 647.5 480.2 648.5 480.5 649.5 480.8 650.5 481.1 651.5 481.4 652.5 481.7 653.5 482.0 654.5 482.3 655.0 482.5 655.5 482.7 656.5 483.0 657.5 483.3 658.5 483.6 659.5 483.9 660.5 484.2 661.5 484.5 662.5 484.8 663.5 485.1 664.5 485.4 665.5 485.7 666.5 486.0 667.5 486.3 668.5 486.6 669.5 486.9 670.5 487.2 671.5 487.5 672.5 487.8 673.5 488.1 674.5 488.4 675.5 488.7 676.5 489.0 677.5 489.3 678.5 489.6 679.5 489.9 680.0 490.0 680.5 490.1 681.5 490.4 682.5 490.8 683.5 491.1 684.5 491.4 685.5 491.7 686.5 492.0 687.5 492.3 688.5 492.7 689.5 493.0 690.5 493.3 691.5 493.6 692.5 493.9 693.5 494.2 694.5 494.5 695.5 494.7 696.5 495.0 697.5 495.2 698.5 495.4 699.5 495.7 700.0 495.8 700.5 495.8 701.5 496.0 702.5 496.2 703.5 496.4 704.5 496.5 705.5 496.7 706.5 496.9 707.5 497.0 708.5 497.2 709.5 497.3 710.5 497.4 711.5 497.6 712.5 497.7 713.5 497.8 714.5 497.9 715.5 498.0 716.5 498.2 717.5 498.2 718.5 498.3 719.5 498.4 720.5 498.5 721.5 498.6 722.5 498.7 723.5 498.8 724.5 498.9 725.5 499.0 726.5 499.1 727.5 499.1 728.5 499.2 729.5 499.2 730.5 499.2 731.2 499.2 731.5 499.2 732.5 499.1 733.5 498.8 734.5 498.3 735.5 497.9 736.2 497.5 736.5 497.4 737.5 496.7 738.5 495.9 739.5 495.0 740.5 494.0 741.5 493.1 742.5 492.4 743.5 491.8 743.8 491.8 744.5 491.5 745.5 491.3 746.5 491.0 747.5 490.8 748.5 490.7 749.5 490.5 750.5 490.4 751.5 490.2 752.5 490.1 753.5 489.9 754.5 489.6 755.0 489.5 755.5 489.3 756.5 488.9 757.5 488.5 758.5 487.9 759.5 487.3 760.5 486.7 761.5 486.1 762.5 485.6 763.5 485.1 764.5 484.8 765.5 484.6 766.2 484.5 766.5 484.5 767.5 484.5 768.5 484.5 769.5 484.5 770.5 484.5 771.5 484.5 772.5 484.5 773.5 484.5 774.5 484.5 775.5 484.5 776.5 484.5 777.5 484.5 778.5 484.5 779.5 484.5 780.0 484.5 780.5 484.5 781.5 484.5 782.5 484.6 783.5 484.7 784.5 484.8 785.5 485.0 786.5 485.1 787.5 485.3 788.5 485.4 789.5 485.6 790.5 485.7 791.5 485.9 792.5 486.0 793.5 486.1 794.5 486.2 795.0 486.2 795.5 486.3 796.5 486.3 797.5 486.4 798.5 486.4 799.5 486.4 800.5 486.5 801.5 486.5 802.5 486.5 803.5 486.6 804.5 486.6 805.5 486.6 806.5 486.7 807.5 486.8 808.5 486.9 809.5 487.0 810.5 487.2 811.5 487.5 812.5 487.8 813.5 488.0 814.5 488.3 815.5 488.5 816.5 488.7 817.5 488.7 818.0 488.8 818.5 488.7 819.5 488.1 820.5 487.3 821.5 486.2 822.5 485.3 823.5 484.5 824.5 484.2 825.5 484.4 826.5 484.8 827.5 485.4 828.5 486.1 829.5 486.7 830.0 487.0 830.5 487.3 831.5 487.8 832.5 488.4 833.5 488.9 834.5 489.5 835.5 490.1 836.5 490.6 837.5 491.2 838.5 491.7 839.5 492.2 840.0 492.5 840.5 492.7 841.5 493.2 842.5 493.7 843.5 494.2 844.5 494.7 845.5 495.2 846.5 495.6 847.5 496.0 848.5 496.4 849.5 496.8 850.0 497.0 850.5 497.2 851.5 497.5 852.5 497.8 853.5 498.2 854.5 498.5 855.5 498.8 856.5 499.0 857.5 499.3 858.5 499.6 859.5 499.8 860.5 500.1 861.5 500.3 862.5 500.5 863.5 500.7 864.5 500.9 865.5 501.1 866.5 501.3 867.5 501.4 868.5 501.6 869.5 501.7 870.5 501.9 871.5 502.0 872.5 502.2 873.5 502.3 874.5 502.4 875.0 502.5 875.5 502.6 876.5 502.7 877.5 502.8 878.5 502.9 879.5 503.0 880.5 503.1 881.5 503.2 882.5 503.4 883.5 503.5 884.5 503.6 885.5 503.7 886.5 503.8 887.5 503.8 888.5 503.9 889.5 504.0 890.5 504.1 891.5 504.2 892.5 504.3 893.5 504.4 894.5 504.5 895.0 504.5 895.5 504.5 896.5 504.6 897.5 504.7 898.5 504.8 899.5 504.8 900.5 504.9 901.5 505.0 902.5 505.0 903.5 505.1 904.5 505.1 905.5 505.2 906.5 505.3 907.5 505.3 908.5 505.4 909.5 505.4 910.5 505.5 911.5 505.6 912.5 505.6 913.5 505.7 914.5 505.8 915.5 505.9 916.5 505.9 917.5 506.0 918.5 506.1 919.5 506.2 920.0 506.2 920.5 506.3 921.5 506.4 922.5 506.5 923.5 506.6 924.5 506.8 925.5 506.9 926.5 507.0 927.5 507.2 928.5 507.3 929.5 507.5 930.5 507.7 931.5 507.8 932.5 508.0 933.5 508.2 934.5 508.4 935.5 508.5 936.5 508.7 937.5 508.9 938.5 509.1 939.5 509.3 940.5 509.5" stroke="#f08484" stroke-width="1.15" fill="none" stroke-linejoin="round"/><rect x="784" y="89.8" width="2.2" height="92.2" fill="#fff23c"/><rect x="783" y="159.3" width="4" height="4" fill="#e8dc40"/><rect x="784" y="191.8" width="2.2" height="92.19999999999999" fill="#fff23c"/><rect x="783" y="260.2" width="4" height="4" fill="#e8dc40"/><rect x="784" y="354.5" width="2.2" height="91.0" fill="#fff23c"/><rect x="783" y="407.2" width="4" height="4" fill="#e8dc40"/><rect x="784" y="456.5" width="2.2" height="91.0" fill="#fff23c"/><rect x="783" y="483" width="4" height="4" fill="#e8dc40"/><text x="3.3" y="595.8" font-size="14.2" text-anchor="start" fill="#dcdcdc"  stroke="#dcdcdc" stroke-width="0.25">Space Weather Prediction Center</text><text x="379.3" y="595.8" font-size="14.2" text-anchor="start" fill="#dcdcdc"  stroke="#dcdcdc" stroke-width="0.25">Run Time: 2026-02-05 21:00Z&#160;&#160;Mode: CME</text><text x="956" y="595.8" font-size="14.2" text-anchor="end" fill="#dcdcdc"  stroke="#dcdcdc" stroke-width="0.25">Image Created: 2026-02-05 22:31Z</text></g>
</svg>
</body></html>
